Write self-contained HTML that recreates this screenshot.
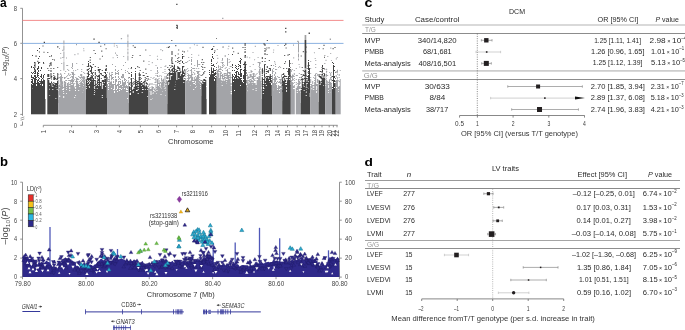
<!DOCTYPE html>
<html><head><meta charset="utf-8"><style>
html,body{margin:0;padding:0;background:#fff;}
body{width:685px;height:330px;overflow:hidden;}
svg{display:block;font-family:"Liberation Sans",sans-serif;will-change:transform;}
</style></head><body>
<svg width="685" height="330" viewBox="0 0 685 330">
<text x="0.0" y="6.7" font-size="12" fill="#000" font-weight="bold">a</text>
<text x="-0.1" y="165.9" font-size="12" fill="#000" font-weight="bold" textLength="8.0" lengthAdjust="spacingAndGlyphs">b</text>
<text x="364.6" y="6.8" font-size="12.6" fill="#000" font-weight="bold" textLength="8.0" lengthAdjust="spacingAndGlyphs">c</text>
<text x="364.5" y="166.0" font-size="11.4" fill="#000" font-weight="bold" textLength="8.4" lengthAdjust="spacingAndGlyphs">d</text>
<line x1="22.50" y1="8.30" x2="22.50" y2="115.80" stroke="#777" stroke-width="0.8"/>
<line x1="20.30" y1="8.30" x2="22.50" y2="8.30" stroke="#777" stroke-width="0.8"/>
<text x="13.7" y="10.6" font-size="6.5" fill="#444" textLength="3.3" lengthAdjust="spacingAndGlyphs">8</text>
<line x1="20.30" y1="43.30" x2="22.50" y2="43.30" stroke="#777" stroke-width="0.8"/>
<text x="13.7" y="45.6" font-size="6.5" fill="#444" textLength="3.3" lengthAdjust="spacingAndGlyphs">6</text>
<line x1="20.30" y1="78.60" x2="22.50" y2="78.60" stroke="#777" stroke-width="0.8"/>
<text x="13.7" y="80.9" font-size="6.5" fill="#444" textLength="3.3" lengthAdjust="spacingAndGlyphs">4</text>
<line x1="20.30" y1="114.40" x2="22.50" y2="114.40" stroke="#777" stroke-width="0.8"/>
<text x="13.7" y="116.7" font-size="6.5" fill="#444" textLength="3.3" lengthAdjust="spacingAndGlyphs">2</text>
<line x1="22.50" y1="121.50" x2="22.50" y2="125.30" stroke="#777" stroke-width="0.8"/>
<line x1="20.30" y1="125.30" x2="22.50" y2="125.30" stroke="#777" stroke-width="0.8"/>
<text x="13.7" y="127.6" font-size="6.5" fill="#444" textLength="3.3" lengthAdjust="spacingAndGlyphs">0</text>
<path d="M20.6 118.2 L24.3 116.9 M20.6 120.2 L24.3 118.9" stroke="#777" stroke-width="0.7" fill="none"/>
<text transform="translate(7.0 75.5) rotate(-90)" font-size="7.6" fill="#3a3a3a" textLength="29" lengthAdjust="spacingAndGlyphs">–log<tspan font-size="5.6" dy="1.8">10</tspan><tspan dy="-1.8">(</tspan><tspan font-style="italic">P</tspan>)</text>
<line x1="22.50" y1="20.40" x2="343.50" y2="20.40" stroke="#f08080" stroke-width="0.9"/>
<line x1="22.50" y1="43.40" x2="343.50" y2="43.40" stroke="#7fa8dc" stroke-width="0.9"/>
<line x1="43.30" y1="125.30" x2="337.70" y2="125.30" stroke="#777" stroke-width="0.8"/>
<line x1="43.30" y1="125.30" x2="43.30" y2="127.30" stroke="#777" stroke-width="0.8"/>
<text transform="translate(45.7 133.3) rotate(-90)" font-size="6.6" fill="#444" textLength="3.3" lengthAdjust="spacingAndGlyphs">1</text>
<line x1="71.60" y1="125.30" x2="71.60" y2="127.30" stroke="#777" stroke-width="0.8"/>
<text transform="translate(74.0 133.3) rotate(-90)" font-size="6.6" fill="#444" textLength="3.3" lengthAdjust="spacingAndGlyphs">2</text>
<line x1="96.40" y1="125.30" x2="96.40" y2="127.30" stroke="#777" stroke-width="0.8"/>
<text transform="translate(98.8 133.3) rotate(-90)" font-size="6.6" fill="#444" textLength="3.3" lengthAdjust="spacingAndGlyphs">3</text>
<line x1="119.40" y1="125.30" x2="119.40" y2="127.30" stroke="#777" stroke-width="0.8"/>
<text transform="translate(121.8 133.3) rotate(-90)" font-size="6.6" fill="#444" textLength="3.3" lengthAdjust="spacingAndGlyphs">4</text>
<line x1="140.40" y1="125.30" x2="140.40" y2="127.30" stroke="#777" stroke-width="0.8"/>
<text transform="translate(142.8 133.3) rotate(-90)" font-size="6.6" fill="#444" textLength="3.3" lengthAdjust="spacingAndGlyphs">5</text>
<line x1="158.50" y1="125.30" x2="158.50" y2="127.30" stroke="#777" stroke-width="0.8"/>
<text transform="translate(160.9 133.3) rotate(-90)" font-size="6.6" fill="#444" textLength="3.3" lengthAdjust="spacingAndGlyphs">6</text>
<line x1="176.60" y1="125.30" x2="176.60" y2="127.30" stroke="#777" stroke-width="0.8"/>
<text transform="translate(179.0 133.3) rotate(-90)" font-size="6.6" fill="#444" textLength="3.3" lengthAdjust="spacingAndGlyphs">7</text>
<line x1="192.40" y1="125.30" x2="192.40" y2="127.30" stroke="#777" stroke-width="0.8"/>
<text transform="translate(194.8 133.3) rotate(-90)" font-size="6.6" fill="#444" textLength="3.3" lengthAdjust="spacingAndGlyphs">8</text>
<line x1="211.60" y1="125.30" x2="211.60" y2="127.30" stroke="#777" stroke-width="0.8"/>
<text transform="translate(214.0 133.3) rotate(-90)" font-size="6.6" fill="#444" textLength="3.3" lengthAdjust="spacingAndGlyphs">9</text>
<line x1="225.50" y1="125.30" x2="225.50" y2="127.30" stroke="#777" stroke-width="0.8"/>
<text transform="translate(227.9 136.5) rotate(-90)" font-size="6.6" fill="#444" textLength="6.5" lengthAdjust="spacingAndGlyphs">10</text>
<line x1="238.50" y1="125.30" x2="238.50" y2="127.30" stroke="#777" stroke-width="0.8"/>
<text transform="translate(240.9 136.5) rotate(-90)" font-size="6.6" fill="#444" textLength="6.5" lengthAdjust="spacingAndGlyphs">11</text>
<line x1="254.50" y1="125.30" x2="254.50" y2="127.30" stroke="#777" stroke-width="0.8"/>
<text transform="translate(256.9 136.5) rotate(-90)" font-size="6.6" fill="#444" textLength="6.5" lengthAdjust="spacingAndGlyphs">12</text>
<line x1="267.60" y1="125.30" x2="267.60" y2="127.30" stroke="#777" stroke-width="0.8"/>
<text transform="translate(270.0 136.5) rotate(-90)" font-size="6.6" fill="#444" textLength="6.5" lengthAdjust="spacingAndGlyphs">13</text>
<line x1="277.60" y1="125.30" x2="277.60" y2="127.30" stroke="#777" stroke-width="0.8"/>
<text transform="translate(280.0 136.5) rotate(-90)" font-size="6.6" fill="#444" textLength="6.5" lengthAdjust="spacingAndGlyphs">14</text>
<line x1="287.50" y1="125.30" x2="287.50" y2="127.30" stroke="#777" stroke-width="0.8"/>
<text transform="translate(289.9 136.5) rotate(-90)" font-size="6.6" fill="#444" textLength="6.5" lengthAdjust="spacingAndGlyphs">15</text>
<line x1="297.20" y1="125.30" x2="297.20" y2="127.30" stroke="#777" stroke-width="0.8"/>
<text transform="translate(299.6 136.5) rotate(-90)" font-size="6.6" fill="#444" textLength="6.5" lengthAdjust="spacingAndGlyphs">16</text>
<line x1="305.60" y1="125.30" x2="305.60" y2="127.30" stroke="#777" stroke-width="0.8"/>
<text transform="translate(308.0 136.5) rotate(-90)" font-size="6.6" fill="#444" textLength="6.5" lengthAdjust="spacingAndGlyphs">17</text>
<line x1="314.30" y1="125.30" x2="314.30" y2="127.30" stroke="#777" stroke-width="0.8"/>
<text transform="translate(316.7 136.5) rotate(-90)" font-size="6.6" fill="#444" textLength="6.5" lengthAdjust="spacingAndGlyphs">18</text>
<line x1="322.00" y1="125.30" x2="322.00" y2="127.30" stroke="#777" stroke-width="0.8"/>
<text transform="translate(324.4 136.5) rotate(-90)" font-size="6.6" fill="#444" textLength="6.5" lengthAdjust="spacingAndGlyphs">19</text>
<line x1="329.20" y1="125.30" x2="329.20" y2="127.30" stroke="#777" stroke-width="0.8"/>
<text transform="translate(331.6 136.5) rotate(-90)" font-size="6.6" fill="#444" textLength="6.5" lengthAdjust="spacingAndGlyphs">20</text>
<line x1="333.40" y1="125.30" x2="333.40" y2="127.30" stroke="#777" stroke-width="0.8"/>
<text transform="translate(335.8 136.5) rotate(-90)" font-size="6.6" fill="#444" textLength="6.5" lengthAdjust="spacingAndGlyphs">21</text>
<line x1="337.00" y1="125.30" x2="337.00" y2="127.30" stroke="#777" stroke-width="0.8"/>
<text transform="translate(339.4 136.5) rotate(-90)" font-size="6.6" fill="#444" textLength="6.5" lengthAdjust="spacingAndGlyphs">22</text>
<text x="167.9" y="144.4" font-size="8.0" fill="#333" textLength="45.6" lengthAdjust="spacingAndGlyphs">Chromosome</text>
<rect x="31.00" y="99.00" width="14.50" height="15.30" fill="#434343"/>
<rect x="47.30" y="103.00" width="10.90" height="11.30" fill="#434343"/>
<rect x="58.20" y="100.00" width="27.60" height="14.30" fill="#a3a4a8"/>
<rect x="85.80" y="98.00" width="21.20" height="16.30" fill="#434343"/>
<rect x="107.00" y="103.00" width="21.70" height="11.30" fill="#a3a4a8"/>
<rect x="128.70" y="104.00" width="19.80" height="10.30" fill="#434343"/>
<rect x="148.50" y="104.00" width="18.80" height="10.30" fill="#a3a4a8"/>
<rect x="167.30" y="91.00" width="17.90" height="23.30" fill="#434343"/>
<rect x="185.20" y="96.00" width="16.10" height="18.30" fill="#a3a4a8"/>
<rect x="201.30" y="99.00" width="5.30" height="15.30" fill="#434343"/>
<rect x="209.00" y="93.00" width="7.70" height="21.30" fill="#434343"/>
<rect x="216.70" y="95.00" width="15.30" height="19.30" fill="#a3a4a8"/>
<rect x="232.00" y="93.00" width="14.60" height="21.30" fill="#434343"/>
<rect x="246.60" y="99.00" width="15.20" height="15.30" fill="#a3a4a8"/>
<rect x="261.80" y="96.00" width="10.30" height="18.30" fill="#434343"/>
<rect x="272.10" y="101.00" width="10.10" height="13.30" fill="#a3a4a8"/>
<rect x="282.20" y="97.00" width="8.60" height="17.30" fill="#434343"/>
<rect x="290.80" y="103.00" width="4.00" height="11.30" fill="#a3a4a8"/>
<rect x="295.80" y="103.00" width="4.90" height="11.30" fill="#a3a4a8"/>
<rect x="300.70" y="97.00" width="9.50" height="17.30" fill="#434343"/>
<rect x="310.20" y="102.00" width="8.40" height="12.30" fill="#a3a4a8"/>
<rect x="318.60" y="95.00" width="6.60" height="19.30" fill="#434343"/>
<rect x="325.20" y="102.00" width="6.80" height="12.30" fill="#a3a4a8"/>
<rect x="332.00" y="98.00" width="3.70" height="16.30" fill="#434343"/>
<rect x="335.70" y="102.00" width="5.00" height="12.30" fill="#a3a4a8"/>
<path fill="#434343" d="M31.0 98.0h1.0v1.0h-1.0zM31.0 97.0h1.0v1.0h-1.0zM31.0 96.0h1.0v1.0h-1.0zM31.0 95.0h1.0v1.0h-1.0zM31.0 94.0h1.0v1.0h-1.0zM31.0 93.0h1.0v1.0h-1.0zM31.0 92.0h1.0v1.0h-1.0zM31.0 91.0h1.0v1.0h-1.0zM31.0 90.0h1.0v1.0h-1.0zM31.0 89.0h1.0v1.0h-1.0zM31.0 88.0h1.0v1.0h-1.0zM31.0 87.0h1.0v1.0h-1.0zM31.0 86.0h1.0v1.0h-1.0zM31.0 85.0h1.0v1.0h-1.0zM31.0 84.0h1.0v1.0h-1.0zM31.0 82.0h1.0v1.0h-1.0zM31.0 81.0h1.0v1.0h-1.0zM31.0 79.0h1.0v1.0h-1.0zM31.0 77.0h1.0v1.0h-1.0zM31.0 76.0h1.0v1.0h-1.0zM31.0 75.0h1.0v1.0h-1.0zM31.0 72.0h1.0v1.0h-1.0zM31.0 67.0h1.0v1.0h-1.0zM31.0 66.0h1.0v1.0h-1.0zM32.0 98.0h1.0v1.0h-1.0zM32.0 97.0h1.0v1.0h-1.0zM32.0 96.0h1.0v1.0h-1.0zM32.0 95.0h1.0v1.0h-1.0zM32.0 94.0h1.0v1.0h-1.0zM32.0 93.0h1.0v1.0h-1.0zM32.0 92.0h1.0v1.0h-1.0zM32.0 91.0h1.0v1.0h-1.0zM32.0 90.0h1.0v1.0h-1.0zM32.0 89.0h1.0v1.0h-1.0zM32.0 86.0h1.0v1.0h-1.0zM32.0 85.0h1.0v1.0h-1.0zM32.0 83.0h1.0v1.0h-1.0zM32.0 82.0h1.0v1.0h-1.0zM32.0 81.0h1.0v1.0h-1.0zM32.0 80.0h1.0v1.0h-1.0zM32.0 79.0h1.0v1.0h-1.0zM32.0 77.0h1.0v1.0h-1.0zM32.0 73.0h1.0v1.0h-1.0zM32.0 55.0h1.0v1.0h-1.0zM33.0 98.0h1.0v1.0h-1.0zM33.0 97.0h1.0v1.0h-1.0zM33.0 96.0h1.0v1.0h-1.0zM33.0 95.0h1.0v1.0h-1.0zM33.0 94.0h1.0v1.0h-1.0zM33.0 93.0h1.0v1.0h-1.0zM33.0 92.0h1.0v1.0h-1.0zM33.0 91.0h1.0v1.0h-1.0zM33.0 90.0h1.0v1.0h-1.0zM33.0 89.0h1.0v1.0h-1.0zM33.0 88.0h1.0v1.0h-1.0zM33.0 87.0h1.0v1.0h-1.0zM33.0 86.0h1.0v1.0h-1.0zM33.0 85.0h1.0v1.0h-1.0zM33.0 84.0h1.0v1.0h-1.0zM33.0 83.0h1.0v1.0h-1.0zM33.0 78.0h1.0v1.0h-1.0zM33.0 77.0h1.0v1.0h-1.0zM33.0 72.0h1.0v1.0h-1.0zM33.0 67.0h1.0v1.0h-1.0zM34.0 98.0h1.0v1.0h-1.0zM34.0 97.0h1.0v1.0h-1.0zM34.0 96.0h1.0v1.0h-1.0zM34.0 95.0h1.0v1.0h-1.0zM34.0 94.0h1.0v1.0h-1.0zM34.0 93.0h1.0v1.0h-1.0zM34.0 92.0h1.0v1.0h-1.0zM34.0 91.0h1.0v1.0h-1.0zM34.0 90.0h1.0v1.0h-1.0zM34.0 89.0h1.0v1.0h-1.0zM34.0 88.0h1.0v1.0h-1.0zM34.0 87.0h1.0v1.0h-1.0zM34.0 86.0h1.0v1.0h-1.0zM34.0 85.0h1.0v1.0h-1.0zM34.0 84.0h1.0v1.0h-1.0zM34.0 80.0h1.0v1.0h-1.0zM34.0 79.0h1.0v1.0h-1.0zM35.0 98.0h1.0v1.0h-1.0zM35.0 97.0h1.0v1.0h-1.0zM35.0 96.0h1.0v1.0h-1.0zM35.0 95.0h1.0v1.0h-1.0zM35.0 94.0h1.0v1.0h-1.0zM35.0 93.0h1.0v1.0h-1.0zM35.0 92.0h1.0v1.0h-1.0zM35.0 91.0h1.0v1.0h-1.0zM35.0 90.0h1.0v1.0h-1.0zM35.0 89.0h1.0v1.0h-1.0zM35.0 88.0h1.0v1.0h-1.0zM35.0 87.0h1.0v1.0h-1.0zM35.0 86.0h1.0v1.0h-1.0zM35.0 85.0h1.0v1.0h-1.0zM35.0 84.0h1.0v1.0h-1.0zM35.0 83.0h1.0v1.0h-1.0zM35.0 82.0h1.0v1.0h-1.0zM35.0 81.0h1.0v1.0h-1.0zM35.0 80.0h1.0v1.0h-1.0zM35.0 79.0h1.0v1.0h-1.0zM35.0 78.0h1.0v1.0h-1.0zM35.0 77.0h1.0v1.0h-1.0zM35.0 76.0h1.0v1.0h-1.0zM35.0 75.0h1.0v1.0h-1.0zM35.0 73.0h1.0v1.0h-1.0zM35.0 72.0h1.0v1.0h-1.0zM35.0 71.0h1.0v1.0h-1.0zM35.0 70.0h1.0v1.0h-1.0zM36.0 98.0h1.0v1.0h-1.0zM36.0 97.0h1.0v1.0h-1.0zM36.0 96.0h1.0v1.0h-1.0zM36.0 95.0h1.0v1.0h-1.0zM36.0 94.0h1.0v1.0h-1.0zM36.0 93.0h1.0v1.0h-1.0zM36.0 92.0h1.0v1.0h-1.0zM36.0 91.0h1.0v1.0h-1.0zM36.0 90.0h1.0v1.0h-1.0zM36.0 89.0h1.0v1.0h-1.0zM36.0 88.0h1.0v1.0h-1.0zM36.0 87.0h1.0v1.0h-1.0zM36.0 86.0h1.0v1.0h-1.0zM36.0 83.0h1.0v1.0h-1.0zM36.0 79.0h1.0v1.0h-1.0zM36.0 77.0h1.0v1.0h-1.0zM37.0 98.0h1.0v1.0h-1.0zM37.0 97.0h1.0v1.0h-1.0zM37.0 96.0h1.0v1.0h-1.0zM37.0 95.0h1.0v1.0h-1.0zM37.0 94.0h1.0v1.0h-1.0zM37.0 93.0h1.0v1.0h-1.0zM37.0 92.0h1.0v1.0h-1.0zM37.0 91.0h1.0v1.0h-1.0zM37.0 90.0h1.0v1.0h-1.0zM37.0 89.0h1.0v1.0h-1.0zM37.0 88.0h1.0v1.0h-1.0zM37.0 87.0h1.0v1.0h-1.0zM37.0 86.0h1.0v1.0h-1.0zM37.0 85.0h1.0v1.0h-1.0zM37.0 84.0h1.0v1.0h-1.0zM37.0 83.0h1.0v1.0h-1.0zM37.0 82.0h1.0v1.0h-1.0zM37.0 80.0h1.0v1.0h-1.0zM37.0 76.0h1.0v1.0h-1.0zM37.0 75.0h1.0v1.0h-1.0zM37.0 74.0h1.0v1.0h-1.0zM37.0 73.0h1.0v1.0h-1.0zM37.0 72.0h1.0v1.0h-1.0zM37.0 69.0h1.0v1.0h-1.0zM37.0 68.0h1.0v1.0h-1.0zM37.0 50.0h1.0v1.0h-1.0zM38.0 98.0h1.0v1.0h-1.0zM38.0 97.0h1.0v1.0h-1.0zM38.0 96.0h1.0v1.0h-1.0zM38.0 95.0h1.0v1.0h-1.0zM38.0 94.0h1.0v1.0h-1.0zM38.0 93.0h1.0v1.0h-1.0zM38.0 92.0h1.0v1.0h-1.0zM38.0 91.0h1.0v1.0h-1.0zM38.0 90.0h1.0v1.0h-1.0zM38.0 88.0h1.0v1.0h-1.0zM38.0 87.0h1.0v1.0h-1.0zM38.0 86.0h1.0v1.0h-1.0zM38.0 85.0h1.0v1.0h-1.0zM38.0 82.0h1.0v1.0h-1.0zM38.0 79.0h1.0v1.0h-1.0zM38.0 68.0h1.0v1.0h-1.0zM38.0 58.0h1.0v1.0h-1.0zM39.0 98.0h1.0v1.0h-1.0zM39.0 97.0h1.0v1.0h-1.0zM39.0 96.0h1.0v1.0h-1.0zM39.0 95.0h1.0v1.0h-1.0zM39.0 94.0h1.0v1.0h-1.0zM39.0 93.0h1.0v1.0h-1.0zM39.0 92.0h1.0v1.0h-1.0zM39.0 91.0h1.0v1.0h-1.0zM39.0 90.0h1.0v1.0h-1.0zM39.0 89.0h1.0v1.0h-1.0zM39.0 88.0h1.0v1.0h-1.0zM39.0 87.0h1.0v1.0h-1.0zM39.0 86.0h1.0v1.0h-1.0zM39.0 85.0h1.0v1.0h-1.0zM39.0 84.0h1.0v1.0h-1.0zM39.0 83.0h1.0v1.0h-1.0zM39.0 81.0h1.0v1.0h-1.0zM39.0 78.0h1.0v1.0h-1.0zM39.0 56.0h1.0v1.0h-1.0zM39.0 48.0h1.0v1.0h-1.0zM40.0 98.0h1.0v1.0h-1.0zM40.0 97.0h1.0v1.0h-1.0zM40.0 96.0h1.0v1.0h-1.0zM40.0 95.0h1.0v1.0h-1.0zM40.0 94.0h1.0v1.0h-1.0zM40.0 93.0h1.0v1.0h-1.0zM40.0 92.0h1.0v1.0h-1.0zM40.0 91.0h1.0v1.0h-1.0zM40.0 90.0h1.0v1.0h-1.0zM40.0 89.0h1.0v1.0h-1.0zM40.0 88.0h1.0v1.0h-1.0zM40.0 87.0h1.0v1.0h-1.0zM40.0 86.0h1.0v1.0h-1.0zM40.0 85.0h1.0v1.0h-1.0zM40.0 81.0h1.0v1.0h-1.0zM40.0 76.0h1.0v1.0h-1.0zM40.0 70.0h1.0v1.0h-1.0zM41.0 98.0h1.0v1.0h-1.0zM41.0 97.0h1.0v1.0h-1.0zM41.0 96.0h1.0v1.0h-1.0zM41.0 95.0h1.0v1.0h-1.0zM41.0 94.0h1.0v1.0h-1.0zM41.0 93.0h1.0v1.0h-1.0zM41.0 92.0h1.0v1.0h-1.0zM41.0 91.0h1.0v1.0h-1.0zM41.0 90.0h1.0v1.0h-1.0zM41.0 89.0h1.0v1.0h-1.0zM41.0 88.0h1.0v1.0h-1.0zM41.0 87.0h1.0v1.0h-1.0zM41.0 86.0h1.0v1.0h-1.0zM41.0 85.0h1.0v1.0h-1.0zM41.0 84.0h1.0v1.0h-1.0zM41.0 83.0h1.0v1.0h-1.0zM41.0 82.0h1.0v1.0h-1.0zM41.0 81.0h1.0v1.0h-1.0zM41.0 80.0h1.0v1.0h-1.0zM41.0 79.0h1.0v1.0h-1.0zM41.0 77.0h1.0v1.0h-1.0zM41.0 76.0h1.0v1.0h-1.0zM41.0 75.0h1.0v1.0h-1.0zM41.0 74.0h1.0v1.0h-1.0zM41.0 68.0h1.0v1.0h-1.0zM41.0 67.0h1.0v1.0h-1.0zM42.0 98.0h1.0v1.0h-1.0zM42.0 97.0h1.0v1.0h-1.0zM42.0 96.0h1.0v1.0h-1.0zM42.0 95.0h1.0v1.0h-1.0zM42.0 94.0h1.0v1.0h-1.0zM42.0 93.0h1.0v1.0h-1.0zM42.0 92.0h1.0v1.0h-1.0zM42.0 91.0h1.0v1.0h-1.0zM42.0 90.0h1.0v1.0h-1.0zM42.0 89.0h1.0v1.0h-1.0zM42.0 88.0h1.0v1.0h-1.0zM42.0 87.0h1.0v1.0h-1.0zM42.0 86.0h1.0v1.0h-1.0zM42.0 83.0h1.0v1.0h-1.0zM42.0 82.0h1.0v1.0h-1.0zM42.0 81.0h1.0v1.0h-1.0zM42.0 78.0h1.0v1.0h-1.0zM43.0 98.0h1.0v1.0h-1.0zM43.0 97.0h1.0v1.0h-1.0zM43.0 96.0h1.0v1.0h-1.0zM43.0 95.0h1.0v1.0h-1.0zM43.0 94.0h1.0v1.0h-1.0zM43.0 93.0h1.0v1.0h-1.0zM43.0 92.0h1.0v1.0h-1.0zM43.0 91.0h1.0v1.0h-1.0zM43.0 90.0h1.0v1.0h-1.0zM43.0 89.0h1.0v1.0h-1.0zM43.0 88.0h1.0v1.0h-1.0zM43.0 87.0h1.0v1.0h-1.0zM43.0 86.0h1.0v1.0h-1.0zM43.0 84.0h1.0v1.0h-1.0zM43.0 83.0h1.0v1.0h-1.0zM43.0 81.0h1.0v1.0h-1.0zM43.0 80.0h1.0v1.0h-1.0zM43.0 77.0h1.0v1.0h-1.0zM43.0 76.0h1.0v1.0h-1.0zM43.0 75.0h1.0v1.0h-1.0zM43.0 62.0h1.0v1.0h-1.0zM44.0 98.0h1.0v1.0h-1.0zM44.0 97.0h1.0v1.0h-1.0zM44.0 96.0h1.0v1.0h-1.0zM44.0 95.0h1.0v1.0h-1.0zM44.0 94.0h1.0v1.0h-1.0zM44.0 93.0h1.0v1.0h-1.0zM44.0 92.0h1.0v1.0h-1.0zM44.0 91.0h1.0v1.0h-1.0zM44.0 90.0h1.0v1.0h-1.0zM44.0 89.0h1.0v1.0h-1.0zM44.0 87.0h1.0v1.0h-1.0zM44.0 86.0h1.0v1.0h-1.0zM44.0 85.0h1.0v1.0h-1.0zM44.0 84.0h1.0v1.0h-1.0zM44.0 82.0h1.0v1.0h-1.0zM44.0 81.0h1.0v1.0h-1.0zM44.0 80.0h1.0v1.0h-1.0zM44.0 74.0h1.0v1.0h-1.0zM44.0 83.0h1.0v1.0h-1.0zM44.0 84.0h1.0v1.0h-1.0zM44.0 85.0h1.0v1.0h-1.0zM44.0 86.0h1.0v1.0h-1.0zM44.0 87.0h1.0v1.0h-1.0zM44.0 88.0h1.0v1.0h-1.0zM44.0 89.0h1.0v1.0h-1.0zM44.0 90.0h1.0v1.0h-1.0zM44.0 92.0h1.0v1.0h-1.0zM44.0 93.0h1.0v1.0h-1.0zM44.0 94.0h1.0v1.0h-1.0zM40.0 82.2h1.0v1.0h-1.0zM40.0 83.2h1.0v1.0h-1.0zM40.0 85.2h1.0v1.0h-1.0zM40.0 86.2h1.0v1.0h-1.0zM40.0 87.2h1.0v1.0h-1.0zM40.0 88.2h1.0v1.0h-1.0zM40.0 89.2h1.0v1.0h-1.0zM40.0 90.2h1.0v1.0h-1.0zM40.0 91.2h1.0v1.0h-1.0zM40.0 92.2h1.0v1.0h-1.0zM37.0 81.0h1.0v1.0h-1.0zM37.0 83.0h1.0v1.0h-1.0zM37.0 84.0h1.0v1.0h-1.0zM37.0 85.0h1.0v1.0h-1.0zM37.0 86.0h1.0v1.0h-1.0zM37.0 89.0h1.0v1.0h-1.0zM37.0 90.0h1.0v1.0h-1.0zM37.0 92.0h1.0v1.0h-1.0zM37.0 93.0h1.0v1.0h-1.0zM43.0 80.0h1.0v1.0h-1.0zM43.0 82.0h1.0v1.0h-1.0zM43.0 83.0h1.0v1.0h-1.0zM43.0 84.0h1.0v1.0h-1.0zM43.0 85.0h1.0v1.0h-1.0zM43.0 86.0h1.0v1.0h-1.0zM43.0 88.0h1.0v1.0h-1.0zM43.0 89.0h1.0v1.0h-1.0zM43.0 90.0h1.0v1.0h-1.0zM43.0 91.0h1.0v1.0h-1.0zM43.0 92.0h1.0v1.0h-1.0zM43.0 93.0h1.0v1.0h-1.0zM38.0 62.0h1.0v1.0h-1.0zM38.0 63.0h1.0v1.0h-1.0zM38.0 66.0h1.0v1.0h-1.0zM38.0 67.0h1.0v1.0h-1.0zM38.0 70.0h1.0v1.0h-1.0zM38.0 71.0h1.0v1.0h-1.0zM38.0 73.0h1.0v1.0h-1.0zM38.0 75.0h1.0v1.0h-1.0zM38.0 77.0h1.0v1.0h-1.0zM38.0 79.0h1.0v1.0h-1.0zM38.0 80.0h1.0v1.0h-1.0zM38.0 83.0h1.0v1.0h-1.0zM38.0 84.0h1.0v1.0h-1.0zM38.0 85.0h1.0v1.0h-1.0zM38.0 86.0h1.0v1.0h-1.0zM38.0 87.0h1.0v1.0h-1.0zM38.0 88.0h1.0v1.0h-1.0zM38.0 89.0h1.0v1.0h-1.0zM38.0 92.0h1.0v1.0h-1.0zM38.0 93.0h1.0v1.0h-1.0zM41.0 84.7h1.0v1.0h-1.0zM41.0 85.7h1.0v1.0h-1.0zM41.0 86.7h1.0v1.0h-1.0zM41.0 87.7h1.0v1.0h-1.0zM41.0 88.7h1.0v1.0h-1.0zM41.0 89.7h1.0v1.0h-1.0zM41.0 90.7h1.0v1.0h-1.0zM41.0 91.7h1.0v1.0h-1.0zM41.0 93.7h1.0v1.0h-1.0zM37.0 83.8h1.0v1.0h-1.0zM37.0 84.8h1.0v1.0h-1.0zM37.0 85.8h1.0v1.0h-1.0zM37.0 88.8h1.0v1.0h-1.0zM37.0 89.8h1.0v1.0h-1.0zM37.0 90.8h1.0v1.0h-1.0zM37.0 91.8h1.0v1.0h-1.0zM37.0 92.8h1.0v1.0h-1.0zM37.0 93.8h1.0v1.0h-1.0zM32.0 78.7h1.0v1.0h-1.0zM32.0 79.7h1.0v1.0h-1.0zM32.0 80.7h1.0v1.0h-1.0zM32.0 81.7h1.0v1.0h-1.0zM32.0 84.7h1.0v1.0h-1.0zM32.0 85.7h1.0v1.0h-1.0zM32.0 86.7h1.0v1.0h-1.0zM32.0 87.7h1.0v1.0h-1.0zM32.0 89.7h1.0v1.0h-1.0zM34.0 62.0h1.0v1.0h-1.0zM34.0 65.0h1.0v1.0h-1.0zM34.0 68.0h1.0v1.0h-1.0zM34.0 69.0h1.0v1.0h-1.0zM34.0 71.0h1.0v1.0h-1.0zM34.0 73.0h1.0v1.0h-1.0zM34.0 75.0h1.0v1.0h-1.0zM34.0 76.0h1.0v1.0h-1.0zM34.0 78.0h1.0v1.0h-1.0zM34.0 79.0h1.0v1.0h-1.0zM34.0 80.0h1.0v1.0h-1.0zM34.0 81.0h1.0v1.0h-1.0zM34.0 82.0h1.0v1.0h-1.0zM34.0 83.0h1.0v1.0h-1.0zM34.0 84.0h1.0v1.0h-1.0zM34.0 88.0h1.0v1.0h-1.0zM34.0 90.0h1.0v1.0h-1.0zM34.0 91.0h1.0v1.0h-1.0zM34.0 92.0h1.0v1.0h-1.0zM34.0 93.0h1.0v1.0h-1.0zM43.0 76.7h1.0v1.0h-1.0zM43.0 78.7h1.0v1.0h-1.0zM43.0 80.7h1.0v1.0h-1.0zM43.0 81.7h1.0v1.0h-1.0zM43.0 83.7h1.0v1.0h-1.0zM43.0 85.7h1.0v1.0h-1.0zM43.0 86.7h1.0v1.0h-1.0zM43.0 88.7h1.0v1.0h-1.0zM43.0 89.7h1.0v1.0h-1.0zM43.0 91.7h1.0v1.0h-1.0zM43.0 93.7h1.0v1.0h-1.0zM47.3 102.0h1.0v1.0h-1.0zM47.3 101.0h1.0v1.0h-1.0zM47.3 100.0h1.0v1.0h-1.0zM47.3 99.0h1.0v1.0h-1.0zM47.3 98.0h1.0v1.0h-1.0zM47.3 97.0h1.0v1.0h-1.0zM47.3 96.0h1.0v1.0h-1.0zM47.3 95.0h1.0v1.0h-1.0zM47.3 94.0h1.0v1.0h-1.0zM47.3 93.0h1.0v1.0h-1.0zM47.3 92.0h1.0v1.0h-1.0zM47.3 91.0h1.0v1.0h-1.0zM47.3 90.0h1.0v1.0h-1.0zM47.3 89.0h1.0v1.0h-1.0zM47.3 88.0h1.0v1.0h-1.0zM47.3 87.0h1.0v1.0h-1.0zM47.3 86.0h1.0v1.0h-1.0zM47.3 85.0h1.0v1.0h-1.0zM47.3 84.0h1.0v1.0h-1.0zM47.3 83.0h1.0v1.0h-1.0zM47.3 82.0h1.0v1.0h-1.0zM47.3 81.0h1.0v1.0h-1.0zM47.3 80.0h1.0v1.0h-1.0zM47.3 79.0h1.0v1.0h-1.0zM47.3 78.0h1.0v1.0h-1.0zM47.3 76.0h1.0v1.0h-1.0zM47.3 75.0h1.0v1.0h-1.0zM47.3 74.0h1.0v1.0h-1.0zM47.3 68.0h1.0v1.0h-1.0zM47.3 52.0h1.0v1.0h-1.0zM48.3 102.0h1.0v1.0h-1.0zM48.3 101.0h1.0v1.0h-1.0zM48.3 100.0h1.0v1.0h-1.0zM48.3 99.0h1.0v1.0h-1.0zM48.3 98.0h1.0v1.0h-1.0zM48.3 97.0h1.0v1.0h-1.0zM48.3 96.0h1.0v1.0h-1.0zM48.3 95.0h1.0v1.0h-1.0zM48.3 94.0h1.0v1.0h-1.0zM48.3 93.0h1.0v1.0h-1.0zM48.3 92.0h1.0v1.0h-1.0zM48.3 91.0h1.0v1.0h-1.0zM48.3 90.0h1.0v1.0h-1.0zM48.3 89.0h1.0v1.0h-1.0zM48.3 88.0h1.0v1.0h-1.0zM48.3 87.0h1.0v1.0h-1.0zM48.3 86.0h1.0v1.0h-1.0zM48.3 85.0h1.0v1.0h-1.0zM48.3 84.0h1.0v1.0h-1.0zM48.3 83.0h1.0v1.0h-1.0zM48.3 82.0h1.0v1.0h-1.0zM48.3 81.0h1.0v1.0h-1.0zM48.3 80.0h1.0v1.0h-1.0zM48.3 78.0h1.0v1.0h-1.0zM48.3 76.0h1.0v1.0h-1.0zM48.3 75.0h1.0v1.0h-1.0zM48.3 74.0h1.0v1.0h-1.0zM48.3 70.0h1.0v1.0h-1.0zM49.3 102.0h1.0v1.0h-1.0zM49.3 101.0h1.0v1.0h-1.0zM49.3 100.0h1.0v1.0h-1.0zM49.3 99.0h1.0v1.0h-1.0zM49.3 98.0h1.0v1.0h-1.0zM49.3 97.0h1.0v1.0h-1.0zM49.3 94.0h1.0v1.0h-1.0zM49.3 93.0h1.0v1.0h-1.0zM49.3 92.0h1.0v1.0h-1.0zM49.3 91.0h1.0v1.0h-1.0zM49.3 84.0h1.0v1.0h-1.0zM49.3 83.0h1.0v1.0h-1.0zM49.3 78.0h1.0v1.0h-1.0zM49.3 56.0h1.0v1.0h-1.0zM50.3 102.0h1.0v1.0h-1.0zM50.3 101.0h1.0v1.0h-1.0zM50.3 100.0h1.0v1.0h-1.0zM50.3 99.0h1.0v1.0h-1.0zM50.3 98.0h1.0v1.0h-1.0zM50.3 97.0h1.0v1.0h-1.0zM50.3 96.0h1.0v1.0h-1.0zM50.3 95.0h1.0v1.0h-1.0zM50.3 94.0h1.0v1.0h-1.0zM50.3 93.0h1.0v1.0h-1.0zM50.3 92.0h1.0v1.0h-1.0zM50.3 90.0h1.0v1.0h-1.0zM50.3 89.0h1.0v1.0h-1.0zM50.3 88.0h1.0v1.0h-1.0zM50.3 85.0h1.0v1.0h-1.0zM50.3 83.0h1.0v1.0h-1.0zM51.3 102.0h1.0v1.0h-1.0zM51.3 101.0h1.0v1.0h-1.0zM51.3 100.0h1.0v1.0h-1.0zM51.3 99.0h1.0v1.0h-1.0zM51.3 98.0h1.0v1.0h-1.0zM51.3 97.0h1.0v1.0h-1.0zM51.3 96.0h1.0v1.0h-1.0zM51.3 95.0h1.0v1.0h-1.0zM51.3 94.0h1.0v1.0h-1.0zM51.3 93.0h1.0v1.0h-1.0zM51.3 92.0h1.0v1.0h-1.0zM51.3 91.0h1.0v1.0h-1.0zM51.3 90.0h1.0v1.0h-1.0zM51.3 89.0h1.0v1.0h-1.0zM51.3 88.0h1.0v1.0h-1.0zM51.3 87.0h1.0v1.0h-1.0zM51.3 86.0h1.0v1.0h-1.0zM51.3 76.0h1.0v1.0h-1.0zM52.3 102.0h1.0v1.0h-1.0zM52.3 101.0h1.0v1.0h-1.0zM52.3 100.0h1.0v1.0h-1.0zM52.3 99.0h1.0v1.0h-1.0zM52.3 98.0h1.0v1.0h-1.0zM52.3 97.0h1.0v1.0h-1.0zM52.3 96.0h1.0v1.0h-1.0zM52.3 95.0h1.0v1.0h-1.0zM52.3 94.0h1.0v1.0h-1.0zM52.3 93.0h1.0v1.0h-1.0zM52.3 92.0h1.0v1.0h-1.0zM52.3 91.0h1.0v1.0h-1.0zM52.3 90.0h1.0v1.0h-1.0zM52.3 88.0h1.0v1.0h-1.0zM52.3 87.0h1.0v1.0h-1.0zM52.3 85.0h1.0v1.0h-1.0zM52.3 84.0h1.0v1.0h-1.0zM52.3 83.0h1.0v1.0h-1.0zM52.3 59.0h1.0v1.0h-1.0zM53.3 102.0h1.0v1.0h-1.0zM53.3 101.0h1.0v1.0h-1.0zM53.3 100.0h1.0v1.0h-1.0zM53.3 99.0h1.0v1.0h-1.0zM53.3 98.0h1.0v1.0h-1.0zM53.3 97.0h1.0v1.0h-1.0zM53.3 96.0h1.0v1.0h-1.0zM53.3 95.0h1.0v1.0h-1.0zM53.3 94.0h1.0v1.0h-1.0zM53.3 93.0h1.0v1.0h-1.0zM53.3 92.0h1.0v1.0h-1.0zM53.3 91.0h1.0v1.0h-1.0zM53.3 90.0h1.0v1.0h-1.0zM53.3 89.0h1.0v1.0h-1.0zM53.3 88.0h1.0v1.0h-1.0zM53.3 87.0h1.0v1.0h-1.0zM53.3 86.0h1.0v1.0h-1.0zM53.3 85.0h1.0v1.0h-1.0zM53.3 84.0h1.0v1.0h-1.0zM53.3 82.0h1.0v1.0h-1.0zM53.3 79.0h1.0v1.0h-1.0zM53.3 78.0h1.0v1.0h-1.0zM53.3 77.0h1.0v1.0h-1.0zM53.3 75.0h1.0v1.0h-1.0zM53.3 73.0h1.0v1.0h-1.0zM53.3 68.0h1.0v1.0h-1.0zM54.3 102.0h1.0v1.0h-1.0zM54.3 101.0h1.0v1.0h-1.0zM54.3 100.0h1.0v1.0h-1.0zM54.3 99.0h1.0v1.0h-1.0zM54.3 98.0h1.0v1.0h-1.0zM54.3 97.0h1.0v1.0h-1.0zM54.3 96.0h1.0v1.0h-1.0zM54.3 95.0h1.0v1.0h-1.0zM54.3 94.0h1.0v1.0h-1.0zM54.3 93.0h1.0v1.0h-1.0zM54.3 92.0h1.0v1.0h-1.0zM54.3 91.0h1.0v1.0h-1.0zM54.3 90.0h1.0v1.0h-1.0zM54.3 89.0h1.0v1.0h-1.0zM54.3 88.0h1.0v1.0h-1.0zM54.3 87.0h1.0v1.0h-1.0zM54.3 86.0h1.0v1.0h-1.0zM54.3 85.0h1.0v1.0h-1.0zM54.3 83.0h1.0v1.0h-1.0zM54.3 79.0h1.0v1.0h-1.0zM54.3 78.0h1.0v1.0h-1.0zM54.3 77.0h1.0v1.0h-1.0zM54.3 76.0h1.0v1.0h-1.0zM55.3 102.0h1.0v1.0h-1.0zM55.3 101.0h1.0v1.0h-1.0zM55.3 100.0h1.0v1.0h-1.0zM55.3 99.0h1.0v1.0h-1.0zM55.3 97.0h1.0v1.0h-1.0zM55.3 96.0h1.0v1.0h-1.0zM55.3 95.0h1.0v1.0h-1.0zM55.3 94.0h1.0v1.0h-1.0zM55.3 93.0h1.0v1.0h-1.0zM55.3 92.0h1.0v1.0h-1.0zM55.3 91.0h1.0v1.0h-1.0zM55.3 90.0h1.0v1.0h-1.0zM55.3 88.0h1.0v1.0h-1.0zM55.3 86.0h1.0v1.0h-1.0zM55.3 84.0h1.0v1.0h-1.0zM55.3 83.0h1.0v1.0h-1.0zM55.3 78.0h1.0v1.0h-1.0zM56.3 102.0h1.0v1.0h-1.0zM56.3 101.0h1.0v1.0h-1.0zM56.3 100.0h1.0v1.0h-1.0zM56.3 99.0h1.0v1.0h-1.0zM56.3 98.0h1.0v1.0h-1.0zM56.3 97.0h1.0v1.0h-1.0zM56.3 96.0h1.0v1.0h-1.0zM56.3 95.0h1.0v1.0h-1.0zM56.3 94.0h1.0v1.0h-1.0zM56.3 93.0h1.0v1.0h-1.0zM56.3 92.0h1.0v1.0h-1.0zM56.3 91.0h1.0v1.0h-1.0zM56.3 90.0h1.0v1.0h-1.0zM56.3 89.0h1.0v1.0h-1.0zM56.3 88.0h1.0v1.0h-1.0zM56.3 87.0h1.0v1.0h-1.0zM56.3 86.0h1.0v1.0h-1.0zM56.3 85.0h1.0v1.0h-1.0zM56.3 84.0h1.0v1.0h-1.0zM56.3 83.0h1.0v1.0h-1.0zM56.3 79.0h1.0v1.0h-1.0zM57.3 102.0h0.9v1.0h-0.9zM57.3 101.0h0.9v1.0h-0.9zM57.3 100.0h0.9v1.0h-0.9zM57.3 99.0h0.9v1.0h-0.9zM57.3 98.0h0.9v1.0h-0.9zM57.3 97.0h0.9v1.0h-0.9zM57.3 96.0h0.9v1.0h-0.9zM57.3 95.0h0.9v1.0h-0.9zM57.3 94.0h0.9v1.0h-0.9zM57.3 93.0h0.9v1.0h-0.9zM57.3 92.0h0.9v1.0h-0.9zM57.3 91.0h0.9v1.0h-0.9zM57.3 90.0h0.9v1.0h-0.9zM57.3 88.0h0.9v1.0h-0.9zM57.3 87.0h0.9v1.0h-0.9zM57.3 86.0h0.9v1.0h-0.9zM57.3 85.0h0.9v1.0h-0.9zM57.3 84.0h0.9v1.0h-0.9zM57.3 83.0h0.9v1.0h-0.9zM57.3 78.0h0.9v1.0h-0.9zM57.3 77.0h0.9v1.0h-0.9zM57.3 76.0h0.9v1.0h-0.9zM57.3 75.0h0.9v1.0h-0.9zM57.3 74.0h0.9v1.0h-0.9zM57.3 73.0h0.9v1.0h-0.9zM57.3 67.0h0.9v1.0h-0.9zM57.0 77.8h1.0v1.0h-1.0zM57.0 78.8h1.0v1.0h-1.0zM57.0 80.8h1.0v1.0h-1.0zM57.0 81.8h1.0v1.0h-1.0zM57.0 82.8h1.0v1.0h-1.0zM57.0 83.8h1.0v1.0h-1.0zM57.0 84.8h1.0v1.0h-1.0zM57.0 85.8h1.0v1.0h-1.0zM57.0 86.8h1.0v1.0h-1.0zM57.0 87.8h1.0v1.0h-1.0zM57.0 89.8h1.0v1.0h-1.0zM57.0 91.8h1.0v1.0h-1.0zM57.0 92.8h1.0v1.0h-1.0zM57.0 94.8h1.0v1.0h-1.0zM49.0 82.7h1.0v1.0h-1.0zM49.0 85.7h1.0v1.0h-1.0zM49.0 86.7h1.0v1.0h-1.0zM49.0 87.7h1.0v1.0h-1.0zM49.0 89.7h1.0v1.0h-1.0zM49.0 90.7h1.0v1.0h-1.0zM49.0 91.7h1.0v1.0h-1.0zM49.0 92.7h1.0v1.0h-1.0zM49.0 93.7h1.0v1.0h-1.0zM49.0 95.7h1.0v1.0h-1.0zM49.0 96.7h1.0v1.0h-1.0zM50.0 83.2h1.0v1.0h-1.0zM50.0 84.2h1.0v1.0h-1.0zM50.0 86.2h1.0v1.0h-1.0zM50.0 87.2h1.0v1.0h-1.0zM50.0 88.2h1.0v1.0h-1.0zM50.0 89.2h1.0v1.0h-1.0zM50.0 91.2h1.0v1.0h-1.0zM50.0 93.2h1.0v1.0h-1.0zM50.0 96.2h1.0v1.0h-1.0zM50.0 97.2h1.0v1.0h-1.0zM50.0 85.3h1.0v1.0h-1.0zM50.0 86.3h1.0v1.0h-1.0zM50.0 90.3h1.0v1.0h-1.0zM50.0 91.3h1.0v1.0h-1.0zM50.0 93.3h1.0v1.0h-1.0zM50.0 95.3h1.0v1.0h-1.0zM50.0 97.3h1.0v1.0h-1.0zM55.0 84.2h1.0v1.0h-1.0zM55.0 85.2h1.0v1.0h-1.0zM55.0 87.2h1.0v1.0h-1.0zM55.0 88.2h1.0v1.0h-1.0zM55.0 89.2h1.0v1.0h-1.0zM55.0 91.2h1.0v1.0h-1.0zM55.0 92.2h1.0v1.0h-1.0zM55.0 93.2h1.0v1.0h-1.0zM55.0 94.2h1.0v1.0h-1.0zM55.0 97.2h1.0v1.0h-1.0zM48.0 87.2h1.0v1.0h-1.0zM48.0 88.2h1.0v1.0h-1.0zM48.0 89.2h1.0v1.0h-1.0zM48.0 90.2h1.0v1.0h-1.0zM48.0 91.2h1.0v1.0h-1.0zM48.0 94.2h1.0v1.0h-1.0zM48.0 95.2h1.0v1.0h-1.0zM48.0 96.2h1.0v1.0h-1.0zM51.0 76.5h1.0v1.0h-1.0zM51.0 78.5h1.0v1.0h-1.0zM51.0 81.5h1.0v1.0h-1.0zM51.0 82.5h1.0v1.0h-1.0zM51.0 84.5h1.0v1.0h-1.0zM51.0 86.5h1.0v1.0h-1.0zM51.0 87.5h1.0v1.0h-1.0zM51.0 89.5h1.0v1.0h-1.0zM51.0 90.5h1.0v1.0h-1.0zM51.0 91.5h1.0v1.0h-1.0zM51.0 92.5h1.0v1.0h-1.0zM51.0 93.5h1.0v1.0h-1.0zM51.0 94.5h1.0v1.0h-1.0zM51.0 95.5h1.0v1.0h-1.0zM51.0 96.5h1.0v1.0h-1.0zM51.0 97.5h1.0v1.0h-1.0zM85.8 97.0h1.0v1.0h-1.0zM85.8 96.0h1.0v1.0h-1.0zM85.8 95.0h1.0v1.0h-1.0zM85.8 94.0h1.0v1.0h-1.0zM85.8 93.0h1.0v1.0h-1.0zM85.8 92.0h1.0v1.0h-1.0zM85.8 91.0h1.0v1.0h-1.0zM85.8 90.0h1.0v1.0h-1.0zM85.8 89.0h1.0v1.0h-1.0zM85.8 87.0h1.0v1.0h-1.0zM85.8 84.0h1.0v1.0h-1.0zM85.8 83.0h1.0v1.0h-1.0zM85.8 82.0h1.0v1.0h-1.0zM85.8 80.0h1.0v1.0h-1.0zM86.8 97.0h1.0v1.0h-1.0zM86.8 96.0h1.0v1.0h-1.0zM86.8 95.0h1.0v1.0h-1.0zM86.8 94.0h1.0v1.0h-1.0zM86.8 93.0h1.0v1.0h-1.0zM86.8 92.0h1.0v1.0h-1.0zM86.8 91.0h1.0v1.0h-1.0zM86.8 90.0h1.0v1.0h-1.0zM86.8 89.0h1.0v1.0h-1.0zM86.8 88.0h1.0v1.0h-1.0zM86.8 87.0h1.0v1.0h-1.0zM86.8 86.0h1.0v1.0h-1.0zM86.8 85.0h1.0v1.0h-1.0zM86.8 84.0h1.0v1.0h-1.0zM86.8 83.0h1.0v1.0h-1.0zM86.8 81.0h1.0v1.0h-1.0zM86.8 79.0h1.0v1.0h-1.0zM86.8 78.0h1.0v1.0h-1.0zM86.8 77.0h1.0v1.0h-1.0zM86.8 76.0h1.0v1.0h-1.0zM86.8 73.0h1.0v1.0h-1.0zM86.8 70.0h1.0v1.0h-1.0zM86.8 69.0h1.0v1.0h-1.0zM86.8 66.0h1.0v1.0h-1.0zM87.8 97.0h1.0v1.0h-1.0zM87.8 96.0h1.0v1.0h-1.0zM87.8 95.0h1.0v1.0h-1.0zM87.8 94.0h1.0v1.0h-1.0zM87.8 93.0h1.0v1.0h-1.0zM87.8 92.0h1.0v1.0h-1.0zM87.8 91.0h1.0v1.0h-1.0zM87.8 90.0h1.0v1.0h-1.0zM87.8 89.0h1.0v1.0h-1.0zM87.8 88.0h1.0v1.0h-1.0zM87.8 87.0h1.0v1.0h-1.0zM87.8 86.0h1.0v1.0h-1.0zM87.8 85.0h1.0v1.0h-1.0zM87.8 83.0h1.0v1.0h-1.0zM87.8 82.0h1.0v1.0h-1.0zM87.8 80.0h1.0v1.0h-1.0zM87.8 79.0h1.0v1.0h-1.0zM87.8 78.0h1.0v1.0h-1.0zM87.8 76.0h1.0v1.0h-1.0zM87.8 74.0h1.0v1.0h-1.0zM87.8 72.0h1.0v1.0h-1.0zM88.8 97.0h1.0v1.0h-1.0zM88.8 96.0h1.0v1.0h-1.0zM88.8 95.0h1.0v1.0h-1.0zM88.8 94.0h1.0v1.0h-1.0zM88.8 93.0h1.0v1.0h-1.0zM88.8 92.0h1.0v1.0h-1.0zM88.8 91.0h1.0v1.0h-1.0zM88.8 90.0h1.0v1.0h-1.0zM88.8 89.0h1.0v1.0h-1.0zM88.8 88.0h1.0v1.0h-1.0zM88.8 85.0h1.0v1.0h-1.0zM88.8 84.0h1.0v1.0h-1.0zM88.8 81.0h1.0v1.0h-1.0zM88.8 79.0h1.0v1.0h-1.0zM88.8 78.0h1.0v1.0h-1.0zM88.8 74.0h1.0v1.0h-1.0zM88.8 68.0h1.0v1.0h-1.0zM89.8 97.0h1.0v1.0h-1.0zM89.8 96.0h1.0v1.0h-1.0zM89.8 95.0h1.0v1.0h-1.0zM89.8 94.0h1.0v1.0h-1.0zM89.8 93.0h1.0v1.0h-1.0zM89.8 92.0h1.0v1.0h-1.0zM89.8 91.0h1.0v1.0h-1.0zM89.8 90.0h1.0v1.0h-1.0zM89.8 89.0h1.0v1.0h-1.0zM89.8 88.0h1.0v1.0h-1.0zM89.8 87.0h1.0v1.0h-1.0zM89.8 86.0h1.0v1.0h-1.0zM89.8 85.0h1.0v1.0h-1.0zM89.8 84.0h1.0v1.0h-1.0zM89.8 83.0h1.0v1.0h-1.0zM89.8 82.0h1.0v1.0h-1.0zM89.8 80.0h1.0v1.0h-1.0zM89.8 79.0h1.0v1.0h-1.0zM89.8 78.0h1.0v1.0h-1.0zM89.8 77.0h1.0v1.0h-1.0zM89.8 71.0h1.0v1.0h-1.0zM89.8 70.0h1.0v1.0h-1.0zM89.8 66.0h1.0v1.0h-1.0zM89.8 65.0h1.0v1.0h-1.0zM89.8 62.0h1.0v1.0h-1.0zM89.8 57.0h1.0v1.0h-1.0zM90.8 97.0h1.0v1.0h-1.0zM90.8 96.0h1.0v1.0h-1.0zM90.8 95.0h1.0v1.0h-1.0zM90.8 94.0h1.0v1.0h-1.0zM90.8 93.0h1.0v1.0h-1.0zM90.8 92.0h1.0v1.0h-1.0zM90.8 91.0h1.0v1.0h-1.0zM90.8 90.0h1.0v1.0h-1.0zM90.8 89.0h1.0v1.0h-1.0zM90.8 88.0h1.0v1.0h-1.0zM90.8 87.0h1.0v1.0h-1.0zM90.8 86.0h1.0v1.0h-1.0zM90.8 85.0h1.0v1.0h-1.0zM90.8 84.0h1.0v1.0h-1.0zM90.8 83.0h1.0v1.0h-1.0zM90.8 82.0h1.0v1.0h-1.0zM90.8 81.0h1.0v1.0h-1.0zM90.8 80.0h1.0v1.0h-1.0zM90.8 79.0h1.0v1.0h-1.0zM90.8 78.0h1.0v1.0h-1.0zM90.8 77.0h1.0v1.0h-1.0zM90.8 76.0h1.0v1.0h-1.0zM90.8 75.0h1.0v1.0h-1.0zM90.8 73.0h1.0v1.0h-1.0zM90.8 71.0h1.0v1.0h-1.0zM90.8 66.0h1.0v1.0h-1.0zM91.8 97.0h1.0v1.0h-1.0zM91.8 96.0h1.0v1.0h-1.0zM91.8 95.0h1.0v1.0h-1.0zM91.8 94.0h1.0v1.0h-1.0zM91.8 93.0h1.0v1.0h-1.0zM91.8 92.0h1.0v1.0h-1.0zM91.8 91.0h1.0v1.0h-1.0zM91.8 90.0h1.0v1.0h-1.0zM91.8 89.0h1.0v1.0h-1.0zM91.8 88.0h1.0v1.0h-1.0zM91.8 87.0h1.0v1.0h-1.0zM91.8 86.0h1.0v1.0h-1.0zM91.8 85.0h1.0v1.0h-1.0zM91.8 84.0h1.0v1.0h-1.0zM91.8 83.0h1.0v1.0h-1.0zM91.8 81.0h1.0v1.0h-1.0zM91.8 80.0h1.0v1.0h-1.0zM91.8 67.0h1.0v1.0h-1.0zM92.8 97.0h1.0v1.0h-1.0zM92.8 96.0h1.0v1.0h-1.0zM92.8 95.0h1.0v1.0h-1.0zM92.8 94.0h1.0v1.0h-1.0zM92.8 93.0h1.0v1.0h-1.0zM92.8 92.0h1.0v1.0h-1.0zM92.8 91.0h1.0v1.0h-1.0zM92.8 90.0h1.0v1.0h-1.0zM92.8 89.0h1.0v1.0h-1.0zM92.8 88.0h1.0v1.0h-1.0zM92.8 87.0h1.0v1.0h-1.0zM92.8 86.0h1.0v1.0h-1.0zM92.8 85.0h1.0v1.0h-1.0zM92.8 84.0h1.0v1.0h-1.0zM92.8 82.0h1.0v1.0h-1.0zM92.8 80.0h1.0v1.0h-1.0zM92.8 79.0h1.0v1.0h-1.0zM92.8 78.0h1.0v1.0h-1.0zM92.8 75.0h1.0v1.0h-1.0zM92.8 72.0h1.0v1.0h-1.0zM92.8 64.0h1.0v1.0h-1.0zM93.8 97.0h1.0v1.0h-1.0zM93.8 96.0h1.0v1.0h-1.0zM93.8 95.0h1.0v1.0h-1.0zM93.8 93.0h1.0v1.0h-1.0zM93.8 91.0h1.0v1.0h-1.0zM93.8 89.0h1.0v1.0h-1.0zM93.8 85.0h1.0v1.0h-1.0zM93.8 80.0h1.0v1.0h-1.0zM94.8 97.0h1.0v1.0h-1.0zM94.8 96.0h1.0v1.0h-1.0zM94.8 95.0h1.0v1.0h-1.0zM94.8 94.0h1.0v1.0h-1.0zM94.8 93.0h1.0v1.0h-1.0zM94.8 92.0h1.0v1.0h-1.0zM94.8 91.0h1.0v1.0h-1.0zM94.8 90.0h1.0v1.0h-1.0zM94.8 89.0h1.0v1.0h-1.0zM94.8 88.0h1.0v1.0h-1.0zM94.8 87.0h1.0v1.0h-1.0zM94.8 86.0h1.0v1.0h-1.0zM94.8 85.0h1.0v1.0h-1.0zM94.8 84.0h1.0v1.0h-1.0zM94.8 83.0h1.0v1.0h-1.0zM94.8 82.0h1.0v1.0h-1.0zM94.8 81.0h1.0v1.0h-1.0zM94.8 80.0h1.0v1.0h-1.0zM94.8 78.0h1.0v1.0h-1.0zM94.8 77.0h1.0v1.0h-1.0zM94.8 76.0h1.0v1.0h-1.0zM94.8 74.0h1.0v1.0h-1.0zM94.8 73.0h1.0v1.0h-1.0zM94.8 72.0h1.0v1.0h-1.0zM94.8 70.0h1.0v1.0h-1.0zM94.8 66.0h1.0v1.0h-1.0zM94.8 53.0h1.0v1.0h-1.0zM95.8 97.0h1.0v1.0h-1.0zM95.8 96.0h1.0v1.0h-1.0zM95.8 95.0h1.0v1.0h-1.0zM95.8 94.0h1.0v1.0h-1.0zM95.8 93.0h1.0v1.0h-1.0zM95.8 92.0h1.0v1.0h-1.0zM95.8 90.0h1.0v1.0h-1.0zM95.8 89.0h1.0v1.0h-1.0zM95.8 87.0h1.0v1.0h-1.0zM95.8 84.0h1.0v1.0h-1.0zM95.8 75.0h1.0v1.0h-1.0zM96.8 97.0h1.0v1.0h-1.0zM96.8 96.0h1.0v1.0h-1.0zM96.8 95.0h1.0v1.0h-1.0zM96.8 94.0h1.0v1.0h-1.0zM96.8 93.0h1.0v1.0h-1.0zM96.8 92.0h1.0v1.0h-1.0zM96.8 91.0h1.0v1.0h-1.0zM96.8 90.0h1.0v1.0h-1.0zM96.8 89.0h1.0v1.0h-1.0zM96.8 87.0h1.0v1.0h-1.0zM96.8 86.0h1.0v1.0h-1.0zM96.8 83.0h1.0v1.0h-1.0zM96.8 81.0h1.0v1.0h-1.0zM96.8 76.0h1.0v1.0h-1.0zM97.8 97.0h1.0v1.0h-1.0zM97.8 96.0h1.0v1.0h-1.0zM97.8 95.0h1.0v1.0h-1.0zM97.8 94.0h1.0v1.0h-1.0zM97.8 93.0h1.0v1.0h-1.0zM97.8 92.0h1.0v1.0h-1.0zM97.8 91.0h1.0v1.0h-1.0zM97.8 90.0h1.0v1.0h-1.0zM97.8 89.0h1.0v1.0h-1.0zM97.8 88.0h1.0v1.0h-1.0zM97.8 87.0h1.0v1.0h-1.0zM97.8 86.0h1.0v1.0h-1.0zM97.8 84.0h1.0v1.0h-1.0zM97.8 82.0h1.0v1.0h-1.0zM97.8 80.0h1.0v1.0h-1.0zM97.8 79.0h1.0v1.0h-1.0zM97.8 76.0h1.0v1.0h-1.0zM97.8 75.0h1.0v1.0h-1.0zM97.8 70.0h1.0v1.0h-1.0zM97.8 69.0h1.0v1.0h-1.0zM97.8 67.0h1.0v1.0h-1.0zM98.8 97.0h1.0v1.0h-1.0zM98.8 96.0h1.0v1.0h-1.0zM98.8 95.0h1.0v1.0h-1.0zM98.8 94.0h1.0v1.0h-1.0zM98.8 93.0h1.0v1.0h-1.0zM98.8 92.0h1.0v1.0h-1.0zM98.8 91.0h1.0v1.0h-1.0zM98.8 90.0h1.0v1.0h-1.0zM98.8 89.0h1.0v1.0h-1.0zM98.8 88.0h1.0v1.0h-1.0zM98.8 87.0h1.0v1.0h-1.0zM98.8 86.0h1.0v1.0h-1.0zM98.8 85.0h1.0v1.0h-1.0zM98.8 84.0h1.0v1.0h-1.0zM98.8 83.0h1.0v1.0h-1.0zM98.8 82.0h1.0v1.0h-1.0zM98.8 81.0h1.0v1.0h-1.0zM98.8 80.0h1.0v1.0h-1.0zM98.8 79.0h1.0v1.0h-1.0zM98.8 78.0h1.0v1.0h-1.0zM98.8 77.0h1.0v1.0h-1.0zM98.8 76.0h1.0v1.0h-1.0zM98.8 72.0h1.0v1.0h-1.0zM98.8 71.0h1.0v1.0h-1.0zM98.8 70.0h1.0v1.0h-1.0zM98.8 69.0h1.0v1.0h-1.0zM99.8 97.0h1.0v1.0h-1.0zM99.8 96.0h1.0v1.0h-1.0zM99.8 95.0h1.0v1.0h-1.0zM99.8 94.0h1.0v1.0h-1.0zM99.8 93.0h1.0v1.0h-1.0zM99.8 92.0h1.0v1.0h-1.0zM99.8 91.0h1.0v1.0h-1.0zM99.8 90.0h1.0v1.0h-1.0zM99.8 89.0h1.0v1.0h-1.0zM99.8 88.0h1.0v1.0h-1.0zM99.8 87.0h1.0v1.0h-1.0zM99.8 86.0h1.0v1.0h-1.0zM99.8 82.0h1.0v1.0h-1.0zM99.8 73.0h1.0v1.0h-1.0zM99.8 69.0h1.0v1.0h-1.0zM100.8 97.0h1.0v1.0h-1.0zM100.8 96.0h1.0v1.0h-1.0zM100.8 95.0h1.0v1.0h-1.0zM100.8 94.0h1.0v1.0h-1.0zM100.8 93.0h1.0v1.0h-1.0zM100.8 92.0h1.0v1.0h-1.0zM100.8 91.0h1.0v1.0h-1.0zM100.8 90.0h1.0v1.0h-1.0zM100.8 89.0h1.0v1.0h-1.0zM100.8 88.0h1.0v1.0h-1.0zM100.8 87.0h1.0v1.0h-1.0zM100.8 86.0h1.0v1.0h-1.0zM100.8 85.0h1.0v1.0h-1.0zM100.8 84.0h1.0v1.0h-1.0zM100.8 83.0h1.0v1.0h-1.0zM100.8 82.0h1.0v1.0h-1.0zM100.8 78.0h1.0v1.0h-1.0zM100.8 74.0h1.0v1.0h-1.0zM100.8 73.0h1.0v1.0h-1.0zM101.8 96.0h1.0v1.0h-1.0zM101.8 94.0h1.0v1.0h-1.0zM101.8 93.0h1.0v1.0h-1.0zM101.8 92.0h1.0v1.0h-1.0zM101.8 91.0h1.0v1.0h-1.0zM101.8 90.0h1.0v1.0h-1.0zM101.8 89.0h1.0v1.0h-1.0zM101.8 81.0h1.0v1.0h-1.0zM101.8 80.0h1.0v1.0h-1.0zM101.8 75.0h1.0v1.0h-1.0zM101.8 70.0h1.0v1.0h-1.0zM102.8 97.0h1.0v1.0h-1.0zM102.8 96.0h1.0v1.0h-1.0zM102.8 95.0h1.0v1.0h-1.0zM102.8 94.0h1.0v1.0h-1.0zM102.8 93.0h1.0v1.0h-1.0zM102.8 92.0h1.0v1.0h-1.0zM102.8 91.0h1.0v1.0h-1.0zM102.8 90.0h1.0v1.0h-1.0zM102.8 89.0h1.0v1.0h-1.0zM102.8 88.0h1.0v1.0h-1.0zM102.8 87.0h1.0v1.0h-1.0zM102.8 86.0h1.0v1.0h-1.0zM102.8 85.0h1.0v1.0h-1.0zM102.8 83.0h1.0v1.0h-1.0zM102.8 81.0h1.0v1.0h-1.0zM102.8 80.0h1.0v1.0h-1.0zM102.8 75.0h1.0v1.0h-1.0zM103.8 97.0h1.0v1.0h-1.0zM103.8 96.0h1.0v1.0h-1.0zM103.8 95.0h1.0v1.0h-1.0zM103.8 94.0h1.0v1.0h-1.0zM103.8 93.0h1.0v1.0h-1.0zM103.8 92.0h1.0v1.0h-1.0zM103.8 91.0h1.0v1.0h-1.0zM103.8 90.0h1.0v1.0h-1.0zM103.8 89.0h1.0v1.0h-1.0zM103.8 88.0h1.0v1.0h-1.0zM103.8 87.0h1.0v1.0h-1.0zM103.8 86.0h1.0v1.0h-1.0zM103.8 84.0h1.0v1.0h-1.0zM103.8 83.0h1.0v1.0h-1.0zM103.8 81.0h1.0v1.0h-1.0zM103.8 80.0h1.0v1.0h-1.0zM103.8 77.0h1.0v1.0h-1.0zM103.8 76.0h1.0v1.0h-1.0zM103.8 72.0h1.0v1.0h-1.0zM104.8 97.0h1.0v1.0h-1.0zM104.8 96.0h1.0v1.0h-1.0zM104.8 95.0h1.0v1.0h-1.0zM104.8 94.0h1.0v1.0h-1.0zM104.8 93.0h1.0v1.0h-1.0zM104.8 92.0h1.0v1.0h-1.0zM104.8 91.0h1.0v1.0h-1.0zM104.8 90.0h1.0v1.0h-1.0zM104.8 89.0h1.0v1.0h-1.0zM104.8 88.0h1.0v1.0h-1.0zM104.8 87.0h1.0v1.0h-1.0zM104.8 85.0h1.0v1.0h-1.0zM104.8 84.0h1.0v1.0h-1.0zM104.8 83.0h1.0v1.0h-1.0zM104.8 81.0h1.0v1.0h-1.0zM104.8 76.0h1.0v1.0h-1.0zM105.8 97.0h1.0v1.0h-1.0zM105.8 96.0h1.0v1.0h-1.0zM105.8 95.0h1.0v1.0h-1.0zM105.8 94.0h1.0v1.0h-1.0zM105.8 93.0h1.0v1.0h-1.0zM105.8 92.0h1.0v1.0h-1.0zM105.8 91.0h1.0v1.0h-1.0zM105.8 90.0h1.0v1.0h-1.0zM105.8 89.0h1.0v1.0h-1.0zM105.8 88.0h1.0v1.0h-1.0zM105.8 87.0h1.0v1.0h-1.0zM105.8 86.0h1.0v1.0h-1.0zM105.8 85.0h1.0v1.0h-1.0zM105.8 84.0h1.0v1.0h-1.0zM105.8 83.0h1.0v1.0h-1.0zM105.8 82.0h1.0v1.0h-1.0zM105.8 81.0h1.0v1.0h-1.0zM105.8 80.0h1.0v1.0h-1.0zM105.8 79.0h1.0v1.0h-1.0zM105.8 78.0h1.0v1.0h-1.0zM105.8 77.0h1.0v1.0h-1.0zM105.8 76.0h1.0v1.0h-1.0zM105.8 75.0h1.0v1.0h-1.0zM105.8 74.0h1.0v1.0h-1.0zM105.8 70.0h1.0v1.0h-1.0zM105.8 69.0h1.0v1.0h-1.0zM105.8 68.0h1.0v1.0h-1.0zM105.8 66.0h1.0v1.0h-1.0zM105.8 65.0h1.0v1.0h-1.0zM99.0 74.5h1.0v1.0h-1.0zM99.0 75.5h1.0v1.0h-1.0zM99.0 78.5h1.0v1.0h-1.0zM99.0 79.5h1.0v1.0h-1.0zM99.0 80.5h1.0v1.0h-1.0zM99.0 81.5h1.0v1.0h-1.0zM99.0 82.5h1.0v1.0h-1.0zM99.0 83.5h1.0v1.0h-1.0zM99.0 84.5h1.0v1.0h-1.0zM99.0 85.5h1.0v1.0h-1.0zM99.0 86.5h1.0v1.0h-1.0zM99.0 87.5h1.0v1.0h-1.0zM99.0 88.5h1.0v1.0h-1.0zM99.0 89.5h1.0v1.0h-1.0zM99.0 90.5h1.0v1.0h-1.0zM99.0 91.5h1.0v1.0h-1.0zM88.0 61.0h1.0v1.0h-1.0zM88.0 63.0h1.0v1.0h-1.0zM88.0 64.0h1.0v1.0h-1.0zM88.0 65.0h1.0v1.0h-1.0zM88.0 66.0h1.0v1.0h-1.0zM88.0 69.0h1.0v1.0h-1.0zM88.0 71.0h1.0v1.0h-1.0zM88.0 73.0h1.0v1.0h-1.0zM88.0 74.0h1.0v1.0h-1.0zM88.0 75.0h1.0v1.0h-1.0zM88.0 76.0h1.0v1.0h-1.0zM88.0 79.0h1.0v1.0h-1.0zM88.0 80.0h1.0v1.0h-1.0zM88.0 82.0h1.0v1.0h-1.0zM88.0 83.0h1.0v1.0h-1.0zM88.0 85.0h1.0v1.0h-1.0zM88.0 87.0h1.0v1.0h-1.0zM88.0 88.0h1.0v1.0h-1.0zM88.0 89.0h1.0v1.0h-1.0zM88.0 90.0h1.0v1.0h-1.0zM88.0 91.0h1.0v1.0h-1.0zM88.0 92.0h1.0v1.0h-1.0zM93.0 77.9h1.0v1.0h-1.0zM93.0 78.9h1.0v1.0h-1.0zM93.0 80.9h1.0v1.0h-1.0zM93.0 82.9h1.0v1.0h-1.0zM93.0 83.9h1.0v1.0h-1.0zM93.0 84.9h1.0v1.0h-1.0zM93.0 85.9h1.0v1.0h-1.0zM93.0 87.9h1.0v1.0h-1.0zM93.0 89.9h1.0v1.0h-1.0zM93.0 90.9h1.0v1.0h-1.0zM93.0 91.9h1.0v1.0h-1.0zM93.0 92.9h1.0v1.0h-1.0zM92.0 83.2h1.0v1.0h-1.0zM92.0 84.2h1.0v1.0h-1.0zM92.0 86.2h1.0v1.0h-1.0zM92.0 87.2h1.0v1.0h-1.0zM92.0 88.2h1.0v1.0h-1.0zM92.0 90.2h1.0v1.0h-1.0zM92.0 91.2h1.0v1.0h-1.0zM93.0 78.4h1.0v1.0h-1.0zM93.0 81.4h1.0v1.0h-1.0zM93.0 82.4h1.0v1.0h-1.0zM93.0 83.4h1.0v1.0h-1.0zM93.0 85.4h1.0v1.0h-1.0zM93.0 87.4h1.0v1.0h-1.0zM93.0 89.4h1.0v1.0h-1.0zM93.0 90.4h1.0v1.0h-1.0zM99.0 76.8h1.0v1.0h-1.0zM99.0 77.8h1.0v1.0h-1.0zM99.0 78.8h1.0v1.0h-1.0zM99.0 79.8h1.0v1.0h-1.0zM99.0 81.8h1.0v1.0h-1.0zM99.0 82.8h1.0v1.0h-1.0zM99.0 83.8h1.0v1.0h-1.0zM99.0 84.8h1.0v1.0h-1.0zM99.0 85.8h1.0v1.0h-1.0zM99.0 86.8h1.0v1.0h-1.0zM99.0 87.8h1.0v1.0h-1.0zM99.0 88.8h1.0v1.0h-1.0zM99.0 89.8h1.0v1.0h-1.0zM99.0 90.8h1.0v1.0h-1.0zM99.0 91.8h1.0v1.0h-1.0zM99.0 92.8h1.0v1.0h-1.0zM92.0 72.8h1.0v1.0h-1.0zM92.0 73.8h1.0v1.0h-1.0zM92.0 75.8h1.0v1.0h-1.0zM92.0 76.8h1.0v1.0h-1.0zM92.0 77.8h1.0v1.0h-1.0zM92.0 79.8h1.0v1.0h-1.0zM92.0 81.8h1.0v1.0h-1.0zM92.0 82.8h1.0v1.0h-1.0zM92.0 86.8h1.0v1.0h-1.0zM92.0 87.8h1.0v1.0h-1.0zM92.0 88.8h1.0v1.0h-1.0zM92.0 92.8h1.0v1.0h-1.0zM103.0 82.2h1.0v1.0h-1.0zM103.0 83.2h1.0v1.0h-1.0zM103.0 85.2h1.0v1.0h-1.0zM103.0 88.2h1.0v1.0h-1.0zM103.0 90.2h1.0v1.0h-1.0zM103.0 92.2h1.0v1.0h-1.0zM86.0 79.3h1.0v1.0h-1.0zM86.0 80.3h1.0v1.0h-1.0zM86.0 81.3h1.0v1.0h-1.0zM86.0 82.3h1.0v1.0h-1.0zM86.0 83.3h1.0v1.0h-1.0zM86.0 84.3h1.0v1.0h-1.0zM86.0 85.3h1.0v1.0h-1.0zM86.0 90.3h1.0v1.0h-1.0zM86.0 92.3h1.0v1.0h-1.0zM105.0 69.0h1.0v1.0h-1.0zM105.0 70.0h1.0v1.0h-1.0zM105.0 72.0h1.0v1.0h-1.0zM105.0 73.0h1.0v1.0h-1.0zM105.0 75.0h1.0v1.0h-1.0zM105.0 77.0h1.0v1.0h-1.0zM105.0 79.0h1.0v1.0h-1.0zM105.0 80.0h1.0v1.0h-1.0zM105.0 82.0h1.0v1.0h-1.0zM105.0 85.0h1.0v1.0h-1.0zM105.0 87.0h1.0v1.0h-1.0zM105.0 88.0h1.0v1.0h-1.0zM105.0 89.0h1.0v1.0h-1.0zM105.0 91.0h1.0v1.0h-1.0zM105.0 92.0h1.0v1.0h-1.0zM96.0 85.8h1.0v1.0h-1.0zM96.0 86.8h1.0v1.0h-1.0zM96.0 87.8h1.0v1.0h-1.0zM96.0 90.8h1.0v1.0h-1.0zM96.0 91.8h1.0v1.0h-1.0zM96.0 92.8h1.0v1.0h-1.0zM104.0 77.3h1.0v1.0h-1.0zM104.0 79.3h1.0v1.0h-1.0zM104.0 81.3h1.0v1.0h-1.0zM104.0 83.3h1.0v1.0h-1.0zM104.0 84.3h1.0v1.0h-1.0zM104.0 85.3h1.0v1.0h-1.0zM104.0 86.3h1.0v1.0h-1.0zM104.0 87.3h1.0v1.0h-1.0zM104.0 88.3h1.0v1.0h-1.0zM104.0 89.3h1.0v1.0h-1.0zM104.0 90.3h1.0v1.0h-1.0zM104.0 91.3h1.0v1.0h-1.0zM91.0 67.0h1.0v1.0h-1.0zM91.0 68.0h1.0v1.0h-1.0zM91.0 69.0h1.0v1.0h-1.0zM91.0 70.0h1.0v1.0h-1.0zM91.0 72.0h1.0v1.0h-1.0zM91.0 77.0h1.0v1.0h-1.0zM91.0 80.0h1.0v1.0h-1.0zM91.0 81.0h1.0v1.0h-1.0zM91.0 82.0h1.0v1.0h-1.0zM91.0 83.0h1.0v1.0h-1.0zM91.0 84.0h1.0v1.0h-1.0zM91.0 85.0h1.0v1.0h-1.0zM91.0 87.0h1.0v1.0h-1.0zM91.0 88.0h1.0v1.0h-1.0zM91.0 89.0h1.0v1.0h-1.0zM91.0 90.0h1.0v1.0h-1.0zM91.0 91.0h1.0v1.0h-1.0zM91.0 92.0h1.0v1.0h-1.0zM97.0 77.8h1.0v1.0h-1.0zM97.0 79.8h1.0v1.0h-1.0zM97.0 81.8h1.0v1.0h-1.0zM97.0 82.8h1.0v1.0h-1.0zM97.0 84.8h1.0v1.0h-1.0zM97.0 85.8h1.0v1.0h-1.0zM97.0 86.8h1.0v1.0h-1.0zM97.0 88.8h1.0v1.0h-1.0zM97.0 90.8h1.0v1.0h-1.0zM97.0 91.8h1.0v1.0h-1.0zM97.0 92.8h1.0v1.0h-1.0zM128.7 103.0h1.0v1.0h-1.0zM128.7 102.0h1.0v1.0h-1.0zM128.7 101.0h1.0v1.0h-1.0zM128.7 100.0h1.0v1.0h-1.0zM128.7 99.0h1.0v1.0h-1.0zM128.7 98.0h1.0v1.0h-1.0zM128.7 97.0h1.0v1.0h-1.0zM128.7 96.0h1.0v1.0h-1.0zM128.7 95.0h1.0v1.0h-1.0zM128.7 94.0h1.0v1.0h-1.0zM128.7 93.0h1.0v1.0h-1.0zM128.7 92.0h1.0v1.0h-1.0zM128.7 91.0h1.0v1.0h-1.0zM128.7 90.0h1.0v1.0h-1.0zM128.7 89.0h1.0v1.0h-1.0zM128.7 88.0h1.0v1.0h-1.0zM128.7 87.0h1.0v1.0h-1.0zM128.7 86.0h1.0v1.0h-1.0zM128.7 84.0h1.0v1.0h-1.0zM128.7 83.0h1.0v1.0h-1.0zM128.7 77.0h1.0v1.0h-1.0zM128.7 73.0h1.0v1.0h-1.0zM129.7 103.0h1.0v1.0h-1.0zM129.7 102.0h1.0v1.0h-1.0zM129.7 101.0h1.0v1.0h-1.0zM129.7 100.0h1.0v1.0h-1.0zM129.7 99.0h1.0v1.0h-1.0zM129.7 98.0h1.0v1.0h-1.0zM129.7 97.0h1.0v1.0h-1.0zM129.7 96.0h1.0v1.0h-1.0zM129.7 95.0h1.0v1.0h-1.0zM129.7 92.0h1.0v1.0h-1.0zM129.7 91.0h1.0v1.0h-1.0zM129.7 89.0h1.0v1.0h-1.0zM129.7 88.0h1.0v1.0h-1.0zM129.7 87.0h1.0v1.0h-1.0zM129.7 82.0h1.0v1.0h-1.0zM130.7 103.0h1.0v1.0h-1.0zM130.7 102.0h1.0v1.0h-1.0zM130.7 101.0h1.0v1.0h-1.0zM130.7 100.0h1.0v1.0h-1.0zM130.7 99.0h1.0v1.0h-1.0zM130.7 98.0h1.0v1.0h-1.0zM130.7 97.0h1.0v1.0h-1.0zM130.7 96.0h1.0v1.0h-1.0zM130.7 95.0h1.0v1.0h-1.0zM130.7 91.0h1.0v1.0h-1.0zM130.7 85.0h1.0v1.0h-1.0zM130.7 84.0h1.0v1.0h-1.0zM130.7 83.0h1.0v1.0h-1.0zM130.7 79.0h1.0v1.0h-1.0zM130.7 78.0h1.0v1.0h-1.0zM130.7 68.0h1.0v1.0h-1.0zM131.7 103.0h1.0v1.0h-1.0zM131.7 102.0h1.0v1.0h-1.0zM131.7 101.0h1.0v1.0h-1.0zM131.7 100.0h1.0v1.0h-1.0zM131.7 99.0h1.0v1.0h-1.0zM131.7 98.0h1.0v1.0h-1.0zM131.7 97.0h1.0v1.0h-1.0zM131.7 96.0h1.0v1.0h-1.0zM131.7 95.0h1.0v1.0h-1.0zM131.7 94.0h1.0v1.0h-1.0zM131.7 93.0h1.0v1.0h-1.0zM131.7 92.0h1.0v1.0h-1.0zM131.7 91.0h1.0v1.0h-1.0zM131.7 90.0h1.0v1.0h-1.0zM131.7 86.0h1.0v1.0h-1.0zM131.7 85.0h1.0v1.0h-1.0zM131.7 83.0h1.0v1.0h-1.0zM131.7 57.0h1.0v1.0h-1.0zM132.7 103.0h1.0v1.0h-1.0zM132.7 102.0h1.0v1.0h-1.0zM132.7 101.0h1.0v1.0h-1.0zM132.7 100.0h1.0v1.0h-1.0zM132.7 99.0h1.0v1.0h-1.0zM132.7 98.0h1.0v1.0h-1.0zM132.7 97.0h1.0v1.0h-1.0zM132.7 96.0h1.0v1.0h-1.0zM132.7 95.0h1.0v1.0h-1.0zM132.7 94.0h1.0v1.0h-1.0zM132.7 93.0h1.0v1.0h-1.0zM132.7 90.0h1.0v1.0h-1.0zM132.7 89.0h1.0v1.0h-1.0zM132.7 84.0h1.0v1.0h-1.0zM132.7 82.0h1.0v1.0h-1.0zM132.7 78.0h1.0v1.0h-1.0zM133.7 103.0h1.0v1.0h-1.0zM133.7 102.0h1.0v1.0h-1.0zM133.7 101.0h1.0v1.0h-1.0zM133.7 100.0h1.0v1.0h-1.0zM133.7 99.0h1.0v1.0h-1.0zM133.7 98.0h1.0v1.0h-1.0zM133.7 97.0h1.0v1.0h-1.0zM133.7 96.0h1.0v1.0h-1.0zM133.7 95.0h1.0v1.0h-1.0zM133.7 94.0h1.0v1.0h-1.0zM133.7 93.0h1.0v1.0h-1.0zM133.7 92.0h1.0v1.0h-1.0zM133.7 91.0h1.0v1.0h-1.0zM133.7 90.0h1.0v1.0h-1.0zM133.7 89.0h1.0v1.0h-1.0zM133.7 88.0h1.0v1.0h-1.0zM133.7 87.0h1.0v1.0h-1.0zM133.7 83.0h1.0v1.0h-1.0zM133.7 81.0h1.0v1.0h-1.0zM134.7 103.0h1.0v1.0h-1.0zM134.7 102.0h1.0v1.0h-1.0zM134.7 101.0h1.0v1.0h-1.0zM134.7 100.0h1.0v1.0h-1.0zM134.7 99.0h1.0v1.0h-1.0zM134.7 98.0h1.0v1.0h-1.0zM134.7 97.0h1.0v1.0h-1.0zM134.7 96.0h1.0v1.0h-1.0zM134.7 95.0h1.0v1.0h-1.0zM134.7 94.0h1.0v1.0h-1.0zM134.7 93.0h1.0v1.0h-1.0zM134.7 92.0h1.0v1.0h-1.0zM134.7 91.0h1.0v1.0h-1.0zM134.7 90.0h1.0v1.0h-1.0zM134.7 89.0h1.0v1.0h-1.0zM134.7 87.0h1.0v1.0h-1.0zM134.7 86.0h1.0v1.0h-1.0zM134.7 84.0h1.0v1.0h-1.0zM134.7 82.0h1.0v1.0h-1.0zM134.7 79.0h1.0v1.0h-1.0zM135.7 103.0h1.0v1.0h-1.0zM135.7 102.0h1.0v1.0h-1.0zM135.7 101.0h1.0v1.0h-1.0zM135.7 100.0h1.0v1.0h-1.0zM135.7 99.0h1.0v1.0h-1.0zM135.7 98.0h1.0v1.0h-1.0zM135.7 97.0h1.0v1.0h-1.0zM135.7 96.0h1.0v1.0h-1.0zM135.7 95.0h1.0v1.0h-1.0zM135.7 94.0h1.0v1.0h-1.0zM135.7 93.0h1.0v1.0h-1.0zM135.7 92.0h1.0v1.0h-1.0zM135.7 91.0h1.0v1.0h-1.0zM135.7 89.0h1.0v1.0h-1.0zM135.7 88.0h1.0v1.0h-1.0zM135.7 87.0h1.0v1.0h-1.0zM135.7 86.0h1.0v1.0h-1.0zM135.7 84.0h1.0v1.0h-1.0zM135.7 82.0h1.0v1.0h-1.0zM135.7 80.0h1.0v1.0h-1.0zM136.7 103.0h1.0v1.0h-1.0zM136.7 102.0h1.0v1.0h-1.0zM136.7 101.0h1.0v1.0h-1.0zM136.7 100.0h1.0v1.0h-1.0zM136.7 99.0h1.0v1.0h-1.0zM136.7 98.0h1.0v1.0h-1.0zM136.7 97.0h1.0v1.0h-1.0zM136.7 96.0h1.0v1.0h-1.0zM136.7 95.0h1.0v1.0h-1.0zM136.7 94.0h1.0v1.0h-1.0zM136.7 93.0h1.0v1.0h-1.0zM136.7 92.0h1.0v1.0h-1.0zM136.7 91.0h1.0v1.0h-1.0zM136.7 89.0h1.0v1.0h-1.0zM136.7 88.0h1.0v1.0h-1.0zM136.7 87.0h1.0v1.0h-1.0zM136.7 86.0h1.0v1.0h-1.0zM136.7 85.0h1.0v1.0h-1.0zM136.7 84.0h1.0v1.0h-1.0zM136.7 83.0h1.0v1.0h-1.0zM136.7 82.0h1.0v1.0h-1.0zM136.7 81.0h1.0v1.0h-1.0zM137.7 103.0h1.0v1.0h-1.0zM137.7 102.0h1.0v1.0h-1.0zM137.7 101.0h1.0v1.0h-1.0zM137.7 100.0h1.0v1.0h-1.0zM137.7 99.0h1.0v1.0h-1.0zM137.7 98.0h1.0v1.0h-1.0zM137.7 97.0h1.0v1.0h-1.0zM137.7 96.0h1.0v1.0h-1.0zM137.7 95.0h1.0v1.0h-1.0zM137.7 94.0h1.0v1.0h-1.0zM137.7 92.0h1.0v1.0h-1.0zM137.7 91.0h1.0v1.0h-1.0zM137.7 90.0h1.0v1.0h-1.0zM137.7 88.0h1.0v1.0h-1.0zM137.7 86.0h1.0v1.0h-1.0zM137.7 83.0h1.0v1.0h-1.0zM137.7 81.0h1.0v1.0h-1.0zM138.7 103.0h1.0v1.0h-1.0zM138.7 102.0h1.0v1.0h-1.0zM138.7 101.0h1.0v1.0h-1.0zM138.7 100.0h1.0v1.0h-1.0zM138.7 99.0h1.0v1.0h-1.0zM138.7 98.0h1.0v1.0h-1.0zM138.7 97.0h1.0v1.0h-1.0zM138.7 96.0h1.0v1.0h-1.0zM138.7 95.0h1.0v1.0h-1.0zM138.7 94.0h1.0v1.0h-1.0zM138.7 93.0h1.0v1.0h-1.0zM138.7 92.0h1.0v1.0h-1.0zM138.7 91.0h1.0v1.0h-1.0zM138.7 90.0h1.0v1.0h-1.0zM138.7 89.0h1.0v1.0h-1.0zM138.7 88.0h1.0v1.0h-1.0zM138.7 87.0h1.0v1.0h-1.0zM138.7 86.0h1.0v1.0h-1.0zM138.7 85.0h1.0v1.0h-1.0zM138.7 84.0h1.0v1.0h-1.0zM138.7 83.0h1.0v1.0h-1.0zM138.7 82.0h1.0v1.0h-1.0zM138.7 81.0h1.0v1.0h-1.0zM138.7 80.0h1.0v1.0h-1.0zM138.7 79.0h1.0v1.0h-1.0zM138.7 78.0h1.0v1.0h-1.0zM138.7 77.0h1.0v1.0h-1.0zM138.7 75.0h1.0v1.0h-1.0zM138.7 74.0h1.0v1.0h-1.0zM138.7 73.0h1.0v1.0h-1.0zM138.7 67.0h1.0v1.0h-1.0zM139.7 103.0h1.0v1.0h-1.0zM139.7 102.0h1.0v1.0h-1.0zM139.7 101.0h1.0v1.0h-1.0zM139.7 100.0h1.0v1.0h-1.0zM139.7 99.0h1.0v1.0h-1.0zM139.7 98.0h1.0v1.0h-1.0zM139.7 97.0h1.0v1.0h-1.0zM139.7 96.0h1.0v1.0h-1.0zM139.7 95.0h1.0v1.0h-1.0zM139.7 94.0h1.0v1.0h-1.0zM139.7 93.0h1.0v1.0h-1.0zM139.7 92.0h1.0v1.0h-1.0zM139.7 91.0h1.0v1.0h-1.0zM139.7 90.0h1.0v1.0h-1.0zM139.7 89.0h1.0v1.0h-1.0zM139.7 88.0h1.0v1.0h-1.0zM139.7 87.0h1.0v1.0h-1.0zM139.7 86.0h1.0v1.0h-1.0zM139.7 85.0h1.0v1.0h-1.0zM139.7 83.0h1.0v1.0h-1.0zM139.7 82.0h1.0v1.0h-1.0zM139.7 79.0h1.0v1.0h-1.0zM139.7 77.0h1.0v1.0h-1.0zM139.7 75.0h1.0v1.0h-1.0zM139.7 74.0h1.0v1.0h-1.0zM139.7 70.0h1.0v1.0h-1.0zM140.7 103.0h1.0v1.0h-1.0zM140.7 102.0h1.0v1.0h-1.0zM140.7 101.0h1.0v1.0h-1.0zM140.7 100.0h1.0v1.0h-1.0zM140.7 99.0h1.0v1.0h-1.0zM140.7 98.0h1.0v1.0h-1.0zM140.7 97.0h1.0v1.0h-1.0zM140.7 96.0h1.0v1.0h-1.0zM140.7 95.0h1.0v1.0h-1.0zM140.7 94.0h1.0v1.0h-1.0zM140.7 93.0h1.0v1.0h-1.0zM140.7 92.0h1.0v1.0h-1.0zM140.7 91.0h1.0v1.0h-1.0zM140.7 90.0h1.0v1.0h-1.0zM140.7 89.0h1.0v1.0h-1.0zM140.7 88.0h1.0v1.0h-1.0zM140.7 86.0h1.0v1.0h-1.0zM140.7 83.0h1.0v1.0h-1.0zM140.7 81.0h1.0v1.0h-1.0zM140.7 78.0h1.0v1.0h-1.0zM141.7 103.0h1.0v1.0h-1.0zM141.7 102.0h1.0v1.0h-1.0zM141.7 101.0h1.0v1.0h-1.0zM141.7 100.0h1.0v1.0h-1.0zM141.7 99.0h1.0v1.0h-1.0zM141.7 98.0h1.0v1.0h-1.0zM141.7 97.0h1.0v1.0h-1.0zM141.7 96.0h1.0v1.0h-1.0zM141.7 95.0h1.0v1.0h-1.0zM141.7 94.0h1.0v1.0h-1.0zM141.7 93.0h1.0v1.0h-1.0zM141.7 91.0h1.0v1.0h-1.0zM141.7 90.0h1.0v1.0h-1.0zM141.7 88.0h1.0v1.0h-1.0zM141.7 86.0h1.0v1.0h-1.0zM141.7 85.0h1.0v1.0h-1.0zM141.7 84.0h1.0v1.0h-1.0zM141.7 83.0h1.0v1.0h-1.0zM142.7 103.0h1.0v1.0h-1.0zM142.7 102.0h1.0v1.0h-1.0zM142.7 101.0h1.0v1.0h-1.0zM142.7 100.0h1.0v1.0h-1.0zM142.7 99.0h1.0v1.0h-1.0zM142.7 98.0h1.0v1.0h-1.0zM142.7 97.0h1.0v1.0h-1.0zM142.7 96.0h1.0v1.0h-1.0zM142.7 95.0h1.0v1.0h-1.0zM142.7 94.0h1.0v1.0h-1.0zM142.7 93.0h1.0v1.0h-1.0zM142.7 92.0h1.0v1.0h-1.0zM142.7 91.0h1.0v1.0h-1.0zM142.7 90.0h1.0v1.0h-1.0zM142.7 88.0h1.0v1.0h-1.0zM142.7 87.0h1.0v1.0h-1.0zM142.7 86.0h1.0v1.0h-1.0zM142.7 85.0h1.0v1.0h-1.0zM142.7 82.0h1.0v1.0h-1.0zM142.7 75.0h1.0v1.0h-1.0zM142.7 72.0h1.0v1.0h-1.0zM143.7 103.0h1.0v1.0h-1.0zM143.7 102.0h1.0v1.0h-1.0zM143.7 101.0h1.0v1.0h-1.0zM143.7 100.0h1.0v1.0h-1.0zM143.7 99.0h1.0v1.0h-1.0zM143.7 98.0h1.0v1.0h-1.0zM143.7 97.0h1.0v1.0h-1.0zM143.7 96.0h1.0v1.0h-1.0zM143.7 95.0h1.0v1.0h-1.0zM143.7 94.0h1.0v1.0h-1.0zM143.7 93.0h1.0v1.0h-1.0zM143.7 92.0h1.0v1.0h-1.0zM143.7 91.0h1.0v1.0h-1.0zM143.7 90.0h1.0v1.0h-1.0zM143.7 89.0h1.0v1.0h-1.0zM143.7 88.0h1.0v1.0h-1.0zM143.7 87.0h1.0v1.0h-1.0zM143.7 86.0h1.0v1.0h-1.0zM143.7 85.0h1.0v1.0h-1.0zM143.7 84.0h1.0v1.0h-1.0zM143.7 83.0h1.0v1.0h-1.0zM143.7 82.0h1.0v1.0h-1.0zM143.7 81.0h1.0v1.0h-1.0zM143.7 75.0h1.0v1.0h-1.0zM144.7 103.0h1.0v1.0h-1.0zM144.7 102.0h1.0v1.0h-1.0zM144.7 101.0h1.0v1.0h-1.0zM144.7 100.0h1.0v1.0h-1.0zM144.7 99.0h1.0v1.0h-1.0zM144.7 98.0h1.0v1.0h-1.0zM144.7 97.0h1.0v1.0h-1.0zM144.7 96.0h1.0v1.0h-1.0zM144.7 95.0h1.0v1.0h-1.0zM144.7 94.0h1.0v1.0h-1.0zM144.7 93.0h1.0v1.0h-1.0zM144.7 92.0h1.0v1.0h-1.0zM144.7 91.0h1.0v1.0h-1.0zM144.7 90.0h1.0v1.0h-1.0zM144.7 88.0h1.0v1.0h-1.0zM144.7 87.0h1.0v1.0h-1.0zM144.7 86.0h1.0v1.0h-1.0zM144.7 81.0h1.0v1.0h-1.0zM144.7 80.0h1.0v1.0h-1.0zM144.7 79.0h1.0v1.0h-1.0zM144.7 77.0h1.0v1.0h-1.0zM145.7 103.0h1.0v1.0h-1.0zM145.7 102.0h1.0v1.0h-1.0zM145.7 101.0h1.0v1.0h-1.0zM145.7 100.0h1.0v1.0h-1.0zM145.7 99.0h1.0v1.0h-1.0zM145.7 98.0h1.0v1.0h-1.0zM145.7 97.0h1.0v1.0h-1.0zM145.7 96.0h1.0v1.0h-1.0zM145.7 95.0h1.0v1.0h-1.0zM145.7 94.0h1.0v1.0h-1.0zM145.7 93.0h1.0v1.0h-1.0zM145.7 92.0h1.0v1.0h-1.0zM145.7 91.0h1.0v1.0h-1.0zM145.7 90.0h1.0v1.0h-1.0zM145.7 89.0h1.0v1.0h-1.0zM145.7 88.0h1.0v1.0h-1.0zM145.7 87.0h1.0v1.0h-1.0zM145.7 85.0h1.0v1.0h-1.0zM145.7 83.0h1.0v1.0h-1.0zM145.7 82.0h1.0v1.0h-1.0zM145.7 78.0h1.0v1.0h-1.0zM145.7 73.0h1.0v1.0h-1.0zM146.7 103.0h1.0v1.0h-1.0zM146.7 102.0h1.0v1.0h-1.0zM146.7 101.0h1.0v1.0h-1.0zM146.7 100.0h1.0v1.0h-1.0zM146.7 99.0h1.0v1.0h-1.0zM146.7 98.0h1.0v1.0h-1.0zM146.7 97.0h1.0v1.0h-1.0zM146.7 95.0h1.0v1.0h-1.0zM146.7 94.0h1.0v1.0h-1.0zM146.7 93.0h1.0v1.0h-1.0zM146.7 92.0h1.0v1.0h-1.0zM146.7 91.0h1.0v1.0h-1.0zM146.7 90.0h1.0v1.0h-1.0zM146.7 88.0h1.0v1.0h-1.0zM146.7 87.0h1.0v1.0h-1.0zM146.7 84.0h1.0v1.0h-1.0zM146.7 83.0h1.0v1.0h-1.0zM146.7 80.0h1.0v1.0h-1.0zM146.7 76.0h1.0v1.0h-1.0zM147.7 103.0h0.8v1.0h-0.8zM147.7 102.0h0.8v1.0h-0.8zM147.7 101.0h0.8v1.0h-0.8zM147.7 100.0h0.8v1.0h-0.8zM147.7 99.0h0.8v1.0h-0.8zM147.7 98.0h0.8v1.0h-0.8zM147.7 97.0h0.8v1.0h-0.8zM147.7 96.0h0.8v1.0h-0.8zM147.7 95.0h0.8v1.0h-0.8zM147.7 94.0h0.8v1.0h-0.8zM147.7 93.0h0.8v1.0h-0.8zM147.7 92.0h0.8v1.0h-0.8zM147.7 91.0h0.8v1.0h-0.8zM147.7 90.0h0.8v1.0h-0.8zM147.7 89.0h0.8v1.0h-0.8zM147.7 88.0h0.8v1.0h-0.8zM147.7 86.0h0.8v1.0h-0.8zM147.7 79.0h0.8v1.0h-0.8zM147.7 78.0h0.8v1.0h-0.8zM147.7 76.0h0.8v1.0h-0.8zM131.0 83.9h1.0v1.0h-1.0zM131.0 84.9h1.0v1.0h-1.0zM131.0 85.9h1.0v1.0h-1.0zM131.0 86.9h1.0v1.0h-1.0zM131.0 87.9h1.0v1.0h-1.0zM131.0 89.9h1.0v1.0h-1.0zM131.0 91.9h1.0v1.0h-1.0zM131.0 92.9h1.0v1.0h-1.0zM131.0 93.9h1.0v1.0h-1.0zM131.0 94.9h1.0v1.0h-1.0zM131.0 95.9h1.0v1.0h-1.0zM131.0 96.9h1.0v1.0h-1.0zM131.0 97.9h1.0v1.0h-1.0zM135.0 74.2h1.0v1.0h-1.0zM135.0 75.2h1.0v1.0h-1.0zM135.0 77.2h1.0v1.0h-1.0zM135.0 78.2h1.0v1.0h-1.0zM135.0 79.2h1.0v1.0h-1.0zM135.0 80.2h1.0v1.0h-1.0zM135.0 81.2h1.0v1.0h-1.0zM135.0 84.2h1.0v1.0h-1.0zM135.0 85.2h1.0v1.0h-1.0zM135.0 86.2h1.0v1.0h-1.0zM135.0 88.2h1.0v1.0h-1.0zM135.0 89.2h1.0v1.0h-1.0zM135.0 91.2h1.0v1.0h-1.0zM135.0 92.2h1.0v1.0h-1.0zM135.0 93.2h1.0v1.0h-1.0zM135.0 95.2h1.0v1.0h-1.0zM135.0 96.2h1.0v1.0h-1.0zM135.0 98.2h1.0v1.0h-1.0zM146.0 88.8h1.0v1.0h-1.0zM146.0 89.8h1.0v1.0h-1.0zM146.0 91.8h1.0v1.0h-1.0zM146.0 96.8h1.0v1.0h-1.0zM146.0 97.8h1.0v1.0h-1.0zM146.0 98.8h1.0v1.0h-1.0zM131.0 87.5h1.0v1.0h-1.0zM131.0 88.5h1.0v1.0h-1.0zM131.0 89.5h1.0v1.0h-1.0zM131.0 90.5h1.0v1.0h-1.0zM131.0 93.5h1.0v1.0h-1.0zM131.0 96.5h1.0v1.0h-1.0zM131.0 97.5h1.0v1.0h-1.0zM131.0 98.5h1.0v1.0h-1.0zM141.0 80.9h1.0v1.0h-1.0zM141.0 82.9h1.0v1.0h-1.0zM141.0 83.9h1.0v1.0h-1.0zM141.0 86.9h1.0v1.0h-1.0zM141.0 87.9h1.0v1.0h-1.0zM141.0 88.9h1.0v1.0h-1.0zM141.0 90.9h1.0v1.0h-1.0zM141.0 94.9h1.0v1.0h-1.0zM141.0 95.9h1.0v1.0h-1.0zM141.0 98.9h1.0v1.0h-1.0zM131.0 67.0h1.0v1.0h-1.0zM131.0 72.0h1.0v1.0h-1.0zM131.0 74.0h1.0v1.0h-1.0zM131.0 75.0h1.0v1.0h-1.0zM131.0 76.0h1.0v1.0h-1.0zM131.0 78.0h1.0v1.0h-1.0zM131.0 79.0h1.0v1.0h-1.0zM131.0 80.0h1.0v1.0h-1.0zM131.0 81.0h1.0v1.0h-1.0zM131.0 82.0h1.0v1.0h-1.0zM131.0 84.0h1.0v1.0h-1.0zM131.0 87.0h1.0v1.0h-1.0zM131.0 88.0h1.0v1.0h-1.0zM131.0 89.0h1.0v1.0h-1.0zM131.0 90.0h1.0v1.0h-1.0zM131.0 93.0h1.0v1.0h-1.0zM131.0 95.0h1.0v1.0h-1.0zM131.0 96.0h1.0v1.0h-1.0zM135.0 68.0h1.0v1.0h-1.0zM135.0 71.0h1.0v1.0h-1.0zM135.0 73.0h1.0v1.0h-1.0zM135.0 74.0h1.0v1.0h-1.0zM135.0 75.0h1.0v1.0h-1.0zM135.0 76.0h1.0v1.0h-1.0zM135.0 77.0h1.0v1.0h-1.0zM135.0 78.0h1.0v1.0h-1.0zM135.0 79.0h1.0v1.0h-1.0zM135.0 80.0h1.0v1.0h-1.0zM135.0 83.0h1.0v1.0h-1.0zM135.0 85.0h1.0v1.0h-1.0zM135.0 86.0h1.0v1.0h-1.0zM135.0 87.0h1.0v1.0h-1.0zM135.0 88.0h1.0v1.0h-1.0zM135.0 89.0h1.0v1.0h-1.0zM135.0 90.0h1.0v1.0h-1.0zM135.0 91.0h1.0v1.0h-1.0zM135.0 92.0h1.0v1.0h-1.0zM135.0 93.0h1.0v1.0h-1.0zM135.0 96.0h1.0v1.0h-1.0zM135.0 98.0h1.0v1.0h-1.0zM139.0 72.5h1.0v1.0h-1.0zM139.0 76.5h1.0v1.0h-1.0zM139.0 78.5h1.0v1.0h-1.0zM139.0 83.5h1.0v1.0h-1.0zM139.0 84.5h1.0v1.0h-1.0zM139.0 86.5h1.0v1.0h-1.0zM139.0 87.5h1.0v1.0h-1.0zM139.0 88.5h1.0v1.0h-1.0zM139.0 90.5h1.0v1.0h-1.0zM139.0 91.5h1.0v1.0h-1.0zM139.0 93.5h1.0v1.0h-1.0zM139.0 96.5h1.0v1.0h-1.0zM139.0 97.5h1.0v1.0h-1.0zM139.0 98.5h1.0v1.0h-1.0zM144.0 86.2h1.0v1.0h-1.0zM144.0 87.2h1.0v1.0h-1.0zM144.0 89.2h1.0v1.0h-1.0zM144.0 91.2h1.0v1.0h-1.0zM144.0 93.2h1.0v1.0h-1.0zM144.0 94.2h1.0v1.0h-1.0zM144.0 95.2h1.0v1.0h-1.0zM144.0 96.2h1.0v1.0h-1.0zM144.0 97.2h1.0v1.0h-1.0zM140.0 83.5h1.0v1.0h-1.0zM140.0 84.5h1.0v1.0h-1.0zM140.0 85.5h1.0v1.0h-1.0zM140.0 86.5h1.0v1.0h-1.0zM140.0 87.5h1.0v1.0h-1.0zM140.0 88.5h1.0v1.0h-1.0zM140.0 89.5h1.0v1.0h-1.0zM140.0 90.5h1.0v1.0h-1.0zM140.0 92.5h1.0v1.0h-1.0zM140.0 94.5h1.0v1.0h-1.0zM140.0 95.5h1.0v1.0h-1.0zM140.0 97.5h1.0v1.0h-1.0zM146.0 86.1h1.0v1.0h-1.0zM146.0 88.1h1.0v1.0h-1.0zM146.0 90.1h1.0v1.0h-1.0zM146.0 91.1h1.0v1.0h-1.0zM146.0 92.1h1.0v1.0h-1.0zM146.0 93.1h1.0v1.0h-1.0zM146.0 94.1h1.0v1.0h-1.0zM146.0 96.1h1.0v1.0h-1.0zM146.0 97.1h1.0v1.0h-1.0zM146.0 98.1h1.0v1.0h-1.0zM146.0 86.0h1.0v1.0h-1.0zM146.0 87.0h1.0v1.0h-1.0zM146.0 88.0h1.0v1.0h-1.0zM146.0 91.0h1.0v1.0h-1.0zM146.0 92.0h1.0v1.0h-1.0zM146.0 93.0h1.0v1.0h-1.0zM146.0 94.0h1.0v1.0h-1.0zM146.0 95.0h1.0v1.0h-1.0zM146.0 98.0h1.0v1.0h-1.0zM129.0 87.9h1.0v1.0h-1.0zM129.0 88.9h1.0v1.0h-1.0zM129.0 89.9h1.0v1.0h-1.0zM129.0 90.9h1.0v1.0h-1.0zM129.0 94.9h1.0v1.0h-1.0zM129.0 95.9h1.0v1.0h-1.0zM129.0 96.9h1.0v1.0h-1.0zM129.0 97.9h1.0v1.0h-1.0zM167.3 90.0h1.0v1.0h-1.0zM167.3 89.0h1.0v1.0h-1.0zM167.3 88.0h1.0v1.0h-1.0zM167.3 87.0h1.0v1.0h-1.0zM167.3 86.0h1.0v1.0h-1.0zM167.3 85.0h1.0v1.0h-1.0zM167.3 84.0h1.0v1.0h-1.0zM167.3 83.0h1.0v1.0h-1.0zM167.3 82.0h1.0v1.0h-1.0zM167.3 81.0h1.0v1.0h-1.0zM167.3 78.0h1.0v1.0h-1.0zM167.3 77.0h1.0v1.0h-1.0zM167.3 75.0h1.0v1.0h-1.0zM167.3 74.0h1.0v1.0h-1.0zM167.3 67.0h1.0v1.0h-1.0zM168.3 90.0h1.0v1.0h-1.0zM168.3 89.0h1.0v1.0h-1.0zM168.3 88.0h1.0v1.0h-1.0zM168.3 87.0h1.0v1.0h-1.0zM168.3 86.0h1.0v1.0h-1.0zM168.3 85.0h1.0v1.0h-1.0zM168.3 81.0h1.0v1.0h-1.0zM168.3 80.0h1.0v1.0h-1.0zM168.3 73.0h1.0v1.0h-1.0zM168.3 69.0h1.0v1.0h-1.0zM169.3 90.0h1.0v1.0h-1.0zM169.3 89.0h1.0v1.0h-1.0zM169.3 88.0h1.0v1.0h-1.0zM169.3 87.0h1.0v1.0h-1.0zM169.3 86.0h1.0v1.0h-1.0zM169.3 85.0h1.0v1.0h-1.0zM169.3 84.0h1.0v1.0h-1.0zM169.3 83.0h1.0v1.0h-1.0zM169.3 82.0h1.0v1.0h-1.0zM169.3 81.0h1.0v1.0h-1.0zM169.3 80.0h1.0v1.0h-1.0zM169.3 79.0h1.0v1.0h-1.0zM169.3 78.0h1.0v1.0h-1.0zM169.3 77.0h1.0v1.0h-1.0zM169.3 76.0h1.0v1.0h-1.0zM169.3 75.0h1.0v1.0h-1.0zM169.3 74.0h1.0v1.0h-1.0zM169.3 73.0h1.0v1.0h-1.0zM169.3 72.0h1.0v1.0h-1.0zM169.3 70.0h1.0v1.0h-1.0zM169.3 65.0h1.0v1.0h-1.0zM170.3 90.0h1.0v1.0h-1.0zM170.3 89.0h1.0v1.0h-1.0zM170.3 88.0h1.0v1.0h-1.0zM170.3 87.0h1.0v1.0h-1.0zM170.3 86.0h1.0v1.0h-1.0zM170.3 85.0h1.0v1.0h-1.0zM170.3 84.0h1.0v1.0h-1.0zM170.3 83.0h1.0v1.0h-1.0zM170.3 82.0h1.0v1.0h-1.0zM170.3 81.0h1.0v1.0h-1.0zM170.3 80.0h1.0v1.0h-1.0zM170.3 74.0h1.0v1.0h-1.0zM170.3 73.0h1.0v1.0h-1.0zM170.3 71.0h1.0v1.0h-1.0zM170.3 67.0h1.0v1.0h-1.0zM171.3 90.0h1.0v1.0h-1.0zM171.3 89.0h1.0v1.0h-1.0zM171.3 88.0h1.0v1.0h-1.0zM171.3 87.0h1.0v1.0h-1.0zM171.3 86.0h1.0v1.0h-1.0zM171.3 85.0h1.0v1.0h-1.0zM171.3 84.0h1.0v1.0h-1.0zM171.3 83.0h1.0v1.0h-1.0zM171.3 82.0h1.0v1.0h-1.0zM171.3 81.0h1.0v1.0h-1.0zM171.3 80.0h1.0v1.0h-1.0zM171.3 79.0h1.0v1.0h-1.0zM171.3 78.0h1.0v1.0h-1.0zM171.3 77.0h1.0v1.0h-1.0zM171.3 76.0h1.0v1.0h-1.0zM171.3 74.0h1.0v1.0h-1.0zM171.3 73.0h1.0v1.0h-1.0zM171.3 70.0h1.0v1.0h-1.0zM171.3 69.0h1.0v1.0h-1.0zM171.3 60.0h1.0v1.0h-1.0zM171.3 59.0h1.0v1.0h-1.0zM171.3 40.0h1.0v1.0h-1.0zM172.3 90.0h1.0v1.0h-1.0zM172.3 89.0h1.0v1.0h-1.0zM172.3 88.0h1.0v1.0h-1.0zM172.3 87.0h1.0v1.0h-1.0zM172.3 86.0h1.0v1.0h-1.0zM172.3 85.0h1.0v1.0h-1.0zM172.3 84.0h1.0v1.0h-1.0zM172.3 83.0h1.0v1.0h-1.0zM172.3 82.0h1.0v1.0h-1.0zM172.3 81.0h1.0v1.0h-1.0zM172.3 80.0h1.0v1.0h-1.0zM172.3 79.0h1.0v1.0h-1.0zM172.3 78.0h1.0v1.0h-1.0zM172.3 77.0h1.0v1.0h-1.0zM172.3 76.0h1.0v1.0h-1.0zM172.3 75.0h1.0v1.0h-1.0zM172.3 74.0h1.0v1.0h-1.0zM172.3 73.0h1.0v1.0h-1.0zM172.3 72.0h1.0v1.0h-1.0zM172.3 71.0h1.0v1.0h-1.0zM172.3 70.0h1.0v1.0h-1.0zM172.3 69.0h1.0v1.0h-1.0zM172.3 68.0h1.0v1.0h-1.0zM172.3 66.0h1.0v1.0h-1.0zM172.3 63.0h1.0v1.0h-1.0zM173.3 90.0h1.0v1.0h-1.0zM173.3 89.0h1.0v1.0h-1.0zM173.3 88.0h1.0v1.0h-1.0zM173.3 87.0h1.0v1.0h-1.0zM173.3 86.0h1.0v1.0h-1.0zM173.3 85.0h1.0v1.0h-1.0zM173.3 84.0h1.0v1.0h-1.0zM173.3 83.0h1.0v1.0h-1.0zM173.3 82.0h1.0v1.0h-1.0zM173.3 81.0h1.0v1.0h-1.0zM173.3 80.0h1.0v1.0h-1.0zM173.3 79.0h1.0v1.0h-1.0zM173.3 78.0h1.0v1.0h-1.0zM173.3 77.0h1.0v1.0h-1.0zM173.3 76.0h1.0v1.0h-1.0zM173.3 75.0h1.0v1.0h-1.0zM173.3 74.0h1.0v1.0h-1.0zM173.3 73.0h1.0v1.0h-1.0zM173.3 71.0h1.0v1.0h-1.0zM173.3 68.0h1.0v1.0h-1.0zM173.3 67.0h1.0v1.0h-1.0zM174.3 90.0h1.0v1.0h-1.0zM174.3 88.0h1.0v1.0h-1.0zM174.3 87.0h1.0v1.0h-1.0zM174.3 85.0h1.0v1.0h-1.0zM174.3 83.0h1.0v1.0h-1.0zM174.3 79.0h1.0v1.0h-1.0zM175.3 90.0h1.0v1.0h-1.0zM175.3 89.0h1.0v1.0h-1.0zM175.3 88.0h1.0v1.0h-1.0zM175.3 87.0h1.0v1.0h-1.0zM175.3 86.0h1.0v1.0h-1.0zM175.3 85.0h1.0v1.0h-1.0zM175.3 84.0h1.0v1.0h-1.0zM175.3 83.0h1.0v1.0h-1.0zM175.3 82.0h1.0v1.0h-1.0zM175.3 81.0h1.0v1.0h-1.0zM175.3 80.0h1.0v1.0h-1.0zM175.3 79.0h1.0v1.0h-1.0zM175.3 78.0h1.0v1.0h-1.0zM175.3 77.0h1.0v1.0h-1.0zM175.3 76.0h1.0v1.0h-1.0zM175.3 75.0h1.0v1.0h-1.0zM175.3 74.0h1.0v1.0h-1.0zM175.3 73.0h1.0v1.0h-1.0zM175.3 72.0h1.0v1.0h-1.0zM175.3 71.0h1.0v1.0h-1.0zM175.3 69.0h1.0v1.0h-1.0zM175.3 61.0h1.0v1.0h-1.0zM176.3 90.0h1.0v1.0h-1.0zM176.3 89.0h1.0v1.0h-1.0zM176.3 88.0h1.0v1.0h-1.0zM176.3 87.0h1.0v1.0h-1.0zM176.3 86.0h1.0v1.0h-1.0zM176.3 85.0h1.0v1.0h-1.0zM176.3 84.0h1.0v1.0h-1.0zM176.3 83.0h1.0v1.0h-1.0zM176.3 82.0h1.0v1.0h-1.0zM176.3 81.0h1.0v1.0h-1.0zM176.3 80.0h1.0v1.0h-1.0zM176.3 71.0h1.0v1.0h-1.0zM176.3 70.0h1.0v1.0h-1.0zM177.3 90.0h1.0v1.0h-1.0zM177.3 89.0h1.0v1.0h-1.0zM177.3 88.0h1.0v1.0h-1.0zM177.3 87.0h1.0v1.0h-1.0zM177.3 86.0h1.0v1.0h-1.0zM177.3 85.0h1.0v1.0h-1.0zM177.3 84.0h1.0v1.0h-1.0zM177.3 83.0h1.0v1.0h-1.0zM177.3 82.0h1.0v1.0h-1.0zM177.3 81.0h1.0v1.0h-1.0zM177.3 80.0h1.0v1.0h-1.0zM177.3 79.0h1.0v1.0h-1.0zM177.3 78.0h1.0v1.0h-1.0zM177.3 77.0h1.0v1.0h-1.0zM177.3 76.0h1.0v1.0h-1.0zM177.3 75.0h1.0v1.0h-1.0zM177.3 74.0h1.0v1.0h-1.0zM177.3 73.0h1.0v1.0h-1.0zM177.3 72.0h1.0v1.0h-1.0zM177.3 70.0h1.0v1.0h-1.0zM177.3 68.0h1.0v1.0h-1.0zM177.3 67.0h1.0v1.0h-1.0zM177.3 66.0h1.0v1.0h-1.0zM177.3 62.0h1.0v1.0h-1.0zM177.3 60.0h1.0v1.0h-1.0zM177.3 58.0h1.0v1.0h-1.0zM178.3 90.0h1.0v1.0h-1.0zM178.3 89.0h1.0v1.0h-1.0zM178.3 88.0h1.0v1.0h-1.0zM178.3 87.0h1.0v1.0h-1.0zM178.3 86.0h1.0v1.0h-1.0zM178.3 85.0h1.0v1.0h-1.0zM178.3 84.0h1.0v1.0h-1.0zM178.3 83.0h1.0v1.0h-1.0zM178.3 82.0h1.0v1.0h-1.0zM178.3 81.0h1.0v1.0h-1.0zM178.3 80.0h1.0v1.0h-1.0zM178.3 79.0h1.0v1.0h-1.0zM178.3 77.0h1.0v1.0h-1.0zM178.3 76.0h1.0v1.0h-1.0zM178.3 75.0h1.0v1.0h-1.0zM178.3 74.0h1.0v1.0h-1.0zM178.3 73.0h1.0v1.0h-1.0zM178.3 72.0h1.0v1.0h-1.0zM178.3 68.0h1.0v1.0h-1.0zM178.3 67.0h1.0v1.0h-1.0zM178.3 61.0h1.0v1.0h-1.0zM178.3 57.0h1.0v1.0h-1.0zM179.3 90.0h1.0v1.0h-1.0zM179.3 89.0h1.0v1.0h-1.0zM179.3 88.0h1.0v1.0h-1.0zM179.3 87.0h1.0v1.0h-1.0zM179.3 86.0h1.0v1.0h-1.0zM179.3 85.0h1.0v1.0h-1.0zM179.3 84.0h1.0v1.0h-1.0zM179.3 83.0h1.0v1.0h-1.0zM179.3 82.0h1.0v1.0h-1.0zM179.3 81.0h1.0v1.0h-1.0zM179.3 80.0h1.0v1.0h-1.0zM179.3 79.0h1.0v1.0h-1.0zM179.3 78.0h1.0v1.0h-1.0zM179.3 77.0h1.0v1.0h-1.0zM179.3 76.0h1.0v1.0h-1.0zM179.3 75.0h1.0v1.0h-1.0zM179.3 74.0h1.0v1.0h-1.0zM179.3 73.0h1.0v1.0h-1.0zM179.3 72.0h1.0v1.0h-1.0zM179.3 70.0h1.0v1.0h-1.0zM179.3 69.0h1.0v1.0h-1.0zM179.3 68.0h1.0v1.0h-1.0zM179.3 63.0h1.0v1.0h-1.0zM179.3 61.0h1.0v1.0h-1.0zM180.3 90.0h1.0v1.0h-1.0zM180.3 89.0h1.0v1.0h-1.0zM180.3 88.0h1.0v1.0h-1.0zM180.3 87.0h1.0v1.0h-1.0zM180.3 86.0h1.0v1.0h-1.0zM180.3 85.0h1.0v1.0h-1.0zM180.3 84.0h1.0v1.0h-1.0zM180.3 83.0h1.0v1.0h-1.0zM180.3 82.0h1.0v1.0h-1.0zM180.3 81.0h1.0v1.0h-1.0zM180.3 80.0h1.0v1.0h-1.0zM180.3 79.0h1.0v1.0h-1.0zM180.3 78.0h1.0v1.0h-1.0zM180.3 77.0h1.0v1.0h-1.0zM180.3 76.0h1.0v1.0h-1.0zM180.3 72.0h1.0v1.0h-1.0zM180.3 71.0h1.0v1.0h-1.0zM180.3 60.0h1.0v1.0h-1.0zM181.3 90.0h1.0v1.0h-1.0zM181.3 89.0h1.0v1.0h-1.0zM181.3 88.0h1.0v1.0h-1.0zM181.3 87.0h1.0v1.0h-1.0zM181.3 86.0h1.0v1.0h-1.0zM181.3 85.0h1.0v1.0h-1.0zM181.3 84.0h1.0v1.0h-1.0zM181.3 83.0h1.0v1.0h-1.0zM181.3 81.0h1.0v1.0h-1.0zM181.3 80.0h1.0v1.0h-1.0zM181.3 79.0h1.0v1.0h-1.0zM181.3 78.0h1.0v1.0h-1.0zM181.3 77.0h1.0v1.0h-1.0zM181.3 75.0h1.0v1.0h-1.0zM181.3 74.0h1.0v1.0h-1.0zM182.3 90.0h1.0v1.0h-1.0zM182.3 89.0h1.0v1.0h-1.0zM182.3 88.0h1.0v1.0h-1.0zM182.3 87.0h1.0v1.0h-1.0zM182.3 86.0h1.0v1.0h-1.0zM182.3 85.0h1.0v1.0h-1.0zM182.3 84.0h1.0v1.0h-1.0zM182.3 83.0h1.0v1.0h-1.0zM182.3 82.0h1.0v1.0h-1.0zM182.3 81.0h1.0v1.0h-1.0zM182.3 80.0h1.0v1.0h-1.0zM182.3 79.0h1.0v1.0h-1.0zM182.3 78.0h1.0v1.0h-1.0zM182.3 77.0h1.0v1.0h-1.0zM182.3 76.0h1.0v1.0h-1.0zM182.3 75.0h1.0v1.0h-1.0zM182.3 73.0h1.0v1.0h-1.0zM182.3 72.0h1.0v1.0h-1.0zM182.3 70.0h1.0v1.0h-1.0zM182.3 67.0h1.0v1.0h-1.0zM182.3 66.0h1.0v1.0h-1.0zM183.3 90.0h1.0v1.0h-1.0zM183.3 89.0h1.0v1.0h-1.0zM183.3 88.0h1.0v1.0h-1.0zM183.3 87.0h1.0v1.0h-1.0zM183.3 86.0h1.0v1.0h-1.0zM183.3 85.0h1.0v1.0h-1.0zM183.3 84.0h1.0v1.0h-1.0zM183.3 83.0h1.0v1.0h-1.0zM183.3 81.0h1.0v1.0h-1.0zM183.3 80.0h1.0v1.0h-1.0zM183.3 76.0h1.0v1.0h-1.0zM183.3 75.0h1.0v1.0h-1.0zM183.3 73.0h1.0v1.0h-1.0zM183.3 72.0h1.0v1.0h-1.0zM183.3 71.0h1.0v1.0h-1.0zM183.3 66.0h1.0v1.0h-1.0zM183.3 63.0h1.0v1.0h-1.0zM183.3 56.0h1.0v1.0h-1.0zM184.3 90.0h0.9v1.0h-0.9zM184.3 89.0h0.9v1.0h-0.9zM184.3 88.0h0.9v1.0h-0.9zM184.3 87.0h0.9v1.0h-0.9zM184.3 86.0h0.9v1.0h-0.9zM184.3 85.0h0.9v1.0h-0.9zM184.3 84.0h0.9v1.0h-0.9zM184.3 83.0h0.9v1.0h-0.9zM184.3 82.0h0.9v1.0h-0.9zM184.3 81.0h0.9v1.0h-0.9zM184.3 80.0h0.9v1.0h-0.9zM184.3 78.0h0.9v1.0h-0.9zM184.3 75.0h0.9v1.0h-0.9zM184.3 74.0h0.9v1.0h-0.9zM184.3 73.0h0.9v1.0h-0.9zM184.3 70.0h0.9v1.0h-0.9zM184.3 69.0h0.9v1.0h-0.9zM175.0 72.5h1.0v1.0h-1.0zM175.0 73.5h1.0v1.0h-1.0zM175.0 74.5h1.0v1.0h-1.0zM175.0 75.5h1.0v1.0h-1.0zM175.0 76.5h1.0v1.0h-1.0zM175.0 77.5h1.0v1.0h-1.0zM175.0 78.5h1.0v1.0h-1.0zM175.0 79.5h1.0v1.0h-1.0zM175.0 80.5h1.0v1.0h-1.0zM175.0 82.5h1.0v1.0h-1.0zM175.0 85.5h1.0v1.0h-1.0zM171.0 76.6h1.0v1.0h-1.0zM171.0 77.6h1.0v1.0h-1.0zM171.0 78.6h1.0v1.0h-1.0zM171.0 79.6h1.0v1.0h-1.0zM171.0 81.6h1.0v1.0h-1.0zM171.0 84.6h1.0v1.0h-1.0zM171.0 85.6h1.0v1.0h-1.0zM182.0 73.6h1.0v1.0h-1.0zM182.0 75.6h1.0v1.0h-1.0zM182.0 76.6h1.0v1.0h-1.0zM182.0 81.6h1.0v1.0h-1.0zM182.0 82.6h1.0v1.0h-1.0zM182.0 83.6h1.0v1.0h-1.0zM182.0 85.6h1.0v1.0h-1.0zM182.0 54.0h1.0v1.0h-1.0zM182.0 56.0h1.0v1.0h-1.0zM182.0 57.0h1.0v1.0h-1.0zM182.0 58.0h1.0v1.0h-1.0zM182.0 61.0h1.0v1.0h-1.0zM182.0 62.0h1.0v1.0h-1.0zM182.0 66.0h1.0v1.0h-1.0zM182.0 67.0h1.0v1.0h-1.0zM182.0 68.0h1.0v1.0h-1.0zM182.0 70.0h1.0v1.0h-1.0zM182.0 72.0h1.0v1.0h-1.0zM182.0 73.0h1.0v1.0h-1.0zM182.0 75.0h1.0v1.0h-1.0zM182.0 78.0h1.0v1.0h-1.0zM182.0 81.0h1.0v1.0h-1.0zM182.0 82.0h1.0v1.0h-1.0zM174.0 65.9h1.0v1.0h-1.0zM174.0 67.9h1.0v1.0h-1.0zM174.0 68.9h1.0v1.0h-1.0zM174.0 69.9h1.0v1.0h-1.0zM174.0 72.9h1.0v1.0h-1.0zM174.0 73.9h1.0v1.0h-1.0zM174.0 74.9h1.0v1.0h-1.0zM174.0 75.9h1.0v1.0h-1.0zM174.0 77.9h1.0v1.0h-1.0zM174.0 78.9h1.0v1.0h-1.0zM174.0 79.9h1.0v1.0h-1.0zM174.0 80.9h1.0v1.0h-1.0zM174.0 81.9h1.0v1.0h-1.0zM174.0 82.9h1.0v1.0h-1.0zM174.0 83.9h1.0v1.0h-1.0zM174.0 84.9h1.0v1.0h-1.0zM174.0 64.8h1.0v1.0h-1.0zM174.0 65.8h1.0v1.0h-1.0zM174.0 66.8h1.0v1.0h-1.0zM174.0 70.8h1.0v1.0h-1.0zM174.0 71.8h1.0v1.0h-1.0zM174.0 72.8h1.0v1.0h-1.0zM174.0 73.8h1.0v1.0h-1.0zM174.0 74.8h1.0v1.0h-1.0zM174.0 77.8h1.0v1.0h-1.0zM174.0 78.8h1.0v1.0h-1.0zM174.0 79.8h1.0v1.0h-1.0zM174.0 80.8h1.0v1.0h-1.0zM174.0 81.8h1.0v1.0h-1.0zM174.0 82.8h1.0v1.0h-1.0zM174.0 83.8h1.0v1.0h-1.0zM174.0 84.8h1.0v1.0h-1.0zM174.0 85.8h1.0v1.0h-1.0zM182.0 67.0h1.0v1.0h-1.0zM182.0 68.0h1.0v1.0h-1.0zM182.0 69.0h1.0v1.0h-1.0zM182.0 71.0h1.0v1.0h-1.0zM182.0 74.0h1.0v1.0h-1.0zM182.0 75.0h1.0v1.0h-1.0zM182.0 76.0h1.0v1.0h-1.0zM182.0 78.0h1.0v1.0h-1.0zM182.0 79.0h1.0v1.0h-1.0zM182.0 82.0h1.0v1.0h-1.0zM182.0 85.0h1.0v1.0h-1.0zM174.0 70.6h1.0v1.0h-1.0zM174.0 72.6h1.0v1.0h-1.0zM174.0 73.6h1.0v1.0h-1.0zM174.0 74.6h1.0v1.0h-1.0zM174.0 76.6h1.0v1.0h-1.0zM174.0 77.6h1.0v1.0h-1.0zM174.0 81.6h1.0v1.0h-1.0zM174.0 83.6h1.0v1.0h-1.0zM174.0 84.6h1.0v1.0h-1.0zM174.0 85.6h1.0v1.0h-1.0zM173.0 74.5h1.0v1.0h-1.0zM173.0 76.5h1.0v1.0h-1.0zM173.0 77.5h1.0v1.0h-1.0zM173.0 78.5h1.0v1.0h-1.0zM173.0 79.5h1.0v1.0h-1.0zM173.0 80.5h1.0v1.0h-1.0zM173.0 84.5h1.0v1.0h-1.0zM173.0 85.5h1.0v1.0h-1.0zM181.0 74.5h1.0v1.0h-1.0zM181.0 75.5h1.0v1.0h-1.0zM181.0 76.5h1.0v1.0h-1.0zM181.0 80.5h1.0v1.0h-1.0zM181.0 83.5h1.0v1.0h-1.0zM181.0 84.5h1.0v1.0h-1.0zM181.0 75.4h1.0v1.0h-1.0zM181.0 77.4h1.0v1.0h-1.0zM181.0 78.4h1.0v1.0h-1.0zM181.0 79.4h1.0v1.0h-1.0zM181.0 80.4h1.0v1.0h-1.0zM181.0 81.4h1.0v1.0h-1.0zM181.0 82.4h1.0v1.0h-1.0zM181.0 84.4h1.0v1.0h-1.0zM181.0 85.4h1.0v1.0h-1.0zM169.0 68.8h1.0v1.0h-1.0zM169.0 69.8h1.0v1.0h-1.0zM169.0 71.8h1.0v1.0h-1.0zM169.0 73.8h1.0v1.0h-1.0zM169.0 74.8h1.0v1.0h-1.0zM169.0 77.8h1.0v1.0h-1.0zM169.0 79.8h1.0v1.0h-1.0zM169.0 80.8h1.0v1.0h-1.0zM169.0 83.8h1.0v1.0h-1.0zM169.0 84.8h1.0v1.0h-1.0zM169.0 85.8h1.0v1.0h-1.0zM201.3 98.0h1.0v1.0h-1.0zM201.3 97.0h1.0v1.0h-1.0zM201.3 96.0h1.0v1.0h-1.0zM201.3 95.0h1.0v1.0h-1.0zM201.3 94.0h1.0v1.0h-1.0zM201.3 93.0h1.0v1.0h-1.0zM201.3 92.0h1.0v1.0h-1.0zM201.3 91.0h1.0v1.0h-1.0zM201.3 90.0h1.0v1.0h-1.0zM201.3 89.0h1.0v1.0h-1.0zM201.3 88.0h1.0v1.0h-1.0zM201.3 87.0h1.0v1.0h-1.0zM201.3 86.0h1.0v1.0h-1.0zM201.3 85.0h1.0v1.0h-1.0zM201.3 84.0h1.0v1.0h-1.0zM201.3 83.0h1.0v1.0h-1.0zM201.3 80.0h1.0v1.0h-1.0zM201.3 75.0h1.0v1.0h-1.0zM201.3 66.0h1.0v1.0h-1.0zM201.3 62.0h1.0v1.0h-1.0zM202.3 98.0h1.0v1.0h-1.0zM202.3 97.0h1.0v1.0h-1.0zM202.3 96.0h1.0v1.0h-1.0zM202.3 95.0h1.0v1.0h-1.0zM202.3 94.0h1.0v1.0h-1.0zM202.3 93.0h1.0v1.0h-1.0zM202.3 92.0h1.0v1.0h-1.0zM202.3 91.0h1.0v1.0h-1.0zM202.3 90.0h1.0v1.0h-1.0zM202.3 89.0h1.0v1.0h-1.0zM202.3 88.0h1.0v1.0h-1.0zM202.3 87.0h1.0v1.0h-1.0zM202.3 86.0h1.0v1.0h-1.0zM202.3 85.0h1.0v1.0h-1.0zM202.3 84.0h1.0v1.0h-1.0zM202.3 82.0h1.0v1.0h-1.0zM202.3 81.0h1.0v1.0h-1.0zM202.3 74.0h1.0v1.0h-1.0zM202.3 69.0h1.0v1.0h-1.0zM202.3 67.0h1.0v1.0h-1.0zM202.3 64.0h1.0v1.0h-1.0zM203.3 98.0h1.0v1.0h-1.0zM203.3 97.0h1.0v1.0h-1.0zM203.3 96.0h1.0v1.0h-1.0zM203.3 95.0h1.0v1.0h-1.0zM203.3 94.0h1.0v1.0h-1.0zM203.3 93.0h1.0v1.0h-1.0zM203.3 92.0h1.0v1.0h-1.0zM203.3 91.0h1.0v1.0h-1.0zM203.3 90.0h1.0v1.0h-1.0zM203.3 89.0h1.0v1.0h-1.0zM203.3 88.0h1.0v1.0h-1.0zM203.3 87.0h1.0v1.0h-1.0zM203.3 86.0h1.0v1.0h-1.0zM203.3 85.0h1.0v1.0h-1.0zM203.3 84.0h1.0v1.0h-1.0zM203.3 83.0h1.0v1.0h-1.0zM203.3 82.0h1.0v1.0h-1.0zM203.3 80.0h1.0v1.0h-1.0zM203.3 79.0h1.0v1.0h-1.0zM203.3 73.0h1.0v1.0h-1.0zM203.3 72.0h1.0v1.0h-1.0zM203.3 62.0h1.0v1.0h-1.0zM204.3 98.0h1.0v1.0h-1.0zM204.3 97.0h1.0v1.0h-1.0zM204.3 96.0h1.0v1.0h-1.0zM204.3 95.0h1.0v1.0h-1.0zM204.3 94.0h1.0v1.0h-1.0zM204.3 93.0h1.0v1.0h-1.0zM204.3 92.0h1.0v1.0h-1.0zM204.3 91.0h1.0v1.0h-1.0zM204.3 90.0h1.0v1.0h-1.0zM204.3 89.0h1.0v1.0h-1.0zM204.3 88.0h1.0v1.0h-1.0zM204.3 87.0h1.0v1.0h-1.0zM204.3 86.0h1.0v1.0h-1.0zM204.3 85.0h1.0v1.0h-1.0zM204.3 84.0h1.0v1.0h-1.0zM204.3 83.0h1.0v1.0h-1.0zM204.3 82.0h1.0v1.0h-1.0zM204.3 80.0h1.0v1.0h-1.0zM204.3 79.0h1.0v1.0h-1.0zM204.3 71.0h1.0v1.0h-1.0zM204.3 67.0h1.0v1.0h-1.0zM205.3 98.0h1.0v1.0h-1.0zM205.3 97.0h1.0v1.0h-1.0zM205.3 96.0h1.0v1.0h-1.0zM205.3 95.0h1.0v1.0h-1.0zM205.3 94.0h1.0v1.0h-1.0zM205.3 93.0h1.0v1.0h-1.0zM205.3 92.0h1.0v1.0h-1.0zM205.3 91.0h1.0v1.0h-1.0zM205.3 90.0h1.0v1.0h-1.0zM205.3 89.0h1.0v1.0h-1.0zM205.3 88.0h1.0v1.0h-1.0zM205.3 87.0h1.0v1.0h-1.0zM205.3 85.0h1.0v1.0h-1.0zM205.3 84.0h1.0v1.0h-1.0zM205.3 83.0h1.0v1.0h-1.0zM205.3 82.0h1.0v1.0h-1.0zM205.3 81.0h1.0v1.0h-1.0zM205.3 80.0h1.0v1.0h-1.0zM205.3 77.0h1.0v1.0h-1.0zM203.0 84.7h1.0v1.0h-1.0zM203.0 88.7h1.0v1.0h-1.0zM203.0 89.7h1.0v1.0h-1.0zM203.0 90.7h1.0v1.0h-1.0zM203.0 91.7h1.0v1.0h-1.0zM203.0 92.7h1.0v1.0h-1.0zM203.0 93.7h1.0v1.0h-1.0zM205.0 82.6h1.0v1.0h-1.0zM205.0 83.6h1.0v1.0h-1.0zM205.0 84.6h1.0v1.0h-1.0zM205.0 85.6h1.0v1.0h-1.0zM205.0 86.6h1.0v1.0h-1.0zM205.0 87.6h1.0v1.0h-1.0zM205.0 88.6h1.0v1.0h-1.0zM205.0 89.6h1.0v1.0h-1.0zM205.0 92.6h1.0v1.0h-1.0zM205.0 93.6h1.0v1.0h-1.0zM203.0 83.7h1.0v1.0h-1.0zM203.0 85.7h1.0v1.0h-1.0zM203.0 87.7h1.0v1.0h-1.0zM203.0 88.7h1.0v1.0h-1.0zM203.0 90.7h1.0v1.0h-1.0zM203.0 91.7h1.0v1.0h-1.0zM203.0 92.7h1.0v1.0h-1.0zM203.0 93.7h1.0v1.0h-1.0zM209.0 92.0h1.0v1.0h-1.0zM209.0 91.0h1.0v1.0h-1.0zM209.0 90.0h1.0v1.0h-1.0zM209.0 89.0h1.0v1.0h-1.0zM209.0 88.0h1.0v1.0h-1.0zM209.0 87.0h1.0v1.0h-1.0zM209.0 86.0h1.0v1.0h-1.0zM209.0 85.0h1.0v1.0h-1.0zM209.0 84.0h1.0v1.0h-1.0zM209.0 83.0h1.0v1.0h-1.0zM209.0 82.0h1.0v1.0h-1.0zM209.0 81.0h1.0v1.0h-1.0zM209.0 80.0h1.0v1.0h-1.0zM209.0 79.0h1.0v1.0h-1.0zM209.0 78.0h1.0v1.0h-1.0zM209.0 77.0h1.0v1.0h-1.0zM209.0 74.0h1.0v1.0h-1.0zM209.0 72.0h1.0v1.0h-1.0zM209.0 70.0h1.0v1.0h-1.0zM210.0 92.0h1.0v1.0h-1.0zM210.0 91.0h1.0v1.0h-1.0zM210.0 90.0h1.0v1.0h-1.0zM210.0 89.0h1.0v1.0h-1.0zM210.0 88.0h1.0v1.0h-1.0zM210.0 87.0h1.0v1.0h-1.0zM210.0 86.0h1.0v1.0h-1.0zM210.0 85.0h1.0v1.0h-1.0zM210.0 83.0h1.0v1.0h-1.0zM210.0 82.0h1.0v1.0h-1.0zM210.0 80.0h1.0v1.0h-1.0zM210.0 77.0h1.0v1.0h-1.0zM210.0 75.0h1.0v1.0h-1.0zM211.0 92.0h1.0v1.0h-1.0zM211.0 91.0h1.0v1.0h-1.0zM211.0 90.0h1.0v1.0h-1.0zM211.0 89.0h1.0v1.0h-1.0zM211.0 88.0h1.0v1.0h-1.0zM211.0 87.0h1.0v1.0h-1.0zM211.0 86.0h1.0v1.0h-1.0zM211.0 85.0h1.0v1.0h-1.0zM211.0 84.0h1.0v1.0h-1.0zM211.0 83.0h1.0v1.0h-1.0zM211.0 82.0h1.0v1.0h-1.0zM211.0 81.0h1.0v1.0h-1.0zM211.0 80.0h1.0v1.0h-1.0zM211.0 79.0h1.0v1.0h-1.0zM211.0 78.0h1.0v1.0h-1.0zM211.0 77.0h1.0v1.0h-1.0zM211.0 76.0h1.0v1.0h-1.0zM211.0 75.0h1.0v1.0h-1.0zM211.0 74.0h1.0v1.0h-1.0zM211.0 73.0h1.0v1.0h-1.0zM211.0 72.0h1.0v1.0h-1.0zM211.0 71.0h1.0v1.0h-1.0zM211.0 69.0h1.0v1.0h-1.0zM211.0 68.0h1.0v1.0h-1.0zM211.0 65.0h1.0v1.0h-1.0zM211.0 63.0h1.0v1.0h-1.0zM211.0 61.0h1.0v1.0h-1.0zM211.0 60.0h1.0v1.0h-1.0zM211.0 59.0h1.0v1.0h-1.0zM211.0 49.0h1.0v1.0h-1.0zM212.0 92.0h1.0v1.0h-1.0zM212.0 91.0h1.0v1.0h-1.0zM212.0 90.0h1.0v1.0h-1.0zM212.0 89.0h1.0v1.0h-1.0zM212.0 88.0h1.0v1.0h-1.0zM212.0 87.0h1.0v1.0h-1.0zM212.0 86.0h1.0v1.0h-1.0zM212.0 85.0h1.0v1.0h-1.0zM212.0 84.0h1.0v1.0h-1.0zM212.0 83.0h1.0v1.0h-1.0zM212.0 82.0h1.0v1.0h-1.0zM212.0 81.0h1.0v1.0h-1.0zM212.0 80.0h1.0v1.0h-1.0zM212.0 79.0h1.0v1.0h-1.0zM212.0 78.0h1.0v1.0h-1.0zM212.0 77.0h1.0v1.0h-1.0zM212.0 76.0h1.0v1.0h-1.0zM212.0 75.0h1.0v1.0h-1.0zM212.0 74.0h1.0v1.0h-1.0zM212.0 72.0h1.0v1.0h-1.0zM212.0 71.0h1.0v1.0h-1.0zM212.0 65.0h1.0v1.0h-1.0zM212.0 57.0h1.0v1.0h-1.0zM212.0 56.0h1.0v1.0h-1.0zM212.0 54.0h1.0v1.0h-1.0zM212.0 49.0h1.0v1.0h-1.0zM213.0 92.0h1.0v1.0h-1.0zM213.0 91.0h1.0v1.0h-1.0zM213.0 90.0h1.0v1.0h-1.0zM213.0 89.0h1.0v1.0h-1.0zM213.0 88.0h1.0v1.0h-1.0zM213.0 87.0h1.0v1.0h-1.0zM213.0 86.0h1.0v1.0h-1.0zM213.0 85.0h1.0v1.0h-1.0zM213.0 84.0h1.0v1.0h-1.0zM213.0 83.0h1.0v1.0h-1.0zM213.0 82.0h1.0v1.0h-1.0zM213.0 81.0h1.0v1.0h-1.0zM213.0 80.0h1.0v1.0h-1.0zM213.0 79.0h1.0v1.0h-1.0zM213.0 78.0h1.0v1.0h-1.0zM213.0 77.0h1.0v1.0h-1.0zM213.0 76.0h1.0v1.0h-1.0zM213.0 75.0h1.0v1.0h-1.0zM213.0 74.0h1.0v1.0h-1.0zM213.0 72.0h1.0v1.0h-1.0zM213.0 71.0h1.0v1.0h-1.0zM213.0 70.0h1.0v1.0h-1.0zM213.0 69.0h1.0v1.0h-1.0zM213.0 68.0h1.0v1.0h-1.0zM213.0 65.0h1.0v1.0h-1.0zM213.0 64.0h1.0v1.0h-1.0zM213.0 58.0h1.0v1.0h-1.0zM214.0 92.0h1.0v1.0h-1.0zM214.0 91.0h1.0v1.0h-1.0zM214.0 90.0h1.0v1.0h-1.0zM214.0 89.0h1.0v1.0h-1.0zM214.0 88.0h1.0v1.0h-1.0zM214.0 87.0h1.0v1.0h-1.0zM214.0 86.0h1.0v1.0h-1.0zM214.0 85.0h1.0v1.0h-1.0zM214.0 84.0h1.0v1.0h-1.0zM214.0 83.0h1.0v1.0h-1.0zM214.0 82.0h1.0v1.0h-1.0zM214.0 81.0h1.0v1.0h-1.0zM214.0 78.0h1.0v1.0h-1.0zM214.0 77.0h1.0v1.0h-1.0zM214.0 75.0h1.0v1.0h-1.0zM214.0 74.0h1.0v1.0h-1.0zM214.0 73.0h1.0v1.0h-1.0zM214.0 70.0h1.0v1.0h-1.0zM214.0 66.0h1.0v1.0h-1.0zM214.0 52.0h1.0v1.0h-1.0zM215.0 92.0h1.0v1.0h-1.0zM215.0 91.0h1.0v1.0h-1.0zM215.0 90.0h1.0v1.0h-1.0zM215.0 89.0h1.0v1.0h-1.0zM215.0 88.0h1.0v1.0h-1.0zM215.0 87.0h1.0v1.0h-1.0zM215.0 86.0h1.0v1.0h-1.0zM215.0 85.0h1.0v1.0h-1.0zM215.0 84.0h1.0v1.0h-1.0zM215.0 83.0h1.0v1.0h-1.0zM215.0 82.0h1.0v1.0h-1.0zM215.0 81.0h1.0v1.0h-1.0zM215.0 80.0h1.0v1.0h-1.0zM215.0 79.0h1.0v1.0h-1.0zM215.0 78.0h1.0v1.0h-1.0zM215.0 76.0h1.0v1.0h-1.0zM215.0 74.0h1.0v1.0h-1.0zM215.0 73.0h1.0v1.0h-1.0zM215.0 72.0h1.0v1.0h-1.0zM215.0 70.0h1.0v1.0h-1.0zM216.0 92.0h0.7v1.0h-0.7zM216.0 91.0h0.7v1.0h-0.7zM216.0 90.0h0.7v1.0h-0.7zM216.0 89.0h0.7v1.0h-0.7zM216.0 88.0h0.7v1.0h-0.7zM216.0 87.0h0.7v1.0h-0.7zM216.0 86.0h0.7v1.0h-0.7zM216.0 85.0h0.7v1.0h-0.7zM216.0 84.0h0.7v1.0h-0.7zM216.0 83.0h0.7v1.0h-0.7zM216.0 82.0h0.7v1.0h-0.7zM216.0 81.0h0.7v1.0h-0.7zM216.0 80.0h0.7v1.0h-0.7zM216.0 79.0h0.7v1.0h-0.7zM216.0 78.0h0.7v1.0h-0.7zM216.0 77.0h0.7v1.0h-0.7zM216.0 76.0h0.7v1.0h-0.7zM216.0 73.0h0.7v1.0h-0.7zM216.0 69.0h0.7v1.0h-0.7zM216.0 67.0h0.7v1.0h-0.7zM216.0 63.0h0.7v1.0h-0.7zM216.0 38.0h0.7v1.0h-0.7zM211.0 67.2h1.0v1.0h-1.0zM211.0 69.2h1.0v1.0h-1.0zM211.0 70.2h1.0v1.0h-1.0zM211.0 73.2h1.0v1.0h-1.0zM211.0 74.2h1.0v1.0h-1.0zM211.0 75.2h1.0v1.0h-1.0zM211.0 77.2h1.0v1.0h-1.0zM211.0 78.2h1.0v1.0h-1.0zM211.0 81.2h1.0v1.0h-1.0zM211.0 83.2h1.0v1.0h-1.0zM211.0 84.2h1.0v1.0h-1.0zM211.0 85.2h1.0v1.0h-1.0zM211.0 86.2h1.0v1.0h-1.0zM211.0 87.2h1.0v1.0h-1.0zM210.0 74.6h1.0v1.0h-1.0zM210.0 75.6h1.0v1.0h-1.0zM210.0 76.6h1.0v1.0h-1.0zM210.0 79.6h1.0v1.0h-1.0zM210.0 80.6h1.0v1.0h-1.0zM210.0 81.6h1.0v1.0h-1.0zM210.0 86.6h1.0v1.0h-1.0zM210.0 87.6h1.0v1.0h-1.0zM210.0 74.4h1.0v1.0h-1.0zM210.0 75.4h1.0v1.0h-1.0zM210.0 76.4h1.0v1.0h-1.0zM210.0 77.4h1.0v1.0h-1.0zM210.0 78.4h1.0v1.0h-1.0zM210.0 81.4h1.0v1.0h-1.0zM210.0 82.4h1.0v1.0h-1.0zM210.0 83.4h1.0v1.0h-1.0zM210.0 84.4h1.0v1.0h-1.0zM210.0 85.4h1.0v1.0h-1.0zM210.0 86.4h1.0v1.0h-1.0zM210.0 87.4h1.0v1.0h-1.0zM213.0 73.5h1.0v1.0h-1.0zM213.0 74.5h1.0v1.0h-1.0zM213.0 75.5h1.0v1.0h-1.0zM213.0 79.5h1.0v1.0h-1.0zM213.0 80.5h1.0v1.0h-1.0zM213.0 81.5h1.0v1.0h-1.0zM213.0 82.5h1.0v1.0h-1.0zM213.0 83.5h1.0v1.0h-1.0zM213.0 84.5h1.0v1.0h-1.0zM213.0 85.5h1.0v1.0h-1.0zM232.0 92.0h1.0v1.0h-1.0zM232.0 91.0h1.0v1.0h-1.0zM232.0 90.0h1.0v1.0h-1.0zM232.0 89.0h1.0v1.0h-1.0zM232.0 88.0h1.0v1.0h-1.0zM232.0 87.0h1.0v1.0h-1.0zM232.0 86.0h1.0v1.0h-1.0zM232.0 85.0h1.0v1.0h-1.0zM232.0 84.0h1.0v1.0h-1.0zM232.0 83.0h1.0v1.0h-1.0zM232.0 82.0h1.0v1.0h-1.0zM232.0 81.0h1.0v1.0h-1.0zM232.0 80.0h1.0v1.0h-1.0zM232.0 79.0h1.0v1.0h-1.0zM232.0 78.0h1.0v1.0h-1.0zM232.0 77.0h1.0v1.0h-1.0zM232.0 74.0h1.0v1.0h-1.0zM232.0 70.0h1.0v1.0h-1.0zM232.0 67.0h1.0v1.0h-1.0zM232.0 65.0h1.0v1.0h-1.0zM232.0 64.0h1.0v1.0h-1.0zM232.0 54.0h1.0v1.0h-1.0zM233.0 92.0h1.0v1.0h-1.0zM233.0 91.0h1.0v1.0h-1.0zM233.0 90.0h1.0v1.0h-1.0zM233.0 89.0h1.0v1.0h-1.0zM233.0 88.0h1.0v1.0h-1.0zM233.0 87.0h1.0v1.0h-1.0zM233.0 86.0h1.0v1.0h-1.0zM233.0 85.0h1.0v1.0h-1.0zM233.0 84.0h1.0v1.0h-1.0zM233.0 83.0h1.0v1.0h-1.0zM233.0 82.0h1.0v1.0h-1.0zM233.0 80.0h1.0v1.0h-1.0zM233.0 79.0h1.0v1.0h-1.0zM233.0 76.0h1.0v1.0h-1.0zM234.0 92.0h1.0v1.0h-1.0zM234.0 91.0h1.0v1.0h-1.0zM234.0 89.0h1.0v1.0h-1.0zM234.0 88.0h1.0v1.0h-1.0zM234.0 87.0h1.0v1.0h-1.0zM234.0 86.0h1.0v1.0h-1.0zM234.0 85.0h1.0v1.0h-1.0zM234.0 81.0h1.0v1.0h-1.0zM234.0 78.0h1.0v1.0h-1.0zM234.0 74.0h1.0v1.0h-1.0zM234.0 70.0h1.0v1.0h-1.0zM235.0 92.0h1.0v1.0h-1.0zM235.0 91.0h1.0v1.0h-1.0zM235.0 90.0h1.0v1.0h-1.0zM235.0 89.0h1.0v1.0h-1.0zM235.0 88.0h1.0v1.0h-1.0zM235.0 87.0h1.0v1.0h-1.0zM235.0 86.0h1.0v1.0h-1.0zM235.0 85.0h1.0v1.0h-1.0zM235.0 84.0h1.0v1.0h-1.0zM235.0 83.0h1.0v1.0h-1.0zM235.0 82.0h1.0v1.0h-1.0zM235.0 81.0h1.0v1.0h-1.0zM235.0 80.0h1.0v1.0h-1.0zM235.0 79.0h1.0v1.0h-1.0zM235.0 77.0h1.0v1.0h-1.0zM235.0 76.0h1.0v1.0h-1.0zM235.0 75.0h1.0v1.0h-1.0zM235.0 72.0h1.0v1.0h-1.0zM235.0 67.0h1.0v1.0h-1.0zM235.0 65.0h1.0v1.0h-1.0zM236.0 92.0h1.0v1.0h-1.0zM236.0 91.0h1.0v1.0h-1.0zM236.0 90.0h1.0v1.0h-1.0zM236.0 89.0h1.0v1.0h-1.0zM236.0 88.0h1.0v1.0h-1.0zM236.0 87.0h1.0v1.0h-1.0zM236.0 86.0h1.0v1.0h-1.0zM236.0 85.0h1.0v1.0h-1.0zM236.0 84.0h1.0v1.0h-1.0zM236.0 83.0h1.0v1.0h-1.0zM236.0 82.0h1.0v1.0h-1.0zM236.0 81.0h1.0v1.0h-1.0zM236.0 80.0h1.0v1.0h-1.0zM236.0 79.0h1.0v1.0h-1.0zM236.0 78.0h1.0v1.0h-1.0zM236.0 77.0h1.0v1.0h-1.0zM236.0 76.0h1.0v1.0h-1.0zM236.0 75.0h1.0v1.0h-1.0zM236.0 74.0h1.0v1.0h-1.0zM236.0 73.0h1.0v1.0h-1.0zM236.0 71.0h1.0v1.0h-1.0zM236.0 68.0h1.0v1.0h-1.0zM236.0 66.0h1.0v1.0h-1.0zM237.0 92.0h1.0v1.0h-1.0zM237.0 91.0h1.0v1.0h-1.0zM237.0 90.0h1.0v1.0h-1.0zM237.0 89.0h1.0v1.0h-1.0zM237.0 88.0h1.0v1.0h-1.0zM237.0 87.0h1.0v1.0h-1.0zM237.0 86.0h1.0v1.0h-1.0zM237.0 85.0h1.0v1.0h-1.0zM237.0 84.0h1.0v1.0h-1.0zM237.0 83.0h1.0v1.0h-1.0zM237.0 82.0h1.0v1.0h-1.0zM237.0 81.0h1.0v1.0h-1.0zM237.0 80.0h1.0v1.0h-1.0zM237.0 76.0h1.0v1.0h-1.0zM237.0 71.0h1.0v1.0h-1.0zM237.0 69.0h1.0v1.0h-1.0zM238.0 92.0h1.0v1.0h-1.0zM238.0 91.0h1.0v1.0h-1.0zM238.0 90.0h1.0v1.0h-1.0zM238.0 89.0h1.0v1.0h-1.0zM238.0 88.0h1.0v1.0h-1.0zM238.0 87.0h1.0v1.0h-1.0zM238.0 86.0h1.0v1.0h-1.0zM238.0 85.0h1.0v1.0h-1.0zM238.0 84.0h1.0v1.0h-1.0zM238.0 83.0h1.0v1.0h-1.0zM238.0 82.0h1.0v1.0h-1.0zM238.0 81.0h1.0v1.0h-1.0zM238.0 80.0h1.0v1.0h-1.0zM238.0 79.0h1.0v1.0h-1.0zM238.0 77.0h1.0v1.0h-1.0zM238.0 73.0h1.0v1.0h-1.0zM238.0 72.0h1.0v1.0h-1.0zM238.0 68.0h1.0v1.0h-1.0zM238.0 66.0h1.0v1.0h-1.0zM238.0 64.0h1.0v1.0h-1.0zM239.0 92.0h1.0v1.0h-1.0zM239.0 91.0h1.0v1.0h-1.0zM239.0 90.0h1.0v1.0h-1.0zM239.0 89.0h1.0v1.0h-1.0zM239.0 88.0h1.0v1.0h-1.0zM239.0 87.0h1.0v1.0h-1.0zM239.0 86.0h1.0v1.0h-1.0zM239.0 85.0h1.0v1.0h-1.0zM239.0 84.0h1.0v1.0h-1.0zM239.0 83.0h1.0v1.0h-1.0zM239.0 82.0h1.0v1.0h-1.0zM239.0 81.0h1.0v1.0h-1.0zM239.0 80.0h1.0v1.0h-1.0zM239.0 79.0h1.0v1.0h-1.0zM239.0 77.0h1.0v1.0h-1.0zM239.0 74.0h1.0v1.0h-1.0zM239.0 65.0h1.0v1.0h-1.0zM239.0 61.0h1.0v1.0h-1.0zM240.0 92.0h1.0v1.0h-1.0zM240.0 91.0h1.0v1.0h-1.0zM240.0 90.0h1.0v1.0h-1.0zM240.0 89.0h1.0v1.0h-1.0zM240.0 88.0h1.0v1.0h-1.0zM240.0 87.0h1.0v1.0h-1.0zM240.0 86.0h1.0v1.0h-1.0zM240.0 84.0h1.0v1.0h-1.0zM240.0 83.0h1.0v1.0h-1.0zM240.0 82.0h1.0v1.0h-1.0zM240.0 81.0h1.0v1.0h-1.0zM240.0 80.0h1.0v1.0h-1.0zM240.0 79.0h1.0v1.0h-1.0zM240.0 75.0h1.0v1.0h-1.0zM240.0 74.0h1.0v1.0h-1.0zM240.0 72.0h1.0v1.0h-1.0zM241.0 92.0h1.0v1.0h-1.0zM241.0 91.0h1.0v1.0h-1.0zM241.0 90.0h1.0v1.0h-1.0zM241.0 89.0h1.0v1.0h-1.0zM241.0 88.0h1.0v1.0h-1.0zM241.0 87.0h1.0v1.0h-1.0zM241.0 86.0h1.0v1.0h-1.0zM241.0 85.0h1.0v1.0h-1.0zM241.0 84.0h1.0v1.0h-1.0zM241.0 83.0h1.0v1.0h-1.0zM241.0 82.0h1.0v1.0h-1.0zM241.0 81.0h1.0v1.0h-1.0zM241.0 80.0h1.0v1.0h-1.0zM241.0 78.0h1.0v1.0h-1.0zM241.0 76.0h1.0v1.0h-1.0zM241.0 75.0h1.0v1.0h-1.0zM241.0 74.0h1.0v1.0h-1.0zM241.0 73.0h1.0v1.0h-1.0zM241.0 69.0h1.0v1.0h-1.0zM241.0 59.0h1.0v1.0h-1.0zM242.0 92.0h1.0v1.0h-1.0zM242.0 91.0h1.0v1.0h-1.0zM242.0 90.0h1.0v1.0h-1.0zM242.0 89.0h1.0v1.0h-1.0zM242.0 88.0h1.0v1.0h-1.0zM242.0 87.0h1.0v1.0h-1.0zM242.0 86.0h1.0v1.0h-1.0zM242.0 85.0h1.0v1.0h-1.0zM242.0 84.0h1.0v1.0h-1.0zM242.0 83.0h1.0v1.0h-1.0zM242.0 82.0h1.0v1.0h-1.0zM243.0 92.0h1.0v1.0h-1.0zM243.0 91.0h1.0v1.0h-1.0zM243.0 90.0h1.0v1.0h-1.0zM243.0 89.0h1.0v1.0h-1.0zM243.0 88.0h1.0v1.0h-1.0zM243.0 87.0h1.0v1.0h-1.0zM243.0 86.0h1.0v1.0h-1.0zM243.0 85.0h1.0v1.0h-1.0zM243.0 84.0h1.0v1.0h-1.0zM243.0 83.0h1.0v1.0h-1.0zM243.0 81.0h1.0v1.0h-1.0zM243.0 80.0h1.0v1.0h-1.0zM243.0 78.0h1.0v1.0h-1.0zM243.0 77.0h1.0v1.0h-1.0zM243.0 76.0h1.0v1.0h-1.0zM243.0 75.0h1.0v1.0h-1.0zM243.0 70.0h1.0v1.0h-1.0zM243.0 64.0h1.0v1.0h-1.0zM244.0 92.0h1.0v1.0h-1.0zM244.0 91.0h1.0v1.0h-1.0zM244.0 90.0h1.0v1.0h-1.0zM244.0 89.0h1.0v1.0h-1.0zM244.0 88.0h1.0v1.0h-1.0zM244.0 87.0h1.0v1.0h-1.0zM244.0 86.0h1.0v1.0h-1.0zM244.0 85.0h1.0v1.0h-1.0zM244.0 84.0h1.0v1.0h-1.0zM244.0 83.0h1.0v1.0h-1.0zM244.0 82.0h1.0v1.0h-1.0zM244.0 81.0h1.0v1.0h-1.0zM244.0 80.0h1.0v1.0h-1.0zM244.0 79.0h1.0v1.0h-1.0zM244.0 78.0h1.0v1.0h-1.0zM244.0 77.0h1.0v1.0h-1.0zM244.0 76.0h1.0v1.0h-1.0zM244.0 75.0h1.0v1.0h-1.0zM244.0 73.0h1.0v1.0h-1.0zM244.0 72.0h1.0v1.0h-1.0zM244.0 71.0h1.0v1.0h-1.0zM244.0 69.0h1.0v1.0h-1.0zM244.0 64.0h1.0v1.0h-1.0zM245.0 92.0h1.0v1.0h-1.0zM245.0 91.0h1.0v1.0h-1.0zM245.0 90.0h1.0v1.0h-1.0zM245.0 89.0h1.0v1.0h-1.0zM245.0 88.0h1.0v1.0h-1.0zM245.0 87.0h1.0v1.0h-1.0zM245.0 86.0h1.0v1.0h-1.0zM245.0 85.0h1.0v1.0h-1.0zM245.0 84.0h1.0v1.0h-1.0zM245.0 83.0h1.0v1.0h-1.0zM245.0 82.0h1.0v1.0h-1.0zM245.0 81.0h1.0v1.0h-1.0zM245.0 80.0h1.0v1.0h-1.0zM245.0 79.0h1.0v1.0h-1.0zM245.0 78.0h1.0v1.0h-1.0zM245.0 77.0h1.0v1.0h-1.0zM245.0 76.0h1.0v1.0h-1.0zM245.0 75.0h1.0v1.0h-1.0zM245.0 74.0h1.0v1.0h-1.0zM245.0 73.0h1.0v1.0h-1.0zM245.0 72.0h1.0v1.0h-1.0zM245.0 71.0h1.0v1.0h-1.0zM245.0 70.0h1.0v1.0h-1.0zM245.0 69.0h1.0v1.0h-1.0zM245.0 68.0h1.0v1.0h-1.0zM245.0 67.0h1.0v1.0h-1.0zM245.0 66.0h1.0v1.0h-1.0zM245.0 65.0h1.0v1.0h-1.0zM245.0 64.0h1.0v1.0h-1.0zM245.0 62.0h1.0v1.0h-1.0zM245.0 55.0h1.0v1.0h-1.0zM246.0 92.0h0.6v1.0h-0.6zM246.0 91.0h0.6v1.0h-0.6zM246.0 90.0h0.6v1.0h-0.6zM246.0 89.0h0.6v1.0h-0.6zM246.0 88.0h0.6v1.0h-0.6zM246.0 87.0h0.6v1.0h-0.6zM246.0 86.0h0.6v1.0h-0.6zM246.0 85.0h0.6v1.0h-0.6zM246.0 82.0h0.6v1.0h-0.6zM246.0 81.0h0.6v1.0h-0.6zM246.0 80.0h0.6v1.0h-0.6zM246.0 75.0h0.6v1.0h-0.6zM246.0 73.0h0.6v1.0h-0.6zM246.0 72.0h0.6v1.0h-0.6zM246.0 70.0h0.6v1.0h-0.6zM246.0 64.0h0.6v1.0h-0.6zM234.0 76.9h1.0v1.0h-1.0zM234.0 77.9h1.0v1.0h-1.0zM234.0 78.9h1.0v1.0h-1.0zM234.0 79.9h1.0v1.0h-1.0zM234.0 80.9h1.0v1.0h-1.0zM234.0 81.9h1.0v1.0h-1.0zM234.0 82.9h1.0v1.0h-1.0zM234.0 83.9h1.0v1.0h-1.0zM234.0 84.9h1.0v1.0h-1.0zM234.0 85.9h1.0v1.0h-1.0zM234.0 86.9h1.0v1.0h-1.0zM234.0 87.9h1.0v1.0h-1.0zM240.0 58.0h1.0v1.0h-1.0zM240.0 60.0h1.0v1.0h-1.0zM240.0 61.0h1.0v1.0h-1.0zM240.0 62.0h1.0v1.0h-1.0zM240.0 63.0h1.0v1.0h-1.0zM240.0 65.0h1.0v1.0h-1.0zM240.0 66.0h1.0v1.0h-1.0zM240.0 67.0h1.0v1.0h-1.0zM240.0 69.0h1.0v1.0h-1.0zM240.0 70.0h1.0v1.0h-1.0zM240.0 71.0h1.0v1.0h-1.0zM240.0 72.0h1.0v1.0h-1.0zM240.0 73.0h1.0v1.0h-1.0zM240.0 75.0h1.0v1.0h-1.0zM240.0 76.0h1.0v1.0h-1.0zM240.0 78.0h1.0v1.0h-1.0zM240.0 81.0h1.0v1.0h-1.0zM240.0 83.0h1.0v1.0h-1.0zM240.0 84.0h1.0v1.0h-1.0zM240.0 87.0h1.0v1.0h-1.0zM236.0 78.3h1.0v1.0h-1.0zM236.0 79.3h1.0v1.0h-1.0zM236.0 80.3h1.0v1.0h-1.0zM236.0 81.3h1.0v1.0h-1.0zM236.0 82.3h1.0v1.0h-1.0zM236.0 83.3h1.0v1.0h-1.0zM236.0 84.3h1.0v1.0h-1.0zM236.0 87.3h1.0v1.0h-1.0zM238.0 71.9h1.0v1.0h-1.0zM238.0 73.9h1.0v1.0h-1.0zM238.0 75.9h1.0v1.0h-1.0zM238.0 76.9h1.0v1.0h-1.0zM238.0 78.9h1.0v1.0h-1.0zM238.0 79.9h1.0v1.0h-1.0zM238.0 80.9h1.0v1.0h-1.0zM238.0 81.9h1.0v1.0h-1.0zM238.0 83.9h1.0v1.0h-1.0zM238.0 84.9h1.0v1.0h-1.0zM238.0 85.9h1.0v1.0h-1.0zM236.0 72.0h1.0v1.0h-1.0zM236.0 73.0h1.0v1.0h-1.0zM236.0 74.0h1.0v1.0h-1.0zM236.0 75.0h1.0v1.0h-1.0zM236.0 77.0h1.0v1.0h-1.0zM236.0 79.0h1.0v1.0h-1.0zM236.0 80.0h1.0v1.0h-1.0zM236.0 81.0h1.0v1.0h-1.0zM236.0 83.0h1.0v1.0h-1.0zM236.0 85.0h1.0v1.0h-1.0zM236.0 86.0h1.0v1.0h-1.0zM236.0 87.0h1.0v1.0h-1.0zM239.0 78.0h1.0v1.0h-1.0zM239.0 80.0h1.0v1.0h-1.0zM239.0 81.0h1.0v1.0h-1.0zM239.0 82.0h1.0v1.0h-1.0zM239.0 83.0h1.0v1.0h-1.0zM239.0 85.0h1.0v1.0h-1.0zM239.0 86.0h1.0v1.0h-1.0zM239.0 87.0h1.0v1.0h-1.0zM232.0 74.7h1.0v1.0h-1.0zM232.0 75.7h1.0v1.0h-1.0zM232.0 77.7h1.0v1.0h-1.0zM232.0 78.7h1.0v1.0h-1.0zM232.0 79.7h1.0v1.0h-1.0zM232.0 80.7h1.0v1.0h-1.0zM232.0 82.7h1.0v1.0h-1.0zM232.0 83.7h1.0v1.0h-1.0zM232.0 85.7h1.0v1.0h-1.0zM232.0 87.7h1.0v1.0h-1.0zM237.0 78.2h1.0v1.0h-1.0zM237.0 79.2h1.0v1.0h-1.0zM237.0 80.2h1.0v1.0h-1.0zM237.0 81.2h1.0v1.0h-1.0zM237.0 82.2h1.0v1.0h-1.0zM237.0 83.2h1.0v1.0h-1.0zM237.0 84.2h1.0v1.0h-1.0zM237.0 85.2h1.0v1.0h-1.0zM237.0 86.2h1.0v1.0h-1.0zM244.0 62.5h1.0v1.0h-1.0zM244.0 63.5h1.0v1.0h-1.0zM244.0 64.5h1.0v1.0h-1.0zM244.0 66.5h1.0v1.0h-1.0zM244.0 67.5h1.0v1.0h-1.0zM244.0 69.5h1.0v1.0h-1.0zM244.0 70.5h1.0v1.0h-1.0zM244.0 72.5h1.0v1.0h-1.0zM244.0 73.5h1.0v1.0h-1.0zM244.0 74.5h1.0v1.0h-1.0zM244.0 77.5h1.0v1.0h-1.0zM244.0 78.5h1.0v1.0h-1.0zM244.0 79.5h1.0v1.0h-1.0zM244.0 80.5h1.0v1.0h-1.0zM244.0 81.5h1.0v1.0h-1.0zM244.0 82.5h1.0v1.0h-1.0zM244.0 83.5h1.0v1.0h-1.0zM244.0 85.5h1.0v1.0h-1.0zM244.0 87.5h1.0v1.0h-1.0zM238.0 76.5h1.0v1.0h-1.0zM238.0 77.5h1.0v1.0h-1.0zM238.0 79.5h1.0v1.0h-1.0zM238.0 80.5h1.0v1.0h-1.0zM238.0 85.5h1.0v1.0h-1.0zM261.8 95.0h1.0v1.0h-1.0zM261.8 94.0h1.0v1.0h-1.0zM261.8 93.0h1.0v1.0h-1.0zM261.8 92.0h1.0v1.0h-1.0zM261.8 91.0h1.0v1.0h-1.0zM261.8 90.0h1.0v1.0h-1.0zM261.8 89.0h1.0v1.0h-1.0zM261.8 88.0h1.0v1.0h-1.0zM261.8 87.0h1.0v1.0h-1.0zM261.8 86.0h1.0v1.0h-1.0zM261.8 85.0h1.0v1.0h-1.0zM261.8 84.0h1.0v1.0h-1.0zM261.8 83.0h1.0v1.0h-1.0zM261.8 82.0h1.0v1.0h-1.0zM261.8 81.0h1.0v1.0h-1.0zM261.8 80.0h1.0v1.0h-1.0zM261.8 79.0h1.0v1.0h-1.0zM261.8 78.0h1.0v1.0h-1.0zM261.8 77.0h1.0v1.0h-1.0zM261.8 75.0h1.0v1.0h-1.0zM261.8 73.0h1.0v1.0h-1.0zM261.8 72.0h1.0v1.0h-1.0zM261.8 71.0h1.0v1.0h-1.0zM261.8 70.0h1.0v1.0h-1.0zM261.8 69.0h1.0v1.0h-1.0zM261.8 61.0h1.0v1.0h-1.0zM261.8 58.0h1.0v1.0h-1.0zM261.8 57.0h1.0v1.0h-1.0zM262.8 95.0h1.0v1.0h-1.0zM262.8 94.0h1.0v1.0h-1.0zM262.8 92.0h1.0v1.0h-1.0zM262.8 91.0h1.0v1.0h-1.0zM262.8 89.0h1.0v1.0h-1.0zM262.8 86.0h1.0v1.0h-1.0zM262.8 84.0h1.0v1.0h-1.0zM262.8 79.0h1.0v1.0h-1.0zM263.8 95.0h1.0v1.0h-1.0zM263.8 94.0h1.0v1.0h-1.0zM263.8 93.0h1.0v1.0h-1.0zM263.8 92.0h1.0v1.0h-1.0zM263.8 91.0h1.0v1.0h-1.0zM263.8 90.0h1.0v1.0h-1.0zM263.8 89.0h1.0v1.0h-1.0zM263.8 85.0h1.0v1.0h-1.0zM263.8 84.0h1.0v1.0h-1.0zM263.8 82.0h1.0v1.0h-1.0zM263.8 81.0h1.0v1.0h-1.0zM263.8 79.0h1.0v1.0h-1.0zM263.8 72.0h1.0v1.0h-1.0zM263.8 71.0h1.0v1.0h-1.0zM263.8 70.0h1.0v1.0h-1.0zM264.8 95.0h1.0v1.0h-1.0zM264.8 94.0h1.0v1.0h-1.0zM264.8 93.0h1.0v1.0h-1.0zM264.8 92.0h1.0v1.0h-1.0zM264.8 91.0h1.0v1.0h-1.0zM264.8 90.0h1.0v1.0h-1.0zM264.8 89.0h1.0v1.0h-1.0zM264.8 88.0h1.0v1.0h-1.0zM264.8 87.0h1.0v1.0h-1.0zM264.8 86.0h1.0v1.0h-1.0zM264.8 85.0h1.0v1.0h-1.0zM264.8 84.0h1.0v1.0h-1.0zM264.8 82.0h1.0v1.0h-1.0zM264.8 81.0h1.0v1.0h-1.0zM264.8 77.0h1.0v1.0h-1.0zM264.8 64.0h1.0v1.0h-1.0zM264.8 58.0h1.0v1.0h-1.0zM265.8 95.0h1.0v1.0h-1.0zM265.8 94.0h1.0v1.0h-1.0zM265.8 93.0h1.0v1.0h-1.0zM265.8 92.0h1.0v1.0h-1.0zM265.8 91.0h1.0v1.0h-1.0zM265.8 90.0h1.0v1.0h-1.0zM265.8 89.0h1.0v1.0h-1.0zM265.8 88.0h1.0v1.0h-1.0zM265.8 87.0h1.0v1.0h-1.0zM265.8 86.0h1.0v1.0h-1.0zM265.8 84.0h1.0v1.0h-1.0zM265.8 83.0h1.0v1.0h-1.0zM265.8 82.0h1.0v1.0h-1.0zM265.8 81.0h1.0v1.0h-1.0zM265.8 80.0h1.0v1.0h-1.0zM265.8 79.0h1.0v1.0h-1.0zM265.8 78.0h1.0v1.0h-1.0zM265.8 76.0h1.0v1.0h-1.0zM265.8 73.0h1.0v1.0h-1.0zM265.8 71.0h1.0v1.0h-1.0zM265.8 69.0h1.0v1.0h-1.0zM266.8 95.0h1.0v1.0h-1.0zM266.8 94.0h1.0v1.0h-1.0zM266.8 93.0h1.0v1.0h-1.0zM266.8 92.0h1.0v1.0h-1.0zM266.8 91.0h1.0v1.0h-1.0zM266.8 90.0h1.0v1.0h-1.0zM266.8 89.0h1.0v1.0h-1.0zM266.8 88.0h1.0v1.0h-1.0zM266.8 87.0h1.0v1.0h-1.0zM266.8 86.0h1.0v1.0h-1.0zM266.8 85.0h1.0v1.0h-1.0zM266.8 84.0h1.0v1.0h-1.0zM266.8 83.0h1.0v1.0h-1.0zM266.8 82.0h1.0v1.0h-1.0zM266.8 81.0h1.0v1.0h-1.0zM266.8 80.0h1.0v1.0h-1.0zM266.8 79.0h1.0v1.0h-1.0zM266.8 78.0h1.0v1.0h-1.0zM266.8 77.0h1.0v1.0h-1.0zM266.8 76.0h1.0v1.0h-1.0zM266.8 71.0h1.0v1.0h-1.0zM266.8 67.0h1.0v1.0h-1.0zM266.8 66.0h1.0v1.0h-1.0zM266.8 40.0h1.0v1.0h-1.0zM267.8 95.0h1.0v1.0h-1.0zM267.8 94.0h1.0v1.0h-1.0zM267.8 93.0h1.0v1.0h-1.0zM267.8 92.0h1.0v1.0h-1.0zM267.8 91.0h1.0v1.0h-1.0zM267.8 90.0h1.0v1.0h-1.0zM267.8 89.0h1.0v1.0h-1.0zM267.8 88.0h1.0v1.0h-1.0zM267.8 87.0h1.0v1.0h-1.0zM267.8 86.0h1.0v1.0h-1.0zM267.8 85.0h1.0v1.0h-1.0zM267.8 84.0h1.0v1.0h-1.0zM267.8 83.0h1.0v1.0h-1.0zM267.8 82.0h1.0v1.0h-1.0zM267.8 81.0h1.0v1.0h-1.0zM267.8 80.0h1.0v1.0h-1.0zM267.8 76.0h1.0v1.0h-1.0zM267.8 72.0h1.0v1.0h-1.0zM267.8 71.0h1.0v1.0h-1.0zM267.8 70.0h1.0v1.0h-1.0zM268.8 95.0h1.0v1.0h-1.0zM268.8 94.0h1.0v1.0h-1.0zM268.8 93.0h1.0v1.0h-1.0zM268.8 92.0h1.0v1.0h-1.0zM268.8 91.0h1.0v1.0h-1.0zM268.8 90.0h1.0v1.0h-1.0zM268.8 89.0h1.0v1.0h-1.0zM268.8 88.0h1.0v1.0h-1.0zM268.8 87.0h1.0v1.0h-1.0zM268.8 86.0h1.0v1.0h-1.0zM268.8 85.0h1.0v1.0h-1.0zM268.8 84.0h1.0v1.0h-1.0zM268.8 83.0h1.0v1.0h-1.0zM268.8 82.0h1.0v1.0h-1.0zM268.8 81.0h1.0v1.0h-1.0zM268.8 79.0h1.0v1.0h-1.0zM268.8 78.0h1.0v1.0h-1.0zM268.8 77.0h1.0v1.0h-1.0zM268.8 76.0h1.0v1.0h-1.0zM268.8 68.0h1.0v1.0h-1.0zM268.8 60.0h1.0v1.0h-1.0zM269.8 95.0h1.0v1.0h-1.0zM269.8 94.0h1.0v1.0h-1.0zM269.8 93.0h1.0v1.0h-1.0zM269.8 92.0h1.0v1.0h-1.0zM269.8 91.0h1.0v1.0h-1.0zM269.8 90.0h1.0v1.0h-1.0zM269.8 89.0h1.0v1.0h-1.0zM269.8 88.0h1.0v1.0h-1.0zM269.8 87.0h1.0v1.0h-1.0zM269.8 86.0h1.0v1.0h-1.0zM269.8 85.0h1.0v1.0h-1.0zM269.8 84.0h1.0v1.0h-1.0zM269.8 83.0h1.0v1.0h-1.0zM269.8 81.0h1.0v1.0h-1.0zM269.8 79.0h1.0v1.0h-1.0zM269.8 77.0h1.0v1.0h-1.0zM269.8 75.0h1.0v1.0h-1.0zM269.8 74.0h1.0v1.0h-1.0zM269.8 70.0h1.0v1.0h-1.0zM269.8 69.0h1.0v1.0h-1.0zM269.8 68.0h1.0v1.0h-1.0zM270.8 95.0h1.0v1.0h-1.0zM270.8 94.0h1.0v1.0h-1.0zM270.8 93.0h1.0v1.0h-1.0zM270.8 92.0h1.0v1.0h-1.0zM270.8 91.0h1.0v1.0h-1.0zM270.8 90.0h1.0v1.0h-1.0zM270.8 89.0h1.0v1.0h-1.0zM270.8 88.0h1.0v1.0h-1.0zM270.8 87.0h1.0v1.0h-1.0zM270.8 86.0h1.0v1.0h-1.0zM270.8 85.0h1.0v1.0h-1.0zM270.8 82.0h1.0v1.0h-1.0zM270.8 81.0h1.0v1.0h-1.0zM270.8 80.0h1.0v1.0h-1.0zM270.8 78.0h1.0v1.0h-1.0zM270.8 76.0h1.0v1.0h-1.0zM270.8 65.0h1.0v1.0h-1.0zM270.0 76.1h1.0v1.0h-1.0zM270.0 77.1h1.0v1.0h-1.0zM270.0 78.1h1.0v1.0h-1.0zM270.0 79.1h1.0v1.0h-1.0zM270.0 80.1h1.0v1.0h-1.0zM270.0 81.1h1.0v1.0h-1.0zM270.0 83.1h1.0v1.0h-1.0zM270.0 84.1h1.0v1.0h-1.0zM270.0 85.1h1.0v1.0h-1.0zM270.0 86.1h1.0v1.0h-1.0zM270.0 87.1h1.0v1.0h-1.0zM270.0 88.1h1.0v1.0h-1.0zM270.0 90.1h1.0v1.0h-1.0zM267.0 78.1h1.0v1.0h-1.0zM267.0 79.1h1.0v1.0h-1.0zM267.0 80.1h1.0v1.0h-1.0zM267.0 81.1h1.0v1.0h-1.0zM267.0 82.1h1.0v1.0h-1.0zM267.0 84.1h1.0v1.0h-1.0zM267.0 87.1h1.0v1.0h-1.0zM267.0 88.1h1.0v1.0h-1.0zM267.0 90.1h1.0v1.0h-1.0zM268.0 78.7h1.0v1.0h-1.0zM268.0 79.7h1.0v1.0h-1.0zM268.0 80.7h1.0v1.0h-1.0zM268.0 81.7h1.0v1.0h-1.0zM268.0 84.7h1.0v1.0h-1.0zM268.0 86.7h1.0v1.0h-1.0zM268.0 87.7h1.0v1.0h-1.0zM268.0 88.7h1.0v1.0h-1.0zM268.0 89.7h1.0v1.0h-1.0zM268.0 90.7h1.0v1.0h-1.0zM262.0 68.2h1.0v1.0h-1.0zM262.0 69.2h1.0v1.0h-1.0zM262.0 70.2h1.0v1.0h-1.0zM262.0 71.2h1.0v1.0h-1.0zM262.0 73.2h1.0v1.0h-1.0zM262.0 78.2h1.0v1.0h-1.0zM262.0 79.2h1.0v1.0h-1.0zM262.0 80.2h1.0v1.0h-1.0zM262.0 81.2h1.0v1.0h-1.0zM262.0 82.2h1.0v1.0h-1.0zM262.0 83.2h1.0v1.0h-1.0zM262.0 84.2h1.0v1.0h-1.0zM262.0 86.2h1.0v1.0h-1.0zM262.0 88.2h1.0v1.0h-1.0zM262.0 89.2h1.0v1.0h-1.0zM264.0 74.4h1.0v1.0h-1.0zM264.0 75.4h1.0v1.0h-1.0zM264.0 76.4h1.0v1.0h-1.0zM264.0 78.4h1.0v1.0h-1.0zM264.0 80.4h1.0v1.0h-1.0zM264.0 83.4h1.0v1.0h-1.0zM264.0 85.4h1.0v1.0h-1.0zM264.0 86.4h1.0v1.0h-1.0zM264.0 87.4h1.0v1.0h-1.0zM264.0 89.4h1.0v1.0h-1.0zM264.0 90.4h1.0v1.0h-1.0zM270.0 76.3h1.0v1.0h-1.0zM270.0 77.3h1.0v1.0h-1.0zM270.0 79.3h1.0v1.0h-1.0zM270.0 81.3h1.0v1.0h-1.0zM270.0 83.3h1.0v1.0h-1.0zM270.0 85.3h1.0v1.0h-1.0zM270.0 87.3h1.0v1.0h-1.0zM270.0 88.3h1.0v1.0h-1.0zM270.0 90.3h1.0v1.0h-1.0zM264.0 64.2h1.0v1.0h-1.0zM264.0 65.2h1.0v1.0h-1.0zM264.0 66.2h1.0v1.0h-1.0zM264.0 67.2h1.0v1.0h-1.0zM264.0 68.2h1.0v1.0h-1.0zM264.0 69.2h1.0v1.0h-1.0zM264.0 70.2h1.0v1.0h-1.0zM264.0 71.2h1.0v1.0h-1.0zM264.0 73.2h1.0v1.0h-1.0zM264.0 74.2h1.0v1.0h-1.0zM264.0 75.2h1.0v1.0h-1.0zM264.0 76.2h1.0v1.0h-1.0zM264.0 78.2h1.0v1.0h-1.0zM264.0 79.2h1.0v1.0h-1.0zM264.0 80.2h1.0v1.0h-1.0zM264.0 81.2h1.0v1.0h-1.0zM264.0 82.2h1.0v1.0h-1.0zM264.0 85.2h1.0v1.0h-1.0zM264.0 90.2h1.0v1.0h-1.0zM282.2 96.0h1.0v1.0h-1.0zM282.2 95.0h1.0v1.0h-1.0zM282.2 94.0h1.0v1.0h-1.0zM282.2 93.0h1.0v1.0h-1.0zM282.2 92.0h1.0v1.0h-1.0zM282.2 91.0h1.0v1.0h-1.0zM282.2 90.0h1.0v1.0h-1.0zM282.2 89.0h1.0v1.0h-1.0zM282.2 88.0h1.0v1.0h-1.0zM282.2 87.0h1.0v1.0h-1.0zM282.2 86.0h1.0v1.0h-1.0zM282.2 85.0h1.0v1.0h-1.0zM282.2 84.0h1.0v1.0h-1.0zM282.2 83.0h1.0v1.0h-1.0zM282.2 82.0h1.0v1.0h-1.0zM282.2 81.0h1.0v1.0h-1.0zM282.2 80.0h1.0v1.0h-1.0zM282.2 79.0h1.0v1.0h-1.0zM282.2 78.0h1.0v1.0h-1.0zM282.2 77.0h1.0v1.0h-1.0zM282.2 74.0h1.0v1.0h-1.0zM283.2 96.0h1.0v1.0h-1.0zM283.2 95.0h1.0v1.0h-1.0zM283.2 94.0h1.0v1.0h-1.0zM283.2 93.0h1.0v1.0h-1.0zM283.2 92.0h1.0v1.0h-1.0zM283.2 91.0h1.0v1.0h-1.0zM283.2 90.0h1.0v1.0h-1.0zM283.2 89.0h1.0v1.0h-1.0zM283.2 88.0h1.0v1.0h-1.0zM283.2 87.0h1.0v1.0h-1.0zM283.2 86.0h1.0v1.0h-1.0zM283.2 85.0h1.0v1.0h-1.0zM283.2 84.0h1.0v1.0h-1.0zM283.2 83.0h1.0v1.0h-1.0zM283.2 82.0h1.0v1.0h-1.0zM283.2 81.0h1.0v1.0h-1.0zM283.2 77.0h1.0v1.0h-1.0zM283.2 76.0h1.0v1.0h-1.0zM283.2 74.0h1.0v1.0h-1.0zM283.2 73.0h1.0v1.0h-1.0zM283.2 68.0h1.0v1.0h-1.0zM284.2 96.0h1.0v1.0h-1.0zM284.2 95.0h1.0v1.0h-1.0zM284.2 94.0h1.0v1.0h-1.0zM284.2 93.0h1.0v1.0h-1.0zM284.2 92.0h1.0v1.0h-1.0zM284.2 91.0h1.0v1.0h-1.0zM284.2 90.0h1.0v1.0h-1.0zM284.2 89.0h1.0v1.0h-1.0zM284.2 88.0h1.0v1.0h-1.0zM284.2 87.0h1.0v1.0h-1.0zM284.2 86.0h1.0v1.0h-1.0zM284.2 85.0h1.0v1.0h-1.0zM284.2 84.0h1.0v1.0h-1.0zM284.2 83.0h1.0v1.0h-1.0zM284.2 82.0h1.0v1.0h-1.0zM284.2 81.0h1.0v1.0h-1.0zM284.2 80.0h1.0v1.0h-1.0zM284.2 79.0h1.0v1.0h-1.0zM284.2 78.0h1.0v1.0h-1.0zM284.2 76.0h1.0v1.0h-1.0zM284.2 75.0h1.0v1.0h-1.0zM284.2 63.0h1.0v1.0h-1.0zM284.2 55.0h1.0v1.0h-1.0zM284.2 45.0h1.0v1.0h-1.0zM285.2 96.0h1.0v1.0h-1.0zM285.2 95.0h1.0v1.0h-1.0zM285.2 94.0h1.0v1.0h-1.0zM285.2 93.0h1.0v1.0h-1.0zM285.2 92.0h1.0v1.0h-1.0zM285.2 91.0h1.0v1.0h-1.0zM285.2 90.0h1.0v1.0h-1.0zM285.2 89.0h1.0v1.0h-1.0zM285.2 88.0h1.0v1.0h-1.0zM285.2 87.0h1.0v1.0h-1.0zM285.2 86.0h1.0v1.0h-1.0zM285.2 85.0h1.0v1.0h-1.0zM285.2 83.0h1.0v1.0h-1.0zM285.2 81.0h1.0v1.0h-1.0zM285.2 80.0h1.0v1.0h-1.0zM285.2 76.0h1.0v1.0h-1.0zM286.2 96.0h1.0v1.0h-1.0zM286.2 95.0h1.0v1.0h-1.0zM286.2 94.0h1.0v1.0h-1.0zM286.2 93.0h1.0v1.0h-1.0zM286.2 92.0h1.0v1.0h-1.0zM286.2 89.0h1.0v1.0h-1.0zM286.2 86.0h1.0v1.0h-1.0zM286.2 85.0h1.0v1.0h-1.0zM286.2 83.0h1.0v1.0h-1.0zM286.2 78.0h1.0v1.0h-1.0zM286.2 76.0h1.0v1.0h-1.0zM286.2 68.0h1.0v1.0h-1.0zM287.2 96.0h1.0v1.0h-1.0zM287.2 95.0h1.0v1.0h-1.0zM287.2 94.0h1.0v1.0h-1.0zM287.2 93.0h1.0v1.0h-1.0zM287.2 92.0h1.0v1.0h-1.0zM287.2 91.0h1.0v1.0h-1.0zM287.2 90.0h1.0v1.0h-1.0zM287.2 89.0h1.0v1.0h-1.0zM287.2 88.0h1.0v1.0h-1.0zM287.2 87.0h1.0v1.0h-1.0zM287.2 86.0h1.0v1.0h-1.0zM287.2 85.0h1.0v1.0h-1.0zM287.2 83.0h1.0v1.0h-1.0zM287.2 82.0h1.0v1.0h-1.0zM287.2 81.0h1.0v1.0h-1.0zM287.2 80.0h1.0v1.0h-1.0zM287.2 71.0h1.0v1.0h-1.0zM288.2 96.0h1.0v1.0h-1.0zM288.2 95.0h1.0v1.0h-1.0zM288.2 94.0h1.0v1.0h-1.0zM288.2 93.0h1.0v1.0h-1.0zM288.2 92.0h1.0v1.0h-1.0zM288.2 91.0h1.0v1.0h-1.0zM288.2 90.0h1.0v1.0h-1.0zM288.2 89.0h1.0v1.0h-1.0zM288.2 88.0h1.0v1.0h-1.0zM288.2 87.0h1.0v1.0h-1.0zM288.2 86.0h1.0v1.0h-1.0zM288.2 85.0h1.0v1.0h-1.0zM288.2 84.0h1.0v1.0h-1.0zM288.2 83.0h1.0v1.0h-1.0zM288.2 82.0h1.0v1.0h-1.0zM288.2 81.0h1.0v1.0h-1.0zM288.2 80.0h1.0v1.0h-1.0zM288.2 79.0h1.0v1.0h-1.0zM288.2 78.0h1.0v1.0h-1.0zM288.2 77.0h1.0v1.0h-1.0zM288.2 76.0h1.0v1.0h-1.0zM288.2 70.0h1.0v1.0h-1.0zM289.2 96.0h1.0v1.0h-1.0zM289.2 95.0h1.0v1.0h-1.0zM289.2 94.0h1.0v1.0h-1.0zM289.2 93.0h1.0v1.0h-1.0zM289.2 92.0h1.0v1.0h-1.0zM289.2 91.0h1.0v1.0h-1.0zM289.2 90.0h1.0v1.0h-1.0zM289.2 89.0h1.0v1.0h-1.0zM289.2 88.0h1.0v1.0h-1.0zM289.2 87.0h1.0v1.0h-1.0zM289.2 86.0h1.0v1.0h-1.0zM289.2 85.0h1.0v1.0h-1.0zM289.2 81.0h1.0v1.0h-1.0zM289.2 76.0h1.0v1.0h-1.0zM289.2 75.0h1.0v1.0h-1.0zM289.2 69.0h1.0v1.0h-1.0zM290.2 96.0h0.6v1.0h-0.6zM290.2 95.0h0.6v1.0h-0.6zM290.2 94.0h0.6v1.0h-0.6zM290.2 93.0h0.6v1.0h-0.6zM290.2 92.0h0.6v1.0h-0.6zM290.2 91.0h0.6v1.0h-0.6zM290.2 90.0h0.6v1.0h-0.6zM290.2 89.0h0.6v1.0h-0.6zM290.2 88.0h0.6v1.0h-0.6zM290.2 87.0h0.6v1.0h-0.6zM290.2 86.0h0.6v1.0h-0.6zM290.2 85.0h0.6v1.0h-0.6zM290.2 84.0h0.6v1.0h-0.6zM290.2 83.0h0.6v1.0h-0.6zM290.2 82.0h0.6v1.0h-0.6zM290.2 81.0h0.6v1.0h-0.6zM290.2 80.0h0.6v1.0h-0.6zM290.2 79.0h0.6v1.0h-0.6zM290.2 78.0h0.6v1.0h-0.6zM290.2 77.0h0.6v1.0h-0.6zM290.2 76.0h0.6v1.0h-0.6zM290.2 75.0h0.6v1.0h-0.6zM290.2 74.0h0.6v1.0h-0.6zM290.2 73.0h0.6v1.0h-0.6zM290.2 72.0h0.6v1.0h-0.6zM290.2 71.0h0.6v1.0h-0.6zM290.2 70.0h0.6v1.0h-0.6zM290.2 69.0h0.6v1.0h-0.6zM290.2 67.0h0.6v1.0h-0.6zM290.2 63.0h0.6v1.0h-0.6zM282.0 80.1h1.0v1.0h-1.0zM282.0 81.1h1.0v1.0h-1.0zM282.0 82.1h1.0v1.0h-1.0zM282.0 84.1h1.0v1.0h-1.0zM282.0 85.1h1.0v1.0h-1.0zM282.0 90.1h1.0v1.0h-1.0zM282.0 91.1h1.0v1.0h-1.0zM289.0 60.0h1.0v1.0h-1.0zM289.0 61.0h1.0v1.0h-1.0zM289.0 62.0h1.0v1.0h-1.0zM289.0 63.0h1.0v1.0h-1.0zM289.0 64.0h1.0v1.0h-1.0zM289.0 65.0h1.0v1.0h-1.0zM289.0 66.0h1.0v1.0h-1.0zM289.0 68.0h1.0v1.0h-1.0zM289.0 69.0h1.0v1.0h-1.0zM289.0 70.0h1.0v1.0h-1.0zM289.0 71.0h1.0v1.0h-1.0zM289.0 72.0h1.0v1.0h-1.0zM289.0 73.0h1.0v1.0h-1.0zM289.0 74.0h1.0v1.0h-1.0zM289.0 75.0h1.0v1.0h-1.0zM289.0 78.0h1.0v1.0h-1.0zM289.0 80.0h1.0v1.0h-1.0zM289.0 82.0h1.0v1.0h-1.0zM289.0 83.0h1.0v1.0h-1.0zM289.0 84.0h1.0v1.0h-1.0zM289.0 89.0h1.0v1.0h-1.0zM289.0 90.0h1.0v1.0h-1.0zM287.0 78.3h1.0v1.0h-1.0zM287.0 81.3h1.0v1.0h-1.0zM287.0 82.3h1.0v1.0h-1.0zM287.0 83.3h1.0v1.0h-1.0zM287.0 84.3h1.0v1.0h-1.0zM287.0 86.3h1.0v1.0h-1.0zM287.0 87.3h1.0v1.0h-1.0zM287.0 89.3h1.0v1.0h-1.0zM287.0 90.3h1.0v1.0h-1.0zM288.0 68.3h1.0v1.0h-1.0zM288.0 69.3h1.0v1.0h-1.0zM288.0 70.3h1.0v1.0h-1.0zM288.0 71.3h1.0v1.0h-1.0zM288.0 72.3h1.0v1.0h-1.0zM288.0 73.3h1.0v1.0h-1.0zM288.0 74.3h1.0v1.0h-1.0zM288.0 76.3h1.0v1.0h-1.0zM288.0 77.3h1.0v1.0h-1.0zM288.0 78.3h1.0v1.0h-1.0zM288.0 79.3h1.0v1.0h-1.0zM288.0 82.3h1.0v1.0h-1.0zM288.0 83.3h1.0v1.0h-1.0zM288.0 84.3h1.0v1.0h-1.0zM288.0 85.3h1.0v1.0h-1.0zM288.0 88.3h1.0v1.0h-1.0zM288.0 89.3h1.0v1.0h-1.0zM288.0 91.3h1.0v1.0h-1.0zM287.0 82.0h1.0v1.0h-1.0zM287.0 83.0h1.0v1.0h-1.0zM287.0 84.0h1.0v1.0h-1.0zM287.0 85.0h1.0v1.0h-1.0zM287.0 87.0h1.0v1.0h-1.0zM287.0 88.0h1.0v1.0h-1.0zM287.0 89.0h1.0v1.0h-1.0zM287.0 90.0h1.0v1.0h-1.0zM287.0 91.0h1.0v1.0h-1.0zM287.0 92.0h1.0v1.0h-1.0zM300.7 96.0h1.0v1.0h-1.0zM300.7 95.0h1.0v1.0h-1.0zM300.7 94.0h1.0v1.0h-1.0zM300.7 93.0h1.0v1.0h-1.0zM300.7 92.0h1.0v1.0h-1.0zM300.7 91.0h1.0v1.0h-1.0zM300.7 90.0h1.0v1.0h-1.0zM300.7 88.0h1.0v1.0h-1.0zM300.7 79.0h1.0v1.0h-1.0zM300.7 77.0h1.0v1.0h-1.0zM300.7 74.0h1.0v1.0h-1.0zM301.7 96.0h1.0v1.0h-1.0zM301.7 95.0h1.0v1.0h-1.0zM301.7 94.0h1.0v1.0h-1.0zM301.7 93.0h1.0v1.0h-1.0zM301.7 92.0h1.0v1.0h-1.0zM301.7 91.0h1.0v1.0h-1.0zM301.7 90.0h1.0v1.0h-1.0zM301.7 89.0h1.0v1.0h-1.0zM301.7 88.0h1.0v1.0h-1.0zM301.7 87.0h1.0v1.0h-1.0zM301.7 86.0h1.0v1.0h-1.0zM301.7 85.0h1.0v1.0h-1.0zM301.7 84.0h1.0v1.0h-1.0zM301.7 83.0h1.0v1.0h-1.0zM301.7 82.0h1.0v1.0h-1.0zM301.7 81.0h1.0v1.0h-1.0zM301.7 80.0h1.0v1.0h-1.0zM301.7 79.0h1.0v1.0h-1.0zM301.7 78.0h1.0v1.0h-1.0zM301.7 76.0h1.0v1.0h-1.0zM301.7 67.0h1.0v1.0h-1.0zM302.7 96.0h1.0v1.0h-1.0zM302.7 95.0h1.0v1.0h-1.0zM302.7 94.0h1.0v1.0h-1.0zM302.7 93.0h1.0v1.0h-1.0zM302.7 92.0h1.0v1.0h-1.0zM302.7 91.0h1.0v1.0h-1.0zM302.7 90.0h1.0v1.0h-1.0zM302.7 89.0h1.0v1.0h-1.0zM302.7 88.0h1.0v1.0h-1.0zM302.7 87.0h1.0v1.0h-1.0zM302.7 86.0h1.0v1.0h-1.0zM302.7 85.0h1.0v1.0h-1.0zM302.7 84.0h1.0v1.0h-1.0zM302.7 82.0h1.0v1.0h-1.0zM302.7 79.0h1.0v1.0h-1.0zM302.7 75.0h1.0v1.0h-1.0zM302.7 74.0h1.0v1.0h-1.0zM302.7 70.0h1.0v1.0h-1.0zM303.7 96.0h1.0v1.0h-1.0zM303.7 95.0h1.0v1.0h-1.0zM303.7 94.0h1.0v1.0h-1.0zM303.7 93.0h1.0v1.0h-1.0zM303.7 92.0h1.0v1.0h-1.0zM303.7 91.0h1.0v1.0h-1.0zM303.7 89.0h1.0v1.0h-1.0zM303.7 88.0h1.0v1.0h-1.0zM303.7 87.0h1.0v1.0h-1.0zM303.7 78.0h1.0v1.0h-1.0zM303.7 75.0h1.0v1.0h-1.0zM303.7 71.0h1.0v1.0h-1.0zM304.7 96.0h1.0v1.0h-1.0zM304.7 95.0h1.0v1.0h-1.0zM304.7 94.0h1.0v1.0h-1.0zM304.7 93.0h1.0v1.0h-1.0zM304.7 92.0h1.0v1.0h-1.0zM304.7 91.0h1.0v1.0h-1.0zM304.7 90.0h1.0v1.0h-1.0zM304.7 89.0h1.0v1.0h-1.0zM304.7 88.0h1.0v1.0h-1.0zM304.7 87.0h1.0v1.0h-1.0zM304.7 86.0h1.0v1.0h-1.0zM304.7 85.0h1.0v1.0h-1.0zM304.7 84.0h1.0v1.0h-1.0zM304.7 83.0h1.0v1.0h-1.0zM304.7 82.0h1.0v1.0h-1.0zM304.7 81.0h1.0v1.0h-1.0zM304.7 79.0h1.0v1.0h-1.0zM304.7 78.0h1.0v1.0h-1.0zM304.7 77.0h1.0v1.0h-1.0zM304.7 76.0h1.0v1.0h-1.0zM304.7 75.0h1.0v1.0h-1.0zM304.7 74.0h1.0v1.0h-1.0zM304.7 72.0h1.0v1.0h-1.0zM304.7 70.0h1.0v1.0h-1.0zM304.7 66.0h1.0v1.0h-1.0zM305.7 96.0h1.0v1.0h-1.0zM305.7 94.0h1.0v1.0h-1.0zM305.7 93.0h1.0v1.0h-1.0zM305.7 90.0h1.0v1.0h-1.0zM305.7 88.0h1.0v1.0h-1.0zM305.7 82.0h1.0v1.0h-1.0zM305.7 78.0h1.0v1.0h-1.0zM305.7 75.0h1.0v1.0h-1.0zM306.7 96.0h1.0v1.0h-1.0zM306.7 95.0h1.0v1.0h-1.0zM306.7 94.0h1.0v1.0h-1.0zM306.7 93.0h1.0v1.0h-1.0zM306.7 92.0h1.0v1.0h-1.0zM306.7 91.0h1.0v1.0h-1.0zM306.7 90.0h1.0v1.0h-1.0zM306.7 89.0h1.0v1.0h-1.0zM306.7 88.0h1.0v1.0h-1.0zM306.7 87.0h1.0v1.0h-1.0zM306.7 86.0h1.0v1.0h-1.0zM306.7 85.0h1.0v1.0h-1.0zM306.7 84.0h1.0v1.0h-1.0zM306.7 82.0h1.0v1.0h-1.0zM306.7 81.0h1.0v1.0h-1.0zM306.7 80.0h1.0v1.0h-1.0zM306.7 78.0h1.0v1.0h-1.0zM306.7 76.0h1.0v1.0h-1.0zM306.7 68.0h1.0v1.0h-1.0zM307.7 96.0h1.0v1.0h-1.0zM307.7 95.0h1.0v1.0h-1.0zM307.7 94.0h1.0v1.0h-1.0zM307.7 93.0h1.0v1.0h-1.0zM307.7 92.0h1.0v1.0h-1.0zM307.7 91.0h1.0v1.0h-1.0zM307.7 90.0h1.0v1.0h-1.0zM307.7 89.0h1.0v1.0h-1.0zM307.7 88.0h1.0v1.0h-1.0zM307.7 86.0h1.0v1.0h-1.0zM307.7 85.0h1.0v1.0h-1.0zM307.7 84.0h1.0v1.0h-1.0zM307.7 83.0h1.0v1.0h-1.0zM307.7 82.0h1.0v1.0h-1.0zM307.7 79.0h1.0v1.0h-1.0zM307.7 76.0h1.0v1.0h-1.0zM307.7 72.0h1.0v1.0h-1.0zM307.7 66.0h1.0v1.0h-1.0zM307.7 65.0h1.0v1.0h-1.0zM308.7 96.0h1.0v1.0h-1.0zM308.7 95.0h1.0v1.0h-1.0zM308.7 94.0h1.0v1.0h-1.0zM308.7 93.0h1.0v1.0h-1.0zM308.7 92.0h1.0v1.0h-1.0zM308.7 91.0h1.0v1.0h-1.0zM308.7 90.0h1.0v1.0h-1.0zM308.7 89.0h1.0v1.0h-1.0zM308.7 87.0h1.0v1.0h-1.0zM308.7 86.0h1.0v1.0h-1.0zM308.7 85.0h1.0v1.0h-1.0zM308.7 81.0h1.0v1.0h-1.0zM308.7 80.0h1.0v1.0h-1.0zM308.7 65.0h1.0v1.0h-1.0zM302.0 85.8h1.0v1.0h-1.0zM302.0 86.8h1.0v1.0h-1.0zM302.0 87.8h1.0v1.0h-1.0zM302.0 89.8h1.0v1.0h-1.0zM302.0 90.8h1.0v1.0h-1.0zM302.0 91.8h1.0v1.0h-1.0zM309.0 68.9h1.0v1.0h-1.0zM309.0 69.9h1.0v1.0h-1.0zM309.0 70.9h1.0v1.0h-1.0zM309.0 71.9h1.0v1.0h-1.0zM309.0 72.9h1.0v1.0h-1.0zM309.0 73.9h1.0v1.0h-1.0zM309.0 74.9h1.0v1.0h-1.0zM309.0 75.9h1.0v1.0h-1.0zM309.0 78.9h1.0v1.0h-1.0zM309.0 79.9h1.0v1.0h-1.0zM309.0 80.9h1.0v1.0h-1.0zM309.0 84.9h1.0v1.0h-1.0zM309.0 87.9h1.0v1.0h-1.0zM309.0 88.9h1.0v1.0h-1.0zM309.0 89.9h1.0v1.0h-1.0zM309.0 90.9h1.0v1.0h-1.0zM309.0 91.9h1.0v1.0h-1.0zM304.0 82.0h1.0v1.0h-1.0zM304.0 83.0h1.0v1.0h-1.0zM304.0 84.0h1.0v1.0h-1.0zM304.0 85.0h1.0v1.0h-1.0zM304.0 87.0h1.0v1.0h-1.0zM304.0 88.0h1.0v1.0h-1.0zM304.0 91.0h1.0v1.0h-1.0zM308.0 60.0h1.0v1.0h-1.0zM308.0 62.0h1.0v1.0h-1.0zM308.0 63.0h1.0v1.0h-1.0zM308.0 64.0h1.0v1.0h-1.0zM308.0 66.0h1.0v1.0h-1.0zM308.0 67.0h1.0v1.0h-1.0zM308.0 68.0h1.0v1.0h-1.0zM308.0 69.0h1.0v1.0h-1.0zM308.0 71.0h1.0v1.0h-1.0zM308.0 73.0h1.0v1.0h-1.0zM308.0 75.0h1.0v1.0h-1.0zM308.0 76.0h1.0v1.0h-1.0zM308.0 77.0h1.0v1.0h-1.0zM308.0 78.0h1.0v1.0h-1.0zM308.0 79.0h1.0v1.0h-1.0zM308.0 80.0h1.0v1.0h-1.0zM308.0 82.0h1.0v1.0h-1.0zM308.0 83.0h1.0v1.0h-1.0zM308.0 84.0h1.0v1.0h-1.0zM308.0 85.0h1.0v1.0h-1.0zM308.0 87.0h1.0v1.0h-1.0zM308.0 89.0h1.0v1.0h-1.0zM308.0 90.0h1.0v1.0h-1.0zM308.0 91.0h1.0v1.0h-1.0zM309.0 73.9h1.0v1.0h-1.0zM309.0 74.9h1.0v1.0h-1.0zM309.0 75.9h1.0v1.0h-1.0zM309.0 76.9h1.0v1.0h-1.0zM309.0 78.9h1.0v1.0h-1.0zM309.0 79.9h1.0v1.0h-1.0zM309.0 80.9h1.0v1.0h-1.0zM309.0 81.9h1.0v1.0h-1.0zM309.0 83.9h1.0v1.0h-1.0zM309.0 85.9h1.0v1.0h-1.0zM309.0 86.9h1.0v1.0h-1.0zM309.0 87.9h1.0v1.0h-1.0zM309.0 91.9h1.0v1.0h-1.0zM309.0 68.1h1.0v1.0h-1.0zM309.0 69.1h1.0v1.0h-1.0zM309.0 70.1h1.0v1.0h-1.0zM309.0 71.1h1.0v1.0h-1.0zM309.0 72.1h1.0v1.0h-1.0zM309.0 73.1h1.0v1.0h-1.0zM309.0 74.1h1.0v1.0h-1.0zM309.0 76.1h1.0v1.0h-1.0zM309.0 78.1h1.0v1.0h-1.0zM309.0 79.1h1.0v1.0h-1.0zM309.0 80.1h1.0v1.0h-1.0zM309.0 81.1h1.0v1.0h-1.0zM309.0 82.1h1.0v1.0h-1.0zM309.0 83.1h1.0v1.0h-1.0zM309.0 84.1h1.0v1.0h-1.0zM309.0 85.1h1.0v1.0h-1.0zM309.0 86.1h1.0v1.0h-1.0zM309.0 88.1h1.0v1.0h-1.0zM309.0 90.1h1.0v1.0h-1.0zM309.0 91.1h1.0v1.0h-1.0zM318.6 94.0h1.0v1.0h-1.0zM318.6 93.0h1.0v1.0h-1.0zM318.6 92.0h1.0v1.0h-1.0zM318.6 91.0h1.0v1.0h-1.0zM318.6 90.0h1.0v1.0h-1.0zM318.6 89.0h1.0v1.0h-1.0zM318.6 88.0h1.0v1.0h-1.0zM318.6 87.0h1.0v1.0h-1.0zM318.6 86.0h1.0v1.0h-1.0zM318.6 85.0h1.0v1.0h-1.0zM318.6 84.0h1.0v1.0h-1.0zM318.6 83.0h1.0v1.0h-1.0zM318.6 82.0h1.0v1.0h-1.0zM318.6 81.0h1.0v1.0h-1.0zM318.6 80.0h1.0v1.0h-1.0zM318.6 76.0h1.0v1.0h-1.0zM318.6 75.0h1.0v1.0h-1.0zM318.6 74.0h1.0v1.0h-1.0zM318.6 48.0h1.0v1.0h-1.0zM319.6 94.0h1.0v1.0h-1.0zM319.6 93.0h1.0v1.0h-1.0zM319.6 92.0h1.0v1.0h-1.0zM319.6 91.0h1.0v1.0h-1.0zM319.6 90.0h1.0v1.0h-1.0zM319.6 89.0h1.0v1.0h-1.0zM319.6 88.0h1.0v1.0h-1.0zM319.6 87.0h1.0v1.0h-1.0zM319.6 86.0h1.0v1.0h-1.0zM319.6 85.0h1.0v1.0h-1.0zM319.6 83.0h1.0v1.0h-1.0zM319.6 82.0h1.0v1.0h-1.0zM319.6 81.0h1.0v1.0h-1.0zM319.6 77.0h1.0v1.0h-1.0zM319.6 76.0h1.0v1.0h-1.0zM319.6 71.0h1.0v1.0h-1.0zM320.6 94.0h1.0v1.0h-1.0zM320.6 93.0h1.0v1.0h-1.0zM320.6 92.0h1.0v1.0h-1.0zM320.6 91.0h1.0v1.0h-1.0zM320.6 90.0h1.0v1.0h-1.0zM320.6 89.0h1.0v1.0h-1.0zM320.6 88.0h1.0v1.0h-1.0zM320.6 87.0h1.0v1.0h-1.0zM320.6 86.0h1.0v1.0h-1.0zM320.6 85.0h1.0v1.0h-1.0zM320.6 84.0h1.0v1.0h-1.0zM320.6 78.0h1.0v1.0h-1.0zM320.6 77.0h1.0v1.0h-1.0zM320.6 76.0h1.0v1.0h-1.0zM320.6 74.0h1.0v1.0h-1.0zM320.6 71.0h1.0v1.0h-1.0zM321.6 94.0h1.0v1.0h-1.0zM321.6 93.0h1.0v1.0h-1.0zM321.6 92.0h1.0v1.0h-1.0zM321.6 91.0h1.0v1.0h-1.0zM321.6 90.0h1.0v1.0h-1.0zM321.6 89.0h1.0v1.0h-1.0zM321.6 88.0h1.0v1.0h-1.0zM321.6 87.0h1.0v1.0h-1.0zM321.6 86.0h1.0v1.0h-1.0zM321.6 85.0h1.0v1.0h-1.0zM321.6 84.0h1.0v1.0h-1.0zM321.6 83.0h1.0v1.0h-1.0zM321.6 82.0h1.0v1.0h-1.0zM321.6 81.0h1.0v1.0h-1.0zM321.6 80.0h1.0v1.0h-1.0zM321.6 79.0h1.0v1.0h-1.0zM321.6 78.0h1.0v1.0h-1.0zM321.6 75.0h1.0v1.0h-1.0zM321.6 72.0h1.0v1.0h-1.0zM321.6 69.0h1.0v1.0h-1.0zM321.6 67.0h1.0v1.0h-1.0zM322.6 94.0h1.0v1.0h-1.0zM322.6 93.0h1.0v1.0h-1.0zM322.6 92.0h1.0v1.0h-1.0zM322.6 91.0h1.0v1.0h-1.0zM322.6 90.0h1.0v1.0h-1.0zM322.6 89.0h1.0v1.0h-1.0zM322.6 88.0h1.0v1.0h-1.0zM322.6 87.0h1.0v1.0h-1.0zM322.6 86.0h1.0v1.0h-1.0zM322.6 84.0h1.0v1.0h-1.0zM322.6 83.0h1.0v1.0h-1.0zM322.6 82.0h1.0v1.0h-1.0zM322.6 81.0h1.0v1.0h-1.0zM322.6 80.0h1.0v1.0h-1.0zM322.6 79.0h1.0v1.0h-1.0zM322.6 78.0h1.0v1.0h-1.0zM322.6 77.0h1.0v1.0h-1.0zM322.6 76.0h1.0v1.0h-1.0zM322.6 73.0h1.0v1.0h-1.0zM322.6 68.0h1.0v1.0h-1.0zM323.6 94.0h1.0v1.0h-1.0zM323.6 93.0h1.0v1.0h-1.0zM323.6 92.0h1.0v1.0h-1.0zM323.6 91.0h1.0v1.0h-1.0zM323.6 90.0h1.0v1.0h-1.0zM323.6 89.0h1.0v1.0h-1.0zM323.6 88.0h1.0v1.0h-1.0zM323.6 87.0h1.0v1.0h-1.0zM323.6 86.0h1.0v1.0h-1.0zM323.6 85.0h1.0v1.0h-1.0zM323.6 84.0h1.0v1.0h-1.0zM323.6 83.0h1.0v1.0h-1.0zM323.6 82.0h1.0v1.0h-1.0zM323.6 81.0h1.0v1.0h-1.0zM323.6 80.0h1.0v1.0h-1.0zM323.6 79.0h1.0v1.0h-1.0zM323.6 78.0h1.0v1.0h-1.0zM323.6 75.0h1.0v1.0h-1.0zM323.6 68.0h1.0v1.0h-1.0zM324.6 94.0h0.6v1.0h-0.6zM324.6 93.0h0.6v1.0h-0.6zM324.6 92.0h0.6v1.0h-0.6zM324.6 91.0h0.6v1.0h-0.6zM324.6 90.0h0.6v1.0h-0.6zM324.6 89.0h0.6v1.0h-0.6zM324.6 88.0h0.6v1.0h-0.6zM324.6 87.0h0.6v1.0h-0.6zM324.6 86.0h0.6v1.0h-0.6zM324.6 85.0h0.6v1.0h-0.6zM324.6 84.0h0.6v1.0h-0.6zM324.6 83.0h0.6v1.0h-0.6zM324.6 82.0h0.6v1.0h-0.6zM324.6 81.0h0.6v1.0h-0.6zM324.6 80.0h0.6v1.0h-0.6zM324.6 79.0h0.6v1.0h-0.6zM324.6 78.0h0.6v1.0h-0.6zM324.6 77.0h0.6v1.0h-0.6zM324.6 76.0h0.6v1.0h-0.6zM324.6 75.0h0.6v1.0h-0.6zM324.6 74.0h0.6v1.0h-0.6zM324.6 69.0h0.6v1.0h-0.6zM324.6 63.0h0.6v1.0h-0.6zM324.6 55.0h0.6v1.0h-0.6zM322.0 65.1h1.0v1.0h-1.0zM322.0 66.1h1.0v1.0h-1.0zM322.0 68.1h1.0v1.0h-1.0zM322.0 70.1h1.0v1.0h-1.0zM322.0 71.1h1.0v1.0h-1.0zM322.0 74.1h1.0v1.0h-1.0zM322.0 78.1h1.0v1.0h-1.0zM322.0 79.1h1.0v1.0h-1.0zM322.0 80.1h1.0v1.0h-1.0zM322.0 83.1h1.0v1.0h-1.0zM322.0 85.1h1.0v1.0h-1.0zM322.0 86.1h1.0v1.0h-1.0zM322.0 89.1h1.0v1.0h-1.0zM324.0 73.2h1.0v1.0h-1.0zM324.0 74.2h1.0v1.0h-1.0zM324.0 75.2h1.0v1.0h-1.0zM324.0 79.2h1.0v1.0h-1.0zM324.0 80.2h1.0v1.0h-1.0zM324.0 81.2h1.0v1.0h-1.0zM324.0 83.2h1.0v1.0h-1.0zM324.0 84.2h1.0v1.0h-1.0zM324.0 85.2h1.0v1.0h-1.0zM324.0 86.2h1.0v1.0h-1.0zM324.0 87.2h1.0v1.0h-1.0zM322.0 77.9h1.0v1.0h-1.0zM322.0 78.9h1.0v1.0h-1.0zM322.0 80.9h1.0v1.0h-1.0zM322.0 81.9h1.0v1.0h-1.0zM322.0 82.9h1.0v1.0h-1.0zM322.0 83.9h1.0v1.0h-1.0zM322.0 84.9h1.0v1.0h-1.0zM322.0 85.9h1.0v1.0h-1.0zM322.0 86.9h1.0v1.0h-1.0zM322.0 88.9h1.0v1.0h-1.0zM322.0 89.9h1.0v1.0h-1.0zM321.0 77.1h1.0v1.0h-1.0zM321.0 78.1h1.0v1.0h-1.0zM321.0 81.1h1.0v1.0h-1.0zM321.0 83.1h1.0v1.0h-1.0zM321.0 88.1h1.0v1.0h-1.0zM332.0 97.0h1.0v1.0h-1.0zM332.0 96.0h1.0v1.0h-1.0zM332.0 95.0h1.0v1.0h-1.0zM332.0 94.0h1.0v1.0h-1.0zM332.0 93.0h1.0v1.0h-1.0zM332.0 92.0h1.0v1.0h-1.0zM332.0 91.0h1.0v1.0h-1.0zM332.0 90.0h1.0v1.0h-1.0zM332.0 89.0h1.0v1.0h-1.0zM332.0 87.0h1.0v1.0h-1.0zM332.0 80.0h1.0v1.0h-1.0zM332.0 76.0h1.0v1.0h-1.0zM332.0 62.0h1.0v1.0h-1.0zM333.0 97.0h1.0v1.0h-1.0zM333.0 96.0h1.0v1.0h-1.0zM333.0 95.0h1.0v1.0h-1.0zM333.0 94.0h1.0v1.0h-1.0zM333.0 93.0h1.0v1.0h-1.0zM333.0 92.0h1.0v1.0h-1.0zM333.0 91.0h1.0v1.0h-1.0zM333.0 90.0h1.0v1.0h-1.0zM333.0 89.0h1.0v1.0h-1.0zM333.0 88.0h1.0v1.0h-1.0zM333.0 87.0h1.0v1.0h-1.0zM333.0 86.0h1.0v1.0h-1.0zM333.0 85.0h1.0v1.0h-1.0zM333.0 84.0h1.0v1.0h-1.0zM333.0 83.0h1.0v1.0h-1.0zM333.0 82.0h1.0v1.0h-1.0zM333.0 81.0h1.0v1.0h-1.0zM333.0 80.0h1.0v1.0h-1.0zM333.0 79.0h1.0v1.0h-1.0zM333.0 78.0h1.0v1.0h-1.0zM333.0 77.0h1.0v1.0h-1.0zM333.0 76.0h1.0v1.0h-1.0zM333.0 74.0h1.0v1.0h-1.0zM333.0 73.0h1.0v1.0h-1.0zM333.0 72.0h1.0v1.0h-1.0zM333.0 71.0h1.0v1.0h-1.0zM333.0 66.0h1.0v1.0h-1.0zM333.0 63.0h1.0v1.0h-1.0zM334.0 97.0h1.0v1.0h-1.0zM334.0 96.0h1.0v1.0h-1.0zM334.0 95.0h1.0v1.0h-1.0zM334.0 94.0h1.0v1.0h-1.0zM334.0 93.0h1.0v1.0h-1.0zM334.0 92.0h1.0v1.0h-1.0zM334.0 91.0h1.0v1.0h-1.0zM334.0 90.0h1.0v1.0h-1.0zM334.0 89.0h1.0v1.0h-1.0zM334.0 88.0h1.0v1.0h-1.0zM334.0 86.0h1.0v1.0h-1.0zM334.0 85.0h1.0v1.0h-1.0zM334.0 84.0h1.0v1.0h-1.0zM334.0 83.0h1.0v1.0h-1.0zM334.0 81.0h1.0v1.0h-1.0zM334.0 80.0h1.0v1.0h-1.0zM334.0 77.0h1.0v1.0h-1.0zM334.0 76.0h1.0v1.0h-1.0zM334.0 70.0h1.0v1.0h-1.0zM334.0 66.0h1.0v1.0h-1.0zM335.0 97.0h0.7v1.0h-0.7zM335.0 96.0h0.7v1.0h-0.7zM335.0 95.0h0.7v1.0h-0.7zM335.0 94.0h0.7v1.0h-0.7zM335.0 93.0h0.7v1.0h-0.7zM335.0 92.0h0.7v1.0h-0.7zM335.0 91.0h0.7v1.0h-0.7zM335.0 90.0h0.7v1.0h-0.7zM335.0 89.0h0.7v1.0h-0.7zM335.0 88.0h0.7v1.0h-0.7zM335.0 87.0h0.7v1.0h-0.7zM335.0 86.0h0.7v1.0h-0.7zM335.0 85.0h0.7v1.0h-0.7zM335.0 84.0h0.7v1.0h-0.7zM335.0 83.0h0.7v1.0h-0.7zM335.0 81.0h0.7v1.0h-0.7zM335.0 78.0h0.7v1.0h-0.7zM335.0 72.0h0.7v1.0h-0.7zM333.0 72.3h1.0v1.0h-1.0zM333.0 73.3h1.0v1.0h-1.0zM333.0 75.3h1.0v1.0h-1.0zM333.0 77.3h1.0v1.0h-1.0zM333.0 79.3h1.0v1.0h-1.0zM333.0 80.3h1.0v1.0h-1.0zM333.0 81.3h1.0v1.0h-1.0zM333.0 82.3h1.0v1.0h-1.0zM333.0 83.3h1.0v1.0h-1.0zM333.0 84.3h1.0v1.0h-1.0zM333.0 86.3h1.0v1.0h-1.0zM333.0 87.3h1.0v1.0h-1.0zM333.0 89.3h1.0v1.0h-1.0zM333.0 92.3h1.0v1.0h-1.0zM333.0 65.1h1.0v1.0h-1.0zM333.0 67.1h1.0v1.0h-1.0zM333.0 68.1h1.0v1.0h-1.0zM333.0 69.1h1.0v1.0h-1.0zM333.0 70.1h1.0v1.0h-1.0zM333.0 71.1h1.0v1.0h-1.0zM333.0 73.1h1.0v1.0h-1.0zM333.0 74.1h1.0v1.0h-1.0zM333.0 76.1h1.0v1.0h-1.0zM333.0 78.1h1.0v1.0h-1.0zM333.0 79.1h1.0v1.0h-1.0zM333.0 80.1h1.0v1.0h-1.0zM333.0 81.1h1.0v1.0h-1.0zM333.0 82.1h1.0v1.0h-1.0zM333.0 83.1h1.0v1.0h-1.0zM333.0 85.1h1.0v1.0h-1.0zM333.0 88.1h1.0v1.0h-1.0zM333.0 90.1h1.0v1.0h-1.0zM333.0 92.1h1.0v1.0h-1.0zM304.6 35.6h1.7v1.0h-1.7zM304.6 37.6h1.7v1.0h-1.7zM304.6 39.6h1.7v1.0h-1.7zM304.6 40.6h1.7v1.0h-1.7zM304.6 41.6h1.7v1.0h-1.7zM304.6 42.6h1.7v1.0h-1.7zM304.6 43.6h1.7v1.0h-1.7zM304.6 44.6h1.7v1.0h-1.7zM304.6 45.6h1.7v1.0h-1.7zM304.6 46.6h1.7v1.0h-1.7zM304.6 47.6h1.7v1.0h-1.7zM304.6 48.6h1.7v1.0h-1.7zM304.6 49.6h1.7v1.0h-1.7zM304.6 50.6h1.7v1.0h-1.7zM304.6 51.6h1.7v1.0h-1.7zM304.6 52.6h1.7v1.0h-1.7zM304.6 53.6h1.7v1.0h-1.7zM304.6 54.6h1.7v1.0h-1.7zM304.6 55.6h1.7v1.0h-1.7zM304.6 56.6h1.7v1.0h-1.7zM304.6 57.6h1.7v1.0h-1.7zM304.6 58.6h1.7v1.0h-1.7zM304.6 59.6h1.7v1.0h-1.7zM304.6 60.6h1.7v1.0h-1.7zM304.6 61.6h1.7v1.0h-1.7zM304.6 62.6h1.7v1.0h-1.7zM304.6 63.6h1.7v1.0h-1.7zM304.6 64.6h1.7v1.0h-1.7zM304.6 65.6h1.7v1.0h-1.7zM304.6 66.6h1.7v1.0h-1.7zM304.6 67.6h1.7v1.0h-1.7zM304.6 69.6h1.7v1.0h-1.7zM304.6 70.6h1.7v1.0h-1.7zM304.6 71.6h1.7v1.0h-1.7zM304.6 72.6h1.7v1.0h-1.7zM304.6 73.6h1.7v1.0h-1.7zM304.6 74.6h1.7v1.0h-1.7zM304.6 75.6h1.7v1.0h-1.7zM304.6 77.6h1.7v1.0h-1.7zM304.6 78.6h1.7v1.0h-1.7zM304.6 79.6h1.7v1.0h-1.7zM304.6 80.6h1.7v1.0h-1.7zM304.6 81.6h1.7v1.0h-1.7zM304.6 82.6h1.7v1.0h-1.7zM304.6 83.6h1.7v1.0h-1.7zM304.6 84.6h1.7v1.0h-1.7zM304.6 85.6h1.7v1.0h-1.7zM304.6 86.6h1.7v1.0h-1.7zM304.6 88.6h1.7v1.0h-1.7zM304.6 89.6h1.7v1.0h-1.7zM304.6 90.6h1.7v1.0h-1.7zM304.6 91.6h1.7v1.0h-1.7zM176.8 25.0h1.0v1.1h-1.0zM176.8 26.0h1.0v1.1h-1.0zM176.8 27.0h1.0v1.1h-1.0zM176.8 28.0h1.0v1.1h-1.0zM244.6 43.0h1.0v1.1h-1.0zM244.6 44.0h1.0v1.1h-1.0zM244.6 45.0h1.0v1.1h-1.0zM244.6 47.0h1.0v1.1h-1.0zM244.6 49.0h1.0v1.1h-1.0zM244.6 51.0h1.0v1.1h-1.0zM244.6 52.0h1.0v1.1h-1.0zM244.6 55.0h1.0v1.1h-1.0zM244.6 56.0h1.0v1.1h-1.0zM244.6 57.0h1.0v1.1h-1.0zM244.6 61.0h1.0v1.1h-1.0zM244.6 62.0h1.0v1.1h-1.0zM244.6 63.0h1.0v1.1h-1.0zM244.6 64.0h1.0v1.1h-1.0zM171.5 51.0h1.0v1.1h-1.0zM171.5 52.0h1.0v1.1h-1.0zM171.5 53.0h1.0v1.1h-1.0zM171.5 54.0h1.0v1.1h-1.0zM171.5 57.0h1.0v1.1h-1.0zM171.5 58.0h1.0v1.1h-1.0zM171.5 61.0h1.0v1.1h-1.0zM171.5 62.0h1.0v1.1h-1.0zM171.5 63.0h1.0v1.1h-1.0zM171.5 65.0h1.0v1.1h-1.0zM171.5 66.0h1.0v1.1h-1.0zM34.5 62.0h1.0v1.1h-1.0zM34.5 63.0h1.0v1.1h-1.0zM34.5 64.0h1.0v1.1h-1.0zM34.5 65.0h1.0v1.1h-1.0zM34.5 66.0h1.0v1.1h-1.0zM34.5 67.0h1.0v1.1h-1.0zM34.5 69.0h1.0v1.1h-1.0zM34.5 70.0h1.0v1.1h-1.0zM34.5 73.0h1.0v1.1h-1.0zM50.5 62.0h1.0v1.1h-1.0zM50.5 63.0h1.0v1.1h-1.0zM50.5 64.0h1.0v1.1h-1.0zM50.5 65.0h1.0v1.1h-1.0zM50.5 68.0h1.0v1.1h-1.0zM50.5 70.0h1.0v1.1h-1.0zM50.5 71.0h1.0v1.1h-1.0zM50.5 73.0h1.0v1.1h-1.0zM50.5 74.0h1.0v1.1h-1.0zM50.5 75.0h1.0v1.1h-1.0zM50.5 76.0h1.0v1.1h-1.0zM50.5 77.0h1.0v1.1h-1.0zM264.5 44.0h1.0v1.1h-1.0zM264.5 45.0h1.0v1.1h-1.0zM264.5 48.0h1.0v1.1h-1.0zM264.5 50.0h1.0v1.1h-1.0zM264.5 51.0h1.0v1.1h-1.0zM264.5 53.0h1.0v1.1h-1.0zM264.5 54.0h1.0v1.1h-1.0zM264.5 61.0h1.0v1.1h-1.0zM43.5 51.7h1.0v1.1h-1.0zM38.9 51.4h1.0v1.1h-1.0zM37.3 60.8h1.0v1.1h-1.0zM39.1 61.9h1.0v1.1h-1.0zM42.5 45.5h1.0v1.1h-1.0zM43.2 62.9h1.0v1.1h-1.0zM49.5 63.2h1.0v1.1h-1.0zM54.0 59.4h1.0v1.1h-1.0zM49.0 65.3h1.0v1.1h-1.0zM51.0 55.3h1.0v1.1h-1.0zM105.6 48.2h1.0v1.1h-1.0zM104.2 44.2h1.0v1.1h-1.0zM99.5 58.4h1.0v1.1h-1.0zM101.9 55.7h1.0v1.1h-1.0zM89.7 59.6h1.0v1.1h-1.0zM101.3 50.6h1.0v1.1h-1.0zM93.5 50.0h1.0v1.1h-1.0zM100.3 45.7h1.0v1.1h-1.0zM137.2 66.1h1.0v1.1h-1.0zM132.7 45.2h1.0v1.1h-1.0zM132.3 54.9h1.0v1.1h-1.0zM139.6 55.0h1.0v1.1h-1.0zM143.3 60.6h1.0v1.1h-1.0zM145.3 68.6h1.0v1.1h-1.0zM145.3 49.4h1.0v1.1h-1.0zM169.0 46.2h1.0v1.1h-1.0zM178.2 49.5h1.0v1.1h-1.0zM174.9 55.2h1.0v1.1h-1.0zM182.2 50.7h1.0v1.1h-1.0zM177.7 53.5h1.0v1.1h-1.0zM183.8 51.3h1.0v1.1h-1.0zM175.3 45.1h1.0v1.1h-1.0zM202.5 46.8h1.0v1.1h-1.0zM201.8 59.1h1.0v1.1h-1.0zM212.1 48.0h1.0v1.1h-1.0zM214.4 50.3h1.0v1.1h-1.0zM213.3 46.0h1.0v1.1h-1.0zM242.5 46.9h1.0v1.1h-1.0zM244.8 55.2h1.0v1.1h-1.0zM232.2 47.6h1.0v1.1h-1.0zM244.5 52.0h1.0v1.1h-1.0zM237.7 52.8h1.0v1.1h-1.0zM233.2 51.2h1.0v1.1h-1.0zM266.6 54.0h1.0v1.1h-1.0zM266.4 47.5h1.0v1.1h-1.0zM265.6 49.2h1.0v1.1h-1.0zM268.5 47.3h1.0v1.1h-1.0zM287.5 54.6h1.0v1.1h-1.0zM285.6 47.5h1.0v1.1h-1.0zM285.0 61.2h1.0v1.1h-1.0zM288.8 54.0h1.0v1.1h-1.0zM305.7 46.6h1.0v1.1h-1.0zM302.8 51.1h1.0v1.1h-1.0zM305.7 51.4h1.0v1.1h-1.0zM300.7 55.4h1.0v1.1h-1.0zM324.0 56.7h1.0v1.1h-1.0zM323.5 44.8h1.0v1.1h-1.0zM322.7 48.2h1.0v1.1h-1.0zM334.5 46.9h1.0v1.1h-1.0zM332.6 48.1h1.0v1.1h-1.0zM176.2 3.8h1.3v1.3h-1.3zM176.2 24.8h1.3v1.3h-1.3zM176.2 27.0h1.3v1.3h-1.3zM285.1 27.8h1.3v1.3h-1.3zM285.1 31.3h1.3v1.3h-1.3zM285.1 43.4h1.3v1.3h-1.3zM308.6 32.6h1.3v1.3h-1.3zM263.4 43.2h1.3v1.3h-1.3zM43.7 41.7h1.3v1.3h-1.3zM93.4 38.4h1.3v1.3h-1.3zM98.4 41.7h1.3v1.3h-1.3zM57.1 46.2h1.3v1.3h-1.3zM35.4 55.4h1.3v1.3h-1.3zM134.4 46.7h1.3v1.3h-1.3zM167.8 46.7h1.3v1.3h-1.3z"/>
<path fill="#a3a4a8" d="M58.2 99.0h1.0v1.0h-1.0zM58.2 98.0h1.0v1.0h-1.0zM58.2 97.0h1.0v1.0h-1.0zM58.2 96.0h1.0v1.0h-1.0zM58.2 95.0h1.0v1.0h-1.0zM58.2 94.0h1.0v1.0h-1.0zM58.2 93.0h1.0v1.0h-1.0zM58.2 92.0h1.0v1.0h-1.0zM58.2 91.0h1.0v1.0h-1.0zM58.2 89.0h1.0v1.0h-1.0zM58.2 88.0h1.0v1.0h-1.0zM58.2 87.0h1.0v1.0h-1.0zM58.2 86.0h1.0v1.0h-1.0zM58.2 85.0h1.0v1.0h-1.0zM58.2 83.0h1.0v1.0h-1.0zM58.2 82.0h1.0v1.0h-1.0zM58.2 81.0h1.0v1.0h-1.0zM58.2 80.0h1.0v1.0h-1.0zM58.2 78.0h1.0v1.0h-1.0zM58.2 77.0h1.0v1.0h-1.0zM58.2 74.0h1.0v1.0h-1.0zM59.2 99.0h1.0v1.0h-1.0zM59.2 98.0h1.0v1.0h-1.0zM59.2 97.0h1.0v1.0h-1.0zM59.2 94.0h1.0v1.0h-1.0zM59.2 93.0h1.0v1.0h-1.0zM59.2 92.0h1.0v1.0h-1.0zM59.2 91.0h1.0v1.0h-1.0zM59.2 90.0h1.0v1.0h-1.0zM59.2 89.0h1.0v1.0h-1.0zM59.2 88.0h1.0v1.0h-1.0zM59.2 86.0h1.0v1.0h-1.0zM59.2 85.0h1.0v1.0h-1.0zM59.2 77.0h1.0v1.0h-1.0zM60.2 99.0h1.0v1.0h-1.0zM60.2 98.0h1.0v1.0h-1.0zM60.2 97.0h1.0v1.0h-1.0zM60.2 96.0h1.0v1.0h-1.0zM60.2 95.0h1.0v1.0h-1.0zM60.2 94.0h1.0v1.0h-1.0zM60.2 93.0h1.0v1.0h-1.0zM60.2 92.0h1.0v1.0h-1.0zM60.2 91.0h1.0v1.0h-1.0zM60.2 90.0h1.0v1.0h-1.0zM60.2 89.0h1.0v1.0h-1.0zM60.2 88.0h1.0v1.0h-1.0zM60.2 87.0h1.0v1.0h-1.0zM60.2 86.0h1.0v1.0h-1.0zM60.2 84.0h1.0v1.0h-1.0zM60.2 83.0h1.0v1.0h-1.0zM60.2 82.0h1.0v1.0h-1.0zM60.2 81.0h1.0v1.0h-1.0zM60.2 79.0h1.0v1.0h-1.0zM60.2 78.0h1.0v1.0h-1.0zM60.2 77.0h1.0v1.0h-1.0zM60.2 76.0h1.0v1.0h-1.0zM60.2 74.0h1.0v1.0h-1.0zM60.2 73.0h1.0v1.0h-1.0zM60.2 70.0h1.0v1.0h-1.0zM60.2 53.0h1.0v1.0h-1.0zM61.2 99.0h1.0v1.0h-1.0zM61.2 98.0h1.0v1.0h-1.0zM61.2 97.0h1.0v1.0h-1.0zM61.2 96.0h1.0v1.0h-1.0zM61.2 95.0h1.0v1.0h-1.0zM61.2 94.0h1.0v1.0h-1.0zM61.2 93.0h1.0v1.0h-1.0zM61.2 92.0h1.0v1.0h-1.0zM61.2 91.0h1.0v1.0h-1.0zM61.2 90.0h1.0v1.0h-1.0zM61.2 89.0h1.0v1.0h-1.0zM61.2 88.0h1.0v1.0h-1.0zM61.2 87.0h1.0v1.0h-1.0zM61.2 86.0h1.0v1.0h-1.0zM61.2 85.0h1.0v1.0h-1.0zM61.2 83.0h1.0v1.0h-1.0zM61.2 82.0h1.0v1.0h-1.0zM61.2 80.0h1.0v1.0h-1.0zM61.2 79.0h1.0v1.0h-1.0zM61.2 78.0h1.0v1.0h-1.0zM61.2 77.0h1.0v1.0h-1.0zM62.2 99.0h1.0v1.0h-1.0zM62.2 98.0h1.0v1.0h-1.0zM62.2 97.0h1.0v1.0h-1.0zM62.2 96.0h1.0v1.0h-1.0zM62.2 95.0h1.0v1.0h-1.0zM62.2 94.0h1.0v1.0h-1.0zM62.2 93.0h1.0v1.0h-1.0zM62.2 92.0h1.0v1.0h-1.0zM62.2 91.0h1.0v1.0h-1.0zM62.2 90.0h1.0v1.0h-1.0zM62.2 88.0h1.0v1.0h-1.0zM62.2 87.0h1.0v1.0h-1.0zM62.2 86.0h1.0v1.0h-1.0zM62.2 85.0h1.0v1.0h-1.0zM62.2 84.0h1.0v1.0h-1.0zM62.2 83.0h1.0v1.0h-1.0zM62.2 82.0h1.0v1.0h-1.0zM62.2 81.0h1.0v1.0h-1.0zM62.2 77.0h1.0v1.0h-1.0zM62.2 57.0h1.0v1.0h-1.0zM63.2 99.0h1.0v1.0h-1.0zM63.2 98.0h1.0v1.0h-1.0zM63.2 95.0h1.0v1.0h-1.0zM63.2 94.0h1.0v1.0h-1.0zM63.2 92.0h1.0v1.0h-1.0zM63.2 90.0h1.0v1.0h-1.0zM63.2 87.0h1.0v1.0h-1.0zM64.2 99.0h1.0v1.0h-1.0zM64.2 98.0h1.0v1.0h-1.0zM64.2 97.0h1.0v1.0h-1.0zM64.2 96.0h1.0v1.0h-1.0zM64.2 95.0h1.0v1.0h-1.0zM64.2 94.0h1.0v1.0h-1.0zM64.2 93.0h1.0v1.0h-1.0zM64.2 92.0h1.0v1.0h-1.0zM64.2 91.0h1.0v1.0h-1.0zM64.2 90.0h1.0v1.0h-1.0zM64.2 89.0h1.0v1.0h-1.0zM64.2 88.0h1.0v1.0h-1.0zM64.2 87.0h1.0v1.0h-1.0zM64.2 86.0h1.0v1.0h-1.0zM64.2 85.0h1.0v1.0h-1.0zM64.2 84.0h1.0v1.0h-1.0zM64.2 83.0h1.0v1.0h-1.0zM64.2 82.0h1.0v1.0h-1.0zM64.2 78.0h1.0v1.0h-1.0zM64.2 73.0h1.0v1.0h-1.0zM65.2 99.0h1.0v1.0h-1.0zM65.2 98.0h1.0v1.0h-1.0zM65.2 97.0h1.0v1.0h-1.0zM65.2 96.0h1.0v1.0h-1.0zM65.2 95.0h1.0v1.0h-1.0zM65.2 94.0h1.0v1.0h-1.0zM65.2 93.0h1.0v1.0h-1.0zM65.2 92.0h1.0v1.0h-1.0zM65.2 91.0h1.0v1.0h-1.0zM65.2 90.0h1.0v1.0h-1.0zM65.2 89.0h1.0v1.0h-1.0zM65.2 88.0h1.0v1.0h-1.0zM65.2 87.0h1.0v1.0h-1.0zM65.2 86.0h1.0v1.0h-1.0zM65.2 85.0h1.0v1.0h-1.0zM65.2 84.0h1.0v1.0h-1.0zM65.2 83.0h1.0v1.0h-1.0zM65.2 82.0h1.0v1.0h-1.0zM65.2 80.0h1.0v1.0h-1.0zM65.2 77.0h1.0v1.0h-1.0zM65.2 71.0h1.0v1.0h-1.0zM66.2 99.0h1.0v1.0h-1.0zM66.2 98.0h1.0v1.0h-1.0zM66.2 97.0h1.0v1.0h-1.0zM66.2 96.0h1.0v1.0h-1.0zM66.2 95.0h1.0v1.0h-1.0zM66.2 94.0h1.0v1.0h-1.0zM66.2 92.0h1.0v1.0h-1.0zM66.2 91.0h1.0v1.0h-1.0zM66.2 90.0h1.0v1.0h-1.0zM66.2 88.0h1.0v1.0h-1.0zM66.2 86.0h1.0v1.0h-1.0zM66.2 80.0h1.0v1.0h-1.0zM66.2 76.0h1.0v1.0h-1.0zM66.2 65.0h1.0v1.0h-1.0zM67.2 99.0h1.0v1.0h-1.0zM67.2 98.0h1.0v1.0h-1.0zM67.2 97.0h1.0v1.0h-1.0zM67.2 96.0h1.0v1.0h-1.0zM67.2 95.0h1.0v1.0h-1.0zM67.2 94.0h1.0v1.0h-1.0zM67.2 93.0h1.0v1.0h-1.0zM67.2 92.0h1.0v1.0h-1.0zM67.2 91.0h1.0v1.0h-1.0zM67.2 90.0h1.0v1.0h-1.0zM67.2 89.0h1.0v1.0h-1.0zM67.2 88.0h1.0v1.0h-1.0zM67.2 87.0h1.0v1.0h-1.0zM67.2 86.0h1.0v1.0h-1.0zM67.2 78.0h1.0v1.0h-1.0zM67.2 75.0h1.0v1.0h-1.0zM67.2 69.0h1.0v1.0h-1.0zM67.2 65.0h1.0v1.0h-1.0zM68.2 99.0h1.0v1.0h-1.0zM68.2 98.0h1.0v1.0h-1.0zM68.2 97.0h1.0v1.0h-1.0zM68.2 96.0h1.0v1.0h-1.0zM68.2 95.0h1.0v1.0h-1.0zM68.2 94.0h1.0v1.0h-1.0zM68.2 93.0h1.0v1.0h-1.0zM68.2 92.0h1.0v1.0h-1.0zM68.2 91.0h1.0v1.0h-1.0zM68.2 90.0h1.0v1.0h-1.0zM68.2 89.0h1.0v1.0h-1.0zM68.2 88.0h1.0v1.0h-1.0zM68.2 87.0h1.0v1.0h-1.0zM68.2 86.0h1.0v1.0h-1.0zM68.2 85.0h1.0v1.0h-1.0zM68.2 84.0h1.0v1.0h-1.0zM68.2 83.0h1.0v1.0h-1.0zM68.2 82.0h1.0v1.0h-1.0zM68.2 80.0h1.0v1.0h-1.0zM68.2 78.0h1.0v1.0h-1.0zM68.2 74.0h1.0v1.0h-1.0zM68.2 73.0h1.0v1.0h-1.0zM68.2 70.0h1.0v1.0h-1.0zM69.2 99.0h1.0v1.0h-1.0zM69.2 98.0h1.0v1.0h-1.0zM69.2 97.0h1.0v1.0h-1.0zM69.2 96.0h1.0v1.0h-1.0zM69.2 95.0h1.0v1.0h-1.0zM69.2 94.0h1.0v1.0h-1.0zM69.2 93.0h1.0v1.0h-1.0zM69.2 92.0h1.0v1.0h-1.0zM69.2 91.0h1.0v1.0h-1.0zM69.2 89.0h1.0v1.0h-1.0zM69.2 86.0h1.0v1.0h-1.0zM69.2 84.0h1.0v1.0h-1.0zM69.2 80.0h1.0v1.0h-1.0zM69.2 75.0h1.0v1.0h-1.0zM70.2 99.0h1.0v1.0h-1.0zM70.2 98.0h1.0v1.0h-1.0zM70.2 97.0h1.0v1.0h-1.0zM70.2 96.0h1.0v1.0h-1.0zM70.2 95.0h1.0v1.0h-1.0zM70.2 94.0h1.0v1.0h-1.0zM70.2 93.0h1.0v1.0h-1.0zM70.2 92.0h1.0v1.0h-1.0zM70.2 91.0h1.0v1.0h-1.0zM70.2 90.0h1.0v1.0h-1.0zM70.2 89.0h1.0v1.0h-1.0zM70.2 88.0h1.0v1.0h-1.0zM70.2 87.0h1.0v1.0h-1.0zM70.2 86.0h1.0v1.0h-1.0zM70.2 85.0h1.0v1.0h-1.0zM70.2 84.0h1.0v1.0h-1.0zM70.2 83.0h1.0v1.0h-1.0zM70.2 82.0h1.0v1.0h-1.0zM70.2 81.0h1.0v1.0h-1.0zM70.2 80.0h1.0v1.0h-1.0zM70.2 77.0h1.0v1.0h-1.0zM70.2 74.0h1.0v1.0h-1.0zM71.2 99.0h1.0v1.0h-1.0zM71.2 98.0h1.0v1.0h-1.0zM71.2 97.0h1.0v1.0h-1.0zM71.2 96.0h1.0v1.0h-1.0zM71.2 95.0h1.0v1.0h-1.0zM71.2 94.0h1.0v1.0h-1.0zM71.2 93.0h1.0v1.0h-1.0zM71.2 92.0h1.0v1.0h-1.0zM71.2 91.0h1.0v1.0h-1.0zM71.2 90.0h1.0v1.0h-1.0zM71.2 89.0h1.0v1.0h-1.0zM71.2 88.0h1.0v1.0h-1.0zM71.2 87.0h1.0v1.0h-1.0zM71.2 86.0h1.0v1.0h-1.0zM71.2 85.0h1.0v1.0h-1.0zM71.2 83.0h1.0v1.0h-1.0zM71.2 81.0h1.0v1.0h-1.0zM71.2 80.0h1.0v1.0h-1.0zM71.2 79.0h1.0v1.0h-1.0zM71.2 76.0h1.0v1.0h-1.0zM71.2 72.0h1.0v1.0h-1.0zM71.2 67.0h1.0v1.0h-1.0zM72.2 99.0h1.0v1.0h-1.0zM72.2 98.0h1.0v1.0h-1.0zM72.2 97.0h1.0v1.0h-1.0zM72.2 96.0h1.0v1.0h-1.0zM72.2 95.0h1.0v1.0h-1.0zM72.2 94.0h1.0v1.0h-1.0zM72.2 93.0h1.0v1.0h-1.0zM72.2 92.0h1.0v1.0h-1.0zM72.2 91.0h1.0v1.0h-1.0zM72.2 90.0h1.0v1.0h-1.0zM72.2 89.0h1.0v1.0h-1.0zM72.2 87.0h1.0v1.0h-1.0zM72.2 85.0h1.0v1.0h-1.0zM72.2 82.0h1.0v1.0h-1.0zM72.2 81.0h1.0v1.0h-1.0zM72.2 80.0h1.0v1.0h-1.0zM72.2 79.0h1.0v1.0h-1.0zM72.2 77.0h1.0v1.0h-1.0zM73.2 99.0h1.0v1.0h-1.0zM73.2 98.0h1.0v1.0h-1.0zM73.2 97.0h1.0v1.0h-1.0zM73.2 96.0h1.0v1.0h-1.0zM73.2 95.0h1.0v1.0h-1.0zM73.2 94.0h1.0v1.0h-1.0zM73.2 93.0h1.0v1.0h-1.0zM73.2 92.0h1.0v1.0h-1.0zM73.2 91.0h1.0v1.0h-1.0zM73.2 90.0h1.0v1.0h-1.0zM73.2 89.0h1.0v1.0h-1.0zM73.2 88.0h1.0v1.0h-1.0zM73.2 86.0h1.0v1.0h-1.0zM73.2 84.0h1.0v1.0h-1.0zM73.2 80.0h1.0v1.0h-1.0zM74.2 99.0h1.0v1.0h-1.0zM74.2 98.0h1.0v1.0h-1.0zM74.2 96.0h1.0v1.0h-1.0zM74.2 95.0h1.0v1.0h-1.0zM74.2 94.0h1.0v1.0h-1.0zM74.2 93.0h1.0v1.0h-1.0zM74.2 92.0h1.0v1.0h-1.0zM74.2 91.0h1.0v1.0h-1.0zM74.2 89.0h1.0v1.0h-1.0zM74.2 88.0h1.0v1.0h-1.0zM74.2 83.0h1.0v1.0h-1.0zM74.2 79.0h1.0v1.0h-1.0zM74.2 74.0h1.0v1.0h-1.0zM75.2 99.0h1.0v1.0h-1.0zM75.2 98.0h1.0v1.0h-1.0zM75.2 97.0h1.0v1.0h-1.0zM75.2 96.0h1.0v1.0h-1.0zM75.2 94.0h1.0v1.0h-1.0zM75.2 93.0h1.0v1.0h-1.0zM75.2 92.0h1.0v1.0h-1.0zM75.2 91.0h1.0v1.0h-1.0zM75.2 89.0h1.0v1.0h-1.0zM75.2 86.0h1.0v1.0h-1.0zM75.2 81.0h1.0v1.0h-1.0zM75.2 77.0h1.0v1.0h-1.0zM75.2 70.0h1.0v1.0h-1.0zM76.2 99.0h1.0v1.0h-1.0zM76.2 98.0h1.0v1.0h-1.0zM76.2 97.0h1.0v1.0h-1.0zM76.2 96.0h1.0v1.0h-1.0zM76.2 95.0h1.0v1.0h-1.0zM76.2 94.0h1.0v1.0h-1.0zM76.2 93.0h1.0v1.0h-1.0zM76.2 92.0h1.0v1.0h-1.0zM76.2 91.0h1.0v1.0h-1.0zM76.2 90.0h1.0v1.0h-1.0zM76.2 89.0h1.0v1.0h-1.0zM76.2 88.0h1.0v1.0h-1.0zM76.2 87.0h1.0v1.0h-1.0zM76.2 86.0h1.0v1.0h-1.0zM76.2 85.0h1.0v1.0h-1.0zM76.2 84.0h1.0v1.0h-1.0zM76.2 83.0h1.0v1.0h-1.0zM76.2 81.0h1.0v1.0h-1.0zM76.2 80.0h1.0v1.0h-1.0zM76.2 79.0h1.0v1.0h-1.0zM76.2 78.0h1.0v1.0h-1.0zM76.2 63.0h1.0v1.0h-1.0zM77.2 99.0h1.0v1.0h-1.0zM77.2 98.0h1.0v1.0h-1.0zM77.2 97.0h1.0v1.0h-1.0zM77.2 96.0h1.0v1.0h-1.0zM77.2 95.0h1.0v1.0h-1.0zM77.2 94.0h1.0v1.0h-1.0zM77.2 93.0h1.0v1.0h-1.0zM77.2 92.0h1.0v1.0h-1.0zM77.2 91.0h1.0v1.0h-1.0zM77.2 90.0h1.0v1.0h-1.0zM77.2 89.0h1.0v1.0h-1.0zM77.2 88.0h1.0v1.0h-1.0zM77.2 87.0h1.0v1.0h-1.0zM77.2 86.0h1.0v1.0h-1.0zM77.2 85.0h1.0v1.0h-1.0zM77.2 84.0h1.0v1.0h-1.0zM77.2 83.0h1.0v1.0h-1.0zM77.2 82.0h1.0v1.0h-1.0zM77.2 81.0h1.0v1.0h-1.0zM77.2 79.0h1.0v1.0h-1.0zM77.2 78.0h1.0v1.0h-1.0zM77.2 69.0h1.0v1.0h-1.0zM78.2 99.0h1.0v1.0h-1.0zM78.2 98.0h1.0v1.0h-1.0zM78.2 97.0h1.0v1.0h-1.0zM78.2 96.0h1.0v1.0h-1.0zM78.2 95.0h1.0v1.0h-1.0zM78.2 94.0h1.0v1.0h-1.0zM78.2 93.0h1.0v1.0h-1.0zM78.2 92.0h1.0v1.0h-1.0zM78.2 91.0h1.0v1.0h-1.0zM78.2 89.0h1.0v1.0h-1.0zM78.2 88.0h1.0v1.0h-1.0zM78.2 87.0h1.0v1.0h-1.0zM78.2 86.0h1.0v1.0h-1.0zM78.2 85.0h1.0v1.0h-1.0zM78.2 84.0h1.0v1.0h-1.0zM78.2 79.0h1.0v1.0h-1.0zM78.2 76.0h1.0v1.0h-1.0zM79.2 99.0h1.0v1.0h-1.0zM79.2 98.0h1.0v1.0h-1.0zM79.2 97.0h1.0v1.0h-1.0zM79.2 96.0h1.0v1.0h-1.0zM79.2 95.0h1.0v1.0h-1.0zM79.2 94.0h1.0v1.0h-1.0zM79.2 93.0h1.0v1.0h-1.0zM79.2 92.0h1.0v1.0h-1.0zM79.2 91.0h1.0v1.0h-1.0zM79.2 90.0h1.0v1.0h-1.0zM79.2 89.0h1.0v1.0h-1.0zM79.2 88.0h1.0v1.0h-1.0zM79.2 87.0h1.0v1.0h-1.0zM79.2 85.0h1.0v1.0h-1.0zM79.2 83.0h1.0v1.0h-1.0zM79.2 81.0h1.0v1.0h-1.0zM79.2 77.0h1.0v1.0h-1.0zM80.2 99.0h1.0v1.0h-1.0zM80.2 98.0h1.0v1.0h-1.0zM80.2 97.0h1.0v1.0h-1.0zM80.2 96.0h1.0v1.0h-1.0zM80.2 95.0h1.0v1.0h-1.0zM80.2 94.0h1.0v1.0h-1.0zM80.2 93.0h1.0v1.0h-1.0zM80.2 92.0h1.0v1.0h-1.0zM80.2 91.0h1.0v1.0h-1.0zM80.2 90.0h1.0v1.0h-1.0zM80.2 89.0h1.0v1.0h-1.0zM80.2 88.0h1.0v1.0h-1.0zM80.2 87.0h1.0v1.0h-1.0zM80.2 86.0h1.0v1.0h-1.0zM80.2 85.0h1.0v1.0h-1.0zM80.2 84.0h1.0v1.0h-1.0zM80.2 83.0h1.0v1.0h-1.0zM80.2 82.0h1.0v1.0h-1.0zM80.2 80.0h1.0v1.0h-1.0zM80.2 78.0h1.0v1.0h-1.0zM80.2 77.0h1.0v1.0h-1.0zM80.2 75.0h1.0v1.0h-1.0zM80.2 74.0h1.0v1.0h-1.0zM81.2 99.0h1.0v1.0h-1.0zM81.2 98.0h1.0v1.0h-1.0zM81.2 97.0h1.0v1.0h-1.0zM81.2 96.0h1.0v1.0h-1.0zM81.2 95.0h1.0v1.0h-1.0zM81.2 94.0h1.0v1.0h-1.0zM81.2 93.0h1.0v1.0h-1.0zM81.2 92.0h1.0v1.0h-1.0zM81.2 91.0h1.0v1.0h-1.0zM81.2 90.0h1.0v1.0h-1.0zM81.2 89.0h1.0v1.0h-1.0zM81.2 88.0h1.0v1.0h-1.0zM81.2 87.0h1.0v1.0h-1.0zM81.2 86.0h1.0v1.0h-1.0zM81.2 85.0h1.0v1.0h-1.0zM81.2 84.0h1.0v1.0h-1.0zM81.2 83.0h1.0v1.0h-1.0zM81.2 82.0h1.0v1.0h-1.0zM81.2 81.0h1.0v1.0h-1.0zM81.2 79.0h1.0v1.0h-1.0zM81.2 77.0h1.0v1.0h-1.0zM81.2 76.0h1.0v1.0h-1.0zM81.2 75.0h1.0v1.0h-1.0zM81.2 74.0h1.0v1.0h-1.0zM81.2 71.0h1.0v1.0h-1.0zM81.2 69.0h1.0v1.0h-1.0zM82.2 99.0h1.0v1.0h-1.0zM82.2 98.0h1.0v1.0h-1.0zM82.2 97.0h1.0v1.0h-1.0zM82.2 96.0h1.0v1.0h-1.0zM82.2 95.0h1.0v1.0h-1.0zM82.2 94.0h1.0v1.0h-1.0zM82.2 93.0h1.0v1.0h-1.0zM82.2 91.0h1.0v1.0h-1.0zM82.2 89.0h1.0v1.0h-1.0zM82.2 88.0h1.0v1.0h-1.0zM82.2 86.0h1.0v1.0h-1.0zM82.2 85.0h1.0v1.0h-1.0zM82.2 84.0h1.0v1.0h-1.0zM82.2 83.0h1.0v1.0h-1.0zM82.2 64.0h1.0v1.0h-1.0zM83.2 99.0h1.0v1.0h-1.0zM83.2 98.0h1.0v1.0h-1.0zM83.2 97.0h1.0v1.0h-1.0zM83.2 96.0h1.0v1.0h-1.0zM83.2 95.0h1.0v1.0h-1.0zM83.2 94.0h1.0v1.0h-1.0zM83.2 93.0h1.0v1.0h-1.0zM83.2 92.0h1.0v1.0h-1.0zM83.2 91.0h1.0v1.0h-1.0zM83.2 90.0h1.0v1.0h-1.0zM83.2 89.0h1.0v1.0h-1.0zM83.2 88.0h1.0v1.0h-1.0zM83.2 87.0h1.0v1.0h-1.0zM83.2 86.0h1.0v1.0h-1.0zM83.2 84.0h1.0v1.0h-1.0zM83.2 82.0h1.0v1.0h-1.0zM83.2 81.0h1.0v1.0h-1.0zM83.2 80.0h1.0v1.0h-1.0zM83.2 79.0h1.0v1.0h-1.0zM83.2 76.0h1.0v1.0h-1.0zM83.2 72.0h1.0v1.0h-1.0zM84.2 99.0h1.0v1.0h-1.0zM84.2 98.0h1.0v1.0h-1.0zM84.2 97.0h1.0v1.0h-1.0zM84.2 96.0h1.0v1.0h-1.0zM84.2 95.0h1.0v1.0h-1.0zM84.2 94.0h1.0v1.0h-1.0zM84.2 93.0h1.0v1.0h-1.0zM84.2 92.0h1.0v1.0h-1.0zM84.2 91.0h1.0v1.0h-1.0zM84.2 90.0h1.0v1.0h-1.0zM84.2 88.0h1.0v1.0h-1.0zM84.2 87.0h1.0v1.0h-1.0zM84.2 86.0h1.0v1.0h-1.0zM84.2 85.0h1.0v1.0h-1.0zM84.2 81.0h1.0v1.0h-1.0zM84.2 80.0h1.0v1.0h-1.0zM84.2 77.0h1.0v1.0h-1.0zM84.2 73.0h1.0v1.0h-1.0zM85.2 99.0h0.6v1.0h-0.6zM85.2 98.0h0.6v1.0h-0.6zM85.2 97.0h0.6v1.0h-0.6zM85.2 96.0h0.6v1.0h-0.6zM85.2 95.0h0.6v1.0h-0.6zM85.2 94.0h0.6v1.0h-0.6zM85.2 93.0h0.6v1.0h-0.6zM85.2 92.0h0.6v1.0h-0.6zM85.2 91.0h0.6v1.0h-0.6zM85.2 90.0h0.6v1.0h-0.6zM85.2 89.0h0.6v1.0h-0.6zM85.2 88.0h0.6v1.0h-0.6zM85.2 87.0h0.6v1.0h-0.6zM85.2 86.0h0.6v1.0h-0.6zM85.2 85.0h0.6v1.0h-0.6zM85.2 84.0h0.6v1.0h-0.6zM85.2 79.0h0.6v1.0h-0.6zM60.0 77.7h1.0v1.0h-1.0zM60.0 78.7h1.0v1.0h-1.0zM60.0 79.7h1.0v1.0h-1.0zM60.0 80.7h1.0v1.0h-1.0zM60.0 84.7h1.0v1.0h-1.0zM60.0 86.7h1.0v1.0h-1.0zM60.0 88.7h1.0v1.0h-1.0zM60.0 89.7h1.0v1.0h-1.0zM60.0 90.7h1.0v1.0h-1.0zM60.0 91.7h1.0v1.0h-1.0zM60.0 92.7h1.0v1.0h-1.0zM60.0 93.7h1.0v1.0h-1.0zM60.0 94.7h1.0v1.0h-1.0zM73.0 70.2h1.0v1.0h-1.0zM73.0 72.2h1.0v1.0h-1.0zM73.0 73.2h1.0v1.0h-1.0zM73.0 74.2h1.0v1.0h-1.0zM73.0 75.2h1.0v1.0h-1.0zM73.0 76.2h1.0v1.0h-1.0zM73.0 77.2h1.0v1.0h-1.0zM73.0 78.2h1.0v1.0h-1.0zM73.0 80.2h1.0v1.0h-1.0zM73.0 83.2h1.0v1.0h-1.0zM73.0 84.2h1.0v1.0h-1.0zM73.0 86.2h1.0v1.0h-1.0zM73.0 87.2h1.0v1.0h-1.0zM73.0 88.2h1.0v1.0h-1.0zM73.0 89.2h1.0v1.0h-1.0zM73.0 90.2h1.0v1.0h-1.0zM73.0 92.2h1.0v1.0h-1.0zM73.0 93.2h1.0v1.0h-1.0zM73.0 94.2h1.0v1.0h-1.0zM74.0 86.7h1.0v1.0h-1.0zM74.0 88.7h1.0v1.0h-1.0zM74.0 89.7h1.0v1.0h-1.0zM74.0 90.7h1.0v1.0h-1.0zM74.0 91.7h1.0v1.0h-1.0zM74.0 94.7h1.0v1.0h-1.0zM67.0 83.1h1.0v1.0h-1.0zM67.0 84.1h1.0v1.0h-1.0zM67.0 85.1h1.0v1.0h-1.0zM67.0 87.1h1.0v1.0h-1.0zM67.0 88.1h1.0v1.0h-1.0zM67.0 89.1h1.0v1.0h-1.0zM67.0 91.1h1.0v1.0h-1.0zM67.0 92.1h1.0v1.0h-1.0zM67.0 93.1h1.0v1.0h-1.0zM84.0 76.6h1.0v1.0h-1.0zM84.0 77.6h1.0v1.0h-1.0zM84.0 78.6h1.0v1.0h-1.0zM84.0 81.6h1.0v1.0h-1.0zM84.0 82.6h1.0v1.0h-1.0zM84.0 83.6h1.0v1.0h-1.0zM84.0 84.6h1.0v1.0h-1.0zM84.0 85.6h1.0v1.0h-1.0zM84.0 87.6h1.0v1.0h-1.0zM84.0 88.6h1.0v1.0h-1.0zM84.0 89.6h1.0v1.0h-1.0zM84.0 90.6h1.0v1.0h-1.0zM84.0 93.6h1.0v1.0h-1.0zM84.0 94.6h1.0v1.0h-1.0zM61.0 84.5h1.0v1.0h-1.0zM61.0 88.5h1.0v1.0h-1.0zM61.0 90.5h1.0v1.0h-1.0zM61.0 91.5h1.0v1.0h-1.0zM61.0 92.5h1.0v1.0h-1.0zM61.0 93.5h1.0v1.0h-1.0zM61.0 94.5h1.0v1.0h-1.0zM65.0 88.8h1.0v1.0h-1.0zM65.0 90.8h1.0v1.0h-1.0zM65.0 93.8h1.0v1.0h-1.0zM65.0 94.8h1.0v1.0h-1.0zM64.0 77.1h1.0v1.0h-1.0zM64.0 78.1h1.0v1.0h-1.0zM64.0 81.1h1.0v1.0h-1.0zM64.0 82.1h1.0v1.0h-1.0zM64.0 84.1h1.0v1.0h-1.0zM64.0 85.1h1.0v1.0h-1.0zM64.0 86.1h1.0v1.0h-1.0zM64.0 87.1h1.0v1.0h-1.0zM64.0 89.1h1.0v1.0h-1.0zM64.0 90.1h1.0v1.0h-1.0zM64.0 91.1h1.0v1.0h-1.0zM64.0 92.1h1.0v1.0h-1.0zM64.0 94.1h1.0v1.0h-1.0zM61.0 76.9h1.0v1.0h-1.0zM61.0 77.9h1.0v1.0h-1.0zM61.0 78.9h1.0v1.0h-1.0zM61.0 79.9h1.0v1.0h-1.0zM61.0 80.9h1.0v1.0h-1.0zM61.0 82.9h1.0v1.0h-1.0zM61.0 83.9h1.0v1.0h-1.0zM61.0 85.9h1.0v1.0h-1.0zM61.0 86.9h1.0v1.0h-1.0zM61.0 87.9h1.0v1.0h-1.0zM61.0 90.9h1.0v1.0h-1.0zM61.0 91.9h1.0v1.0h-1.0zM61.0 93.9h1.0v1.0h-1.0zM61.0 94.9h1.0v1.0h-1.0zM82.0 76.8h1.0v1.0h-1.0zM82.0 77.8h1.0v1.0h-1.0zM82.0 79.8h1.0v1.0h-1.0zM82.0 80.8h1.0v1.0h-1.0zM82.0 83.8h1.0v1.0h-1.0zM82.0 85.8h1.0v1.0h-1.0zM82.0 86.8h1.0v1.0h-1.0zM82.0 89.8h1.0v1.0h-1.0zM82.0 90.8h1.0v1.0h-1.0zM82.0 91.8h1.0v1.0h-1.0zM82.0 93.8h1.0v1.0h-1.0zM83.0 76.8h1.0v1.0h-1.0zM83.0 77.8h1.0v1.0h-1.0zM83.0 78.8h1.0v1.0h-1.0zM83.0 80.8h1.0v1.0h-1.0zM83.0 83.8h1.0v1.0h-1.0zM83.0 85.8h1.0v1.0h-1.0zM83.0 86.8h1.0v1.0h-1.0zM83.0 87.8h1.0v1.0h-1.0zM83.0 91.8h1.0v1.0h-1.0zM83.0 93.8h1.0v1.0h-1.0zM72.0 76.3h1.0v1.0h-1.0zM72.0 78.3h1.0v1.0h-1.0zM72.0 79.3h1.0v1.0h-1.0zM72.0 80.3h1.0v1.0h-1.0zM72.0 81.3h1.0v1.0h-1.0zM72.0 82.3h1.0v1.0h-1.0zM72.0 83.3h1.0v1.0h-1.0zM72.0 85.3h1.0v1.0h-1.0zM72.0 88.3h1.0v1.0h-1.0zM72.0 89.3h1.0v1.0h-1.0zM72.0 91.3h1.0v1.0h-1.0zM72.0 92.3h1.0v1.0h-1.0zM72.0 93.3h1.0v1.0h-1.0zM73.0 81.1h1.0v1.0h-1.0zM73.0 85.1h1.0v1.0h-1.0zM73.0 86.1h1.0v1.0h-1.0zM73.0 87.1h1.0v1.0h-1.0zM73.0 89.1h1.0v1.0h-1.0zM73.0 90.1h1.0v1.0h-1.0zM73.0 93.1h1.0v1.0h-1.0zM73.0 94.1h1.0v1.0h-1.0zM61.0 74.4h1.0v1.0h-1.0zM61.0 75.4h1.0v1.0h-1.0zM61.0 76.4h1.0v1.0h-1.0zM61.0 77.4h1.0v1.0h-1.0zM61.0 78.4h1.0v1.0h-1.0zM61.0 79.4h1.0v1.0h-1.0zM61.0 86.4h1.0v1.0h-1.0zM61.0 89.4h1.0v1.0h-1.0zM61.0 91.4h1.0v1.0h-1.0zM61.0 93.4h1.0v1.0h-1.0zM65.0 81.8h1.0v1.0h-1.0zM65.0 82.8h1.0v1.0h-1.0zM65.0 83.8h1.0v1.0h-1.0zM65.0 84.8h1.0v1.0h-1.0zM65.0 92.8h1.0v1.0h-1.0zM65.0 93.8h1.0v1.0h-1.0zM65.0 94.8h1.0v1.0h-1.0zM59.0 84.6h1.0v1.0h-1.0zM59.0 89.6h1.0v1.0h-1.0zM59.0 90.6h1.0v1.0h-1.0zM59.0 92.6h1.0v1.0h-1.0zM59.0 93.6h1.0v1.0h-1.0zM59.0 94.6h1.0v1.0h-1.0zM72.0 63.0h1.0v1.0h-1.0zM72.0 64.0h1.0v1.0h-1.0zM72.0 65.0h1.0v1.0h-1.0zM72.0 66.0h1.0v1.0h-1.0zM72.0 68.0h1.0v1.0h-1.0zM72.0 72.0h1.0v1.0h-1.0zM72.0 73.0h1.0v1.0h-1.0zM72.0 74.0h1.0v1.0h-1.0zM72.0 76.0h1.0v1.0h-1.0zM72.0 77.0h1.0v1.0h-1.0zM72.0 80.0h1.0v1.0h-1.0zM72.0 81.0h1.0v1.0h-1.0zM72.0 86.0h1.0v1.0h-1.0zM72.0 87.0h1.0v1.0h-1.0zM72.0 88.0h1.0v1.0h-1.0zM72.0 90.0h1.0v1.0h-1.0zM72.0 91.0h1.0v1.0h-1.0zM72.0 93.0h1.0v1.0h-1.0zM72.0 94.0h1.0v1.0h-1.0zM76.0 77.8h1.0v1.0h-1.0zM76.0 78.8h1.0v1.0h-1.0zM76.0 79.8h1.0v1.0h-1.0zM76.0 80.8h1.0v1.0h-1.0zM76.0 81.8h1.0v1.0h-1.0zM76.0 82.8h1.0v1.0h-1.0zM76.0 83.8h1.0v1.0h-1.0zM76.0 84.8h1.0v1.0h-1.0zM76.0 87.8h1.0v1.0h-1.0zM76.0 89.8h1.0v1.0h-1.0zM76.0 90.8h1.0v1.0h-1.0zM76.0 91.8h1.0v1.0h-1.0zM76.0 92.8h1.0v1.0h-1.0zM76.0 94.8h1.0v1.0h-1.0zM78.0 85.1h1.0v1.0h-1.0zM78.0 87.1h1.0v1.0h-1.0zM78.0 89.1h1.0v1.0h-1.0zM78.0 93.1h1.0v1.0h-1.0zM78.0 94.1h1.0v1.0h-1.0zM107.0 102.0h1.0v1.0h-1.0zM107.0 101.0h1.0v1.0h-1.0zM107.0 100.0h1.0v1.0h-1.0zM107.0 99.0h1.0v1.0h-1.0zM107.0 98.0h1.0v1.0h-1.0zM107.0 97.0h1.0v1.0h-1.0zM107.0 96.0h1.0v1.0h-1.0zM107.0 95.0h1.0v1.0h-1.0zM107.0 94.0h1.0v1.0h-1.0zM107.0 93.0h1.0v1.0h-1.0zM107.0 92.0h1.0v1.0h-1.0zM107.0 91.0h1.0v1.0h-1.0zM107.0 90.0h1.0v1.0h-1.0zM107.0 89.0h1.0v1.0h-1.0zM107.0 88.0h1.0v1.0h-1.0zM107.0 87.0h1.0v1.0h-1.0zM107.0 86.0h1.0v1.0h-1.0zM107.0 85.0h1.0v1.0h-1.0zM107.0 84.0h1.0v1.0h-1.0zM107.0 81.0h1.0v1.0h-1.0zM107.0 80.0h1.0v1.0h-1.0zM107.0 79.0h1.0v1.0h-1.0zM107.0 78.0h1.0v1.0h-1.0zM107.0 77.0h1.0v1.0h-1.0zM107.0 72.0h1.0v1.0h-1.0zM108.0 102.0h1.0v1.0h-1.0zM108.0 101.0h1.0v1.0h-1.0zM108.0 100.0h1.0v1.0h-1.0zM108.0 99.0h1.0v1.0h-1.0zM108.0 98.0h1.0v1.0h-1.0zM108.0 97.0h1.0v1.0h-1.0zM108.0 96.0h1.0v1.0h-1.0zM108.0 95.0h1.0v1.0h-1.0zM108.0 94.0h1.0v1.0h-1.0zM108.0 93.0h1.0v1.0h-1.0zM108.0 92.0h1.0v1.0h-1.0zM108.0 91.0h1.0v1.0h-1.0zM108.0 90.0h1.0v1.0h-1.0zM108.0 88.0h1.0v1.0h-1.0zM108.0 86.0h1.0v1.0h-1.0zM108.0 83.0h1.0v1.0h-1.0zM108.0 81.0h1.0v1.0h-1.0zM108.0 79.0h1.0v1.0h-1.0zM109.0 102.0h1.0v1.0h-1.0zM109.0 101.0h1.0v1.0h-1.0zM109.0 100.0h1.0v1.0h-1.0zM109.0 99.0h1.0v1.0h-1.0zM109.0 98.0h1.0v1.0h-1.0zM109.0 97.0h1.0v1.0h-1.0zM109.0 96.0h1.0v1.0h-1.0zM109.0 95.0h1.0v1.0h-1.0zM109.0 94.0h1.0v1.0h-1.0zM109.0 93.0h1.0v1.0h-1.0zM109.0 92.0h1.0v1.0h-1.0zM109.0 91.0h1.0v1.0h-1.0zM109.0 90.0h1.0v1.0h-1.0zM109.0 89.0h1.0v1.0h-1.0zM109.0 88.0h1.0v1.0h-1.0zM109.0 87.0h1.0v1.0h-1.0zM109.0 85.0h1.0v1.0h-1.0zM109.0 84.0h1.0v1.0h-1.0zM109.0 83.0h1.0v1.0h-1.0zM109.0 81.0h1.0v1.0h-1.0zM109.0 79.0h1.0v1.0h-1.0zM109.0 74.0h1.0v1.0h-1.0zM109.0 73.0h1.0v1.0h-1.0zM110.0 102.0h1.0v1.0h-1.0zM110.0 101.0h1.0v1.0h-1.0zM110.0 100.0h1.0v1.0h-1.0zM110.0 99.0h1.0v1.0h-1.0zM110.0 98.0h1.0v1.0h-1.0zM110.0 97.0h1.0v1.0h-1.0zM110.0 96.0h1.0v1.0h-1.0zM110.0 95.0h1.0v1.0h-1.0zM110.0 94.0h1.0v1.0h-1.0zM110.0 93.0h1.0v1.0h-1.0zM110.0 92.0h1.0v1.0h-1.0zM110.0 91.0h1.0v1.0h-1.0zM110.0 90.0h1.0v1.0h-1.0zM110.0 89.0h1.0v1.0h-1.0zM110.0 88.0h1.0v1.0h-1.0zM110.0 87.0h1.0v1.0h-1.0zM110.0 86.0h1.0v1.0h-1.0zM110.0 84.0h1.0v1.0h-1.0zM110.0 83.0h1.0v1.0h-1.0zM110.0 82.0h1.0v1.0h-1.0zM110.0 75.0h1.0v1.0h-1.0zM111.0 102.0h1.0v1.0h-1.0zM111.0 101.0h1.0v1.0h-1.0zM111.0 100.0h1.0v1.0h-1.0zM111.0 99.0h1.0v1.0h-1.0zM111.0 98.0h1.0v1.0h-1.0zM111.0 97.0h1.0v1.0h-1.0zM111.0 96.0h1.0v1.0h-1.0zM111.0 95.0h1.0v1.0h-1.0zM111.0 94.0h1.0v1.0h-1.0zM111.0 93.0h1.0v1.0h-1.0zM111.0 92.0h1.0v1.0h-1.0zM111.0 91.0h1.0v1.0h-1.0zM111.0 90.0h1.0v1.0h-1.0zM111.0 89.0h1.0v1.0h-1.0zM111.0 87.0h1.0v1.0h-1.0zM111.0 84.0h1.0v1.0h-1.0zM111.0 82.0h1.0v1.0h-1.0zM111.0 76.0h1.0v1.0h-1.0zM112.0 102.0h1.0v1.0h-1.0zM112.0 101.0h1.0v1.0h-1.0zM112.0 100.0h1.0v1.0h-1.0zM112.0 99.0h1.0v1.0h-1.0zM112.0 98.0h1.0v1.0h-1.0zM112.0 97.0h1.0v1.0h-1.0zM112.0 96.0h1.0v1.0h-1.0zM112.0 95.0h1.0v1.0h-1.0zM112.0 94.0h1.0v1.0h-1.0zM112.0 93.0h1.0v1.0h-1.0zM112.0 92.0h1.0v1.0h-1.0zM112.0 91.0h1.0v1.0h-1.0zM112.0 89.0h1.0v1.0h-1.0zM112.0 85.0h1.0v1.0h-1.0zM112.0 84.0h1.0v1.0h-1.0zM112.0 74.0h1.0v1.0h-1.0zM112.0 72.0h1.0v1.0h-1.0zM112.0 64.0h1.0v1.0h-1.0zM113.0 102.0h1.0v1.0h-1.0zM113.0 101.0h1.0v1.0h-1.0zM113.0 100.0h1.0v1.0h-1.0zM113.0 99.0h1.0v1.0h-1.0zM113.0 98.0h1.0v1.0h-1.0zM113.0 97.0h1.0v1.0h-1.0zM113.0 96.0h1.0v1.0h-1.0zM113.0 95.0h1.0v1.0h-1.0zM113.0 94.0h1.0v1.0h-1.0zM113.0 93.0h1.0v1.0h-1.0zM113.0 92.0h1.0v1.0h-1.0zM113.0 91.0h1.0v1.0h-1.0zM113.0 90.0h1.0v1.0h-1.0zM113.0 88.0h1.0v1.0h-1.0zM113.0 87.0h1.0v1.0h-1.0zM113.0 86.0h1.0v1.0h-1.0zM113.0 85.0h1.0v1.0h-1.0zM113.0 84.0h1.0v1.0h-1.0zM113.0 82.0h1.0v1.0h-1.0zM113.0 81.0h1.0v1.0h-1.0zM113.0 79.0h1.0v1.0h-1.0zM113.0 77.0h1.0v1.0h-1.0zM114.0 102.0h1.0v1.0h-1.0zM114.0 101.0h1.0v1.0h-1.0zM114.0 100.0h1.0v1.0h-1.0zM114.0 99.0h1.0v1.0h-1.0zM114.0 98.0h1.0v1.0h-1.0zM114.0 97.0h1.0v1.0h-1.0zM114.0 96.0h1.0v1.0h-1.0zM114.0 95.0h1.0v1.0h-1.0zM114.0 94.0h1.0v1.0h-1.0zM114.0 93.0h1.0v1.0h-1.0zM114.0 90.0h1.0v1.0h-1.0zM114.0 84.0h1.0v1.0h-1.0zM115.0 102.0h1.0v1.0h-1.0zM115.0 101.0h1.0v1.0h-1.0zM115.0 100.0h1.0v1.0h-1.0zM115.0 99.0h1.0v1.0h-1.0zM115.0 98.0h1.0v1.0h-1.0zM115.0 97.0h1.0v1.0h-1.0zM115.0 96.0h1.0v1.0h-1.0zM115.0 95.0h1.0v1.0h-1.0zM115.0 94.0h1.0v1.0h-1.0zM115.0 93.0h1.0v1.0h-1.0zM115.0 92.0h1.0v1.0h-1.0zM115.0 91.0h1.0v1.0h-1.0zM115.0 90.0h1.0v1.0h-1.0zM115.0 89.0h1.0v1.0h-1.0zM115.0 88.0h1.0v1.0h-1.0zM115.0 87.0h1.0v1.0h-1.0zM115.0 86.0h1.0v1.0h-1.0zM115.0 85.0h1.0v1.0h-1.0zM115.0 84.0h1.0v1.0h-1.0zM115.0 83.0h1.0v1.0h-1.0zM115.0 82.0h1.0v1.0h-1.0zM115.0 81.0h1.0v1.0h-1.0zM115.0 80.0h1.0v1.0h-1.0zM115.0 79.0h1.0v1.0h-1.0zM115.0 77.0h1.0v1.0h-1.0zM115.0 76.0h1.0v1.0h-1.0zM115.0 72.0h1.0v1.0h-1.0zM116.0 102.0h1.0v1.0h-1.0zM116.0 101.0h1.0v1.0h-1.0zM116.0 100.0h1.0v1.0h-1.0zM116.0 99.0h1.0v1.0h-1.0zM116.0 98.0h1.0v1.0h-1.0zM116.0 97.0h1.0v1.0h-1.0zM116.0 96.0h1.0v1.0h-1.0zM116.0 95.0h1.0v1.0h-1.0zM116.0 94.0h1.0v1.0h-1.0zM116.0 93.0h1.0v1.0h-1.0zM116.0 92.0h1.0v1.0h-1.0zM116.0 91.0h1.0v1.0h-1.0zM116.0 90.0h1.0v1.0h-1.0zM116.0 88.0h1.0v1.0h-1.0zM116.0 87.0h1.0v1.0h-1.0zM116.0 86.0h1.0v1.0h-1.0zM116.0 85.0h1.0v1.0h-1.0zM116.0 81.0h1.0v1.0h-1.0zM116.0 80.0h1.0v1.0h-1.0zM116.0 79.0h1.0v1.0h-1.0zM116.0 73.0h1.0v1.0h-1.0zM117.0 102.0h1.0v1.0h-1.0zM117.0 101.0h1.0v1.0h-1.0zM117.0 100.0h1.0v1.0h-1.0zM117.0 99.0h1.0v1.0h-1.0zM117.0 98.0h1.0v1.0h-1.0zM117.0 97.0h1.0v1.0h-1.0zM117.0 96.0h1.0v1.0h-1.0zM117.0 95.0h1.0v1.0h-1.0zM117.0 94.0h1.0v1.0h-1.0zM117.0 93.0h1.0v1.0h-1.0zM117.0 92.0h1.0v1.0h-1.0zM117.0 90.0h1.0v1.0h-1.0zM117.0 89.0h1.0v1.0h-1.0zM117.0 85.0h1.0v1.0h-1.0zM117.0 84.0h1.0v1.0h-1.0zM117.0 73.0h1.0v1.0h-1.0zM117.0 71.0h1.0v1.0h-1.0zM117.0 57.0h1.0v1.0h-1.0zM118.0 102.0h1.0v1.0h-1.0zM118.0 101.0h1.0v1.0h-1.0zM118.0 100.0h1.0v1.0h-1.0zM118.0 99.0h1.0v1.0h-1.0zM118.0 98.0h1.0v1.0h-1.0zM118.0 97.0h1.0v1.0h-1.0zM118.0 96.0h1.0v1.0h-1.0zM118.0 95.0h1.0v1.0h-1.0zM118.0 94.0h1.0v1.0h-1.0zM118.0 93.0h1.0v1.0h-1.0zM118.0 92.0h1.0v1.0h-1.0zM118.0 91.0h1.0v1.0h-1.0zM118.0 90.0h1.0v1.0h-1.0zM118.0 89.0h1.0v1.0h-1.0zM118.0 88.0h1.0v1.0h-1.0zM118.0 87.0h1.0v1.0h-1.0zM118.0 86.0h1.0v1.0h-1.0zM118.0 85.0h1.0v1.0h-1.0zM118.0 84.0h1.0v1.0h-1.0zM118.0 83.0h1.0v1.0h-1.0zM118.0 82.0h1.0v1.0h-1.0zM118.0 81.0h1.0v1.0h-1.0zM118.0 79.0h1.0v1.0h-1.0zM118.0 77.0h1.0v1.0h-1.0zM118.0 76.0h1.0v1.0h-1.0zM118.0 74.0h1.0v1.0h-1.0zM118.0 73.0h1.0v1.0h-1.0zM118.0 72.0h1.0v1.0h-1.0zM118.0 70.0h1.0v1.0h-1.0zM119.0 102.0h1.0v1.0h-1.0zM119.0 101.0h1.0v1.0h-1.0zM119.0 100.0h1.0v1.0h-1.0zM119.0 99.0h1.0v1.0h-1.0zM119.0 98.0h1.0v1.0h-1.0zM119.0 97.0h1.0v1.0h-1.0zM119.0 96.0h1.0v1.0h-1.0zM119.0 95.0h1.0v1.0h-1.0zM119.0 94.0h1.0v1.0h-1.0zM119.0 93.0h1.0v1.0h-1.0zM119.0 92.0h1.0v1.0h-1.0zM119.0 91.0h1.0v1.0h-1.0zM119.0 89.0h1.0v1.0h-1.0zM119.0 87.0h1.0v1.0h-1.0zM119.0 86.0h1.0v1.0h-1.0zM119.0 84.0h1.0v1.0h-1.0zM119.0 81.0h1.0v1.0h-1.0zM119.0 78.0h1.0v1.0h-1.0zM120.0 102.0h1.0v1.0h-1.0zM120.0 101.0h1.0v1.0h-1.0zM120.0 100.0h1.0v1.0h-1.0zM120.0 99.0h1.0v1.0h-1.0zM120.0 98.0h1.0v1.0h-1.0zM120.0 96.0h1.0v1.0h-1.0zM120.0 95.0h1.0v1.0h-1.0zM120.0 94.0h1.0v1.0h-1.0zM120.0 90.0h1.0v1.0h-1.0zM120.0 87.0h1.0v1.0h-1.0zM120.0 85.0h1.0v1.0h-1.0zM120.0 83.0h1.0v1.0h-1.0zM120.0 79.0h1.0v1.0h-1.0zM121.0 102.0h1.0v1.0h-1.0zM121.0 101.0h1.0v1.0h-1.0zM121.0 100.0h1.0v1.0h-1.0zM121.0 99.0h1.0v1.0h-1.0zM121.0 98.0h1.0v1.0h-1.0zM121.0 97.0h1.0v1.0h-1.0zM121.0 96.0h1.0v1.0h-1.0zM121.0 95.0h1.0v1.0h-1.0zM121.0 94.0h1.0v1.0h-1.0zM121.0 93.0h1.0v1.0h-1.0zM121.0 92.0h1.0v1.0h-1.0zM121.0 91.0h1.0v1.0h-1.0zM121.0 90.0h1.0v1.0h-1.0zM121.0 88.0h1.0v1.0h-1.0zM121.0 87.0h1.0v1.0h-1.0zM121.0 86.0h1.0v1.0h-1.0zM121.0 85.0h1.0v1.0h-1.0zM121.0 77.0h1.0v1.0h-1.0zM121.0 76.0h1.0v1.0h-1.0zM121.0 69.0h1.0v1.0h-1.0zM122.0 102.0h1.0v1.0h-1.0zM122.0 101.0h1.0v1.0h-1.0zM122.0 100.0h1.0v1.0h-1.0zM122.0 99.0h1.0v1.0h-1.0zM122.0 98.0h1.0v1.0h-1.0zM122.0 97.0h1.0v1.0h-1.0zM122.0 96.0h1.0v1.0h-1.0zM122.0 95.0h1.0v1.0h-1.0zM122.0 94.0h1.0v1.0h-1.0zM122.0 93.0h1.0v1.0h-1.0zM122.0 92.0h1.0v1.0h-1.0zM122.0 91.0h1.0v1.0h-1.0zM122.0 90.0h1.0v1.0h-1.0zM122.0 89.0h1.0v1.0h-1.0zM122.0 87.0h1.0v1.0h-1.0zM122.0 85.0h1.0v1.0h-1.0zM122.0 82.0h1.0v1.0h-1.0zM122.0 80.0h1.0v1.0h-1.0zM122.0 75.0h1.0v1.0h-1.0zM122.0 74.0h1.0v1.0h-1.0zM123.0 102.0h1.0v1.0h-1.0zM123.0 101.0h1.0v1.0h-1.0zM123.0 100.0h1.0v1.0h-1.0zM123.0 99.0h1.0v1.0h-1.0zM123.0 98.0h1.0v1.0h-1.0zM123.0 97.0h1.0v1.0h-1.0zM123.0 96.0h1.0v1.0h-1.0zM123.0 95.0h1.0v1.0h-1.0zM123.0 94.0h1.0v1.0h-1.0zM123.0 93.0h1.0v1.0h-1.0zM123.0 92.0h1.0v1.0h-1.0zM123.0 91.0h1.0v1.0h-1.0zM123.0 90.0h1.0v1.0h-1.0zM123.0 89.0h1.0v1.0h-1.0zM123.0 88.0h1.0v1.0h-1.0zM123.0 87.0h1.0v1.0h-1.0zM123.0 86.0h1.0v1.0h-1.0zM123.0 85.0h1.0v1.0h-1.0zM123.0 84.0h1.0v1.0h-1.0zM123.0 83.0h1.0v1.0h-1.0zM123.0 77.0h1.0v1.0h-1.0zM123.0 76.0h1.0v1.0h-1.0zM123.0 75.0h1.0v1.0h-1.0zM123.0 74.0h1.0v1.0h-1.0zM123.0 65.0h1.0v1.0h-1.0zM124.0 102.0h1.0v1.0h-1.0zM124.0 101.0h1.0v1.0h-1.0zM124.0 100.0h1.0v1.0h-1.0zM124.0 99.0h1.0v1.0h-1.0zM124.0 98.0h1.0v1.0h-1.0zM124.0 97.0h1.0v1.0h-1.0zM124.0 96.0h1.0v1.0h-1.0zM124.0 95.0h1.0v1.0h-1.0zM124.0 94.0h1.0v1.0h-1.0zM124.0 93.0h1.0v1.0h-1.0zM124.0 90.0h1.0v1.0h-1.0zM124.0 89.0h1.0v1.0h-1.0zM124.0 87.0h1.0v1.0h-1.0zM124.0 85.0h1.0v1.0h-1.0zM124.0 82.0h1.0v1.0h-1.0zM125.0 102.0h1.0v1.0h-1.0zM125.0 101.0h1.0v1.0h-1.0zM125.0 100.0h1.0v1.0h-1.0zM125.0 99.0h1.0v1.0h-1.0zM125.0 98.0h1.0v1.0h-1.0zM125.0 97.0h1.0v1.0h-1.0zM125.0 96.0h1.0v1.0h-1.0zM125.0 95.0h1.0v1.0h-1.0zM125.0 94.0h1.0v1.0h-1.0zM125.0 93.0h1.0v1.0h-1.0zM125.0 92.0h1.0v1.0h-1.0zM125.0 91.0h1.0v1.0h-1.0zM125.0 90.0h1.0v1.0h-1.0zM125.0 89.0h1.0v1.0h-1.0zM125.0 88.0h1.0v1.0h-1.0zM125.0 87.0h1.0v1.0h-1.0zM125.0 86.0h1.0v1.0h-1.0zM125.0 83.0h1.0v1.0h-1.0zM125.0 82.0h1.0v1.0h-1.0zM125.0 81.0h1.0v1.0h-1.0zM125.0 79.0h1.0v1.0h-1.0zM125.0 72.0h1.0v1.0h-1.0zM125.0 70.0h1.0v1.0h-1.0zM125.0 62.0h1.0v1.0h-1.0zM126.0 102.0h1.0v1.0h-1.0zM126.0 101.0h1.0v1.0h-1.0zM126.0 100.0h1.0v1.0h-1.0zM126.0 99.0h1.0v1.0h-1.0zM126.0 98.0h1.0v1.0h-1.0zM126.0 97.0h1.0v1.0h-1.0zM126.0 96.0h1.0v1.0h-1.0zM126.0 95.0h1.0v1.0h-1.0zM126.0 94.0h1.0v1.0h-1.0zM126.0 93.0h1.0v1.0h-1.0zM126.0 92.0h1.0v1.0h-1.0zM126.0 90.0h1.0v1.0h-1.0zM126.0 87.0h1.0v1.0h-1.0zM126.0 86.0h1.0v1.0h-1.0zM126.0 85.0h1.0v1.0h-1.0zM126.0 80.0h1.0v1.0h-1.0zM127.0 102.0h1.0v1.0h-1.0zM127.0 101.0h1.0v1.0h-1.0zM127.0 100.0h1.0v1.0h-1.0zM127.0 99.0h1.0v1.0h-1.0zM127.0 97.0h1.0v1.0h-1.0zM127.0 96.0h1.0v1.0h-1.0zM127.0 95.0h1.0v1.0h-1.0zM127.0 94.0h1.0v1.0h-1.0zM127.0 93.0h1.0v1.0h-1.0zM127.0 92.0h1.0v1.0h-1.0zM127.0 90.0h1.0v1.0h-1.0zM127.0 88.0h1.0v1.0h-1.0zM127.0 87.0h1.0v1.0h-1.0zM127.0 86.0h1.0v1.0h-1.0zM127.0 82.0h1.0v1.0h-1.0zM127.0 71.0h1.0v1.0h-1.0zM128.0 102.0h0.7v1.0h-0.7zM128.0 101.0h0.7v1.0h-0.7zM128.0 100.0h0.7v1.0h-0.7zM128.0 99.0h0.7v1.0h-0.7zM128.0 98.0h0.7v1.0h-0.7zM128.0 97.0h0.7v1.0h-0.7zM128.0 96.0h0.7v1.0h-0.7zM128.0 95.0h0.7v1.0h-0.7zM128.0 94.0h0.7v1.0h-0.7zM128.0 93.0h0.7v1.0h-0.7zM128.0 92.0h0.7v1.0h-0.7zM128.0 91.0h0.7v1.0h-0.7zM128.0 90.0h0.7v1.0h-0.7zM128.0 89.0h0.7v1.0h-0.7zM128.0 88.0h0.7v1.0h-0.7zM128.0 87.0h0.7v1.0h-0.7zM128.0 86.0h0.7v1.0h-0.7zM128.0 85.0h0.7v1.0h-0.7zM128.0 84.0h0.7v1.0h-0.7zM128.0 83.0h0.7v1.0h-0.7zM128.0 82.0h0.7v1.0h-0.7zM128.0 81.0h0.7v1.0h-0.7zM128.0 80.0h0.7v1.0h-0.7zM128.0 78.0h0.7v1.0h-0.7zM128.0 77.0h0.7v1.0h-0.7zM128.0 73.0h0.7v1.0h-0.7zM128.0 72.0h0.7v1.0h-0.7zM128.0 68.0h0.7v1.0h-0.7zM123.0 82.2h1.0v1.0h-1.0zM123.0 84.2h1.0v1.0h-1.0zM123.0 85.2h1.0v1.0h-1.0zM123.0 86.2h1.0v1.0h-1.0zM123.0 87.2h1.0v1.0h-1.0zM123.0 88.2h1.0v1.0h-1.0zM123.0 91.2h1.0v1.0h-1.0zM123.0 92.2h1.0v1.0h-1.0zM123.0 93.2h1.0v1.0h-1.0zM123.0 94.2h1.0v1.0h-1.0zM123.0 96.2h1.0v1.0h-1.0zM115.0 66.0h1.0v1.0h-1.0zM115.0 69.0h1.0v1.0h-1.0zM115.0 70.0h1.0v1.0h-1.0zM115.0 72.0h1.0v1.0h-1.0zM115.0 73.0h1.0v1.0h-1.0zM115.0 74.0h1.0v1.0h-1.0zM115.0 76.0h1.0v1.0h-1.0zM115.0 79.0h1.0v1.0h-1.0zM115.0 80.0h1.0v1.0h-1.0zM115.0 81.0h1.0v1.0h-1.0zM115.0 82.0h1.0v1.0h-1.0zM115.0 83.0h1.0v1.0h-1.0zM115.0 84.0h1.0v1.0h-1.0zM115.0 85.0h1.0v1.0h-1.0zM115.0 86.0h1.0v1.0h-1.0zM115.0 88.0h1.0v1.0h-1.0zM115.0 90.0h1.0v1.0h-1.0zM115.0 91.0h1.0v1.0h-1.0zM115.0 92.0h1.0v1.0h-1.0zM115.0 93.0h1.0v1.0h-1.0zM115.0 95.0h1.0v1.0h-1.0zM115.0 96.0h1.0v1.0h-1.0zM115.0 97.0h1.0v1.0h-1.0zM125.0 81.8h1.0v1.0h-1.0zM125.0 82.8h1.0v1.0h-1.0zM125.0 83.8h1.0v1.0h-1.0zM125.0 85.8h1.0v1.0h-1.0zM125.0 87.8h1.0v1.0h-1.0zM125.0 88.8h1.0v1.0h-1.0zM125.0 89.8h1.0v1.0h-1.0zM125.0 90.8h1.0v1.0h-1.0zM125.0 96.8h1.0v1.0h-1.0zM125.0 97.8h1.0v1.0h-1.0zM124.0 77.9h1.0v1.0h-1.0zM124.0 78.9h1.0v1.0h-1.0zM124.0 79.9h1.0v1.0h-1.0zM124.0 81.9h1.0v1.0h-1.0zM124.0 82.9h1.0v1.0h-1.0zM124.0 83.9h1.0v1.0h-1.0zM124.0 84.9h1.0v1.0h-1.0zM124.0 85.9h1.0v1.0h-1.0zM124.0 89.9h1.0v1.0h-1.0zM124.0 90.9h1.0v1.0h-1.0zM124.0 91.9h1.0v1.0h-1.0zM124.0 96.9h1.0v1.0h-1.0zM124.0 97.9h1.0v1.0h-1.0zM109.0 72.4h1.0v1.0h-1.0zM109.0 73.4h1.0v1.0h-1.0zM109.0 75.4h1.0v1.0h-1.0zM109.0 76.4h1.0v1.0h-1.0zM109.0 77.4h1.0v1.0h-1.0zM109.0 79.4h1.0v1.0h-1.0zM109.0 82.4h1.0v1.0h-1.0zM109.0 87.4h1.0v1.0h-1.0zM109.0 89.4h1.0v1.0h-1.0zM109.0 90.4h1.0v1.0h-1.0zM109.0 91.4h1.0v1.0h-1.0zM109.0 93.4h1.0v1.0h-1.0zM109.0 94.4h1.0v1.0h-1.0zM109.0 95.4h1.0v1.0h-1.0zM109.0 97.4h1.0v1.0h-1.0zM122.0 82.4h1.0v1.0h-1.0zM122.0 83.4h1.0v1.0h-1.0zM122.0 87.4h1.0v1.0h-1.0zM122.0 90.4h1.0v1.0h-1.0zM122.0 91.4h1.0v1.0h-1.0zM122.0 92.4h1.0v1.0h-1.0zM122.0 93.4h1.0v1.0h-1.0zM122.0 94.4h1.0v1.0h-1.0zM122.0 95.4h1.0v1.0h-1.0zM122.0 96.4h1.0v1.0h-1.0zM122.0 97.4h1.0v1.0h-1.0zM122.0 76.2h1.0v1.0h-1.0zM122.0 77.2h1.0v1.0h-1.0zM122.0 80.2h1.0v1.0h-1.0zM122.0 81.2h1.0v1.0h-1.0zM122.0 82.2h1.0v1.0h-1.0zM122.0 83.2h1.0v1.0h-1.0zM122.0 84.2h1.0v1.0h-1.0zM122.0 85.2h1.0v1.0h-1.0zM122.0 87.2h1.0v1.0h-1.0zM122.0 89.2h1.0v1.0h-1.0zM122.0 90.2h1.0v1.0h-1.0zM122.0 91.2h1.0v1.0h-1.0zM122.0 92.2h1.0v1.0h-1.0zM122.0 93.2h1.0v1.0h-1.0zM122.0 94.2h1.0v1.0h-1.0zM122.0 95.2h1.0v1.0h-1.0zM122.0 97.2h1.0v1.0h-1.0zM120.0 81.1h1.0v1.0h-1.0zM120.0 82.1h1.0v1.0h-1.0zM120.0 85.1h1.0v1.0h-1.0zM120.0 86.1h1.0v1.0h-1.0zM120.0 87.1h1.0v1.0h-1.0zM120.0 89.1h1.0v1.0h-1.0zM120.0 90.1h1.0v1.0h-1.0zM120.0 91.1h1.0v1.0h-1.0zM120.0 92.1h1.0v1.0h-1.0zM120.0 93.1h1.0v1.0h-1.0zM120.0 94.1h1.0v1.0h-1.0zM120.0 95.1h1.0v1.0h-1.0zM120.0 96.1h1.0v1.0h-1.0zM120.0 97.1h1.0v1.0h-1.0zM112.0 84.5h1.0v1.0h-1.0zM112.0 85.5h1.0v1.0h-1.0zM112.0 86.5h1.0v1.0h-1.0zM112.0 87.5h1.0v1.0h-1.0zM112.0 90.5h1.0v1.0h-1.0zM112.0 91.5h1.0v1.0h-1.0zM112.0 92.5h1.0v1.0h-1.0zM112.0 94.5h1.0v1.0h-1.0zM112.0 95.5h1.0v1.0h-1.0zM110.0 81.7h1.0v1.0h-1.0zM110.0 82.7h1.0v1.0h-1.0zM110.0 83.7h1.0v1.0h-1.0zM110.0 84.7h1.0v1.0h-1.0zM110.0 86.7h1.0v1.0h-1.0zM110.0 87.7h1.0v1.0h-1.0zM110.0 88.7h1.0v1.0h-1.0zM110.0 89.7h1.0v1.0h-1.0zM110.0 90.7h1.0v1.0h-1.0zM110.0 94.7h1.0v1.0h-1.0zM110.0 96.7h1.0v1.0h-1.0zM110.0 97.7h1.0v1.0h-1.0zM111.0 72.3h1.0v1.0h-1.0zM111.0 74.3h1.0v1.0h-1.0zM111.0 75.3h1.0v1.0h-1.0zM111.0 77.3h1.0v1.0h-1.0zM111.0 78.3h1.0v1.0h-1.0zM111.0 79.3h1.0v1.0h-1.0zM111.0 81.3h1.0v1.0h-1.0zM111.0 82.3h1.0v1.0h-1.0zM111.0 83.3h1.0v1.0h-1.0zM111.0 84.3h1.0v1.0h-1.0zM111.0 85.3h1.0v1.0h-1.0zM111.0 86.3h1.0v1.0h-1.0zM111.0 89.3h1.0v1.0h-1.0zM111.0 90.3h1.0v1.0h-1.0zM111.0 91.3h1.0v1.0h-1.0zM111.0 92.3h1.0v1.0h-1.0zM111.0 93.3h1.0v1.0h-1.0zM111.0 94.3h1.0v1.0h-1.0zM111.0 95.3h1.0v1.0h-1.0zM109.0 85.8h1.0v1.0h-1.0zM109.0 86.8h1.0v1.0h-1.0zM109.0 87.8h1.0v1.0h-1.0zM109.0 88.8h1.0v1.0h-1.0zM109.0 89.8h1.0v1.0h-1.0zM109.0 90.8h1.0v1.0h-1.0zM109.0 91.8h1.0v1.0h-1.0zM109.0 93.8h1.0v1.0h-1.0zM109.0 94.8h1.0v1.0h-1.0zM109.0 95.8h1.0v1.0h-1.0zM109.0 96.8h1.0v1.0h-1.0zM115.0 83.0h1.0v1.0h-1.0zM115.0 87.0h1.0v1.0h-1.0zM115.0 89.0h1.0v1.0h-1.0zM115.0 93.0h1.0v1.0h-1.0zM115.0 94.0h1.0v1.0h-1.0zM115.0 95.0h1.0v1.0h-1.0zM115.0 96.0h1.0v1.0h-1.0zM112.0 76.9h1.0v1.0h-1.0zM112.0 77.9h1.0v1.0h-1.0zM112.0 83.9h1.0v1.0h-1.0zM112.0 85.9h1.0v1.0h-1.0zM112.0 87.9h1.0v1.0h-1.0zM112.0 88.9h1.0v1.0h-1.0zM112.0 89.9h1.0v1.0h-1.0zM112.0 90.9h1.0v1.0h-1.0zM112.0 91.9h1.0v1.0h-1.0zM112.0 92.9h1.0v1.0h-1.0zM112.0 93.9h1.0v1.0h-1.0zM112.0 94.9h1.0v1.0h-1.0zM112.0 95.9h1.0v1.0h-1.0zM112.0 96.9h1.0v1.0h-1.0zM112.0 97.9h1.0v1.0h-1.0zM148.5 103.0h1.0v1.0h-1.0zM148.5 102.0h1.0v1.0h-1.0zM148.5 101.0h1.0v1.0h-1.0zM148.5 100.0h1.0v1.0h-1.0zM148.5 99.0h1.0v1.0h-1.0zM148.5 98.0h1.0v1.0h-1.0zM148.5 97.0h1.0v1.0h-1.0zM148.5 96.0h1.0v1.0h-1.0zM148.5 95.0h1.0v1.0h-1.0zM148.5 94.0h1.0v1.0h-1.0zM148.5 93.0h1.0v1.0h-1.0zM148.5 92.0h1.0v1.0h-1.0zM148.5 90.0h1.0v1.0h-1.0zM148.5 89.0h1.0v1.0h-1.0zM148.5 88.0h1.0v1.0h-1.0zM148.5 85.0h1.0v1.0h-1.0zM148.5 84.0h1.0v1.0h-1.0zM148.5 64.0h1.0v1.0h-1.0zM148.5 61.0h1.0v1.0h-1.0zM149.5 103.0h1.0v1.0h-1.0zM149.5 102.0h1.0v1.0h-1.0zM149.5 101.0h1.0v1.0h-1.0zM149.5 100.0h1.0v1.0h-1.0zM149.5 99.0h1.0v1.0h-1.0zM149.5 98.0h1.0v1.0h-1.0zM149.5 97.0h1.0v1.0h-1.0zM149.5 96.0h1.0v1.0h-1.0zM149.5 95.0h1.0v1.0h-1.0zM149.5 94.0h1.0v1.0h-1.0zM149.5 93.0h1.0v1.0h-1.0zM149.5 92.0h1.0v1.0h-1.0zM149.5 91.0h1.0v1.0h-1.0zM149.5 90.0h1.0v1.0h-1.0zM149.5 89.0h1.0v1.0h-1.0zM149.5 87.0h1.0v1.0h-1.0zM149.5 84.0h1.0v1.0h-1.0zM149.5 83.0h1.0v1.0h-1.0zM149.5 79.0h1.0v1.0h-1.0zM149.5 55.0h1.0v1.0h-1.0zM150.5 103.0h1.0v1.0h-1.0zM150.5 102.0h1.0v1.0h-1.0zM150.5 101.0h1.0v1.0h-1.0zM150.5 100.0h1.0v1.0h-1.0zM150.5 98.0h1.0v1.0h-1.0zM150.5 97.0h1.0v1.0h-1.0zM150.5 96.0h1.0v1.0h-1.0zM150.5 95.0h1.0v1.0h-1.0zM150.5 90.0h1.0v1.0h-1.0zM150.5 89.0h1.0v1.0h-1.0zM150.5 77.0h1.0v1.0h-1.0zM150.5 70.0h1.0v1.0h-1.0zM151.5 103.0h1.0v1.0h-1.0zM151.5 102.0h1.0v1.0h-1.0zM151.5 101.0h1.0v1.0h-1.0zM151.5 100.0h1.0v1.0h-1.0zM151.5 99.0h1.0v1.0h-1.0zM151.5 98.0h1.0v1.0h-1.0zM151.5 97.0h1.0v1.0h-1.0zM151.5 96.0h1.0v1.0h-1.0zM151.5 95.0h1.0v1.0h-1.0zM151.5 94.0h1.0v1.0h-1.0zM151.5 93.0h1.0v1.0h-1.0zM151.5 92.0h1.0v1.0h-1.0zM151.5 91.0h1.0v1.0h-1.0zM151.5 90.0h1.0v1.0h-1.0zM151.5 89.0h1.0v1.0h-1.0zM151.5 88.0h1.0v1.0h-1.0zM151.5 87.0h1.0v1.0h-1.0zM151.5 86.0h1.0v1.0h-1.0zM151.5 84.0h1.0v1.0h-1.0zM151.5 83.0h1.0v1.0h-1.0zM152.5 103.0h1.0v1.0h-1.0zM152.5 102.0h1.0v1.0h-1.0zM152.5 101.0h1.0v1.0h-1.0zM152.5 100.0h1.0v1.0h-1.0zM152.5 99.0h1.0v1.0h-1.0zM152.5 97.0h1.0v1.0h-1.0zM152.5 96.0h1.0v1.0h-1.0zM152.5 78.0h1.0v1.0h-1.0zM153.5 103.0h1.0v1.0h-1.0zM153.5 102.0h1.0v1.0h-1.0zM153.5 101.0h1.0v1.0h-1.0zM153.5 100.0h1.0v1.0h-1.0zM153.5 99.0h1.0v1.0h-1.0zM153.5 98.0h1.0v1.0h-1.0zM153.5 97.0h1.0v1.0h-1.0zM153.5 96.0h1.0v1.0h-1.0zM153.5 95.0h1.0v1.0h-1.0zM153.5 94.0h1.0v1.0h-1.0zM153.5 93.0h1.0v1.0h-1.0zM153.5 92.0h1.0v1.0h-1.0zM153.5 91.0h1.0v1.0h-1.0zM153.5 89.0h1.0v1.0h-1.0zM153.5 88.0h1.0v1.0h-1.0zM153.5 84.0h1.0v1.0h-1.0zM153.5 77.0h1.0v1.0h-1.0zM154.5 103.0h1.0v1.0h-1.0zM154.5 102.0h1.0v1.0h-1.0zM154.5 101.0h1.0v1.0h-1.0zM154.5 100.0h1.0v1.0h-1.0zM154.5 99.0h1.0v1.0h-1.0zM154.5 98.0h1.0v1.0h-1.0zM154.5 97.0h1.0v1.0h-1.0zM154.5 96.0h1.0v1.0h-1.0zM154.5 95.0h1.0v1.0h-1.0zM154.5 94.0h1.0v1.0h-1.0zM154.5 93.0h1.0v1.0h-1.0zM154.5 92.0h1.0v1.0h-1.0zM154.5 90.0h1.0v1.0h-1.0zM154.5 82.0h1.0v1.0h-1.0zM154.5 79.0h1.0v1.0h-1.0zM155.5 103.0h1.0v1.0h-1.0zM155.5 102.0h1.0v1.0h-1.0zM155.5 101.0h1.0v1.0h-1.0zM155.5 100.0h1.0v1.0h-1.0zM155.5 99.0h1.0v1.0h-1.0zM155.5 98.0h1.0v1.0h-1.0zM155.5 97.0h1.0v1.0h-1.0zM155.5 96.0h1.0v1.0h-1.0zM155.5 95.0h1.0v1.0h-1.0zM155.5 94.0h1.0v1.0h-1.0zM155.5 93.0h1.0v1.0h-1.0zM155.5 92.0h1.0v1.0h-1.0zM155.5 91.0h1.0v1.0h-1.0zM155.5 90.0h1.0v1.0h-1.0zM155.5 89.0h1.0v1.0h-1.0zM155.5 88.0h1.0v1.0h-1.0zM155.5 87.0h1.0v1.0h-1.0zM155.5 86.0h1.0v1.0h-1.0zM155.5 85.0h1.0v1.0h-1.0zM155.5 84.0h1.0v1.0h-1.0zM155.5 82.0h1.0v1.0h-1.0zM155.5 81.0h1.0v1.0h-1.0zM155.5 80.0h1.0v1.0h-1.0zM155.5 79.0h1.0v1.0h-1.0zM155.5 78.0h1.0v1.0h-1.0zM155.5 75.0h1.0v1.0h-1.0zM155.5 73.0h1.0v1.0h-1.0zM155.5 65.0h1.0v1.0h-1.0zM156.5 103.0h1.0v1.0h-1.0zM156.5 102.0h1.0v1.0h-1.0zM156.5 101.0h1.0v1.0h-1.0zM156.5 100.0h1.0v1.0h-1.0zM156.5 99.0h1.0v1.0h-1.0zM156.5 98.0h1.0v1.0h-1.0zM156.5 97.0h1.0v1.0h-1.0zM156.5 96.0h1.0v1.0h-1.0zM156.5 95.0h1.0v1.0h-1.0zM156.5 94.0h1.0v1.0h-1.0zM156.5 92.0h1.0v1.0h-1.0zM156.5 91.0h1.0v1.0h-1.0zM156.5 89.0h1.0v1.0h-1.0zM156.5 87.0h1.0v1.0h-1.0zM157.5 103.0h1.0v1.0h-1.0zM157.5 102.0h1.0v1.0h-1.0zM157.5 101.0h1.0v1.0h-1.0zM157.5 100.0h1.0v1.0h-1.0zM157.5 99.0h1.0v1.0h-1.0zM157.5 98.0h1.0v1.0h-1.0zM157.5 97.0h1.0v1.0h-1.0zM157.5 96.0h1.0v1.0h-1.0zM157.5 95.0h1.0v1.0h-1.0zM157.5 94.0h1.0v1.0h-1.0zM157.5 93.0h1.0v1.0h-1.0zM157.5 92.0h1.0v1.0h-1.0zM157.5 91.0h1.0v1.0h-1.0zM157.5 90.0h1.0v1.0h-1.0zM157.5 89.0h1.0v1.0h-1.0zM157.5 88.0h1.0v1.0h-1.0zM157.5 87.0h1.0v1.0h-1.0zM157.5 86.0h1.0v1.0h-1.0zM157.5 83.0h1.0v1.0h-1.0zM157.5 82.0h1.0v1.0h-1.0zM157.5 79.0h1.0v1.0h-1.0zM157.5 72.0h1.0v1.0h-1.0zM158.5 103.0h1.0v1.0h-1.0zM158.5 102.0h1.0v1.0h-1.0zM158.5 101.0h1.0v1.0h-1.0zM158.5 100.0h1.0v1.0h-1.0zM158.5 99.0h1.0v1.0h-1.0zM158.5 98.0h1.0v1.0h-1.0zM158.5 97.0h1.0v1.0h-1.0zM158.5 96.0h1.0v1.0h-1.0zM158.5 95.0h1.0v1.0h-1.0zM158.5 94.0h1.0v1.0h-1.0zM158.5 93.0h1.0v1.0h-1.0zM158.5 92.0h1.0v1.0h-1.0zM158.5 91.0h1.0v1.0h-1.0zM158.5 90.0h1.0v1.0h-1.0zM158.5 89.0h1.0v1.0h-1.0zM158.5 88.0h1.0v1.0h-1.0zM158.5 87.0h1.0v1.0h-1.0zM158.5 86.0h1.0v1.0h-1.0zM158.5 83.0h1.0v1.0h-1.0zM158.5 81.0h1.0v1.0h-1.0zM158.5 80.0h1.0v1.0h-1.0zM158.5 78.0h1.0v1.0h-1.0zM158.5 76.0h1.0v1.0h-1.0zM159.5 103.0h1.0v1.0h-1.0zM159.5 102.0h1.0v1.0h-1.0zM159.5 101.0h1.0v1.0h-1.0zM159.5 100.0h1.0v1.0h-1.0zM159.5 99.0h1.0v1.0h-1.0zM159.5 98.0h1.0v1.0h-1.0zM159.5 97.0h1.0v1.0h-1.0zM159.5 96.0h1.0v1.0h-1.0zM159.5 95.0h1.0v1.0h-1.0zM159.5 94.0h1.0v1.0h-1.0zM159.5 93.0h1.0v1.0h-1.0zM159.5 92.0h1.0v1.0h-1.0zM159.5 91.0h1.0v1.0h-1.0zM159.5 90.0h1.0v1.0h-1.0zM159.5 89.0h1.0v1.0h-1.0zM159.5 88.0h1.0v1.0h-1.0zM159.5 87.0h1.0v1.0h-1.0zM159.5 85.0h1.0v1.0h-1.0zM159.5 83.0h1.0v1.0h-1.0zM159.5 82.0h1.0v1.0h-1.0zM159.5 75.0h1.0v1.0h-1.0zM160.5 103.0h1.0v1.0h-1.0zM160.5 102.0h1.0v1.0h-1.0zM160.5 101.0h1.0v1.0h-1.0zM160.5 100.0h1.0v1.0h-1.0zM160.5 99.0h1.0v1.0h-1.0zM160.5 98.0h1.0v1.0h-1.0zM160.5 97.0h1.0v1.0h-1.0zM160.5 96.0h1.0v1.0h-1.0zM160.5 95.0h1.0v1.0h-1.0zM160.5 93.0h1.0v1.0h-1.0zM160.5 92.0h1.0v1.0h-1.0zM160.5 91.0h1.0v1.0h-1.0zM160.5 90.0h1.0v1.0h-1.0zM160.5 89.0h1.0v1.0h-1.0zM160.5 88.0h1.0v1.0h-1.0zM160.5 86.0h1.0v1.0h-1.0zM160.5 82.0h1.0v1.0h-1.0zM160.5 67.0h1.0v1.0h-1.0zM161.5 103.0h1.0v1.0h-1.0zM161.5 102.0h1.0v1.0h-1.0zM161.5 101.0h1.0v1.0h-1.0zM161.5 100.0h1.0v1.0h-1.0zM161.5 99.0h1.0v1.0h-1.0zM161.5 98.0h1.0v1.0h-1.0zM161.5 97.0h1.0v1.0h-1.0zM161.5 96.0h1.0v1.0h-1.0zM161.5 95.0h1.0v1.0h-1.0zM161.5 94.0h1.0v1.0h-1.0zM161.5 93.0h1.0v1.0h-1.0zM161.5 92.0h1.0v1.0h-1.0zM161.5 91.0h1.0v1.0h-1.0zM161.5 90.0h1.0v1.0h-1.0zM161.5 89.0h1.0v1.0h-1.0zM161.5 87.0h1.0v1.0h-1.0zM161.5 81.0h1.0v1.0h-1.0zM161.5 80.0h1.0v1.0h-1.0zM162.5 103.0h1.0v1.0h-1.0zM162.5 102.0h1.0v1.0h-1.0zM162.5 101.0h1.0v1.0h-1.0zM162.5 100.0h1.0v1.0h-1.0zM162.5 99.0h1.0v1.0h-1.0zM162.5 98.0h1.0v1.0h-1.0zM162.5 97.0h1.0v1.0h-1.0zM162.5 96.0h1.0v1.0h-1.0zM162.5 95.0h1.0v1.0h-1.0zM162.5 94.0h1.0v1.0h-1.0zM162.5 93.0h1.0v1.0h-1.0zM162.5 92.0h1.0v1.0h-1.0zM162.5 90.0h1.0v1.0h-1.0zM162.5 89.0h1.0v1.0h-1.0zM162.5 87.0h1.0v1.0h-1.0zM162.5 72.0h1.0v1.0h-1.0zM163.5 103.0h1.0v1.0h-1.0zM163.5 102.0h1.0v1.0h-1.0zM163.5 101.0h1.0v1.0h-1.0zM163.5 100.0h1.0v1.0h-1.0zM163.5 99.0h1.0v1.0h-1.0zM163.5 98.0h1.0v1.0h-1.0zM163.5 97.0h1.0v1.0h-1.0zM163.5 96.0h1.0v1.0h-1.0zM163.5 95.0h1.0v1.0h-1.0zM163.5 94.0h1.0v1.0h-1.0zM163.5 93.0h1.0v1.0h-1.0zM163.5 92.0h1.0v1.0h-1.0zM163.5 91.0h1.0v1.0h-1.0zM163.5 90.0h1.0v1.0h-1.0zM163.5 89.0h1.0v1.0h-1.0zM163.5 87.0h1.0v1.0h-1.0zM163.5 82.0h1.0v1.0h-1.0zM164.5 103.0h1.0v1.0h-1.0zM164.5 102.0h1.0v1.0h-1.0zM164.5 101.0h1.0v1.0h-1.0zM164.5 100.0h1.0v1.0h-1.0zM164.5 99.0h1.0v1.0h-1.0zM164.5 98.0h1.0v1.0h-1.0zM164.5 97.0h1.0v1.0h-1.0zM164.5 96.0h1.0v1.0h-1.0zM164.5 95.0h1.0v1.0h-1.0zM164.5 94.0h1.0v1.0h-1.0zM164.5 93.0h1.0v1.0h-1.0zM164.5 92.0h1.0v1.0h-1.0zM164.5 91.0h1.0v1.0h-1.0zM164.5 90.0h1.0v1.0h-1.0zM164.5 89.0h1.0v1.0h-1.0zM164.5 88.0h1.0v1.0h-1.0zM164.5 87.0h1.0v1.0h-1.0zM164.5 86.0h1.0v1.0h-1.0zM164.5 85.0h1.0v1.0h-1.0zM164.5 84.0h1.0v1.0h-1.0zM164.5 83.0h1.0v1.0h-1.0zM164.5 82.0h1.0v1.0h-1.0zM164.5 81.0h1.0v1.0h-1.0zM164.5 80.0h1.0v1.0h-1.0zM164.5 79.0h1.0v1.0h-1.0zM164.5 78.0h1.0v1.0h-1.0zM164.5 77.0h1.0v1.0h-1.0zM164.5 76.0h1.0v1.0h-1.0zM164.5 73.0h1.0v1.0h-1.0zM164.5 71.0h1.0v1.0h-1.0zM164.5 69.0h1.0v1.0h-1.0zM164.5 66.0h1.0v1.0h-1.0zM165.5 103.0h1.0v1.0h-1.0zM165.5 102.0h1.0v1.0h-1.0zM165.5 101.0h1.0v1.0h-1.0zM165.5 100.0h1.0v1.0h-1.0zM165.5 99.0h1.0v1.0h-1.0zM165.5 98.0h1.0v1.0h-1.0zM165.5 97.0h1.0v1.0h-1.0zM165.5 96.0h1.0v1.0h-1.0zM165.5 94.0h1.0v1.0h-1.0zM165.5 93.0h1.0v1.0h-1.0zM165.5 92.0h1.0v1.0h-1.0zM165.5 91.0h1.0v1.0h-1.0zM165.5 89.0h1.0v1.0h-1.0zM165.5 86.0h1.0v1.0h-1.0zM165.5 85.0h1.0v1.0h-1.0zM165.5 83.0h1.0v1.0h-1.0zM166.5 103.0h0.8v1.0h-0.8zM166.5 102.0h0.8v1.0h-0.8zM166.5 101.0h0.8v1.0h-0.8zM166.5 100.0h0.8v1.0h-0.8zM166.5 99.0h0.8v1.0h-0.8zM166.5 98.0h0.8v1.0h-0.8zM166.5 97.0h0.8v1.0h-0.8zM166.5 96.0h0.8v1.0h-0.8zM166.5 95.0h0.8v1.0h-0.8zM166.5 94.0h0.8v1.0h-0.8zM166.5 93.0h0.8v1.0h-0.8zM166.5 92.0h0.8v1.0h-0.8zM166.5 91.0h0.8v1.0h-0.8zM166.5 90.0h0.8v1.0h-0.8zM166.5 89.0h0.8v1.0h-0.8zM166.5 88.0h0.8v1.0h-0.8zM166.5 87.0h0.8v1.0h-0.8zM166.5 86.0h0.8v1.0h-0.8zM166.5 85.0h0.8v1.0h-0.8zM166.5 84.0h0.8v1.0h-0.8zM166.5 81.0h0.8v1.0h-0.8zM166.5 80.0h0.8v1.0h-0.8zM166.5 75.0h0.8v1.0h-0.8zM166.5 73.0h0.8v1.0h-0.8zM166.5 47.0h0.8v1.0h-0.8zM163.0 78.8h1.0v1.0h-1.0zM163.0 79.8h1.0v1.0h-1.0zM163.0 80.8h1.0v1.0h-1.0zM163.0 81.8h1.0v1.0h-1.0zM163.0 82.8h1.0v1.0h-1.0zM163.0 83.8h1.0v1.0h-1.0zM163.0 84.8h1.0v1.0h-1.0zM163.0 85.8h1.0v1.0h-1.0zM163.0 87.8h1.0v1.0h-1.0zM163.0 88.8h1.0v1.0h-1.0zM163.0 89.8h1.0v1.0h-1.0zM163.0 90.8h1.0v1.0h-1.0zM163.0 91.8h1.0v1.0h-1.0zM163.0 92.8h1.0v1.0h-1.0zM163.0 93.8h1.0v1.0h-1.0zM163.0 94.8h1.0v1.0h-1.0zM163.0 95.8h1.0v1.0h-1.0zM163.0 96.8h1.0v1.0h-1.0zM163.0 97.8h1.0v1.0h-1.0zM166.0 75.9h1.0v1.0h-1.0zM166.0 76.9h1.0v1.0h-1.0zM166.0 77.9h1.0v1.0h-1.0zM166.0 79.9h1.0v1.0h-1.0zM166.0 80.9h1.0v1.0h-1.0zM166.0 81.9h1.0v1.0h-1.0zM166.0 82.9h1.0v1.0h-1.0zM166.0 84.9h1.0v1.0h-1.0zM166.0 85.9h1.0v1.0h-1.0zM166.0 86.9h1.0v1.0h-1.0zM166.0 88.9h1.0v1.0h-1.0zM166.0 89.9h1.0v1.0h-1.0zM166.0 90.9h1.0v1.0h-1.0zM166.0 92.9h1.0v1.0h-1.0zM166.0 93.9h1.0v1.0h-1.0zM166.0 96.9h1.0v1.0h-1.0zM166.0 97.9h1.0v1.0h-1.0zM162.0 79.7h1.0v1.0h-1.0zM162.0 81.7h1.0v1.0h-1.0zM162.0 82.7h1.0v1.0h-1.0zM162.0 83.7h1.0v1.0h-1.0zM162.0 84.7h1.0v1.0h-1.0zM162.0 85.7h1.0v1.0h-1.0zM162.0 86.7h1.0v1.0h-1.0zM162.0 87.7h1.0v1.0h-1.0zM162.0 88.7h1.0v1.0h-1.0zM162.0 89.7h1.0v1.0h-1.0zM162.0 91.7h1.0v1.0h-1.0zM162.0 92.7h1.0v1.0h-1.0zM162.0 93.7h1.0v1.0h-1.0zM162.0 94.7h1.0v1.0h-1.0zM162.0 96.7h1.0v1.0h-1.0zM162.0 97.7h1.0v1.0h-1.0zM162.0 98.7h1.0v1.0h-1.0zM152.0 86.8h1.0v1.0h-1.0zM152.0 87.8h1.0v1.0h-1.0zM152.0 88.8h1.0v1.0h-1.0zM152.0 89.8h1.0v1.0h-1.0zM152.0 90.8h1.0v1.0h-1.0zM152.0 91.8h1.0v1.0h-1.0zM152.0 93.8h1.0v1.0h-1.0zM152.0 94.8h1.0v1.0h-1.0zM152.0 95.8h1.0v1.0h-1.0zM152.0 98.8h1.0v1.0h-1.0zM158.0 87.2h1.0v1.0h-1.0zM158.0 88.2h1.0v1.0h-1.0zM158.0 89.2h1.0v1.0h-1.0zM158.0 91.2h1.0v1.0h-1.0zM158.0 92.2h1.0v1.0h-1.0zM158.0 94.2h1.0v1.0h-1.0zM158.0 95.2h1.0v1.0h-1.0zM158.0 96.2h1.0v1.0h-1.0zM166.0 85.5h1.0v1.0h-1.0zM166.0 86.5h1.0v1.0h-1.0zM166.0 87.5h1.0v1.0h-1.0zM166.0 88.5h1.0v1.0h-1.0zM166.0 89.5h1.0v1.0h-1.0zM166.0 91.5h1.0v1.0h-1.0zM166.0 92.5h1.0v1.0h-1.0zM166.0 94.5h1.0v1.0h-1.0zM166.0 95.5h1.0v1.0h-1.0zM166.0 96.5h1.0v1.0h-1.0zM166.0 97.5h1.0v1.0h-1.0zM166.0 98.5h1.0v1.0h-1.0zM159.0 88.5h1.0v1.0h-1.0zM159.0 90.5h1.0v1.0h-1.0zM159.0 91.5h1.0v1.0h-1.0zM159.0 92.5h1.0v1.0h-1.0zM159.0 93.5h1.0v1.0h-1.0zM159.0 96.5h1.0v1.0h-1.0zM159.0 97.5h1.0v1.0h-1.0zM159.0 98.5h1.0v1.0h-1.0zM157.0 67.0h1.0v1.0h-1.0zM157.0 68.0h1.0v1.0h-1.0zM157.0 70.0h1.0v1.0h-1.0zM157.0 71.0h1.0v1.0h-1.0zM157.0 73.0h1.0v1.0h-1.0zM157.0 75.0h1.0v1.0h-1.0zM157.0 76.0h1.0v1.0h-1.0zM157.0 79.0h1.0v1.0h-1.0zM157.0 80.0h1.0v1.0h-1.0zM157.0 81.0h1.0v1.0h-1.0zM157.0 82.0h1.0v1.0h-1.0zM157.0 83.0h1.0v1.0h-1.0zM157.0 84.0h1.0v1.0h-1.0zM157.0 85.0h1.0v1.0h-1.0zM157.0 86.0h1.0v1.0h-1.0zM157.0 87.0h1.0v1.0h-1.0zM157.0 88.0h1.0v1.0h-1.0zM157.0 91.0h1.0v1.0h-1.0zM157.0 92.0h1.0v1.0h-1.0zM157.0 93.0h1.0v1.0h-1.0zM157.0 94.0h1.0v1.0h-1.0zM157.0 96.0h1.0v1.0h-1.0zM157.0 97.0h1.0v1.0h-1.0zM157.0 98.0h1.0v1.0h-1.0zM149.0 88.5h1.0v1.0h-1.0zM149.0 91.5h1.0v1.0h-1.0zM149.0 92.5h1.0v1.0h-1.0zM149.0 93.5h1.0v1.0h-1.0zM149.0 94.5h1.0v1.0h-1.0zM149.0 96.5h1.0v1.0h-1.0zM149.0 97.5h1.0v1.0h-1.0zM149.0 98.5h1.0v1.0h-1.0zM161.0 75.7h1.0v1.0h-1.0zM161.0 77.7h1.0v1.0h-1.0zM161.0 78.7h1.0v1.0h-1.0zM161.0 79.7h1.0v1.0h-1.0zM161.0 82.7h1.0v1.0h-1.0zM161.0 83.7h1.0v1.0h-1.0zM161.0 84.7h1.0v1.0h-1.0zM161.0 85.7h1.0v1.0h-1.0zM161.0 86.7h1.0v1.0h-1.0zM161.0 88.7h1.0v1.0h-1.0zM161.0 89.7h1.0v1.0h-1.0zM161.0 90.7h1.0v1.0h-1.0zM161.0 91.7h1.0v1.0h-1.0zM161.0 97.7h1.0v1.0h-1.0zM161.0 98.7h1.0v1.0h-1.0zM159.0 84.2h1.0v1.0h-1.0zM159.0 85.2h1.0v1.0h-1.0zM159.0 88.2h1.0v1.0h-1.0zM159.0 89.2h1.0v1.0h-1.0zM159.0 91.2h1.0v1.0h-1.0zM159.0 92.2h1.0v1.0h-1.0zM159.0 93.2h1.0v1.0h-1.0zM159.0 97.2h1.0v1.0h-1.0zM159.0 98.2h1.0v1.0h-1.0zM154.0 89.1h1.0v1.0h-1.0zM154.0 92.1h1.0v1.0h-1.0zM154.0 95.1h1.0v1.0h-1.0zM154.0 96.1h1.0v1.0h-1.0zM154.0 98.1h1.0v1.0h-1.0zM153.0 87.1h1.0v1.0h-1.0zM153.0 91.1h1.0v1.0h-1.0zM153.0 94.1h1.0v1.0h-1.0zM153.0 95.1h1.0v1.0h-1.0zM153.0 96.1h1.0v1.0h-1.0zM153.0 97.1h1.0v1.0h-1.0zM153.0 98.1h1.0v1.0h-1.0zM185.2 95.0h1.0v1.0h-1.0zM185.2 94.0h1.0v1.0h-1.0zM185.2 93.0h1.0v1.0h-1.0zM185.2 92.0h1.0v1.0h-1.0zM185.2 91.0h1.0v1.0h-1.0zM185.2 90.0h1.0v1.0h-1.0zM185.2 89.0h1.0v1.0h-1.0zM185.2 88.0h1.0v1.0h-1.0zM185.2 87.0h1.0v1.0h-1.0zM185.2 86.0h1.0v1.0h-1.0zM185.2 85.0h1.0v1.0h-1.0zM185.2 84.0h1.0v1.0h-1.0zM185.2 83.0h1.0v1.0h-1.0zM185.2 82.0h1.0v1.0h-1.0zM185.2 81.0h1.0v1.0h-1.0zM185.2 80.0h1.0v1.0h-1.0zM185.2 79.0h1.0v1.0h-1.0zM185.2 78.0h1.0v1.0h-1.0zM185.2 76.0h1.0v1.0h-1.0zM185.2 74.0h1.0v1.0h-1.0zM185.2 73.0h1.0v1.0h-1.0zM185.2 72.0h1.0v1.0h-1.0zM185.2 71.0h1.0v1.0h-1.0zM185.2 70.0h1.0v1.0h-1.0zM185.2 62.0h1.0v1.0h-1.0zM186.2 95.0h1.0v1.0h-1.0zM186.2 94.0h1.0v1.0h-1.0zM186.2 93.0h1.0v1.0h-1.0zM186.2 92.0h1.0v1.0h-1.0zM186.2 91.0h1.0v1.0h-1.0zM186.2 90.0h1.0v1.0h-1.0zM186.2 89.0h1.0v1.0h-1.0zM186.2 88.0h1.0v1.0h-1.0zM186.2 87.0h1.0v1.0h-1.0zM186.2 86.0h1.0v1.0h-1.0zM186.2 85.0h1.0v1.0h-1.0zM186.2 84.0h1.0v1.0h-1.0zM186.2 83.0h1.0v1.0h-1.0zM186.2 81.0h1.0v1.0h-1.0zM186.2 69.0h1.0v1.0h-1.0zM186.2 62.0h1.0v1.0h-1.0zM187.2 95.0h1.0v1.0h-1.0zM187.2 94.0h1.0v1.0h-1.0zM187.2 93.0h1.0v1.0h-1.0zM187.2 92.0h1.0v1.0h-1.0zM187.2 91.0h1.0v1.0h-1.0zM187.2 90.0h1.0v1.0h-1.0zM187.2 89.0h1.0v1.0h-1.0zM187.2 88.0h1.0v1.0h-1.0zM187.2 87.0h1.0v1.0h-1.0zM187.2 86.0h1.0v1.0h-1.0zM187.2 85.0h1.0v1.0h-1.0zM187.2 84.0h1.0v1.0h-1.0zM187.2 83.0h1.0v1.0h-1.0zM187.2 81.0h1.0v1.0h-1.0zM187.2 80.0h1.0v1.0h-1.0zM187.2 78.0h1.0v1.0h-1.0zM187.2 75.0h1.0v1.0h-1.0zM187.2 73.0h1.0v1.0h-1.0zM187.2 71.0h1.0v1.0h-1.0zM187.2 68.0h1.0v1.0h-1.0zM187.2 61.0h1.0v1.0h-1.0zM188.2 95.0h1.0v1.0h-1.0zM188.2 94.0h1.0v1.0h-1.0zM188.2 93.0h1.0v1.0h-1.0zM188.2 92.0h1.0v1.0h-1.0zM188.2 91.0h1.0v1.0h-1.0zM188.2 90.0h1.0v1.0h-1.0zM188.2 89.0h1.0v1.0h-1.0zM188.2 88.0h1.0v1.0h-1.0zM188.2 87.0h1.0v1.0h-1.0zM188.2 86.0h1.0v1.0h-1.0zM188.2 85.0h1.0v1.0h-1.0zM188.2 84.0h1.0v1.0h-1.0zM188.2 83.0h1.0v1.0h-1.0zM188.2 82.0h1.0v1.0h-1.0zM188.2 81.0h1.0v1.0h-1.0zM188.2 80.0h1.0v1.0h-1.0zM188.2 79.0h1.0v1.0h-1.0zM188.2 78.0h1.0v1.0h-1.0zM188.2 76.0h1.0v1.0h-1.0zM188.2 75.0h1.0v1.0h-1.0zM188.2 74.0h1.0v1.0h-1.0zM188.2 70.0h1.0v1.0h-1.0zM188.2 57.0h1.0v1.0h-1.0zM189.2 95.0h1.0v1.0h-1.0zM189.2 94.0h1.0v1.0h-1.0zM189.2 93.0h1.0v1.0h-1.0zM189.2 92.0h1.0v1.0h-1.0zM189.2 91.0h1.0v1.0h-1.0zM189.2 90.0h1.0v1.0h-1.0zM189.2 89.0h1.0v1.0h-1.0zM189.2 88.0h1.0v1.0h-1.0zM189.2 87.0h1.0v1.0h-1.0zM189.2 86.0h1.0v1.0h-1.0zM189.2 85.0h1.0v1.0h-1.0zM189.2 84.0h1.0v1.0h-1.0zM189.2 83.0h1.0v1.0h-1.0zM189.2 82.0h1.0v1.0h-1.0zM189.2 81.0h1.0v1.0h-1.0zM189.2 78.0h1.0v1.0h-1.0zM189.2 77.0h1.0v1.0h-1.0zM189.2 75.0h1.0v1.0h-1.0zM190.2 95.0h1.0v1.0h-1.0zM190.2 94.0h1.0v1.0h-1.0zM190.2 93.0h1.0v1.0h-1.0zM190.2 92.0h1.0v1.0h-1.0zM190.2 91.0h1.0v1.0h-1.0zM190.2 90.0h1.0v1.0h-1.0zM190.2 89.0h1.0v1.0h-1.0zM190.2 88.0h1.0v1.0h-1.0zM190.2 86.0h1.0v1.0h-1.0zM190.2 84.0h1.0v1.0h-1.0zM190.2 83.0h1.0v1.0h-1.0zM190.2 81.0h1.0v1.0h-1.0zM190.2 77.0h1.0v1.0h-1.0zM190.2 76.0h1.0v1.0h-1.0zM190.2 75.0h1.0v1.0h-1.0zM190.2 70.0h1.0v1.0h-1.0zM191.2 95.0h1.0v1.0h-1.0zM191.2 94.0h1.0v1.0h-1.0zM191.2 93.0h1.0v1.0h-1.0zM191.2 92.0h1.0v1.0h-1.0zM191.2 91.0h1.0v1.0h-1.0zM191.2 90.0h1.0v1.0h-1.0zM191.2 89.0h1.0v1.0h-1.0zM191.2 88.0h1.0v1.0h-1.0zM191.2 87.0h1.0v1.0h-1.0zM191.2 86.0h1.0v1.0h-1.0zM191.2 85.0h1.0v1.0h-1.0zM191.2 84.0h1.0v1.0h-1.0zM191.2 83.0h1.0v1.0h-1.0zM191.2 82.0h1.0v1.0h-1.0zM191.2 81.0h1.0v1.0h-1.0zM191.2 80.0h1.0v1.0h-1.0zM191.2 79.0h1.0v1.0h-1.0zM191.2 78.0h1.0v1.0h-1.0zM191.2 77.0h1.0v1.0h-1.0zM191.2 76.0h1.0v1.0h-1.0zM191.2 75.0h1.0v1.0h-1.0zM191.2 74.0h1.0v1.0h-1.0zM191.2 73.0h1.0v1.0h-1.0zM191.2 72.0h1.0v1.0h-1.0zM191.2 71.0h1.0v1.0h-1.0zM191.2 57.0h1.0v1.0h-1.0zM191.2 54.0h1.0v1.0h-1.0zM192.2 95.0h1.0v1.0h-1.0zM192.2 94.0h1.0v1.0h-1.0zM192.2 93.0h1.0v1.0h-1.0zM192.2 92.0h1.0v1.0h-1.0zM192.2 91.0h1.0v1.0h-1.0zM192.2 90.0h1.0v1.0h-1.0zM192.2 89.0h1.0v1.0h-1.0zM192.2 88.0h1.0v1.0h-1.0zM192.2 87.0h1.0v1.0h-1.0zM192.2 86.0h1.0v1.0h-1.0zM192.2 85.0h1.0v1.0h-1.0zM192.2 84.0h1.0v1.0h-1.0zM192.2 83.0h1.0v1.0h-1.0zM192.2 82.0h1.0v1.0h-1.0zM192.2 80.0h1.0v1.0h-1.0zM192.2 79.0h1.0v1.0h-1.0zM192.2 78.0h1.0v1.0h-1.0zM192.2 77.0h1.0v1.0h-1.0zM192.2 74.0h1.0v1.0h-1.0zM192.2 68.0h1.0v1.0h-1.0zM193.2 95.0h1.0v1.0h-1.0zM193.2 94.0h1.0v1.0h-1.0zM193.2 93.0h1.0v1.0h-1.0zM193.2 92.0h1.0v1.0h-1.0zM193.2 91.0h1.0v1.0h-1.0zM193.2 90.0h1.0v1.0h-1.0zM193.2 88.0h1.0v1.0h-1.0zM193.2 87.0h1.0v1.0h-1.0zM193.2 86.0h1.0v1.0h-1.0zM193.2 85.0h1.0v1.0h-1.0zM193.2 84.0h1.0v1.0h-1.0zM193.2 82.0h1.0v1.0h-1.0zM193.2 80.0h1.0v1.0h-1.0zM193.2 72.0h1.0v1.0h-1.0zM193.2 68.0h1.0v1.0h-1.0zM194.2 95.0h1.0v1.0h-1.0zM194.2 94.0h1.0v1.0h-1.0zM194.2 93.0h1.0v1.0h-1.0zM194.2 92.0h1.0v1.0h-1.0zM194.2 91.0h1.0v1.0h-1.0zM194.2 90.0h1.0v1.0h-1.0zM194.2 89.0h1.0v1.0h-1.0zM194.2 88.0h1.0v1.0h-1.0zM194.2 87.0h1.0v1.0h-1.0zM194.2 86.0h1.0v1.0h-1.0zM194.2 85.0h1.0v1.0h-1.0zM194.2 84.0h1.0v1.0h-1.0zM194.2 82.0h1.0v1.0h-1.0zM194.2 81.0h1.0v1.0h-1.0zM194.2 80.0h1.0v1.0h-1.0zM194.2 79.0h1.0v1.0h-1.0zM194.2 78.0h1.0v1.0h-1.0zM194.2 77.0h1.0v1.0h-1.0zM194.2 74.0h1.0v1.0h-1.0zM194.2 73.0h1.0v1.0h-1.0zM194.2 70.0h1.0v1.0h-1.0zM194.2 68.0h1.0v1.0h-1.0zM194.2 65.0h1.0v1.0h-1.0zM195.2 95.0h1.0v1.0h-1.0zM195.2 94.0h1.0v1.0h-1.0zM195.2 93.0h1.0v1.0h-1.0zM195.2 92.0h1.0v1.0h-1.0zM195.2 91.0h1.0v1.0h-1.0zM195.2 90.0h1.0v1.0h-1.0zM195.2 89.0h1.0v1.0h-1.0zM195.2 88.0h1.0v1.0h-1.0zM195.2 86.0h1.0v1.0h-1.0zM195.2 85.0h1.0v1.0h-1.0zM195.2 83.0h1.0v1.0h-1.0zM195.2 80.0h1.0v1.0h-1.0zM195.2 79.0h1.0v1.0h-1.0zM195.2 76.0h1.0v1.0h-1.0zM196.2 95.0h1.0v1.0h-1.0zM196.2 94.0h1.0v1.0h-1.0zM196.2 93.0h1.0v1.0h-1.0zM196.2 92.0h1.0v1.0h-1.0zM196.2 91.0h1.0v1.0h-1.0zM196.2 90.0h1.0v1.0h-1.0zM196.2 89.0h1.0v1.0h-1.0zM196.2 88.0h1.0v1.0h-1.0zM196.2 87.0h1.0v1.0h-1.0zM196.2 84.0h1.0v1.0h-1.0zM196.2 82.0h1.0v1.0h-1.0zM196.2 81.0h1.0v1.0h-1.0zM196.2 80.0h1.0v1.0h-1.0zM196.2 78.0h1.0v1.0h-1.0zM196.2 71.0h1.0v1.0h-1.0zM196.2 68.0h1.0v1.0h-1.0zM197.2 95.0h1.0v1.0h-1.0zM197.2 94.0h1.0v1.0h-1.0zM197.2 93.0h1.0v1.0h-1.0zM197.2 92.0h1.0v1.0h-1.0zM197.2 91.0h1.0v1.0h-1.0zM197.2 90.0h1.0v1.0h-1.0zM197.2 89.0h1.0v1.0h-1.0zM197.2 88.0h1.0v1.0h-1.0zM197.2 87.0h1.0v1.0h-1.0zM197.2 86.0h1.0v1.0h-1.0zM197.2 85.0h1.0v1.0h-1.0zM197.2 84.0h1.0v1.0h-1.0zM197.2 80.0h1.0v1.0h-1.0zM197.2 78.0h1.0v1.0h-1.0zM197.2 75.0h1.0v1.0h-1.0zM197.2 71.0h1.0v1.0h-1.0zM198.2 95.0h1.0v1.0h-1.0zM198.2 94.0h1.0v1.0h-1.0zM198.2 93.0h1.0v1.0h-1.0zM198.2 92.0h1.0v1.0h-1.0zM198.2 91.0h1.0v1.0h-1.0zM198.2 90.0h1.0v1.0h-1.0zM198.2 89.0h1.0v1.0h-1.0zM198.2 88.0h1.0v1.0h-1.0zM198.2 87.0h1.0v1.0h-1.0zM198.2 86.0h1.0v1.0h-1.0zM198.2 85.0h1.0v1.0h-1.0zM198.2 84.0h1.0v1.0h-1.0zM198.2 82.0h1.0v1.0h-1.0zM198.2 81.0h1.0v1.0h-1.0zM198.2 80.0h1.0v1.0h-1.0zM198.2 79.0h1.0v1.0h-1.0zM198.2 76.0h1.0v1.0h-1.0zM198.2 75.0h1.0v1.0h-1.0zM198.2 73.0h1.0v1.0h-1.0zM198.2 68.0h1.0v1.0h-1.0zM198.2 64.0h1.0v1.0h-1.0zM199.2 95.0h1.0v1.0h-1.0zM199.2 94.0h1.0v1.0h-1.0zM199.2 93.0h1.0v1.0h-1.0zM199.2 92.0h1.0v1.0h-1.0zM199.2 91.0h1.0v1.0h-1.0zM199.2 90.0h1.0v1.0h-1.0zM199.2 89.0h1.0v1.0h-1.0zM199.2 88.0h1.0v1.0h-1.0zM199.2 87.0h1.0v1.0h-1.0zM199.2 86.0h1.0v1.0h-1.0zM199.2 85.0h1.0v1.0h-1.0zM199.2 84.0h1.0v1.0h-1.0zM199.2 83.0h1.0v1.0h-1.0zM199.2 82.0h1.0v1.0h-1.0zM199.2 81.0h1.0v1.0h-1.0zM199.2 79.0h1.0v1.0h-1.0zM199.2 77.0h1.0v1.0h-1.0zM199.2 74.0h1.0v1.0h-1.0zM199.2 71.0h1.0v1.0h-1.0zM199.2 64.0h1.0v1.0h-1.0zM200.2 95.0h1.0v1.0h-1.0zM200.2 94.0h1.0v1.0h-1.0zM200.2 93.0h1.0v1.0h-1.0zM200.2 92.0h1.0v1.0h-1.0zM200.2 91.0h1.0v1.0h-1.0zM200.2 90.0h1.0v1.0h-1.0zM200.2 89.0h1.0v1.0h-1.0zM200.2 87.0h1.0v1.0h-1.0zM200.2 85.0h1.0v1.0h-1.0zM200.2 83.0h1.0v1.0h-1.0zM200.2 82.0h1.0v1.0h-1.0zM200.2 80.0h1.0v1.0h-1.0zM200.2 75.0h1.0v1.0h-1.0zM187.0 80.0h1.0v1.0h-1.0zM187.0 81.0h1.0v1.0h-1.0zM187.0 82.0h1.0v1.0h-1.0zM187.0 83.0h1.0v1.0h-1.0zM187.0 84.0h1.0v1.0h-1.0zM187.0 85.0h1.0v1.0h-1.0zM187.0 86.0h1.0v1.0h-1.0zM187.0 87.0h1.0v1.0h-1.0zM187.0 88.0h1.0v1.0h-1.0zM187.0 89.0h1.0v1.0h-1.0zM187.0 91.0h1.0v1.0h-1.0zM196.0 80.4h1.0v1.0h-1.0zM196.0 81.4h1.0v1.0h-1.0zM196.0 82.4h1.0v1.0h-1.0zM196.0 83.4h1.0v1.0h-1.0zM196.0 84.4h1.0v1.0h-1.0zM196.0 85.4h1.0v1.0h-1.0zM196.0 87.4h1.0v1.0h-1.0zM196.0 88.4h1.0v1.0h-1.0zM196.0 89.4h1.0v1.0h-1.0zM196.0 90.4h1.0v1.0h-1.0zM197.0 74.9h1.0v1.0h-1.0zM197.0 75.9h1.0v1.0h-1.0zM197.0 76.9h1.0v1.0h-1.0zM197.0 78.9h1.0v1.0h-1.0zM197.0 79.9h1.0v1.0h-1.0zM197.0 80.9h1.0v1.0h-1.0zM197.0 82.9h1.0v1.0h-1.0zM197.0 83.9h1.0v1.0h-1.0zM197.0 84.9h1.0v1.0h-1.0zM197.0 86.9h1.0v1.0h-1.0zM197.0 88.9h1.0v1.0h-1.0zM197.0 89.9h1.0v1.0h-1.0zM197.0 90.9h1.0v1.0h-1.0zM191.0 59.0h1.0v1.0h-1.0zM191.0 60.0h1.0v1.0h-1.0zM191.0 61.0h1.0v1.0h-1.0zM191.0 63.0h1.0v1.0h-1.0zM191.0 64.0h1.0v1.0h-1.0zM191.0 67.0h1.0v1.0h-1.0zM191.0 69.0h1.0v1.0h-1.0zM191.0 70.0h1.0v1.0h-1.0zM191.0 72.0h1.0v1.0h-1.0zM191.0 74.0h1.0v1.0h-1.0zM191.0 76.0h1.0v1.0h-1.0zM191.0 77.0h1.0v1.0h-1.0zM191.0 78.0h1.0v1.0h-1.0zM191.0 81.0h1.0v1.0h-1.0zM191.0 82.0h1.0v1.0h-1.0zM191.0 84.0h1.0v1.0h-1.0zM191.0 85.0h1.0v1.0h-1.0zM191.0 86.0h1.0v1.0h-1.0zM191.0 89.0h1.0v1.0h-1.0zM198.0 71.1h1.0v1.0h-1.0zM198.0 72.1h1.0v1.0h-1.0zM198.0 74.1h1.0v1.0h-1.0zM198.0 75.1h1.0v1.0h-1.0zM198.0 76.1h1.0v1.0h-1.0zM198.0 77.1h1.0v1.0h-1.0zM198.0 78.1h1.0v1.0h-1.0zM198.0 81.1h1.0v1.0h-1.0zM198.0 83.1h1.0v1.0h-1.0zM198.0 84.1h1.0v1.0h-1.0zM198.0 85.1h1.0v1.0h-1.0zM198.0 86.1h1.0v1.0h-1.0zM198.0 88.1h1.0v1.0h-1.0zM198.0 89.1h1.0v1.0h-1.0zM198.0 90.1h1.0v1.0h-1.0zM197.0 60.0h1.0v1.0h-1.0zM197.0 61.0h1.0v1.0h-1.0zM197.0 62.0h1.0v1.0h-1.0zM197.0 63.0h1.0v1.0h-1.0zM197.0 64.0h1.0v1.0h-1.0zM197.0 65.0h1.0v1.0h-1.0zM197.0 66.0h1.0v1.0h-1.0zM197.0 72.0h1.0v1.0h-1.0zM197.0 73.0h1.0v1.0h-1.0zM197.0 76.0h1.0v1.0h-1.0zM197.0 77.0h1.0v1.0h-1.0zM197.0 79.0h1.0v1.0h-1.0zM197.0 80.0h1.0v1.0h-1.0zM197.0 82.0h1.0v1.0h-1.0zM197.0 83.0h1.0v1.0h-1.0zM197.0 84.0h1.0v1.0h-1.0zM197.0 86.0h1.0v1.0h-1.0zM197.0 89.0h1.0v1.0h-1.0zM197.0 90.0h1.0v1.0h-1.0zM190.0 80.5h1.0v1.0h-1.0zM190.0 81.5h1.0v1.0h-1.0zM190.0 82.5h1.0v1.0h-1.0zM190.0 85.5h1.0v1.0h-1.0zM190.0 86.5h1.0v1.0h-1.0zM190.0 87.5h1.0v1.0h-1.0zM190.0 88.5h1.0v1.0h-1.0zM190.0 89.5h1.0v1.0h-1.0zM188.0 74.0h1.0v1.0h-1.0zM188.0 75.0h1.0v1.0h-1.0zM188.0 76.0h1.0v1.0h-1.0zM188.0 77.0h1.0v1.0h-1.0zM188.0 79.0h1.0v1.0h-1.0zM188.0 80.0h1.0v1.0h-1.0zM188.0 81.0h1.0v1.0h-1.0zM188.0 84.0h1.0v1.0h-1.0zM188.0 86.0h1.0v1.0h-1.0zM188.0 87.0h1.0v1.0h-1.0zM188.0 89.0h1.0v1.0h-1.0zM188.0 90.0h1.0v1.0h-1.0zM186.0 81.2h1.0v1.0h-1.0zM186.0 82.2h1.0v1.0h-1.0zM186.0 83.2h1.0v1.0h-1.0zM186.0 84.2h1.0v1.0h-1.0zM191.0 69.5h1.0v1.0h-1.0zM191.0 71.5h1.0v1.0h-1.0zM191.0 74.5h1.0v1.0h-1.0zM191.0 76.5h1.0v1.0h-1.0zM191.0 77.5h1.0v1.0h-1.0zM191.0 78.5h1.0v1.0h-1.0zM191.0 79.5h1.0v1.0h-1.0zM191.0 80.5h1.0v1.0h-1.0zM191.0 83.5h1.0v1.0h-1.0zM191.0 85.5h1.0v1.0h-1.0zM191.0 86.5h1.0v1.0h-1.0zM191.0 87.5h1.0v1.0h-1.0zM191.0 88.5h1.0v1.0h-1.0zM191.0 90.5h1.0v1.0h-1.0zM196.0 77.3h1.0v1.0h-1.0zM196.0 78.3h1.0v1.0h-1.0zM196.0 79.3h1.0v1.0h-1.0zM196.0 80.3h1.0v1.0h-1.0zM196.0 81.3h1.0v1.0h-1.0zM196.0 83.3h1.0v1.0h-1.0zM196.0 85.3h1.0v1.0h-1.0zM196.0 87.3h1.0v1.0h-1.0zM196.0 88.3h1.0v1.0h-1.0zM196.0 90.3h1.0v1.0h-1.0zM216.7 94.0h1.0v1.0h-1.0zM216.7 93.0h1.0v1.0h-1.0zM216.7 92.0h1.0v1.0h-1.0zM216.7 91.0h1.0v1.0h-1.0zM216.7 90.0h1.0v1.0h-1.0zM216.7 89.0h1.0v1.0h-1.0zM216.7 88.0h1.0v1.0h-1.0zM216.7 87.0h1.0v1.0h-1.0zM216.7 86.0h1.0v1.0h-1.0zM216.7 85.0h1.0v1.0h-1.0zM216.7 84.0h1.0v1.0h-1.0zM216.7 83.0h1.0v1.0h-1.0zM216.7 82.0h1.0v1.0h-1.0zM216.7 81.0h1.0v1.0h-1.0zM216.7 80.0h1.0v1.0h-1.0zM216.7 79.0h1.0v1.0h-1.0zM216.7 78.0h1.0v1.0h-1.0zM216.7 77.0h1.0v1.0h-1.0zM216.7 76.0h1.0v1.0h-1.0zM216.7 75.0h1.0v1.0h-1.0zM216.7 74.0h1.0v1.0h-1.0zM216.7 73.0h1.0v1.0h-1.0zM216.7 72.0h1.0v1.0h-1.0zM216.7 71.0h1.0v1.0h-1.0zM216.7 70.0h1.0v1.0h-1.0zM216.7 55.0h1.0v1.0h-1.0zM217.7 94.0h1.0v1.0h-1.0zM217.7 93.0h1.0v1.0h-1.0zM217.7 92.0h1.0v1.0h-1.0zM217.7 91.0h1.0v1.0h-1.0zM217.7 90.0h1.0v1.0h-1.0zM217.7 89.0h1.0v1.0h-1.0zM217.7 88.0h1.0v1.0h-1.0zM217.7 87.0h1.0v1.0h-1.0zM217.7 85.0h1.0v1.0h-1.0zM217.7 83.0h1.0v1.0h-1.0zM217.7 82.0h1.0v1.0h-1.0zM217.7 81.0h1.0v1.0h-1.0zM217.7 79.0h1.0v1.0h-1.0zM217.7 78.0h1.0v1.0h-1.0zM217.7 77.0h1.0v1.0h-1.0zM217.7 74.0h1.0v1.0h-1.0zM217.7 73.0h1.0v1.0h-1.0zM217.7 71.0h1.0v1.0h-1.0zM218.7 94.0h1.0v1.0h-1.0zM218.7 93.0h1.0v1.0h-1.0zM218.7 92.0h1.0v1.0h-1.0zM218.7 91.0h1.0v1.0h-1.0zM218.7 90.0h1.0v1.0h-1.0zM218.7 89.0h1.0v1.0h-1.0zM218.7 88.0h1.0v1.0h-1.0zM218.7 87.0h1.0v1.0h-1.0zM218.7 86.0h1.0v1.0h-1.0zM218.7 85.0h1.0v1.0h-1.0zM218.7 84.0h1.0v1.0h-1.0zM218.7 83.0h1.0v1.0h-1.0zM218.7 82.0h1.0v1.0h-1.0zM218.7 81.0h1.0v1.0h-1.0zM218.7 80.0h1.0v1.0h-1.0zM218.7 79.0h1.0v1.0h-1.0zM218.7 78.0h1.0v1.0h-1.0zM218.7 71.0h1.0v1.0h-1.0zM218.7 69.0h1.0v1.0h-1.0zM219.7 94.0h1.0v1.0h-1.0zM219.7 93.0h1.0v1.0h-1.0zM219.7 92.0h1.0v1.0h-1.0zM219.7 91.0h1.0v1.0h-1.0zM219.7 90.0h1.0v1.0h-1.0zM219.7 89.0h1.0v1.0h-1.0zM219.7 88.0h1.0v1.0h-1.0zM219.7 87.0h1.0v1.0h-1.0zM219.7 86.0h1.0v1.0h-1.0zM219.7 85.0h1.0v1.0h-1.0zM219.7 84.0h1.0v1.0h-1.0zM219.7 83.0h1.0v1.0h-1.0zM219.7 82.0h1.0v1.0h-1.0zM219.7 81.0h1.0v1.0h-1.0zM219.7 80.0h1.0v1.0h-1.0zM219.7 79.0h1.0v1.0h-1.0zM219.7 78.0h1.0v1.0h-1.0zM219.7 77.0h1.0v1.0h-1.0zM219.7 76.0h1.0v1.0h-1.0zM219.7 75.0h1.0v1.0h-1.0zM219.7 74.0h1.0v1.0h-1.0zM219.7 73.0h1.0v1.0h-1.0zM219.7 71.0h1.0v1.0h-1.0zM219.7 69.0h1.0v1.0h-1.0zM219.7 68.0h1.0v1.0h-1.0zM219.7 66.0h1.0v1.0h-1.0zM220.7 94.0h1.0v1.0h-1.0zM220.7 93.0h1.0v1.0h-1.0zM220.7 92.0h1.0v1.0h-1.0zM220.7 91.0h1.0v1.0h-1.0zM220.7 90.0h1.0v1.0h-1.0zM220.7 89.0h1.0v1.0h-1.0zM220.7 88.0h1.0v1.0h-1.0zM220.7 87.0h1.0v1.0h-1.0zM220.7 86.0h1.0v1.0h-1.0zM220.7 85.0h1.0v1.0h-1.0zM220.7 84.0h1.0v1.0h-1.0zM220.7 83.0h1.0v1.0h-1.0zM220.7 82.0h1.0v1.0h-1.0zM220.7 81.0h1.0v1.0h-1.0zM220.7 80.0h1.0v1.0h-1.0zM220.7 75.0h1.0v1.0h-1.0zM220.7 73.0h1.0v1.0h-1.0zM220.7 72.0h1.0v1.0h-1.0zM220.7 69.0h1.0v1.0h-1.0zM220.7 67.0h1.0v1.0h-1.0zM220.7 62.0h1.0v1.0h-1.0zM221.7 94.0h1.0v1.0h-1.0zM221.7 93.0h1.0v1.0h-1.0zM221.7 92.0h1.0v1.0h-1.0zM221.7 91.0h1.0v1.0h-1.0zM221.7 90.0h1.0v1.0h-1.0zM221.7 89.0h1.0v1.0h-1.0zM221.7 88.0h1.0v1.0h-1.0zM221.7 87.0h1.0v1.0h-1.0zM221.7 86.0h1.0v1.0h-1.0zM221.7 84.0h1.0v1.0h-1.0zM221.7 83.0h1.0v1.0h-1.0zM221.7 81.0h1.0v1.0h-1.0zM221.7 78.0h1.0v1.0h-1.0zM221.7 76.0h1.0v1.0h-1.0zM221.7 75.0h1.0v1.0h-1.0zM221.7 60.0h1.0v1.0h-1.0zM222.7 94.0h1.0v1.0h-1.0zM222.7 93.0h1.0v1.0h-1.0zM222.7 92.0h1.0v1.0h-1.0zM222.7 91.0h1.0v1.0h-1.0zM222.7 90.0h1.0v1.0h-1.0zM222.7 89.0h1.0v1.0h-1.0zM222.7 88.0h1.0v1.0h-1.0zM222.7 87.0h1.0v1.0h-1.0zM222.7 86.0h1.0v1.0h-1.0zM222.7 85.0h1.0v1.0h-1.0zM222.7 84.0h1.0v1.0h-1.0zM222.7 83.0h1.0v1.0h-1.0zM222.7 82.0h1.0v1.0h-1.0zM222.7 81.0h1.0v1.0h-1.0zM222.7 80.0h1.0v1.0h-1.0zM222.7 79.0h1.0v1.0h-1.0zM222.7 78.0h1.0v1.0h-1.0zM222.7 76.0h1.0v1.0h-1.0zM222.7 66.0h1.0v1.0h-1.0zM222.7 64.0h1.0v1.0h-1.0zM222.7 62.0h1.0v1.0h-1.0zM223.7 94.0h1.0v1.0h-1.0zM223.7 93.0h1.0v1.0h-1.0zM223.7 92.0h1.0v1.0h-1.0zM223.7 91.0h1.0v1.0h-1.0zM223.7 90.0h1.0v1.0h-1.0zM223.7 89.0h1.0v1.0h-1.0zM223.7 88.0h1.0v1.0h-1.0zM223.7 87.0h1.0v1.0h-1.0zM223.7 86.0h1.0v1.0h-1.0zM223.7 85.0h1.0v1.0h-1.0zM223.7 84.0h1.0v1.0h-1.0zM223.7 83.0h1.0v1.0h-1.0zM223.7 82.0h1.0v1.0h-1.0zM223.7 81.0h1.0v1.0h-1.0zM223.7 78.0h1.0v1.0h-1.0zM223.7 76.0h1.0v1.0h-1.0zM223.7 75.0h1.0v1.0h-1.0zM223.7 74.0h1.0v1.0h-1.0zM223.7 73.0h1.0v1.0h-1.0zM223.7 65.0h1.0v1.0h-1.0zM224.7 94.0h1.0v1.0h-1.0zM224.7 93.0h1.0v1.0h-1.0zM224.7 92.0h1.0v1.0h-1.0zM224.7 91.0h1.0v1.0h-1.0zM224.7 90.0h1.0v1.0h-1.0zM224.7 89.0h1.0v1.0h-1.0zM224.7 88.0h1.0v1.0h-1.0zM224.7 87.0h1.0v1.0h-1.0zM224.7 86.0h1.0v1.0h-1.0zM224.7 85.0h1.0v1.0h-1.0zM224.7 83.0h1.0v1.0h-1.0zM224.7 82.0h1.0v1.0h-1.0zM224.7 81.0h1.0v1.0h-1.0zM224.7 80.0h1.0v1.0h-1.0zM224.7 79.0h1.0v1.0h-1.0zM224.7 77.0h1.0v1.0h-1.0zM224.7 75.0h1.0v1.0h-1.0zM224.7 73.0h1.0v1.0h-1.0zM224.7 68.0h1.0v1.0h-1.0zM224.7 56.0h1.0v1.0h-1.0zM224.7 55.0h1.0v1.0h-1.0zM225.7 94.0h1.0v1.0h-1.0zM225.7 93.0h1.0v1.0h-1.0zM225.7 92.0h1.0v1.0h-1.0zM225.7 91.0h1.0v1.0h-1.0zM225.7 90.0h1.0v1.0h-1.0zM225.7 89.0h1.0v1.0h-1.0zM225.7 88.0h1.0v1.0h-1.0zM225.7 87.0h1.0v1.0h-1.0zM225.7 86.0h1.0v1.0h-1.0zM225.7 85.0h1.0v1.0h-1.0zM225.7 84.0h1.0v1.0h-1.0zM225.7 83.0h1.0v1.0h-1.0zM225.7 82.0h1.0v1.0h-1.0zM225.7 80.0h1.0v1.0h-1.0zM225.7 78.0h1.0v1.0h-1.0zM225.7 77.0h1.0v1.0h-1.0zM225.7 75.0h1.0v1.0h-1.0zM225.7 74.0h1.0v1.0h-1.0zM225.7 73.0h1.0v1.0h-1.0zM225.7 70.0h1.0v1.0h-1.0zM225.7 67.0h1.0v1.0h-1.0zM226.7 94.0h1.0v1.0h-1.0zM226.7 93.0h1.0v1.0h-1.0zM226.7 92.0h1.0v1.0h-1.0zM226.7 91.0h1.0v1.0h-1.0zM226.7 90.0h1.0v1.0h-1.0zM226.7 89.0h1.0v1.0h-1.0zM226.7 88.0h1.0v1.0h-1.0zM226.7 87.0h1.0v1.0h-1.0zM226.7 86.0h1.0v1.0h-1.0zM226.7 85.0h1.0v1.0h-1.0zM226.7 84.0h1.0v1.0h-1.0zM226.7 82.0h1.0v1.0h-1.0zM226.7 81.0h1.0v1.0h-1.0zM226.7 80.0h1.0v1.0h-1.0zM226.7 78.0h1.0v1.0h-1.0zM226.7 76.0h1.0v1.0h-1.0zM226.7 75.0h1.0v1.0h-1.0zM227.7 94.0h1.0v1.0h-1.0zM227.7 93.0h1.0v1.0h-1.0zM227.7 92.0h1.0v1.0h-1.0zM227.7 91.0h1.0v1.0h-1.0zM227.7 90.0h1.0v1.0h-1.0zM227.7 89.0h1.0v1.0h-1.0zM227.7 88.0h1.0v1.0h-1.0zM227.7 87.0h1.0v1.0h-1.0zM227.7 86.0h1.0v1.0h-1.0zM227.7 85.0h1.0v1.0h-1.0zM227.7 84.0h1.0v1.0h-1.0zM227.7 83.0h1.0v1.0h-1.0zM227.7 82.0h1.0v1.0h-1.0zM227.7 81.0h1.0v1.0h-1.0zM227.7 80.0h1.0v1.0h-1.0zM227.7 79.0h1.0v1.0h-1.0zM227.7 78.0h1.0v1.0h-1.0zM227.7 77.0h1.0v1.0h-1.0zM227.7 75.0h1.0v1.0h-1.0zM227.7 72.0h1.0v1.0h-1.0zM228.7 94.0h1.0v1.0h-1.0zM228.7 93.0h1.0v1.0h-1.0zM228.7 92.0h1.0v1.0h-1.0zM228.7 91.0h1.0v1.0h-1.0zM228.7 90.0h1.0v1.0h-1.0zM228.7 89.0h1.0v1.0h-1.0zM228.7 88.0h1.0v1.0h-1.0zM228.7 87.0h1.0v1.0h-1.0zM228.7 86.0h1.0v1.0h-1.0zM228.7 85.0h1.0v1.0h-1.0zM228.7 84.0h1.0v1.0h-1.0zM228.7 83.0h1.0v1.0h-1.0zM228.7 82.0h1.0v1.0h-1.0zM228.7 81.0h1.0v1.0h-1.0zM228.7 80.0h1.0v1.0h-1.0zM228.7 79.0h1.0v1.0h-1.0zM228.7 77.0h1.0v1.0h-1.0zM228.7 75.0h1.0v1.0h-1.0zM228.7 73.0h1.0v1.0h-1.0zM228.7 72.0h1.0v1.0h-1.0zM228.7 68.0h1.0v1.0h-1.0zM228.7 62.0h1.0v1.0h-1.0zM228.7 59.0h1.0v1.0h-1.0zM229.7 94.0h1.0v1.0h-1.0zM229.7 93.0h1.0v1.0h-1.0zM229.7 92.0h1.0v1.0h-1.0zM229.7 91.0h1.0v1.0h-1.0zM229.7 90.0h1.0v1.0h-1.0zM229.7 89.0h1.0v1.0h-1.0zM229.7 88.0h1.0v1.0h-1.0zM229.7 87.0h1.0v1.0h-1.0zM229.7 86.0h1.0v1.0h-1.0zM229.7 85.0h1.0v1.0h-1.0zM229.7 84.0h1.0v1.0h-1.0zM229.7 83.0h1.0v1.0h-1.0zM229.7 82.0h1.0v1.0h-1.0zM229.7 81.0h1.0v1.0h-1.0zM229.7 80.0h1.0v1.0h-1.0zM229.7 79.0h1.0v1.0h-1.0zM229.7 78.0h1.0v1.0h-1.0zM229.7 77.0h1.0v1.0h-1.0zM229.7 76.0h1.0v1.0h-1.0zM229.7 75.0h1.0v1.0h-1.0zM229.7 74.0h1.0v1.0h-1.0zM229.7 73.0h1.0v1.0h-1.0zM229.7 72.0h1.0v1.0h-1.0zM229.7 66.0h1.0v1.0h-1.0zM229.7 61.0h1.0v1.0h-1.0zM230.7 94.0h1.0v1.0h-1.0zM230.7 92.0h1.0v1.0h-1.0zM230.7 90.0h1.0v1.0h-1.0zM230.7 89.0h1.0v1.0h-1.0zM230.7 88.0h1.0v1.0h-1.0zM230.7 87.0h1.0v1.0h-1.0zM230.7 86.0h1.0v1.0h-1.0zM230.7 84.0h1.0v1.0h-1.0zM230.7 83.0h1.0v1.0h-1.0zM230.7 77.0h1.0v1.0h-1.0zM230.7 66.0h1.0v1.0h-1.0zM217.0 61.8h1.0v1.0h-1.0zM217.0 71.8h1.0v1.0h-1.0zM217.0 73.8h1.0v1.0h-1.0zM217.0 74.8h1.0v1.0h-1.0zM217.0 76.8h1.0v1.0h-1.0zM217.0 78.8h1.0v1.0h-1.0zM217.0 79.8h1.0v1.0h-1.0zM217.0 80.8h1.0v1.0h-1.0zM217.0 83.8h1.0v1.0h-1.0zM217.0 85.8h1.0v1.0h-1.0zM217.0 87.8h1.0v1.0h-1.0zM217.0 88.8h1.0v1.0h-1.0zM217.0 89.8h1.0v1.0h-1.0zM224.0 75.0h1.0v1.0h-1.0zM224.0 77.0h1.0v1.0h-1.0zM224.0 78.0h1.0v1.0h-1.0zM224.0 83.0h1.0v1.0h-1.0zM224.0 84.0h1.0v1.0h-1.0zM224.0 85.0h1.0v1.0h-1.0zM224.0 87.0h1.0v1.0h-1.0zM224.0 89.0h1.0v1.0h-1.0zM227.0 58.0h1.0v1.0h-1.0zM227.0 59.0h1.0v1.0h-1.0zM227.0 60.0h1.0v1.0h-1.0zM227.0 61.0h1.0v1.0h-1.0zM227.0 62.0h1.0v1.0h-1.0zM227.0 63.0h1.0v1.0h-1.0zM227.0 64.0h1.0v1.0h-1.0zM227.0 65.0h1.0v1.0h-1.0zM227.0 69.0h1.0v1.0h-1.0zM227.0 70.0h1.0v1.0h-1.0zM227.0 71.0h1.0v1.0h-1.0zM227.0 72.0h1.0v1.0h-1.0zM227.0 73.0h1.0v1.0h-1.0zM227.0 74.0h1.0v1.0h-1.0zM227.0 75.0h1.0v1.0h-1.0zM227.0 76.0h1.0v1.0h-1.0zM227.0 77.0h1.0v1.0h-1.0zM227.0 78.0h1.0v1.0h-1.0zM227.0 81.0h1.0v1.0h-1.0zM227.0 83.0h1.0v1.0h-1.0zM227.0 84.0h1.0v1.0h-1.0zM227.0 85.0h1.0v1.0h-1.0zM227.0 86.0h1.0v1.0h-1.0zM227.0 87.0h1.0v1.0h-1.0zM227.0 88.0h1.0v1.0h-1.0zM218.0 65.2h1.0v1.0h-1.0zM218.0 66.2h1.0v1.0h-1.0zM218.0 67.2h1.0v1.0h-1.0zM218.0 69.2h1.0v1.0h-1.0zM218.0 70.2h1.0v1.0h-1.0zM218.0 71.2h1.0v1.0h-1.0zM218.0 73.2h1.0v1.0h-1.0zM218.0 74.2h1.0v1.0h-1.0zM218.0 75.2h1.0v1.0h-1.0zM218.0 76.2h1.0v1.0h-1.0zM218.0 78.2h1.0v1.0h-1.0zM218.0 79.2h1.0v1.0h-1.0zM218.0 80.2h1.0v1.0h-1.0zM218.0 82.2h1.0v1.0h-1.0zM218.0 83.2h1.0v1.0h-1.0zM218.0 84.2h1.0v1.0h-1.0zM218.0 85.2h1.0v1.0h-1.0zM218.0 86.2h1.0v1.0h-1.0zM225.0 80.6h1.0v1.0h-1.0zM225.0 81.6h1.0v1.0h-1.0zM225.0 82.6h1.0v1.0h-1.0zM225.0 83.6h1.0v1.0h-1.0zM225.0 84.6h1.0v1.0h-1.0zM225.0 87.6h1.0v1.0h-1.0zM225.0 88.6h1.0v1.0h-1.0zM225.0 89.6h1.0v1.0h-1.0zM228.0 76.0h1.0v1.0h-1.0zM228.0 78.0h1.0v1.0h-1.0zM228.0 79.0h1.0v1.0h-1.0zM228.0 80.0h1.0v1.0h-1.0zM228.0 81.0h1.0v1.0h-1.0zM228.0 83.0h1.0v1.0h-1.0zM228.0 84.0h1.0v1.0h-1.0zM228.0 85.0h1.0v1.0h-1.0zM228.0 88.0h1.0v1.0h-1.0zM228.0 89.0h1.0v1.0h-1.0zM220.0 67.4h1.0v1.0h-1.0zM220.0 71.4h1.0v1.0h-1.0zM220.0 73.4h1.0v1.0h-1.0zM220.0 75.4h1.0v1.0h-1.0zM220.0 76.4h1.0v1.0h-1.0zM220.0 77.4h1.0v1.0h-1.0zM220.0 80.4h1.0v1.0h-1.0zM220.0 81.4h1.0v1.0h-1.0zM220.0 82.4h1.0v1.0h-1.0zM220.0 83.4h1.0v1.0h-1.0zM220.0 84.4h1.0v1.0h-1.0zM220.0 87.4h1.0v1.0h-1.0zM220.0 88.4h1.0v1.0h-1.0zM220.0 89.4h1.0v1.0h-1.0zM222.0 58.0h1.0v1.0h-1.0zM222.0 59.0h1.0v1.0h-1.0zM222.0 62.0h1.0v1.0h-1.0zM222.0 63.0h1.0v1.0h-1.0zM222.0 65.0h1.0v1.0h-1.0zM222.0 67.0h1.0v1.0h-1.0zM222.0 70.0h1.0v1.0h-1.0zM222.0 74.0h1.0v1.0h-1.0zM222.0 75.0h1.0v1.0h-1.0zM222.0 76.0h1.0v1.0h-1.0zM222.0 77.0h1.0v1.0h-1.0zM222.0 81.0h1.0v1.0h-1.0zM222.0 82.0h1.0v1.0h-1.0zM222.0 86.0h1.0v1.0h-1.0zM222.0 88.0h1.0v1.0h-1.0zM220.0 76.0h1.0v1.0h-1.0zM220.0 78.0h1.0v1.0h-1.0zM220.0 80.0h1.0v1.0h-1.0zM220.0 81.0h1.0v1.0h-1.0zM220.0 82.0h1.0v1.0h-1.0zM220.0 85.0h1.0v1.0h-1.0zM220.0 87.0h1.0v1.0h-1.0zM220.0 89.0h1.0v1.0h-1.0zM220.0 90.0h1.0v1.0h-1.0zM220.0 79.7h1.0v1.0h-1.0zM220.0 80.7h1.0v1.0h-1.0zM220.0 81.7h1.0v1.0h-1.0zM220.0 82.7h1.0v1.0h-1.0zM220.0 83.7h1.0v1.0h-1.0zM220.0 85.7h1.0v1.0h-1.0zM220.0 86.7h1.0v1.0h-1.0zM220.0 87.7h1.0v1.0h-1.0zM220.0 88.7h1.0v1.0h-1.0zM246.6 98.0h1.0v1.0h-1.0zM246.6 97.0h1.0v1.0h-1.0zM246.6 96.0h1.0v1.0h-1.0zM246.6 95.0h1.0v1.0h-1.0zM246.6 94.0h1.0v1.0h-1.0zM246.6 93.0h1.0v1.0h-1.0zM246.6 92.0h1.0v1.0h-1.0zM246.6 89.0h1.0v1.0h-1.0zM246.6 88.0h1.0v1.0h-1.0zM246.6 83.0h1.0v1.0h-1.0zM246.6 81.0h1.0v1.0h-1.0zM247.6 98.0h1.0v1.0h-1.0zM247.6 97.0h1.0v1.0h-1.0zM247.6 96.0h1.0v1.0h-1.0zM247.6 95.0h1.0v1.0h-1.0zM247.6 94.0h1.0v1.0h-1.0zM247.6 93.0h1.0v1.0h-1.0zM247.6 92.0h1.0v1.0h-1.0zM247.6 91.0h1.0v1.0h-1.0zM247.6 90.0h1.0v1.0h-1.0zM247.6 89.0h1.0v1.0h-1.0zM247.6 88.0h1.0v1.0h-1.0zM247.6 87.0h1.0v1.0h-1.0zM247.6 86.0h1.0v1.0h-1.0zM247.6 85.0h1.0v1.0h-1.0zM247.6 84.0h1.0v1.0h-1.0zM247.6 83.0h1.0v1.0h-1.0zM247.6 82.0h1.0v1.0h-1.0zM247.6 80.0h1.0v1.0h-1.0zM247.6 78.0h1.0v1.0h-1.0zM247.6 77.0h1.0v1.0h-1.0zM247.6 76.0h1.0v1.0h-1.0zM248.6 98.0h1.0v1.0h-1.0zM248.6 97.0h1.0v1.0h-1.0zM248.6 96.0h1.0v1.0h-1.0zM248.6 95.0h1.0v1.0h-1.0zM248.6 94.0h1.0v1.0h-1.0zM248.6 93.0h1.0v1.0h-1.0zM248.6 92.0h1.0v1.0h-1.0zM248.6 91.0h1.0v1.0h-1.0zM248.6 90.0h1.0v1.0h-1.0zM248.6 89.0h1.0v1.0h-1.0zM248.6 88.0h1.0v1.0h-1.0zM248.6 87.0h1.0v1.0h-1.0zM248.6 86.0h1.0v1.0h-1.0zM248.6 85.0h1.0v1.0h-1.0zM248.6 84.0h1.0v1.0h-1.0zM248.6 81.0h1.0v1.0h-1.0zM248.6 80.0h1.0v1.0h-1.0zM248.6 77.0h1.0v1.0h-1.0zM248.6 72.0h1.0v1.0h-1.0zM249.6 98.0h1.0v1.0h-1.0zM249.6 97.0h1.0v1.0h-1.0zM249.6 96.0h1.0v1.0h-1.0zM249.6 95.0h1.0v1.0h-1.0zM249.6 94.0h1.0v1.0h-1.0zM249.6 93.0h1.0v1.0h-1.0zM249.6 92.0h1.0v1.0h-1.0zM249.6 91.0h1.0v1.0h-1.0zM249.6 90.0h1.0v1.0h-1.0zM249.6 89.0h1.0v1.0h-1.0zM249.6 88.0h1.0v1.0h-1.0zM249.6 87.0h1.0v1.0h-1.0zM249.6 86.0h1.0v1.0h-1.0zM249.6 85.0h1.0v1.0h-1.0zM249.6 84.0h1.0v1.0h-1.0zM249.6 83.0h1.0v1.0h-1.0zM249.6 82.0h1.0v1.0h-1.0zM249.6 81.0h1.0v1.0h-1.0zM249.6 79.0h1.0v1.0h-1.0zM249.6 77.0h1.0v1.0h-1.0zM249.6 76.0h1.0v1.0h-1.0zM249.6 75.0h1.0v1.0h-1.0zM249.6 74.0h1.0v1.0h-1.0zM249.6 66.0h1.0v1.0h-1.0zM250.6 98.0h1.0v1.0h-1.0zM250.6 97.0h1.0v1.0h-1.0zM250.6 96.0h1.0v1.0h-1.0zM250.6 95.0h1.0v1.0h-1.0zM250.6 94.0h1.0v1.0h-1.0zM250.6 93.0h1.0v1.0h-1.0zM250.6 92.0h1.0v1.0h-1.0zM250.6 91.0h1.0v1.0h-1.0zM250.6 90.0h1.0v1.0h-1.0zM250.6 89.0h1.0v1.0h-1.0zM250.6 88.0h1.0v1.0h-1.0zM250.6 87.0h1.0v1.0h-1.0zM250.6 86.0h1.0v1.0h-1.0zM250.6 85.0h1.0v1.0h-1.0zM250.6 84.0h1.0v1.0h-1.0zM250.6 83.0h1.0v1.0h-1.0zM250.6 82.0h1.0v1.0h-1.0zM250.6 81.0h1.0v1.0h-1.0zM250.6 80.0h1.0v1.0h-1.0zM250.6 79.0h1.0v1.0h-1.0zM250.6 76.0h1.0v1.0h-1.0zM250.6 75.0h1.0v1.0h-1.0zM250.6 74.0h1.0v1.0h-1.0zM250.6 72.0h1.0v1.0h-1.0zM250.6 71.0h1.0v1.0h-1.0zM250.6 70.0h1.0v1.0h-1.0zM251.6 98.0h1.0v1.0h-1.0zM251.6 97.0h1.0v1.0h-1.0zM251.6 96.0h1.0v1.0h-1.0zM251.6 95.0h1.0v1.0h-1.0zM251.6 94.0h1.0v1.0h-1.0zM251.6 93.0h1.0v1.0h-1.0zM251.6 92.0h1.0v1.0h-1.0zM251.6 91.0h1.0v1.0h-1.0zM251.6 90.0h1.0v1.0h-1.0zM251.6 89.0h1.0v1.0h-1.0zM251.6 88.0h1.0v1.0h-1.0zM251.6 87.0h1.0v1.0h-1.0zM251.6 86.0h1.0v1.0h-1.0zM251.6 85.0h1.0v1.0h-1.0zM251.6 84.0h1.0v1.0h-1.0zM251.6 83.0h1.0v1.0h-1.0zM251.6 81.0h1.0v1.0h-1.0zM251.6 80.0h1.0v1.0h-1.0zM251.6 78.0h1.0v1.0h-1.0zM251.6 77.0h1.0v1.0h-1.0zM251.6 76.0h1.0v1.0h-1.0zM251.6 71.0h1.0v1.0h-1.0zM252.6 98.0h1.0v1.0h-1.0zM252.6 97.0h1.0v1.0h-1.0zM252.6 96.0h1.0v1.0h-1.0zM252.6 95.0h1.0v1.0h-1.0zM252.6 94.0h1.0v1.0h-1.0zM252.6 93.0h1.0v1.0h-1.0zM252.6 92.0h1.0v1.0h-1.0zM252.6 91.0h1.0v1.0h-1.0zM252.6 90.0h1.0v1.0h-1.0zM252.6 88.0h1.0v1.0h-1.0zM252.6 87.0h1.0v1.0h-1.0zM252.6 86.0h1.0v1.0h-1.0zM252.6 85.0h1.0v1.0h-1.0zM252.6 83.0h1.0v1.0h-1.0zM252.6 82.0h1.0v1.0h-1.0zM252.6 81.0h1.0v1.0h-1.0zM252.6 78.0h1.0v1.0h-1.0zM252.6 77.0h1.0v1.0h-1.0zM252.6 76.0h1.0v1.0h-1.0zM252.6 74.0h1.0v1.0h-1.0zM252.6 73.0h1.0v1.0h-1.0zM253.6 98.0h1.0v1.0h-1.0zM253.6 97.0h1.0v1.0h-1.0zM253.6 96.0h1.0v1.0h-1.0zM253.6 95.0h1.0v1.0h-1.0zM253.6 94.0h1.0v1.0h-1.0zM253.6 93.0h1.0v1.0h-1.0zM253.6 92.0h1.0v1.0h-1.0zM253.6 91.0h1.0v1.0h-1.0zM253.6 90.0h1.0v1.0h-1.0zM253.6 89.0h1.0v1.0h-1.0zM253.6 88.0h1.0v1.0h-1.0zM253.6 87.0h1.0v1.0h-1.0zM253.6 86.0h1.0v1.0h-1.0zM253.6 85.0h1.0v1.0h-1.0zM253.6 84.0h1.0v1.0h-1.0zM253.6 83.0h1.0v1.0h-1.0zM253.6 80.0h1.0v1.0h-1.0zM253.6 79.0h1.0v1.0h-1.0zM253.6 76.0h1.0v1.0h-1.0zM253.6 74.0h1.0v1.0h-1.0zM253.6 73.0h1.0v1.0h-1.0zM254.6 98.0h1.0v1.0h-1.0zM254.6 97.0h1.0v1.0h-1.0zM254.6 96.0h1.0v1.0h-1.0zM254.6 95.0h1.0v1.0h-1.0zM254.6 94.0h1.0v1.0h-1.0zM254.6 93.0h1.0v1.0h-1.0zM254.6 92.0h1.0v1.0h-1.0zM254.6 91.0h1.0v1.0h-1.0zM254.6 90.0h1.0v1.0h-1.0zM254.6 89.0h1.0v1.0h-1.0zM254.6 88.0h1.0v1.0h-1.0zM254.6 87.0h1.0v1.0h-1.0zM254.6 86.0h1.0v1.0h-1.0zM254.6 85.0h1.0v1.0h-1.0zM254.6 84.0h1.0v1.0h-1.0zM254.6 83.0h1.0v1.0h-1.0zM254.6 80.0h1.0v1.0h-1.0zM254.6 78.0h1.0v1.0h-1.0zM254.6 76.0h1.0v1.0h-1.0zM254.6 75.0h1.0v1.0h-1.0zM254.6 69.0h1.0v1.0h-1.0zM255.6 98.0h1.0v1.0h-1.0zM255.6 97.0h1.0v1.0h-1.0zM255.6 96.0h1.0v1.0h-1.0zM255.6 95.0h1.0v1.0h-1.0zM255.6 94.0h1.0v1.0h-1.0zM255.6 93.0h1.0v1.0h-1.0zM255.6 92.0h1.0v1.0h-1.0zM255.6 91.0h1.0v1.0h-1.0zM255.6 89.0h1.0v1.0h-1.0zM255.6 87.0h1.0v1.0h-1.0zM255.6 86.0h1.0v1.0h-1.0zM255.6 85.0h1.0v1.0h-1.0zM255.6 74.0h1.0v1.0h-1.0zM256.6 98.0h1.0v1.0h-1.0zM256.6 97.0h1.0v1.0h-1.0zM256.6 96.0h1.0v1.0h-1.0zM256.6 95.0h1.0v1.0h-1.0zM256.6 94.0h1.0v1.0h-1.0zM256.6 93.0h1.0v1.0h-1.0zM256.6 92.0h1.0v1.0h-1.0zM256.6 91.0h1.0v1.0h-1.0zM256.6 90.0h1.0v1.0h-1.0zM256.6 89.0h1.0v1.0h-1.0zM256.6 88.0h1.0v1.0h-1.0zM256.6 87.0h1.0v1.0h-1.0zM256.6 86.0h1.0v1.0h-1.0zM256.6 85.0h1.0v1.0h-1.0zM256.6 84.0h1.0v1.0h-1.0zM256.6 83.0h1.0v1.0h-1.0zM256.6 82.0h1.0v1.0h-1.0zM256.6 81.0h1.0v1.0h-1.0zM256.6 80.0h1.0v1.0h-1.0zM256.6 78.0h1.0v1.0h-1.0zM256.6 77.0h1.0v1.0h-1.0zM256.6 73.0h1.0v1.0h-1.0zM257.6 98.0h1.0v1.0h-1.0zM257.6 97.0h1.0v1.0h-1.0zM257.6 96.0h1.0v1.0h-1.0zM257.6 95.0h1.0v1.0h-1.0zM257.6 94.0h1.0v1.0h-1.0zM257.6 93.0h1.0v1.0h-1.0zM257.6 92.0h1.0v1.0h-1.0zM257.6 91.0h1.0v1.0h-1.0zM257.6 90.0h1.0v1.0h-1.0zM257.6 89.0h1.0v1.0h-1.0zM257.6 88.0h1.0v1.0h-1.0zM257.6 87.0h1.0v1.0h-1.0zM257.6 86.0h1.0v1.0h-1.0zM257.6 85.0h1.0v1.0h-1.0zM257.6 84.0h1.0v1.0h-1.0zM257.6 83.0h1.0v1.0h-1.0zM257.6 82.0h1.0v1.0h-1.0zM257.6 81.0h1.0v1.0h-1.0zM257.6 80.0h1.0v1.0h-1.0zM257.6 78.0h1.0v1.0h-1.0zM257.6 77.0h1.0v1.0h-1.0zM257.6 62.0h1.0v1.0h-1.0zM257.6 57.0h1.0v1.0h-1.0zM258.6 98.0h1.0v1.0h-1.0zM258.6 97.0h1.0v1.0h-1.0zM258.6 96.0h1.0v1.0h-1.0zM258.6 95.0h1.0v1.0h-1.0zM258.6 94.0h1.0v1.0h-1.0zM258.6 93.0h1.0v1.0h-1.0zM258.6 92.0h1.0v1.0h-1.0zM258.6 91.0h1.0v1.0h-1.0zM258.6 90.0h1.0v1.0h-1.0zM258.6 89.0h1.0v1.0h-1.0zM258.6 88.0h1.0v1.0h-1.0zM258.6 87.0h1.0v1.0h-1.0zM258.6 86.0h1.0v1.0h-1.0zM258.6 85.0h1.0v1.0h-1.0zM258.6 84.0h1.0v1.0h-1.0zM258.6 83.0h1.0v1.0h-1.0zM258.6 81.0h1.0v1.0h-1.0zM258.6 80.0h1.0v1.0h-1.0zM258.6 78.0h1.0v1.0h-1.0zM258.6 76.0h1.0v1.0h-1.0zM258.6 72.0h1.0v1.0h-1.0zM258.6 71.0h1.0v1.0h-1.0zM258.6 66.0h1.0v1.0h-1.0zM258.6 62.0h1.0v1.0h-1.0zM259.6 98.0h1.0v1.0h-1.0zM259.6 97.0h1.0v1.0h-1.0zM259.6 96.0h1.0v1.0h-1.0zM259.6 95.0h1.0v1.0h-1.0zM259.6 94.0h1.0v1.0h-1.0zM259.6 93.0h1.0v1.0h-1.0zM259.6 92.0h1.0v1.0h-1.0zM259.6 91.0h1.0v1.0h-1.0zM259.6 90.0h1.0v1.0h-1.0zM259.6 89.0h1.0v1.0h-1.0zM259.6 88.0h1.0v1.0h-1.0zM259.6 87.0h1.0v1.0h-1.0zM259.6 86.0h1.0v1.0h-1.0zM259.6 85.0h1.0v1.0h-1.0zM259.6 84.0h1.0v1.0h-1.0zM259.6 83.0h1.0v1.0h-1.0zM259.6 82.0h1.0v1.0h-1.0zM259.6 81.0h1.0v1.0h-1.0zM259.6 80.0h1.0v1.0h-1.0zM259.6 79.0h1.0v1.0h-1.0zM259.6 78.0h1.0v1.0h-1.0zM259.6 77.0h1.0v1.0h-1.0zM259.6 76.0h1.0v1.0h-1.0zM259.6 75.0h1.0v1.0h-1.0zM259.6 74.0h1.0v1.0h-1.0zM259.6 73.0h1.0v1.0h-1.0zM259.6 72.0h1.0v1.0h-1.0zM259.6 71.0h1.0v1.0h-1.0zM259.6 69.0h1.0v1.0h-1.0zM259.6 68.0h1.0v1.0h-1.0zM259.6 67.0h1.0v1.0h-1.0zM259.6 63.0h1.0v1.0h-1.0zM259.6 62.0h1.0v1.0h-1.0zM260.6 98.0h1.0v1.0h-1.0zM260.6 97.0h1.0v1.0h-1.0zM260.6 96.0h1.0v1.0h-1.0zM260.6 95.0h1.0v1.0h-1.0zM260.6 94.0h1.0v1.0h-1.0zM260.6 93.0h1.0v1.0h-1.0zM260.6 92.0h1.0v1.0h-1.0zM260.6 91.0h1.0v1.0h-1.0zM260.6 90.0h1.0v1.0h-1.0zM260.6 89.0h1.0v1.0h-1.0zM260.6 86.0h1.0v1.0h-1.0zM260.6 85.0h1.0v1.0h-1.0zM260.6 84.0h1.0v1.0h-1.0zM260.6 83.0h1.0v1.0h-1.0zM260.6 81.0h1.0v1.0h-1.0zM247.0 74.2h1.0v1.0h-1.0zM247.0 75.2h1.0v1.0h-1.0zM247.0 77.2h1.0v1.0h-1.0zM247.0 78.2h1.0v1.0h-1.0zM247.0 80.2h1.0v1.0h-1.0zM247.0 82.2h1.0v1.0h-1.0zM247.0 84.2h1.0v1.0h-1.0zM247.0 85.2h1.0v1.0h-1.0zM247.0 87.2h1.0v1.0h-1.0zM247.0 89.2h1.0v1.0h-1.0zM247.0 91.2h1.0v1.0h-1.0zM247.0 92.2h1.0v1.0h-1.0zM247.0 93.2h1.0v1.0h-1.0zM259.0 62.0h1.0v1.0h-1.0zM259.0 63.0h1.0v1.0h-1.0zM259.0 64.0h1.0v1.0h-1.0zM259.0 65.0h1.0v1.0h-1.0zM259.0 67.0h1.0v1.0h-1.0zM259.0 69.0h1.0v1.0h-1.0zM259.0 70.0h1.0v1.0h-1.0zM259.0 71.0h1.0v1.0h-1.0zM259.0 72.0h1.0v1.0h-1.0zM259.0 73.0h1.0v1.0h-1.0zM259.0 74.0h1.0v1.0h-1.0zM259.0 76.0h1.0v1.0h-1.0zM259.0 77.0h1.0v1.0h-1.0zM259.0 79.0h1.0v1.0h-1.0zM259.0 80.0h1.0v1.0h-1.0zM259.0 82.0h1.0v1.0h-1.0zM259.0 83.0h1.0v1.0h-1.0zM259.0 84.0h1.0v1.0h-1.0zM259.0 85.0h1.0v1.0h-1.0zM259.0 86.0h1.0v1.0h-1.0zM259.0 88.0h1.0v1.0h-1.0zM259.0 91.0h1.0v1.0h-1.0zM259.0 93.0h1.0v1.0h-1.0zM249.0 79.8h1.0v1.0h-1.0zM249.0 83.8h1.0v1.0h-1.0zM249.0 84.8h1.0v1.0h-1.0zM249.0 86.8h1.0v1.0h-1.0zM249.0 87.8h1.0v1.0h-1.0zM249.0 88.8h1.0v1.0h-1.0zM249.0 92.8h1.0v1.0h-1.0zM249.0 93.8h1.0v1.0h-1.0zM260.0 81.2h1.0v1.0h-1.0zM260.0 82.2h1.0v1.0h-1.0zM260.0 83.2h1.0v1.0h-1.0zM260.0 85.2h1.0v1.0h-1.0zM260.0 86.2h1.0v1.0h-1.0zM260.0 87.2h1.0v1.0h-1.0zM260.0 88.2h1.0v1.0h-1.0zM260.0 89.2h1.0v1.0h-1.0zM260.0 91.2h1.0v1.0h-1.0zM257.0 82.0h1.0v1.0h-1.0zM257.0 83.0h1.0v1.0h-1.0zM257.0 84.0h1.0v1.0h-1.0zM257.0 86.0h1.0v1.0h-1.0zM257.0 87.0h1.0v1.0h-1.0zM257.0 88.0h1.0v1.0h-1.0zM257.0 91.0h1.0v1.0h-1.0zM257.0 93.0h1.0v1.0h-1.0zM253.0 73.1h1.0v1.0h-1.0zM253.0 74.1h1.0v1.0h-1.0zM253.0 75.1h1.0v1.0h-1.0zM253.0 76.1h1.0v1.0h-1.0zM253.0 77.1h1.0v1.0h-1.0zM253.0 78.1h1.0v1.0h-1.0zM253.0 79.1h1.0v1.0h-1.0zM253.0 81.1h1.0v1.0h-1.0zM253.0 83.1h1.0v1.0h-1.0zM253.0 84.1h1.0v1.0h-1.0zM253.0 85.1h1.0v1.0h-1.0zM253.0 86.1h1.0v1.0h-1.0zM253.0 87.1h1.0v1.0h-1.0zM253.0 88.1h1.0v1.0h-1.0zM253.0 90.1h1.0v1.0h-1.0zM253.0 91.1h1.0v1.0h-1.0zM253.0 92.1h1.0v1.0h-1.0zM258.0 78.9h1.0v1.0h-1.0zM258.0 79.9h1.0v1.0h-1.0zM258.0 80.9h1.0v1.0h-1.0zM258.0 81.9h1.0v1.0h-1.0zM258.0 83.9h1.0v1.0h-1.0zM258.0 84.9h1.0v1.0h-1.0zM258.0 85.9h1.0v1.0h-1.0zM258.0 87.9h1.0v1.0h-1.0zM258.0 88.9h1.0v1.0h-1.0zM258.0 89.9h1.0v1.0h-1.0zM258.0 91.9h1.0v1.0h-1.0zM258.0 92.9h1.0v1.0h-1.0zM258.0 93.9h1.0v1.0h-1.0zM250.0 85.8h1.0v1.0h-1.0zM250.0 86.8h1.0v1.0h-1.0zM250.0 88.8h1.0v1.0h-1.0zM250.0 91.8h1.0v1.0h-1.0zM250.0 93.8h1.0v1.0h-1.0zM249.0 83.3h1.0v1.0h-1.0zM249.0 84.3h1.0v1.0h-1.0zM249.0 86.3h1.0v1.0h-1.0zM249.0 87.3h1.0v1.0h-1.0zM249.0 88.3h1.0v1.0h-1.0zM249.0 89.3h1.0v1.0h-1.0zM249.0 90.3h1.0v1.0h-1.0zM249.0 91.3h1.0v1.0h-1.0zM249.0 92.3h1.0v1.0h-1.0zM272.1 100.0h1.0v1.0h-1.0zM272.1 99.0h1.0v1.0h-1.0zM272.1 98.0h1.0v1.0h-1.0zM272.1 97.0h1.0v1.0h-1.0zM272.1 96.0h1.0v1.0h-1.0zM272.1 95.0h1.0v1.0h-1.0zM272.1 94.0h1.0v1.0h-1.0zM272.1 93.0h1.0v1.0h-1.0zM272.1 92.0h1.0v1.0h-1.0zM272.1 91.0h1.0v1.0h-1.0zM272.1 87.0h1.0v1.0h-1.0zM272.1 86.0h1.0v1.0h-1.0zM272.1 85.0h1.0v1.0h-1.0zM272.1 83.0h1.0v1.0h-1.0zM272.1 82.0h1.0v1.0h-1.0zM272.1 81.0h1.0v1.0h-1.0zM272.1 80.0h1.0v1.0h-1.0zM273.1 100.0h1.0v1.0h-1.0zM273.1 99.0h1.0v1.0h-1.0zM273.1 98.0h1.0v1.0h-1.0zM273.1 97.0h1.0v1.0h-1.0zM273.1 96.0h1.0v1.0h-1.0zM273.1 95.0h1.0v1.0h-1.0zM273.1 94.0h1.0v1.0h-1.0zM273.1 93.0h1.0v1.0h-1.0zM273.1 92.0h1.0v1.0h-1.0zM273.1 91.0h1.0v1.0h-1.0zM273.1 90.0h1.0v1.0h-1.0zM273.1 89.0h1.0v1.0h-1.0zM273.1 88.0h1.0v1.0h-1.0zM273.1 87.0h1.0v1.0h-1.0zM273.1 86.0h1.0v1.0h-1.0zM273.1 84.0h1.0v1.0h-1.0zM273.1 83.0h1.0v1.0h-1.0zM273.1 79.0h1.0v1.0h-1.0zM273.1 71.0h1.0v1.0h-1.0zM273.1 68.0h1.0v1.0h-1.0zM273.1 65.0h1.0v1.0h-1.0zM274.1 100.0h1.0v1.0h-1.0zM274.1 99.0h1.0v1.0h-1.0zM274.1 98.0h1.0v1.0h-1.0zM274.1 97.0h1.0v1.0h-1.0zM274.1 96.0h1.0v1.0h-1.0zM274.1 95.0h1.0v1.0h-1.0zM274.1 94.0h1.0v1.0h-1.0zM274.1 93.0h1.0v1.0h-1.0zM274.1 92.0h1.0v1.0h-1.0zM274.1 91.0h1.0v1.0h-1.0zM274.1 90.0h1.0v1.0h-1.0zM274.1 89.0h1.0v1.0h-1.0zM274.1 88.0h1.0v1.0h-1.0zM274.1 87.0h1.0v1.0h-1.0zM274.1 86.0h1.0v1.0h-1.0zM274.1 85.0h1.0v1.0h-1.0zM274.1 84.0h1.0v1.0h-1.0zM274.1 83.0h1.0v1.0h-1.0zM274.1 82.0h1.0v1.0h-1.0zM274.1 81.0h1.0v1.0h-1.0zM274.1 80.0h1.0v1.0h-1.0zM274.1 79.0h1.0v1.0h-1.0zM274.1 78.0h1.0v1.0h-1.0zM274.1 77.0h1.0v1.0h-1.0zM274.1 75.0h1.0v1.0h-1.0zM274.1 74.0h1.0v1.0h-1.0zM274.1 61.0h1.0v1.0h-1.0zM275.1 100.0h1.0v1.0h-1.0zM275.1 99.0h1.0v1.0h-1.0zM275.1 98.0h1.0v1.0h-1.0zM275.1 97.0h1.0v1.0h-1.0zM275.1 96.0h1.0v1.0h-1.0zM275.1 95.0h1.0v1.0h-1.0zM275.1 94.0h1.0v1.0h-1.0zM275.1 93.0h1.0v1.0h-1.0zM275.1 92.0h1.0v1.0h-1.0zM275.1 91.0h1.0v1.0h-1.0zM275.1 90.0h1.0v1.0h-1.0zM275.1 89.0h1.0v1.0h-1.0zM275.1 87.0h1.0v1.0h-1.0zM275.1 86.0h1.0v1.0h-1.0zM275.1 85.0h1.0v1.0h-1.0zM275.1 84.0h1.0v1.0h-1.0zM275.1 77.0h1.0v1.0h-1.0zM275.1 73.0h1.0v1.0h-1.0zM275.1 66.0h1.0v1.0h-1.0zM276.1 100.0h1.0v1.0h-1.0zM276.1 99.0h1.0v1.0h-1.0zM276.1 98.0h1.0v1.0h-1.0zM276.1 97.0h1.0v1.0h-1.0zM276.1 96.0h1.0v1.0h-1.0zM276.1 95.0h1.0v1.0h-1.0zM276.1 94.0h1.0v1.0h-1.0zM276.1 93.0h1.0v1.0h-1.0zM276.1 92.0h1.0v1.0h-1.0zM276.1 91.0h1.0v1.0h-1.0zM276.1 90.0h1.0v1.0h-1.0zM276.1 89.0h1.0v1.0h-1.0zM276.1 88.0h1.0v1.0h-1.0zM276.1 87.0h1.0v1.0h-1.0zM276.1 86.0h1.0v1.0h-1.0zM276.1 85.0h1.0v1.0h-1.0zM276.1 83.0h1.0v1.0h-1.0zM276.1 82.0h1.0v1.0h-1.0zM276.1 79.0h1.0v1.0h-1.0zM276.1 78.0h1.0v1.0h-1.0zM276.1 69.0h1.0v1.0h-1.0zM277.1 100.0h1.0v1.0h-1.0zM277.1 99.0h1.0v1.0h-1.0zM277.1 98.0h1.0v1.0h-1.0zM277.1 97.0h1.0v1.0h-1.0zM277.1 96.0h1.0v1.0h-1.0zM277.1 95.0h1.0v1.0h-1.0zM277.1 94.0h1.0v1.0h-1.0zM277.1 93.0h1.0v1.0h-1.0zM277.1 92.0h1.0v1.0h-1.0zM277.1 91.0h1.0v1.0h-1.0zM277.1 90.0h1.0v1.0h-1.0zM277.1 88.0h1.0v1.0h-1.0zM277.1 81.0h1.0v1.0h-1.0zM277.1 76.0h1.0v1.0h-1.0zM278.1 100.0h1.0v1.0h-1.0zM278.1 99.0h1.0v1.0h-1.0zM278.1 98.0h1.0v1.0h-1.0zM278.1 97.0h1.0v1.0h-1.0zM278.1 96.0h1.0v1.0h-1.0zM278.1 95.0h1.0v1.0h-1.0zM278.1 94.0h1.0v1.0h-1.0zM278.1 93.0h1.0v1.0h-1.0zM278.1 92.0h1.0v1.0h-1.0zM278.1 91.0h1.0v1.0h-1.0zM278.1 90.0h1.0v1.0h-1.0zM278.1 89.0h1.0v1.0h-1.0zM278.1 88.0h1.0v1.0h-1.0zM278.1 87.0h1.0v1.0h-1.0zM278.1 86.0h1.0v1.0h-1.0zM278.1 85.0h1.0v1.0h-1.0zM278.1 82.0h1.0v1.0h-1.0zM278.1 77.0h1.0v1.0h-1.0zM278.1 67.0h1.0v1.0h-1.0zM279.1 100.0h1.0v1.0h-1.0zM279.1 99.0h1.0v1.0h-1.0zM279.1 98.0h1.0v1.0h-1.0zM279.1 97.0h1.0v1.0h-1.0zM279.1 96.0h1.0v1.0h-1.0zM279.1 95.0h1.0v1.0h-1.0zM279.1 94.0h1.0v1.0h-1.0zM279.1 93.0h1.0v1.0h-1.0zM279.1 91.0h1.0v1.0h-1.0zM279.1 90.0h1.0v1.0h-1.0zM279.1 88.0h1.0v1.0h-1.0zM279.1 87.0h1.0v1.0h-1.0zM279.1 86.0h1.0v1.0h-1.0zM279.1 82.0h1.0v1.0h-1.0zM279.1 81.0h1.0v1.0h-1.0zM279.1 79.0h1.0v1.0h-1.0zM279.1 77.0h1.0v1.0h-1.0zM279.1 66.0h1.0v1.0h-1.0zM280.1 100.0h1.0v1.0h-1.0zM280.1 99.0h1.0v1.0h-1.0zM280.1 98.0h1.0v1.0h-1.0zM280.1 97.0h1.0v1.0h-1.0zM280.1 96.0h1.0v1.0h-1.0zM280.1 95.0h1.0v1.0h-1.0zM280.1 94.0h1.0v1.0h-1.0zM280.1 93.0h1.0v1.0h-1.0zM280.1 92.0h1.0v1.0h-1.0zM280.1 91.0h1.0v1.0h-1.0zM280.1 90.0h1.0v1.0h-1.0zM280.1 89.0h1.0v1.0h-1.0zM280.1 87.0h1.0v1.0h-1.0zM280.1 86.0h1.0v1.0h-1.0zM280.1 80.0h1.0v1.0h-1.0zM280.1 79.0h1.0v1.0h-1.0zM280.1 67.0h1.0v1.0h-1.0zM281.1 100.0h1.0v1.0h-1.0zM281.1 99.0h1.0v1.0h-1.0zM281.1 98.0h1.0v1.0h-1.0zM281.1 97.0h1.0v1.0h-1.0zM281.1 96.0h1.0v1.0h-1.0zM281.1 95.0h1.0v1.0h-1.0zM281.1 94.0h1.0v1.0h-1.0zM281.1 93.0h1.0v1.0h-1.0zM281.1 92.0h1.0v1.0h-1.0zM281.1 91.0h1.0v1.0h-1.0zM281.1 90.0h1.0v1.0h-1.0zM281.1 89.0h1.0v1.0h-1.0zM281.1 87.0h1.0v1.0h-1.0zM281.1 86.0h1.0v1.0h-1.0zM281.1 83.0h1.0v1.0h-1.0zM281.1 82.0h1.0v1.0h-1.0zM280.0 81.3h1.0v1.0h-1.0zM280.0 82.3h1.0v1.0h-1.0zM280.0 83.3h1.0v1.0h-1.0zM280.0 86.3h1.0v1.0h-1.0zM280.0 87.3h1.0v1.0h-1.0zM280.0 91.3h1.0v1.0h-1.0zM280.0 92.3h1.0v1.0h-1.0zM280.0 94.3h1.0v1.0h-1.0zM280.0 95.3h1.0v1.0h-1.0zM272.0 75.0h1.0v1.0h-1.0zM272.0 76.0h1.0v1.0h-1.0zM272.0 77.0h1.0v1.0h-1.0zM272.0 78.0h1.0v1.0h-1.0zM272.0 79.0h1.0v1.0h-1.0zM272.0 81.0h1.0v1.0h-1.0zM272.0 82.0h1.0v1.0h-1.0zM272.0 84.0h1.0v1.0h-1.0zM272.0 85.0h1.0v1.0h-1.0zM272.0 86.0h1.0v1.0h-1.0zM272.0 87.0h1.0v1.0h-1.0zM272.0 89.0h1.0v1.0h-1.0zM272.0 90.0h1.0v1.0h-1.0zM272.0 91.0h1.0v1.0h-1.0zM272.0 92.0h1.0v1.0h-1.0zM272.0 93.0h1.0v1.0h-1.0zM272.0 69.3h1.0v1.0h-1.0zM272.0 70.3h1.0v1.0h-1.0zM272.0 71.3h1.0v1.0h-1.0zM272.0 72.3h1.0v1.0h-1.0zM272.0 73.3h1.0v1.0h-1.0zM272.0 75.3h1.0v1.0h-1.0zM272.0 76.3h1.0v1.0h-1.0zM272.0 79.3h1.0v1.0h-1.0zM272.0 80.3h1.0v1.0h-1.0zM272.0 81.3h1.0v1.0h-1.0zM272.0 82.3h1.0v1.0h-1.0zM272.0 83.3h1.0v1.0h-1.0zM272.0 84.3h1.0v1.0h-1.0zM272.0 87.3h1.0v1.0h-1.0zM272.0 88.3h1.0v1.0h-1.0zM272.0 89.3h1.0v1.0h-1.0zM272.0 91.3h1.0v1.0h-1.0zM272.0 94.3h1.0v1.0h-1.0zM272.0 95.3h1.0v1.0h-1.0zM278.0 86.8h1.0v1.0h-1.0zM278.0 87.8h1.0v1.0h-1.0zM278.0 88.8h1.0v1.0h-1.0zM278.0 91.8h1.0v1.0h-1.0zM278.0 92.8h1.0v1.0h-1.0zM278.0 94.8h1.0v1.0h-1.0zM278.0 95.8h1.0v1.0h-1.0zM281.0 74.5h1.0v1.0h-1.0zM281.0 75.5h1.0v1.0h-1.0zM281.0 76.5h1.0v1.0h-1.0zM281.0 78.5h1.0v1.0h-1.0zM281.0 79.5h1.0v1.0h-1.0zM281.0 81.5h1.0v1.0h-1.0zM281.0 82.5h1.0v1.0h-1.0zM281.0 84.5h1.0v1.0h-1.0zM281.0 85.5h1.0v1.0h-1.0zM281.0 87.5h1.0v1.0h-1.0zM281.0 89.5h1.0v1.0h-1.0zM281.0 92.5h1.0v1.0h-1.0zM281.0 94.5h1.0v1.0h-1.0zM281.0 95.5h1.0v1.0h-1.0zM273.0 84.3h1.0v1.0h-1.0zM273.0 85.3h1.0v1.0h-1.0zM273.0 86.3h1.0v1.0h-1.0zM273.0 93.3h1.0v1.0h-1.0zM273.0 94.3h1.0v1.0h-1.0zM273.0 95.3h1.0v1.0h-1.0zM275.0 64.0h1.0v1.0h-1.0zM275.0 66.0h1.0v1.0h-1.0zM275.0 69.0h1.0v1.0h-1.0zM275.0 72.0h1.0v1.0h-1.0zM275.0 76.0h1.0v1.0h-1.0zM275.0 77.0h1.0v1.0h-1.0zM275.0 78.0h1.0v1.0h-1.0zM275.0 79.0h1.0v1.0h-1.0zM275.0 80.0h1.0v1.0h-1.0zM275.0 81.0h1.0v1.0h-1.0zM275.0 83.0h1.0v1.0h-1.0zM275.0 84.0h1.0v1.0h-1.0zM275.0 86.0h1.0v1.0h-1.0zM275.0 88.0h1.0v1.0h-1.0zM275.0 90.0h1.0v1.0h-1.0zM275.0 92.0h1.0v1.0h-1.0zM275.0 93.0h1.0v1.0h-1.0zM275.0 94.0h1.0v1.0h-1.0zM275.0 95.0h1.0v1.0h-1.0zM290.8 102.0h1.0v1.0h-1.0zM290.8 101.0h1.0v1.0h-1.0zM290.8 100.0h1.0v1.0h-1.0zM290.8 99.0h1.0v1.0h-1.0zM290.8 98.0h1.0v1.0h-1.0zM290.8 97.0h1.0v1.0h-1.0zM290.8 96.0h1.0v1.0h-1.0zM290.8 95.0h1.0v1.0h-1.0zM290.8 94.0h1.0v1.0h-1.0zM290.8 93.0h1.0v1.0h-1.0zM290.8 92.0h1.0v1.0h-1.0zM290.8 91.0h1.0v1.0h-1.0zM290.8 90.0h1.0v1.0h-1.0zM290.8 89.0h1.0v1.0h-1.0zM290.8 88.0h1.0v1.0h-1.0zM290.8 87.0h1.0v1.0h-1.0zM290.8 86.0h1.0v1.0h-1.0zM290.8 84.0h1.0v1.0h-1.0zM290.8 83.0h1.0v1.0h-1.0zM290.8 82.0h1.0v1.0h-1.0zM290.8 81.0h1.0v1.0h-1.0zM290.8 80.0h1.0v1.0h-1.0zM290.8 77.0h1.0v1.0h-1.0zM290.8 76.0h1.0v1.0h-1.0zM290.8 71.0h1.0v1.0h-1.0zM290.8 70.0h1.0v1.0h-1.0zM291.8 102.0h1.0v1.0h-1.0zM291.8 101.0h1.0v1.0h-1.0zM291.8 100.0h1.0v1.0h-1.0zM291.8 99.0h1.0v1.0h-1.0zM291.8 98.0h1.0v1.0h-1.0zM291.8 97.0h1.0v1.0h-1.0zM291.8 96.0h1.0v1.0h-1.0zM291.8 95.0h1.0v1.0h-1.0zM291.8 94.0h1.0v1.0h-1.0zM291.8 93.0h1.0v1.0h-1.0zM291.8 92.0h1.0v1.0h-1.0zM291.8 91.0h1.0v1.0h-1.0zM291.8 90.0h1.0v1.0h-1.0zM291.8 89.0h1.0v1.0h-1.0zM291.8 88.0h1.0v1.0h-1.0zM291.8 87.0h1.0v1.0h-1.0zM291.8 86.0h1.0v1.0h-1.0zM291.8 85.0h1.0v1.0h-1.0zM291.8 84.0h1.0v1.0h-1.0zM291.8 83.0h1.0v1.0h-1.0zM291.8 82.0h1.0v1.0h-1.0zM291.8 80.0h1.0v1.0h-1.0zM291.8 76.0h1.0v1.0h-1.0zM291.8 69.0h1.0v1.0h-1.0zM291.8 63.0h1.0v1.0h-1.0zM292.8 102.0h1.0v1.0h-1.0zM292.8 101.0h1.0v1.0h-1.0zM292.8 100.0h1.0v1.0h-1.0zM292.8 99.0h1.0v1.0h-1.0zM292.8 98.0h1.0v1.0h-1.0zM292.8 97.0h1.0v1.0h-1.0zM292.8 96.0h1.0v1.0h-1.0zM292.8 95.0h1.0v1.0h-1.0zM292.8 94.0h1.0v1.0h-1.0zM292.8 93.0h1.0v1.0h-1.0zM292.8 92.0h1.0v1.0h-1.0zM292.8 91.0h1.0v1.0h-1.0zM292.8 90.0h1.0v1.0h-1.0zM292.8 89.0h1.0v1.0h-1.0zM292.8 87.0h1.0v1.0h-1.0zM292.8 86.0h1.0v1.0h-1.0zM292.8 83.0h1.0v1.0h-1.0zM292.8 79.0h1.0v1.0h-1.0zM292.8 76.0h1.0v1.0h-1.0zM292.8 75.0h1.0v1.0h-1.0zM293.8 102.0h1.0v1.0h-1.0zM293.8 101.0h1.0v1.0h-1.0zM293.8 100.0h1.0v1.0h-1.0zM293.8 99.0h1.0v1.0h-1.0zM293.8 98.0h1.0v1.0h-1.0zM293.8 97.0h1.0v1.0h-1.0zM293.8 96.0h1.0v1.0h-1.0zM293.8 95.0h1.0v1.0h-1.0zM293.8 94.0h1.0v1.0h-1.0zM293.8 93.0h1.0v1.0h-1.0zM293.8 92.0h1.0v1.0h-1.0zM293.8 91.0h1.0v1.0h-1.0zM293.8 90.0h1.0v1.0h-1.0zM293.8 89.0h1.0v1.0h-1.0zM293.8 87.0h1.0v1.0h-1.0zM293.8 86.0h1.0v1.0h-1.0zM293.8 85.0h1.0v1.0h-1.0zM293.8 82.0h1.0v1.0h-1.0zM293.8 80.0h1.0v1.0h-1.0zM293.8 78.0h1.0v1.0h-1.0zM293.8 76.0h1.0v1.0h-1.0zM293.8 74.0h1.0v1.0h-1.0zM293.8 73.0h1.0v1.0h-1.0zM293.8 70.0h1.0v1.0h-1.0zM292.0 74.5h1.0v1.0h-1.0zM292.0 75.5h1.0v1.0h-1.0zM292.0 76.5h1.0v1.0h-1.0zM292.0 77.5h1.0v1.0h-1.0zM292.0 78.5h1.0v1.0h-1.0zM292.0 79.5h1.0v1.0h-1.0zM292.0 82.5h1.0v1.0h-1.0zM292.0 83.5h1.0v1.0h-1.0zM292.0 84.5h1.0v1.0h-1.0zM292.0 85.5h1.0v1.0h-1.0zM292.0 86.5h1.0v1.0h-1.0zM292.0 87.5h1.0v1.0h-1.0zM292.0 88.5h1.0v1.0h-1.0zM292.0 90.5h1.0v1.0h-1.0zM292.0 92.5h1.0v1.0h-1.0zM292.0 93.5h1.0v1.0h-1.0zM292.0 95.5h1.0v1.0h-1.0zM292.0 96.5h1.0v1.0h-1.0zM292.0 97.5h1.0v1.0h-1.0zM291.0 83.2h1.0v1.0h-1.0zM291.0 84.2h1.0v1.0h-1.0zM291.0 85.2h1.0v1.0h-1.0zM291.0 88.2h1.0v1.0h-1.0zM291.0 89.2h1.0v1.0h-1.0zM291.0 90.2h1.0v1.0h-1.0zM291.0 91.2h1.0v1.0h-1.0zM291.0 92.2h1.0v1.0h-1.0zM291.0 94.2h1.0v1.0h-1.0zM295.8 102.0h1.0v1.0h-1.0zM295.8 101.0h1.0v1.0h-1.0zM295.8 100.0h1.0v1.0h-1.0zM295.8 99.0h1.0v1.0h-1.0zM295.8 98.0h1.0v1.0h-1.0zM295.8 97.0h1.0v1.0h-1.0zM295.8 96.0h1.0v1.0h-1.0zM295.8 95.0h1.0v1.0h-1.0zM295.8 94.0h1.0v1.0h-1.0zM295.8 93.0h1.0v1.0h-1.0zM295.8 92.0h1.0v1.0h-1.0zM295.8 91.0h1.0v1.0h-1.0zM295.8 90.0h1.0v1.0h-1.0zM295.8 89.0h1.0v1.0h-1.0zM295.8 88.0h1.0v1.0h-1.0zM295.8 84.0h1.0v1.0h-1.0zM295.8 82.0h1.0v1.0h-1.0zM295.8 79.0h1.0v1.0h-1.0zM295.8 75.0h1.0v1.0h-1.0zM295.8 68.0h1.0v1.0h-1.0zM296.8 102.0h1.0v1.0h-1.0zM296.8 101.0h1.0v1.0h-1.0zM296.8 100.0h1.0v1.0h-1.0zM296.8 99.0h1.0v1.0h-1.0zM296.8 98.0h1.0v1.0h-1.0zM296.8 97.0h1.0v1.0h-1.0zM296.8 96.0h1.0v1.0h-1.0zM296.8 95.0h1.0v1.0h-1.0zM296.8 94.0h1.0v1.0h-1.0zM296.8 93.0h1.0v1.0h-1.0zM296.8 91.0h1.0v1.0h-1.0zM296.8 89.0h1.0v1.0h-1.0zM296.8 88.0h1.0v1.0h-1.0zM296.8 87.0h1.0v1.0h-1.0zM296.8 86.0h1.0v1.0h-1.0zM296.8 83.0h1.0v1.0h-1.0zM296.8 75.0h1.0v1.0h-1.0zM297.8 102.0h1.0v1.0h-1.0zM297.8 101.0h1.0v1.0h-1.0zM297.8 100.0h1.0v1.0h-1.0zM297.8 99.0h1.0v1.0h-1.0zM297.8 98.0h1.0v1.0h-1.0zM297.8 97.0h1.0v1.0h-1.0zM297.8 96.0h1.0v1.0h-1.0zM297.8 95.0h1.0v1.0h-1.0zM297.8 94.0h1.0v1.0h-1.0zM297.8 93.0h1.0v1.0h-1.0zM297.8 92.0h1.0v1.0h-1.0zM297.8 91.0h1.0v1.0h-1.0zM297.8 90.0h1.0v1.0h-1.0zM297.8 89.0h1.0v1.0h-1.0zM297.8 88.0h1.0v1.0h-1.0zM297.8 87.0h1.0v1.0h-1.0zM297.8 85.0h1.0v1.0h-1.0zM297.8 84.0h1.0v1.0h-1.0zM298.8 102.0h1.0v1.0h-1.0zM298.8 101.0h1.0v1.0h-1.0zM298.8 100.0h1.0v1.0h-1.0zM298.8 99.0h1.0v1.0h-1.0zM298.8 98.0h1.0v1.0h-1.0zM298.8 97.0h1.0v1.0h-1.0zM298.8 96.0h1.0v1.0h-1.0zM298.8 95.0h1.0v1.0h-1.0zM298.8 94.0h1.0v1.0h-1.0zM298.8 93.0h1.0v1.0h-1.0zM298.8 91.0h1.0v1.0h-1.0zM298.8 88.0h1.0v1.0h-1.0zM298.8 87.0h1.0v1.0h-1.0zM298.8 86.0h1.0v1.0h-1.0zM298.8 82.0h1.0v1.0h-1.0zM298.8 79.0h1.0v1.0h-1.0zM298.8 73.0h1.0v1.0h-1.0zM299.8 102.0h0.9v1.0h-0.9zM299.8 101.0h0.9v1.0h-0.9zM299.8 100.0h0.9v1.0h-0.9zM299.8 99.0h0.9v1.0h-0.9zM299.8 98.0h0.9v1.0h-0.9zM299.8 97.0h0.9v1.0h-0.9zM299.8 96.0h0.9v1.0h-0.9zM299.8 95.0h0.9v1.0h-0.9zM299.8 94.0h0.9v1.0h-0.9zM299.8 93.0h0.9v1.0h-0.9zM299.8 91.0h0.9v1.0h-0.9zM299.8 90.0h0.9v1.0h-0.9zM299.8 88.0h0.9v1.0h-0.9zM299.8 87.0h0.9v1.0h-0.9zM299.8 86.0h0.9v1.0h-0.9zM299.8 83.0h0.9v1.0h-0.9zM299.8 82.0h0.9v1.0h-0.9zM299.8 80.0h0.9v1.0h-0.9zM298.0 80.8h1.0v1.0h-1.0zM298.0 81.8h1.0v1.0h-1.0zM298.0 83.8h1.0v1.0h-1.0zM298.0 84.8h1.0v1.0h-1.0zM298.0 85.8h1.0v1.0h-1.0zM298.0 86.8h1.0v1.0h-1.0zM298.0 87.8h1.0v1.0h-1.0zM298.0 89.8h1.0v1.0h-1.0zM298.0 90.8h1.0v1.0h-1.0zM298.0 91.8h1.0v1.0h-1.0zM298.0 92.8h1.0v1.0h-1.0zM298.0 93.8h1.0v1.0h-1.0zM298.0 94.8h1.0v1.0h-1.0zM298.0 95.8h1.0v1.0h-1.0zM298.0 96.8h1.0v1.0h-1.0zM298.0 79.0h1.0v1.0h-1.0zM298.0 80.0h1.0v1.0h-1.0zM298.0 83.0h1.0v1.0h-1.0zM298.0 84.0h1.0v1.0h-1.0zM298.0 85.0h1.0v1.0h-1.0zM298.0 87.0h1.0v1.0h-1.0zM298.0 88.0h1.0v1.0h-1.0zM298.0 90.0h1.0v1.0h-1.0zM298.0 91.0h1.0v1.0h-1.0zM298.0 93.0h1.0v1.0h-1.0zM298.0 94.0h1.0v1.0h-1.0zM298.0 95.0h1.0v1.0h-1.0zM298.0 96.0h1.0v1.0h-1.0zM298.0 97.0h1.0v1.0h-1.0zM299.0 77.1h1.0v1.0h-1.0zM299.0 81.1h1.0v1.0h-1.0zM299.0 83.1h1.0v1.0h-1.0zM299.0 84.1h1.0v1.0h-1.0zM299.0 86.1h1.0v1.0h-1.0zM299.0 87.1h1.0v1.0h-1.0zM299.0 88.1h1.0v1.0h-1.0zM299.0 92.1h1.0v1.0h-1.0zM299.0 94.1h1.0v1.0h-1.0zM299.0 95.1h1.0v1.0h-1.0zM299.0 96.1h1.0v1.0h-1.0zM299.0 97.1h1.0v1.0h-1.0zM310.2 101.0h1.0v1.0h-1.0zM310.2 100.0h1.0v1.0h-1.0zM310.2 99.0h1.0v1.0h-1.0zM310.2 98.0h1.0v1.0h-1.0zM310.2 97.0h1.0v1.0h-1.0zM310.2 96.0h1.0v1.0h-1.0zM310.2 95.0h1.0v1.0h-1.0zM310.2 94.0h1.0v1.0h-1.0zM310.2 93.0h1.0v1.0h-1.0zM310.2 92.0h1.0v1.0h-1.0zM310.2 91.0h1.0v1.0h-1.0zM310.2 90.0h1.0v1.0h-1.0zM310.2 89.0h1.0v1.0h-1.0zM310.2 88.0h1.0v1.0h-1.0zM310.2 87.0h1.0v1.0h-1.0zM310.2 86.0h1.0v1.0h-1.0zM310.2 84.0h1.0v1.0h-1.0zM310.2 82.0h1.0v1.0h-1.0zM310.2 81.0h1.0v1.0h-1.0zM310.2 80.0h1.0v1.0h-1.0zM310.2 79.0h1.0v1.0h-1.0zM310.2 77.0h1.0v1.0h-1.0zM310.2 73.0h1.0v1.0h-1.0zM310.2 68.0h1.0v1.0h-1.0zM310.2 61.0h1.0v1.0h-1.0zM311.2 101.0h1.0v1.0h-1.0zM311.2 100.0h1.0v1.0h-1.0zM311.2 99.0h1.0v1.0h-1.0zM311.2 98.0h1.0v1.0h-1.0zM311.2 97.0h1.0v1.0h-1.0zM311.2 96.0h1.0v1.0h-1.0zM311.2 95.0h1.0v1.0h-1.0zM311.2 94.0h1.0v1.0h-1.0zM311.2 93.0h1.0v1.0h-1.0zM311.2 92.0h1.0v1.0h-1.0zM311.2 91.0h1.0v1.0h-1.0zM311.2 90.0h1.0v1.0h-1.0zM311.2 85.0h1.0v1.0h-1.0zM311.2 84.0h1.0v1.0h-1.0zM312.2 101.0h1.0v1.0h-1.0zM312.2 100.0h1.0v1.0h-1.0zM312.2 99.0h1.0v1.0h-1.0zM312.2 98.0h1.0v1.0h-1.0zM312.2 97.0h1.0v1.0h-1.0zM312.2 96.0h1.0v1.0h-1.0zM312.2 95.0h1.0v1.0h-1.0zM312.2 94.0h1.0v1.0h-1.0zM312.2 93.0h1.0v1.0h-1.0zM312.2 92.0h1.0v1.0h-1.0zM312.2 91.0h1.0v1.0h-1.0zM312.2 90.0h1.0v1.0h-1.0zM312.2 89.0h1.0v1.0h-1.0zM312.2 88.0h1.0v1.0h-1.0zM312.2 87.0h1.0v1.0h-1.0zM312.2 86.0h1.0v1.0h-1.0zM312.2 85.0h1.0v1.0h-1.0zM312.2 83.0h1.0v1.0h-1.0zM312.2 82.0h1.0v1.0h-1.0zM312.2 81.0h1.0v1.0h-1.0zM313.2 101.0h1.0v1.0h-1.0zM313.2 100.0h1.0v1.0h-1.0zM313.2 99.0h1.0v1.0h-1.0zM313.2 98.0h1.0v1.0h-1.0zM313.2 97.0h1.0v1.0h-1.0zM313.2 96.0h1.0v1.0h-1.0zM313.2 95.0h1.0v1.0h-1.0zM313.2 94.0h1.0v1.0h-1.0zM313.2 93.0h1.0v1.0h-1.0zM313.2 92.0h1.0v1.0h-1.0zM313.2 91.0h1.0v1.0h-1.0zM313.2 90.0h1.0v1.0h-1.0zM313.2 88.0h1.0v1.0h-1.0zM313.2 85.0h1.0v1.0h-1.0zM313.2 77.0h1.0v1.0h-1.0zM314.2 101.0h1.0v1.0h-1.0zM314.2 100.0h1.0v1.0h-1.0zM314.2 99.0h1.0v1.0h-1.0zM314.2 98.0h1.0v1.0h-1.0zM314.2 97.0h1.0v1.0h-1.0zM314.2 96.0h1.0v1.0h-1.0zM314.2 95.0h1.0v1.0h-1.0zM314.2 94.0h1.0v1.0h-1.0zM314.2 93.0h1.0v1.0h-1.0zM314.2 92.0h1.0v1.0h-1.0zM314.2 91.0h1.0v1.0h-1.0zM314.2 90.0h1.0v1.0h-1.0zM314.2 89.0h1.0v1.0h-1.0zM314.2 88.0h1.0v1.0h-1.0zM314.2 87.0h1.0v1.0h-1.0zM314.2 86.0h1.0v1.0h-1.0zM314.2 85.0h1.0v1.0h-1.0zM314.2 84.0h1.0v1.0h-1.0zM314.2 83.0h1.0v1.0h-1.0zM314.2 82.0h1.0v1.0h-1.0zM314.2 80.0h1.0v1.0h-1.0zM314.2 78.0h1.0v1.0h-1.0zM314.2 75.0h1.0v1.0h-1.0zM315.2 101.0h1.0v1.0h-1.0zM315.2 100.0h1.0v1.0h-1.0zM315.2 99.0h1.0v1.0h-1.0zM315.2 98.0h1.0v1.0h-1.0zM315.2 97.0h1.0v1.0h-1.0zM315.2 96.0h1.0v1.0h-1.0zM315.2 95.0h1.0v1.0h-1.0zM315.2 94.0h1.0v1.0h-1.0zM315.2 93.0h1.0v1.0h-1.0zM315.2 92.0h1.0v1.0h-1.0zM315.2 91.0h1.0v1.0h-1.0zM315.2 90.0h1.0v1.0h-1.0zM315.2 89.0h1.0v1.0h-1.0zM315.2 88.0h1.0v1.0h-1.0zM315.2 87.0h1.0v1.0h-1.0zM315.2 86.0h1.0v1.0h-1.0zM315.2 85.0h1.0v1.0h-1.0zM315.2 84.0h1.0v1.0h-1.0zM315.2 83.0h1.0v1.0h-1.0zM315.2 82.0h1.0v1.0h-1.0zM315.2 81.0h1.0v1.0h-1.0zM315.2 80.0h1.0v1.0h-1.0zM315.2 79.0h1.0v1.0h-1.0zM315.2 78.0h1.0v1.0h-1.0zM315.2 77.0h1.0v1.0h-1.0zM315.2 76.0h1.0v1.0h-1.0zM315.2 75.0h1.0v1.0h-1.0zM315.2 67.0h1.0v1.0h-1.0zM315.2 64.0h1.0v1.0h-1.0zM316.2 101.0h1.0v1.0h-1.0zM316.2 100.0h1.0v1.0h-1.0zM316.2 99.0h1.0v1.0h-1.0zM316.2 98.0h1.0v1.0h-1.0zM316.2 97.0h1.0v1.0h-1.0zM316.2 96.0h1.0v1.0h-1.0zM316.2 95.0h1.0v1.0h-1.0zM316.2 94.0h1.0v1.0h-1.0zM316.2 93.0h1.0v1.0h-1.0zM316.2 90.0h1.0v1.0h-1.0zM316.2 85.0h1.0v1.0h-1.0zM316.2 84.0h1.0v1.0h-1.0zM316.2 73.0h1.0v1.0h-1.0zM317.2 101.0h1.0v1.0h-1.0zM317.2 100.0h1.0v1.0h-1.0zM317.2 99.0h1.0v1.0h-1.0zM317.2 98.0h1.0v1.0h-1.0zM317.2 97.0h1.0v1.0h-1.0zM317.2 96.0h1.0v1.0h-1.0zM317.2 95.0h1.0v1.0h-1.0zM317.2 94.0h1.0v1.0h-1.0zM317.2 93.0h1.0v1.0h-1.0zM317.2 92.0h1.0v1.0h-1.0zM317.2 91.0h1.0v1.0h-1.0zM317.2 90.0h1.0v1.0h-1.0zM317.2 89.0h1.0v1.0h-1.0zM317.2 88.0h1.0v1.0h-1.0zM317.2 87.0h1.0v1.0h-1.0zM317.2 86.0h1.0v1.0h-1.0zM317.2 85.0h1.0v1.0h-1.0zM317.2 84.0h1.0v1.0h-1.0zM317.2 82.0h1.0v1.0h-1.0zM317.2 81.0h1.0v1.0h-1.0zM317.2 80.0h1.0v1.0h-1.0zM317.2 79.0h1.0v1.0h-1.0zM317.2 75.0h1.0v1.0h-1.0zM317.2 74.0h1.0v1.0h-1.0zM311.0 87.3h1.0v1.0h-1.0zM311.0 89.3h1.0v1.0h-1.0zM311.0 90.3h1.0v1.0h-1.0zM311.0 92.3h1.0v1.0h-1.0zM311.0 94.3h1.0v1.0h-1.0zM311.0 96.3h1.0v1.0h-1.0zM317.0 79.6h1.0v1.0h-1.0zM317.0 80.6h1.0v1.0h-1.0zM317.0 81.6h1.0v1.0h-1.0zM317.0 84.6h1.0v1.0h-1.0zM317.0 85.6h1.0v1.0h-1.0zM317.0 88.6h1.0v1.0h-1.0zM317.0 89.6h1.0v1.0h-1.0zM317.0 91.6h1.0v1.0h-1.0zM317.0 92.6h1.0v1.0h-1.0zM317.0 93.6h1.0v1.0h-1.0zM317.0 94.6h1.0v1.0h-1.0zM315.0 73.4h1.0v1.0h-1.0zM315.0 74.4h1.0v1.0h-1.0zM315.0 77.4h1.0v1.0h-1.0zM315.0 78.4h1.0v1.0h-1.0zM315.0 79.4h1.0v1.0h-1.0zM315.0 80.4h1.0v1.0h-1.0zM315.0 81.4h1.0v1.0h-1.0zM315.0 83.4h1.0v1.0h-1.0zM315.0 84.4h1.0v1.0h-1.0zM315.0 85.4h1.0v1.0h-1.0zM315.0 86.4h1.0v1.0h-1.0zM315.0 88.4h1.0v1.0h-1.0zM315.0 89.4h1.0v1.0h-1.0zM315.0 91.4h1.0v1.0h-1.0zM315.0 92.4h1.0v1.0h-1.0zM315.0 94.4h1.0v1.0h-1.0zM315.0 95.4h1.0v1.0h-1.0zM315.0 96.4h1.0v1.0h-1.0zM315.0 88.0h1.0v1.0h-1.0zM315.0 89.0h1.0v1.0h-1.0zM315.0 91.0h1.0v1.0h-1.0zM315.0 92.0h1.0v1.0h-1.0zM315.0 94.0h1.0v1.0h-1.0zM315.0 95.0h1.0v1.0h-1.0zM315.0 97.0h1.0v1.0h-1.0zM311.0 85.8h1.0v1.0h-1.0zM311.0 86.8h1.0v1.0h-1.0zM311.0 90.8h1.0v1.0h-1.0zM311.0 93.8h1.0v1.0h-1.0zM311.0 94.8h1.0v1.0h-1.0zM311.0 96.8h1.0v1.0h-1.0zM325.2 101.0h1.0v1.0h-1.0zM325.2 100.0h1.0v1.0h-1.0zM325.2 99.0h1.0v1.0h-1.0zM325.2 98.0h1.0v1.0h-1.0zM325.2 97.0h1.0v1.0h-1.0zM325.2 96.0h1.0v1.0h-1.0zM325.2 95.0h1.0v1.0h-1.0zM325.2 94.0h1.0v1.0h-1.0zM325.2 93.0h1.0v1.0h-1.0zM325.2 92.0h1.0v1.0h-1.0zM325.2 91.0h1.0v1.0h-1.0zM325.2 90.0h1.0v1.0h-1.0zM325.2 89.0h1.0v1.0h-1.0zM325.2 88.0h1.0v1.0h-1.0zM325.2 87.0h1.0v1.0h-1.0zM325.2 86.0h1.0v1.0h-1.0zM325.2 84.0h1.0v1.0h-1.0zM325.2 79.0h1.0v1.0h-1.0zM326.2 101.0h1.0v1.0h-1.0zM326.2 100.0h1.0v1.0h-1.0zM326.2 99.0h1.0v1.0h-1.0zM326.2 98.0h1.0v1.0h-1.0zM326.2 97.0h1.0v1.0h-1.0zM326.2 96.0h1.0v1.0h-1.0zM326.2 95.0h1.0v1.0h-1.0zM326.2 94.0h1.0v1.0h-1.0zM326.2 93.0h1.0v1.0h-1.0zM326.2 92.0h1.0v1.0h-1.0zM326.2 91.0h1.0v1.0h-1.0zM326.2 90.0h1.0v1.0h-1.0zM326.2 89.0h1.0v1.0h-1.0zM326.2 88.0h1.0v1.0h-1.0zM326.2 87.0h1.0v1.0h-1.0zM326.2 86.0h1.0v1.0h-1.0zM326.2 85.0h1.0v1.0h-1.0zM326.2 84.0h1.0v1.0h-1.0zM326.2 80.0h1.0v1.0h-1.0zM326.2 75.0h1.0v1.0h-1.0zM326.2 71.0h1.0v1.0h-1.0zM326.2 69.0h1.0v1.0h-1.0zM327.2 101.0h1.0v1.0h-1.0zM327.2 100.0h1.0v1.0h-1.0zM327.2 99.0h1.0v1.0h-1.0zM327.2 98.0h1.0v1.0h-1.0zM327.2 97.0h1.0v1.0h-1.0zM327.2 96.0h1.0v1.0h-1.0zM327.2 95.0h1.0v1.0h-1.0zM327.2 94.0h1.0v1.0h-1.0zM327.2 93.0h1.0v1.0h-1.0zM327.2 92.0h1.0v1.0h-1.0zM327.2 91.0h1.0v1.0h-1.0zM327.2 90.0h1.0v1.0h-1.0zM327.2 89.0h1.0v1.0h-1.0zM327.2 88.0h1.0v1.0h-1.0zM327.2 87.0h1.0v1.0h-1.0zM327.2 86.0h1.0v1.0h-1.0zM327.2 85.0h1.0v1.0h-1.0zM327.2 84.0h1.0v1.0h-1.0zM327.2 83.0h1.0v1.0h-1.0zM327.2 82.0h1.0v1.0h-1.0zM327.2 81.0h1.0v1.0h-1.0zM327.2 75.0h1.0v1.0h-1.0zM328.2 101.0h1.0v1.0h-1.0zM328.2 100.0h1.0v1.0h-1.0zM328.2 99.0h1.0v1.0h-1.0zM328.2 98.0h1.0v1.0h-1.0zM328.2 97.0h1.0v1.0h-1.0zM328.2 96.0h1.0v1.0h-1.0zM328.2 95.0h1.0v1.0h-1.0zM328.2 94.0h1.0v1.0h-1.0zM328.2 93.0h1.0v1.0h-1.0zM328.2 91.0h1.0v1.0h-1.0zM328.2 89.0h1.0v1.0h-1.0zM328.2 88.0h1.0v1.0h-1.0zM328.2 84.0h1.0v1.0h-1.0zM328.2 82.0h1.0v1.0h-1.0zM329.2 101.0h1.0v1.0h-1.0zM329.2 100.0h1.0v1.0h-1.0zM329.2 99.0h1.0v1.0h-1.0zM329.2 98.0h1.0v1.0h-1.0zM329.2 97.0h1.0v1.0h-1.0zM329.2 96.0h1.0v1.0h-1.0zM329.2 95.0h1.0v1.0h-1.0zM329.2 94.0h1.0v1.0h-1.0zM329.2 93.0h1.0v1.0h-1.0zM329.2 91.0h1.0v1.0h-1.0zM329.2 90.0h1.0v1.0h-1.0zM329.2 88.0h1.0v1.0h-1.0zM329.2 87.0h1.0v1.0h-1.0zM329.2 86.0h1.0v1.0h-1.0zM329.2 84.0h1.0v1.0h-1.0zM329.2 83.0h1.0v1.0h-1.0zM329.2 82.0h1.0v1.0h-1.0zM329.2 80.0h1.0v1.0h-1.0zM329.2 72.0h1.0v1.0h-1.0zM330.2 101.0h1.0v1.0h-1.0zM330.2 100.0h1.0v1.0h-1.0zM330.2 99.0h1.0v1.0h-1.0zM330.2 98.0h1.0v1.0h-1.0zM330.2 97.0h1.0v1.0h-1.0zM330.2 96.0h1.0v1.0h-1.0zM330.2 95.0h1.0v1.0h-1.0zM330.2 94.0h1.0v1.0h-1.0zM330.2 93.0h1.0v1.0h-1.0zM330.2 92.0h1.0v1.0h-1.0zM330.2 91.0h1.0v1.0h-1.0zM330.2 90.0h1.0v1.0h-1.0zM330.2 89.0h1.0v1.0h-1.0zM330.2 88.0h1.0v1.0h-1.0zM330.2 87.0h1.0v1.0h-1.0zM330.2 86.0h1.0v1.0h-1.0zM330.2 85.0h1.0v1.0h-1.0zM330.2 84.0h1.0v1.0h-1.0zM330.2 83.0h1.0v1.0h-1.0zM330.2 82.0h1.0v1.0h-1.0zM330.2 79.0h1.0v1.0h-1.0zM330.2 78.0h1.0v1.0h-1.0zM330.2 77.0h1.0v1.0h-1.0zM330.2 75.0h1.0v1.0h-1.0zM330.2 74.0h1.0v1.0h-1.0zM330.2 73.0h1.0v1.0h-1.0zM330.2 53.0h1.0v1.0h-1.0zM331.2 101.0h0.8v1.0h-0.8zM331.2 100.0h0.8v1.0h-0.8zM331.2 99.0h0.8v1.0h-0.8zM331.2 98.0h0.8v1.0h-0.8zM331.2 97.0h0.8v1.0h-0.8zM331.2 96.0h0.8v1.0h-0.8zM331.2 95.0h0.8v1.0h-0.8zM331.2 94.0h0.8v1.0h-0.8zM331.2 93.0h0.8v1.0h-0.8zM331.2 92.0h0.8v1.0h-0.8zM331.2 91.0h0.8v1.0h-0.8zM331.2 90.0h0.8v1.0h-0.8zM331.2 89.0h0.8v1.0h-0.8zM331.2 88.0h0.8v1.0h-0.8zM331.2 87.0h0.8v1.0h-0.8zM331.2 86.0h0.8v1.0h-0.8zM331.2 85.0h0.8v1.0h-0.8zM331.2 83.0h0.8v1.0h-0.8zM331.2 79.0h0.8v1.0h-0.8zM331.2 77.0h0.8v1.0h-0.8zM331.2 76.0h0.8v1.0h-0.8zM331.2 72.0h0.8v1.0h-0.8zM331.2 60.0h0.8v1.0h-0.8zM331.0 80.2h1.0v1.0h-1.0zM331.0 84.2h1.0v1.0h-1.0zM331.0 85.2h1.0v1.0h-1.0zM331.0 86.2h1.0v1.0h-1.0zM331.0 87.2h1.0v1.0h-1.0zM331.0 89.2h1.0v1.0h-1.0zM331.0 90.2h1.0v1.0h-1.0zM331.0 91.2h1.0v1.0h-1.0zM331.0 92.2h1.0v1.0h-1.0zM331.0 93.2h1.0v1.0h-1.0zM331.0 94.2h1.0v1.0h-1.0zM331.0 95.2h1.0v1.0h-1.0zM326.0 68.7h1.0v1.0h-1.0zM326.0 70.7h1.0v1.0h-1.0zM326.0 71.7h1.0v1.0h-1.0zM326.0 73.7h1.0v1.0h-1.0zM326.0 74.7h1.0v1.0h-1.0zM326.0 75.7h1.0v1.0h-1.0zM326.0 77.7h1.0v1.0h-1.0zM326.0 79.7h1.0v1.0h-1.0zM326.0 80.7h1.0v1.0h-1.0zM326.0 81.7h1.0v1.0h-1.0zM326.0 82.7h1.0v1.0h-1.0zM326.0 84.7h1.0v1.0h-1.0zM326.0 86.7h1.0v1.0h-1.0zM326.0 88.7h1.0v1.0h-1.0zM326.0 89.7h1.0v1.0h-1.0zM326.0 91.7h1.0v1.0h-1.0zM326.0 92.7h1.0v1.0h-1.0zM326.0 93.7h1.0v1.0h-1.0zM326.0 94.7h1.0v1.0h-1.0zM326.0 95.7h1.0v1.0h-1.0zM329.0 80.0h1.0v1.0h-1.0zM329.0 81.0h1.0v1.0h-1.0zM329.0 82.0h1.0v1.0h-1.0zM329.0 83.0h1.0v1.0h-1.0zM329.0 84.0h1.0v1.0h-1.0zM329.0 86.0h1.0v1.0h-1.0zM329.0 88.0h1.0v1.0h-1.0zM329.0 90.0h1.0v1.0h-1.0zM329.0 92.0h1.0v1.0h-1.0zM329.0 95.0h1.0v1.0h-1.0zM329.0 79.3h1.0v1.0h-1.0zM329.0 81.3h1.0v1.0h-1.0zM329.0 82.3h1.0v1.0h-1.0zM329.0 83.3h1.0v1.0h-1.0zM329.0 84.3h1.0v1.0h-1.0zM329.0 85.3h1.0v1.0h-1.0zM329.0 87.3h1.0v1.0h-1.0zM329.0 89.3h1.0v1.0h-1.0zM329.0 90.3h1.0v1.0h-1.0zM329.0 91.3h1.0v1.0h-1.0zM329.0 94.3h1.0v1.0h-1.0zM329.0 95.3h1.0v1.0h-1.0zM329.0 96.3h1.0v1.0h-1.0zM335.7 101.0h1.0v1.0h-1.0zM335.7 100.0h1.0v1.0h-1.0zM335.7 99.0h1.0v1.0h-1.0zM335.7 98.0h1.0v1.0h-1.0zM335.7 97.0h1.0v1.0h-1.0zM335.7 96.0h1.0v1.0h-1.0zM335.7 95.0h1.0v1.0h-1.0zM335.7 94.0h1.0v1.0h-1.0zM335.7 93.0h1.0v1.0h-1.0zM335.7 92.0h1.0v1.0h-1.0zM335.7 91.0h1.0v1.0h-1.0zM335.7 90.0h1.0v1.0h-1.0zM335.7 89.0h1.0v1.0h-1.0zM335.7 88.0h1.0v1.0h-1.0zM335.7 86.0h1.0v1.0h-1.0zM335.7 85.0h1.0v1.0h-1.0zM335.7 84.0h1.0v1.0h-1.0zM335.7 83.0h1.0v1.0h-1.0zM335.7 82.0h1.0v1.0h-1.0zM335.7 81.0h1.0v1.0h-1.0zM335.7 80.0h1.0v1.0h-1.0zM335.7 76.0h1.0v1.0h-1.0zM335.7 75.0h1.0v1.0h-1.0zM335.7 72.0h1.0v1.0h-1.0zM335.7 71.0h1.0v1.0h-1.0zM336.7 101.0h1.0v1.0h-1.0zM336.7 100.0h1.0v1.0h-1.0zM336.7 99.0h1.0v1.0h-1.0zM336.7 98.0h1.0v1.0h-1.0zM336.7 97.0h1.0v1.0h-1.0zM336.7 96.0h1.0v1.0h-1.0zM336.7 95.0h1.0v1.0h-1.0zM336.7 94.0h1.0v1.0h-1.0zM336.7 93.0h1.0v1.0h-1.0zM336.7 92.0h1.0v1.0h-1.0zM336.7 91.0h1.0v1.0h-1.0zM336.7 90.0h1.0v1.0h-1.0zM336.7 89.0h1.0v1.0h-1.0zM336.7 88.0h1.0v1.0h-1.0zM336.7 86.0h1.0v1.0h-1.0zM336.7 85.0h1.0v1.0h-1.0zM336.7 84.0h1.0v1.0h-1.0zM336.7 83.0h1.0v1.0h-1.0zM336.7 82.0h1.0v1.0h-1.0zM336.7 80.0h1.0v1.0h-1.0zM336.7 77.0h1.0v1.0h-1.0zM337.7 101.0h1.0v1.0h-1.0zM337.7 100.0h1.0v1.0h-1.0zM337.7 99.0h1.0v1.0h-1.0zM337.7 98.0h1.0v1.0h-1.0zM337.7 97.0h1.0v1.0h-1.0zM337.7 96.0h1.0v1.0h-1.0zM337.7 95.0h1.0v1.0h-1.0zM337.7 94.0h1.0v1.0h-1.0zM337.7 93.0h1.0v1.0h-1.0zM337.7 92.0h1.0v1.0h-1.0zM337.7 90.0h1.0v1.0h-1.0zM337.7 88.0h1.0v1.0h-1.0zM337.7 87.0h1.0v1.0h-1.0zM337.7 80.0h1.0v1.0h-1.0zM338.7 101.0h1.0v1.0h-1.0zM338.7 100.0h1.0v1.0h-1.0zM338.7 99.0h1.0v1.0h-1.0zM338.7 98.0h1.0v1.0h-1.0zM338.7 97.0h1.0v1.0h-1.0zM338.7 96.0h1.0v1.0h-1.0zM338.7 95.0h1.0v1.0h-1.0zM338.7 94.0h1.0v1.0h-1.0zM338.7 93.0h1.0v1.0h-1.0zM338.7 92.0h1.0v1.0h-1.0zM338.7 91.0h1.0v1.0h-1.0zM338.7 90.0h1.0v1.0h-1.0zM338.7 89.0h1.0v1.0h-1.0zM338.7 88.0h1.0v1.0h-1.0zM338.7 87.0h1.0v1.0h-1.0zM338.7 86.0h1.0v1.0h-1.0zM338.7 81.0h1.0v1.0h-1.0zM338.7 77.0h1.0v1.0h-1.0zM338.7 75.0h1.0v1.0h-1.0zM338.7 74.0h1.0v1.0h-1.0zM339.7 101.0h1.0v1.0h-1.0zM339.7 100.0h1.0v1.0h-1.0zM339.7 99.0h1.0v1.0h-1.0zM339.7 98.0h1.0v1.0h-1.0zM339.7 97.0h1.0v1.0h-1.0zM339.7 96.0h1.0v1.0h-1.0zM339.7 95.0h1.0v1.0h-1.0zM339.7 94.0h1.0v1.0h-1.0zM339.7 93.0h1.0v1.0h-1.0zM339.7 92.0h1.0v1.0h-1.0zM339.7 91.0h1.0v1.0h-1.0zM339.7 90.0h1.0v1.0h-1.0zM339.7 89.0h1.0v1.0h-1.0zM339.7 88.0h1.0v1.0h-1.0zM339.7 87.0h1.0v1.0h-1.0zM339.7 86.0h1.0v1.0h-1.0zM339.7 85.0h1.0v1.0h-1.0zM339.7 84.0h1.0v1.0h-1.0zM339.7 83.0h1.0v1.0h-1.0zM339.7 82.0h1.0v1.0h-1.0zM339.7 81.0h1.0v1.0h-1.0zM339.7 80.0h1.0v1.0h-1.0zM339.7 79.0h1.0v1.0h-1.0zM339.7 70.0h1.0v1.0h-1.0zM337.0 79.6h1.0v1.0h-1.0zM337.0 80.6h1.0v1.0h-1.0zM337.0 81.6h1.0v1.0h-1.0zM337.0 84.6h1.0v1.0h-1.0zM337.0 85.6h1.0v1.0h-1.0zM337.0 86.6h1.0v1.0h-1.0zM337.0 87.6h1.0v1.0h-1.0zM337.0 89.6h1.0v1.0h-1.0zM337.0 91.6h1.0v1.0h-1.0zM337.0 93.6h1.0v1.0h-1.0zM337.0 69.7h1.0v1.0h-1.0zM337.0 70.7h1.0v1.0h-1.0zM337.0 71.7h1.0v1.0h-1.0zM337.0 73.7h1.0v1.0h-1.0zM337.0 77.7h1.0v1.0h-1.0zM337.0 80.7h1.0v1.0h-1.0zM337.0 81.7h1.0v1.0h-1.0zM337.0 82.7h1.0v1.0h-1.0zM337.0 83.7h1.0v1.0h-1.0zM337.0 85.7h1.0v1.0h-1.0zM337.0 86.7h1.0v1.0h-1.0zM337.0 87.7h1.0v1.0h-1.0zM337.0 88.7h1.0v1.0h-1.0zM337.0 89.7h1.0v1.0h-1.0zM337.0 90.7h1.0v1.0h-1.0zM337.0 92.7h1.0v1.0h-1.0zM337.0 94.7h1.0v1.0h-1.0zM337.0 95.7h1.0v1.0h-1.0zM337.0 96.7h1.0v1.0h-1.0zM336.0 80.3h1.0v1.0h-1.0zM336.0 81.3h1.0v1.0h-1.0zM336.0 82.3h1.0v1.0h-1.0zM336.0 84.3h1.0v1.0h-1.0zM336.0 90.3h1.0v1.0h-1.0zM336.0 91.3h1.0v1.0h-1.0zM336.0 93.3h1.0v1.0h-1.0zM336.0 94.3h1.0v1.0h-1.0zM336.0 95.3h1.0v1.0h-1.0zM336.0 96.3h1.0v1.0h-1.0zM63.4 40.5h1.0v1.1h-1.0zM63.4 41.5h1.0v1.1h-1.0zM63.4 42.5h1.0v1.1h-1.0zM63.4 43.5h1.0v1.1h-1.0zM63.4 45.5h1.0v1.1h-1.0zM63.4 46.5h1.0v1.1h-1.0zM63.4 47.5h1.0v1.1h-1.0zM63.4 48.5h1.0v1.1h-1.0zM63.4 49.5h1.0v1.1h-1.0zM63.4 51.5h1.0v1.1h-1.0zM63.4 52.5h1.0v1.1h-1.0zM63.4 53.5h1.0v1.1h-1.0zM63.4 54.5h1.0v1.1h-1.0zM63.4 55.5h1.0v1.1h-1.0zM63.4 56.5h1.0v1.1h-1.0zM63.4 57.5h1.0v1.1h-1.0zM63.4 59.5h1.0v1.1h-1.0zM63.4 61.5h1.0v1.1h-1.0zM63.4 62.5h1.0v1.1h-1.0zM63.4 63.5h1.0v1.1h-1.0zM63.4 64.5h1.0v1.1h-1.0zM63.4 65.5h1.0v1.1h-1.0zM63.4 66.5h1.0v1.1h-1.0zM63.4 67.5h1.0v1.1h-1.0zM63.4 68.5h1.0v1.1h-1.0zM63.4 69.5h1.0v1.1h-1.0zM127.4 34.5h1.0v1.1h-1.0zM127.4 35.5h1.0v1.1h-1.0zM127.4 36.5h1.0v1.1h-1.0zM127.4 38.5h1.0v1.1h-1.0zM127.4 40.5h1.0v1.1h-1.0zM127.4 41.5h1.0v1.1h-1.0zM127.4 42.5h1.0v1.1h-1.0zM127.4 43.5h1.0v1.1h-1.0zM127.4 44.5h1.0v1.1h-1.0zM127.4 45.5h1.0v1.1h-1.0zM127.4 46.5h1.0v1.1h-1.0zM127.4 48.5h1.0v1.1h-1.0zM127.4 49.5h1.0v1.1h-1.0zM127.4 51.5h1.0v1.1h-1.0zM127.4 52.5h1.0v1.1h-1.0zM127.4 53.5h1.0v1.1h-1.0zM127.4 55.5h1.0v1.1h-1.0zM127.4 56.5h1.0v1.1h-1.0zM127.4 57.5h1.0v1.1h-1.0zM127.4 58.5h1.0v1.1h-1.0zM127.4 59.5h1.0v1.1h-1.0zM298.0 41.5h1.0v1.1h-1.0zM298.0 42.5h1.0v1.1h-1.0zM298.0 43.5h1.0v1.1h-1.0zM298.0 44.5h1.0v1.1h-1.0zM298.0 45.5h1.0v1.1h-1.0zM298.0 46.5h1.0v1.1h-1.0zM298.0 47.5h1.0v1.1h-1.0zM298.0 48.5h1.0v1.1h-1.0zM298.0 49.5h1.0v1.1h-1.0zM298.0 50.5h1.0v1.1h-1.0zM298.0 51.5h1.0v1.1h-1.0zM298.0 53.5h1.0v1.1h-1.0zM298.0 54.5h1.0v1.1h-1.0zM298.0 55.5h1.0v1.1h-1.0zM298.0 56.5h1.0v1.1h-1.0zM298.0 58.5h1.0v1.1h-1.0zM298.0 59.5h1.0v1.1h-1.0zM59.0 48.0h1.0v1.1h-1.0zM83.4 50.2h1.0v1.1h-1.0zM83.2 48.2h1.0v1.1h-1.0zM77.5 53.3h1.0v1.1h-1.0zM76.0 44.1h1.0v1.1h-1.0zM74.4 54.1h1.0v1.1h-1.0zM66.0 57.5h1.0v1.1h-1.0zM62.3 49.8h1.0v1.1h-1.0zM60.3 57.6h1.0v1.1h-1.0zM61.2 62.9h1.0v1.1h-1.0zM123.2 55.9h1.0v1.1h-1.0zM116.1 54.5h1.0v1.1h-1.0zM115.0 52.6h1.0v1.1h-1.0zM116.8 46.6h1.0v1.1h-1.0zM112.6 57.2h1.0v1.1h-1.0zM116.3 45.0h1.0v1.1h-1.0zM116.9 55.0h1.0v1.1h-1.0zM113.8 45.4h1.0v1.1h-1.0zM151.8 62.1h1.0v1.1h-1.0zM165.3 65.3h1.0v1.1h-1.0zM162.1 50.1h1.0v1.1h-1.0zM157.1 58.8h1.0v1.1h-1.0zM160.5 59.0h1.0v1.1h-1.0zM160.4 49.1h1.0v1.1h-1.0zM156.9 55.7h1.0v1.1h-1.0zM196.6 44.8h1.0v1.1h-1.0zM189.6 47.3h1.0v1.1h-1.0zM198.2 54.7h1.0v1.1h-1.0zM193.9 44.2h1.0v1.1h-1.0zM188.8 59.9h1.0v1.1h-1.0zM187.2 50.5h1.0v1.1h-1.0zM216.8 48.9h1.0v1.1h-1.0zM217.3 57.8h1.0v1.1h-1.0zM222.6 45.9h1.0v1.1h-1.0zM227.7 48.2h1.0v1.1h-1.0zM228.0 53.9h1.0v1.1h-1.0zM228.3 45.8h1.0v1.1h-1.0zM252.8 64.0h1.0v1.1h-1.0zM246.7 56.6h1.0v1.1h-1.0zM252.5 51.9h1.0v1.1h-1.0zM254.1 59.2h1.0v1.1h-1.0zM249.2 57.2h1.0v1.1h-1.0zM254.8 45.8h1.0v1.1h-1.0zM273.2 49.5h1.0v1.1h-1.0zM277.5 45.0h1.0v1.1h-1.0zM272.9 51.7h1.0v1.1h-1.0zM274.5 62.4h1.0v1.1h-1.0zM293.2 57.3h1.0v1.1h-1.0zM293.0 44.6h1.0v1.1h-1.0zM299.2 66.4h1.0v1.1h-1.0zM298.6 63.9h1.0v1.1h-1.0zM313.9 52.2h1.0v1.1h-1.0zM314.7 57.9h1.0v1.1h-1.0zM315.3 60.0h1.0v1.1h-1.0zM330.3 47.6h1.0v1.1h-1.0zM327.3 55.9h1.0v1.1h-1.0zM325.5 59.8h1.0v1.1h-1.0zM336.7 56.9h1.0v1.1h-1.0zM335.8 58.3h1.0v1.1h-1.0zM222.1 17.8h1.3v1.3h-1.3zM329.7 38.6h1.3v1.3h-1.3zM297.2 40.8h1.3v1.3h-1.3zM120.8 38.0h1.3v1.3h-1.3zM113.8 42.9h1.3v1.3h-1.3zM222.4 46.7h1.3v1.3h-1.3z"/>
<line x1="22.50" y1="182.20" x2="22.50" y2="277.10" stroke="#777" stroke-width="0.8"/>
<line x1="20.20" y1="182.20" x2="22.50" y2="182.20" stroke="#777" stroke-width="0.8"/>
<text x="10.9" y="184.5" font-size="6.5" fill="#444" textLength="6.3" lengthAdjust="spacingAndGlyphs">10</text>
<line x1="20.20" y1="201.18" x2="22.50" y2="201.18" stroke="#777" stroke-width="0.8"/>
<text x="14.1" y="203.5" font-size="6.5" fill="#444" textLength="3.1" lengthAdjust="spacingAndGlyphs">8</text>
<line x1="20.20" y1="220.16" x2="22.50" y2="220.16" stroke="#777" stroke-width="0.8"/>
<text x="14.1" y="222.5" font-size="6.5" fill="#444" textLength="3.1" lengthAdjust="spacingAndGlyphs">6</text>
<line x1="20.20" y1="239.14" x2="22.50" y2="239.14" stroke="#777" stroke-width="0.8"/>
<text x="14.1" y="241.4" font-size="6.5" fill="#444" textLength="3.1" lengthAdjust="spacingAndGlyphs">4</text>
<line x1="20.20" y1="258.12" x2="22.50" y2="258.12" stroke="#777" stroke-width="0.8"/>
<text x="14.1" y="260.4" font-size="6.5" fill="#444" textLength="3.1" lengthAdjust="spacingAndGlyphs">2</text>
<line x1="20.20" y1="277.10" x2="22.50" y2="277.10" stroke="#777" stroke-width="0.8"/>
<text x="14.1" y="279.4" font-size="6.5" fill="#444" textLength="3.1" lengthAdjust="spacingAndGlyphs">0</text>
<text transform="translate(7.8 244.5) rotate(-90)" font-size="8.4" fill="#444" textLength="37" lengthAdjust="spacingAndGlyphs">–log<tspan font-size="6.2" dy="2">10</tspan><tspan dy="-2">(</tspan><tspan font-style="italic">P</tspan>)</text>
<line x1="339.50" y1="182.20" x2="339.50" y2="277.10" stroke="#777" stroke-width="0.8"/>
<line x1="339.50" y1="182.20" x2="341.80" y2="182.20" stroke="#777" stroke-width="0.8"/>
<text x="345.0" y="184.5" font-size="6.5" fill="#444" textLength="10.2" lengthAdjust="spacingAndGlyphs">100</text>
<line x1="339.50" y1="201.18" x2="341.80" y2="201.18" stroke="#777" stroke-width="0.8"/>
<text x="345.0" y="203.5" font-size="6.5" fill="#444" textLength="6.8" lengthAdjust="spacingAndGlyphs">80</text>
<line x1="339.50" y1="220.16" x2="341.80" y2="220.16" stroke="#777" stroke-width="0.8"/>
<text x="345.0" y="222.5" font-size="6.5" fill="#444" textLength="6.8" lengthAdjust="spacingAndGlyphs">60</text>
<line x1="339.50" y1="239.14" x2="341.80" y2="239.14" stroke="#777" stroke-width="0.8"/>
<text x="345.0" y="241.4" font-size="6.5" fill="#444" textLength="6.8" lengthAdjust="spacingAndGlyphs">40</text>
<line x1="339.50" y1="258.12" x2="341.80" y2="258.12" stroke="#777" stroke-width="0.8"/>
<text x="345.0" y="260.4" font-size="6.5" fill="#444" textLength="6.8" lengthAdjust="spacingAndGlyphs">20</text>
<line x1="339.50" y1="277.10" x2="341.80" y2="277.10" stroke="#777" stroke-width="0.8"/>
<text x="345.0" y="279.4" font-size="6.5" fill="#444" textLength="3.3" lengthAdjust="spacingAndGlyphs">0</text>
<line x1="22.50" y1="277.10" x2="22.50" y2="279.20" stroke="#777" stroke-width="0.8"/>
<text x="14.8" y="286.4" font-size="6.3" fill="#444" textLength="15.9" lengthAdjust="spacingAndGlyphs">79.80</text>
<line x1="85.88" y1="277.10" x2="85.88" y2="279.20" stroke="#777" stroke-width="0.8"/>
<text x="78.2" y="286.4" font-size="6.3" fill="#444" textLength="15.9" lengthAdjust="spacingAndGlyphs">80.00</text>
<line x1="149.26" y1="277.10" x2="149.26" y2="279.20" stroke="#777" stroke-width="0.8"/>
<text x="141.6" y="286.4" font-size="6.3" fill="#444" textLength="15.9" lengthAdjust="spacingAndGlyphs">80.20</text>
<line x1="212.64" y1="277.10" x2="212.64" y2="279.20" stroke="#777" stroke-width="0.8"/>
<text x="204.9" y="286.4" font-size="6.3" fill="#444" textLength="15.9" lengthAdjust="spacingAndGlyphs">80.40</text>
<line x1="276.02" y1="277.10" x2="276.02" y2="279.20" stroke="#777" stroke-width="0.8"/>
<text x="268.3" y="286.4" font-size="6.3" fill="#444" textLength="15.9" lengthAdjust="spacingAndGlyphs">80.60</text>
<line x1="339.40" y1="277.10" x2="339.40" y2="279.20" stroke="#777" stroke-width="0.8"/>
<text x="331.7" y="286.4" font-size="6.3" fill="#444" textLength="15.9" lengthAdjust="spacingAndGlyphs">80.80</text>
<text x="146.8" y="296.7" font-size="8.0" fill="#333" textLength="68.0" lengthAdjust="spacingAndGlyphs">Chromosome 7 (Mb)</text>
<text x="26.8" y="191.2" font-size="7.0" fill="#333" textLength="14.9" lengthAdjust="spacingAndGlyphs">LD(<tspan font-style="italic">r</tspan><tspan font-size="4.2" dy="-2.4">2</tspan><tspan dy="2.4">)</tspan></text>
<rect x="28.2" y="194.80" width="5.0" height="6.4" fill="#e5302a" stroke="#222" stroke-width="0.5"/>
<rect x="28.2" y="201.20" width="5.0" height="6.4" fill="#f5c21b" stroke="#222" stroke-width="0.5"/>
<rect x="28.2" y="207.60" width="5.0" height="6.4" fill="#77c04b" stroke="#222" stroke-width="0.5"/>
<rect x="28.2" y="214.00" width="5.0" height="6.4" fill="#2bb7e3" stroke="#222" stroke-width="0.5"/>
<rect x="28.2" y="220.40" width="5.0" height="6.4" fill="#2e2a8c" stroke="#222" stroke-width="0.5"/>
<line x1="33.20" y1="194.80" x2="34.60" y2="194.80" stroke="#222" stroke-width="0.5"/>
<text x="35.6" y="196.6" font-size="4.6" fill="#555" textLength="1.8" lengthAdjust="spacingAndGlyphs">1</text>
<line x1="33.20" y1="201.20" x2="34.60" y2="201.20" stroke="#222" stroke-width="0.5"/>
<text x="35.6" y="203.0" font-size="4.6" fill="#555" textLength="6.0" lengthAdjust="spacingAndGlyphs">0.8</text>
<line x1="33.20" y1="207.60" x2="34.60" y2="207.60" stroke="#222" stroke-width="0.5"/>
<text x="35.6" y="209.4" font-size="4.6" fill="#555" textLength="6.0" lengthAdjust="spacingAndGlyphs">0.6</text>
<line x1="33.20" y1="214.00" x2="34.60" y2="214.00" stroke="#222" stroke-width="0.5"/>
<text x="35.6" y="215.8" font-size="4.6" fill="#555" textLength="6.0" lengthAdjust="spacingAndGlyphs">0.4</text>
<line x1="33.20" y1="220.40" x2="34.60" y2="220.40" stroke="#222" stroke-width="0.5"/>
<text x="35.6" y="222.2" font-size="4.6" fill="#555" textLength="6.0" lengthAdjust="spacingAndGlyphs">0.2</text>
<line x1="33.20" y1="226.80" x2="34.60" y2="226.80" stroke="#222" stroke-width="0.5"/>
<text x="35.6" y="228.6" font-size="4.6" fill="#555" textLength="1.8" lengthAdjust="spacingAndGlyphs">0</text>
<line x1="50.00" y1="227.00" x2="50.00" y2="275.00" stroke="#5059b8" stroke-width="1.3"/>
<line x1="117.50" y1="249.00" x2="117.50" y2="275.00" stroke="#5059b8" stroke-width="1.3"/>
<line x1="213.20" y1="243.00" x2="213.20" y2="275.00" stroke="#5059b8" stroke-width="1.3"/>
<line x1="235.20" y1="242.60" x2="235.20" y2="275.00" stroke="#5059b8" stroke-width="1.3"/>
<line x1="259.50" y1="227.80" x2="259.50" y2="275.00" stroke="#5059b8" stroke-width="1.3"/>
<line x1="279.70" y1="238.30" x2="279.70" y2="275.00" stroke="#5059b8" stroke-width="1.3"/>
<line x1="328.50" y1="250.30" x2="328.50" y2="275.00" stroke="#5059b8" stroke-width="1.3"/>
<polygon points="22.5,257.1 24.0,256.1 25.5,257.8 27.0,257.1 28.5,259.1 30.0,258.9 31.5,259.1 33.0,260.0 34.5,261.1 36.0,263.0 37.5,264.4 39.0,261.6 40.5,263.7 42.0,261.6 43.5,263.5 45.0,262.1 46.5,260.7 48.0,261.7 49.5,262.2 51.0,264.6 52.5,266.8 54.0,267.8 55.5,266.9 57.0,265.0 58.5,261.8 60.0,261.5 61.5,262.9 63.0,260.8 64.5,261.4 66.0,260.9 67.5,258.9 69.0,256.7 70.5,260.2 72.0,260.3 73.5,261.5 75.0,262.7 76.5,266.1 78.0,265.8 79.5,267.8 81.0,266.2 82.5,264.5 84.0,264.3 85.5,265.4 87.0,263.3 88.5,264.7 90.0,264.6 91.5,265.0 93.0,266.0 94.5,264.4 96.0,264.3 97.5,261.7 99.0,261.2 100.5,258.9 102.0,259.0 103.5,260.4 105.0,260.9 106.5,260.4 108.0,258.8 109.5,260.6 111.0,260.8 112.5,260.2 114.0,257.2 115.5,259.1 117.0,257.2 118.5,259.5 120.0,259.1 121.5,258.2 123.0,259.3 124.5,259.4 126.0,261.2 127.5,260.5 129.0,261.2 130.5,261.7 132.0,260.8 133.5,261.3 135.0,262.6 136.5,264.2 138.0,263.7 139.5,263.1 141.0,263.2 142.5,265.3 144.0,265.0 145.5,263.6 147.0,264.2 148.5,265.7 150.0,263.8 151.5,264.8 153.0,264.5 154.5,261.3 156.0,261.4 157.5,263.0 159.0,260.1 160.5,260.2 162.0,261.0 163.5,262.2 165.0,261.2 166.5,260.5 168.0,262.0 169.5,261.7 171.0,261.9 172.5,260.7 174.0,262.8 175.5,261.9 177.0,261.0 178.5,262.9 180.0,261.8 181.5,262.3 183.0,260.5 184.5,261.1 186.0,261.9 187.5,261.8 189.0,262.6 190.5,260.9 192.0,261.7 193.5,261.9 195.0,259.8 196.5,260.2 198.0,261.1 199.5,258.9 201.0,261.0 202.5,259.8 204.0,259.0 205.5,258.9 207.0,259.8 208.5,257.8 210.0,258.0 211.5,260.4 213.0,261.2 214.5,263.4 216.0,266.4 217.5,266.2 219.0,266.5 220.5,265.2 222.0,264.9 223.5,264.2 225.0,266.3 226.5,263.8 228.0,265.9 229.5,265.4 231.0,265.9 232.5,263.7 234.0,264.0 235.5,265.3 237.0,264.7 238.5,264.8 240.0,266.9 241.5,265.3 243.0,265.0 244.5,265.2 246.0,265.4 247.5,265.4 249.0,266.4 250.5,264.3 252.0,265.8 253.5,265.7 255.0,265.7 256.5,265.0 258.0,263.0 259.5,264.1 261.0,263.0 262.5,263.3 264.0,263.4 265.5,262.3 267.0,262.3 268.5,261.7 270.0,262.6 271.5,262.0 273.0,261.9 274.5,261.8 276.0,260.6 277.5,260.7 279.0,262.5 280.5,261.7 282.0,261.8 283.5,261.8 285.0,262.0 286.5,262.6 288.0,261.9 289.5,262.6 291.0,262.0 292.5,260.1 294.0,261.3 295.5,260.7 297.0,259.5 298.5,260.6 300.0,259.8 301.5,259.9 303.0,258.6 304.5,260.2 306.0,260.1 307.5,258.5 309.0,258.3 310.5,259.0 312.0,259.2 313.5,259.3 315.0,259.1 316.5,260.8 318.0,264.5 319.5,265.5 321.0,265.4 322.5,264.4 324.0,265.1 325.5,265.5 327.0,262.8 328.5,262.2 330.0,260.2 331.5,256.7 333.0,256.5 334.5,259.0 336.0,258.9 337.5,256.8 339.0,258.7 339.5,276.9 22.5,276.9" fill="#2f298a"/>
<polygon points="143.62,269.20 147.32,269.20 145.47,266.00" fill="#2f298a" stroke="#211b63" stroke-width="0.35"/><polygon points="315.39,267.21 319.09,267.21 317.24,264.01" fill="#2f298a" stroke="#211b63" stroke-width="0.35"/><polygon points="99.78,264.87 103.48,264.87 101.63,268.07" fill="#2f298a" stroke="#211b63" stroke-width="0.35"/><polygon points="293.38,256.66 297.08,256.66 295.23,253.46" fill="#2f298a" stroke="#211b63" stroke-width="0.35"/><polygon points="167.28,268.56 170.98,268.56 169.13,265.36" fill="#2f298a" stroke="#211b63" stroke-width="0.35"/><polygon points="284.11,263.82 287.81,263.82 285.96,260.62" fill="#2f298a" stroke="#211b63" stroke-width="0.35"/><polygon points="212.41,271.46 216.11,271.46 214.26,268.26" fill="#2f298a" stroke="#211b63" stroke-width="0.35"/><polygon points="292.01,257.66 295.71,257.66 293.86,260.86" fill="#2f298a" stroke="#211b63" stroke-width="0.35"/><polygon points="165.54,266.54 169.24,266.54 167.39,263.34" fill="#2f298a" stroke="#211b63" stroke-width="0.35"/><polygon points="239.97,265.99 243.67,265.99 241.82,269.19" fill="#2f298a" stroke="#211b63" stroke-width="0.35"/><polygon points="191.51,261.51 195.21,261.51 193.36,264.71" fill="#2f298a" stroke="#211b63" stroke-width="0.35"/><polygon points="147.32,265.37 151.02,265.37 149.17,262.17" fill="#2f298a" stroke="#211b63" stroke-width="0.35"/><polygon points="246.07,263.98 249.77,263.98 247.92,260.78" fill="#2f298a" stroke="#211b63" stroke-width="0.35"/><polygon points="212.19,248.93 215.89,248.93 214.04,245.73" fill="#2f298a" stroke="#211b63" stroke-width="0.35"/><polygon points="41.40,259.91 45.10,259.91 43.25,263.11" fill="#2f298a" stroke="#211b63" stroke-width="0.35"/><polygon points="138.48,262.51 142.18,262.51 140.33,265.71" fill="#2f298a" stroke="#211b63" stroke-width="0.35"/><polygon points="304.67,259.46 308.37,259.46 306.52,262.66" fill="#2f298a" stroke="#211b63" stroke-width="0.35"/><polygon points="298.44,265.63 302.14,265.63 300.29,262.43" fill="#2f298a" stroke="#211b63" stroke-width="0.35"/><polygon points="98.66,257.57 102.36,257.57 100.51,254.37" fill="#2f298a" stroke="#211b63" stroke-width="0.35"/><polygon points="249.91,269.03 253.61,269.03 251.76,272.23" fill="#2f298a" stroke="#211b63" stroke-width="0.35"/><polygon points="296.86,258.39 300.56,258.39 298.71,261.59" fill="#2f298a" stroke="#211b63" stroke-width="0.35"/><polygon points="29.01,262.73 32.71,262.73 30.86,259.53" fill="#2f298a" stroke="#211b63" stroke-width="0.35"/><polygon points="86.66,261.44 90.36,261.44 88.51,264.64" fill="#2f298a" stroke="#211b63" stroke-width="0.35"/><polygon points="126.70,264.70 130.40,264.70 128.55,261.50" fill="#2f298a" stroke="#211b63" stroke-width="0.35"/><polygon points="217.20,266.01 220.90,266.01 219.05,262.81" fill="#2f298a" stroke="#211b63" stroke-width="0.35"/><polygon points="306.56,264.15 310.26,264.15 308.41,260.95" fill="#2f298a" stroke="#211b63" stroke-width="0.35"/><polygon points="133.31,260.52 137.01,260.52 135.16,263.72" fill="#2f298a" stroke="#211b63" stroke-width="0.35"/><polygon points="105.75,257.18 109.45,257.18 107.60,260.38" fill="#2f298a" stroke="#211b63" stroke-width="0.35"/><polygon points="283.89,261.03 287.59,261.03 285.74,257.83" fill="#2f298a" stroke="#211b63" stroke-width="0.35"/><polygon points="258.02,260.34 261.72,260.34 259.87,263.54" fill="#2f298a" stroke="#211b63" stroke-width="0.35"/><polygon points="31.31,261.67 35.01,261.67 33.16,258.47" fill="#2f298a" stroke="#211b63" stroke-width="0.35"/><polygon points="167.12,253.41 170.82,253.41 168.97,256.61" fill="#2f298a" stroke="#211b63" stroke-width="0.35"/><polygon points="37.34,259.58 41.04,259.58 39.19,262.78" fill="#2f298a" stroke="#211b63" stroke-width="0.35"/><polygon points="183.77,262.16 187.47,262.16 185.62,265.36" fill="#2f298a" stroke="#211b63" stroke-width="0.35"/><polygon points="89.83,257.60 93.53,257.60 91.68,254.40" fill="#2f298a" stroke="#211b63" stroke-width="0.35"/><polygon points="187.00,259.68 190.70,259.68 188.85,256.48" fill="#2f298a" stroke="#211b63" stroke-width="0.35"/><polygon points="206.94,265.14 210.64,265.14 208.79,261.94" fill="#2f298a" stroke="#211b63" stroke-width="0.35"/><polygon points="192.40,263.67 196.10,263.67 194.25,266.87" fill="#2f298a" stroke="#211b63" stroke-width="0.35"/><polygon points="254.82,266.08 258.52,266.08 256.67,269.28" fill="#2f298a" stroke="#211b63" stroke-width="0.35"/><polygon points="99.96,264.66 103.66,264.66 101.81,261.46" fill="#2f298a" stroke="#211b63" stroke-width="0.35"/><polygon points="241.79,268.48 245.49,268.48 243.64,271.68" fill="#2f298a" stroke="#211b63" stroke-width="0.35"/><polygon points="205.38,256.54 209.08,256.54 207.23,253.34" fill="#2f298a" stroke="#211b63" stroke-width="0.35"/><polygon points="172.62,254.63 176.32,254.63 174.47,257.83" fill="#2f298a" stroke="#211b63" stroke-width="0.35"/><polygon points="206.39,257.14 210.09,257.14 208.24,260.34" fill="#2f298a" stroke="#211b63" stroke-width="0.35"/><polygon points="64.51,258.53 68.21,258.53 66.36,261.73" fill="#2f298a" stroke="#211b63" stroke-width="0.35"/><polygon points="82.38,265.13 86.08,265.13 84.23,261.93" fill="#2f298a" stroke="#211b63" stroke-width="0.35"/><polygon points="311.87,263.65 315.57,263.65 313.72,260.45" fill="#2f298a" stroke="#211b63" stroke-width="0.35"/><polygon points="87.15,261.19 90.85,261.19 89.00,257.99" fill="#2f298a" stroke="#211b63" stroke-width="0.35"/><polygon points="202.27,256.74 205.97,256.74 204.12,253.54" fill="#2f298a" stroke="#211b63" stroke-width="0.35"/><polygon points="24.40,257.08 28.10,257.08 26.25,260.28" fill="#2f298a" stroke="#211b63" stroke-width="0.35"/><polygon points="201.08,261.40 204.78,261.40 202.93,264.60" fill="#2f298a" stroke="#211b63" stroke-width="0.35"/><polygon points="265.32,267.81 269.02,267.81 267.17,264.61" fill="#2f298a" stroke="#211b63" stroke-width="0.35"/><polygon points="95.88,265.05 99.58,265.05 97.73,261.85" fill="#2f298a" stroke="#211b63" stroke-width="0.35"/><polygon points="153.02,265.08 156.72,265.08 154.87,268.28" fill="#2f298a" stroke="#211b63" stroke-width="0.35"/><polygon points="193.03,260.07 196.73,260.07 194.88,263.27" fill="#2f298a" stroke="#211b63" stroke-width="0.35"/><polygon points="71.17,262.05 74.87,262.05 73.02,265.25" fill="#2f298a" stroke="#211b63" stroke-width="0.35"/><polygon points="189.43,259.14 193.13,259.14 191.28,262.34" fill="#2f298a" stroke="#211b63" stroke-width="0.35"/><polygon points="323.21,256.59 326.91,256.59 325.06,259.79" fill="#2f298a" stroke="#211b63" stroke-width="0.35"/><polygon points="283.42,260.40 287.12,260.40 285.27,263.60" fill="#2f298a" stroke="#211b63" stroke-width="0.35"/><polygon points="189.93,259.77 193.63,259.77 191.78,256.57" fill="#2f298a" stroke="#211b63" stroke-width="0.35"/><polygon points="293.34,262.08 297.04,262.08 295.19,258.88" fill="#2f298a" stroke="#211b63" stroke-width="0.35"/><polygon points="200.72,259.65 204.42,259.65 202.57,262.85" fill="#2f298a" stroke="#211b63" stroke-width="0.35"/><polygon points="287.16,261.55 290.86,261.55 289.01,264.75" fill="#2f298a" stroke="#211b63" stroke-width="0.35"/><polygon points="142.41,266.55 146.11,266.55 144.26,263.35" fill="#2f298a" stroke="#211b63" stroke-width="0.35"/><polygon points="23.81,256.17 27.51,256.17 25.66,252.97" fill="#2f298a" stroke="#211b63" stroke-width="0.35"/><polygon points="254.97,264.96 258.67,264.96 256.82,261.76" fill="#2f298a" stroke="#211b63" stroke-width="0.35"/><polygon points="218.69,266.28 222.39,266.28 220.54,269.48" fill="#2f298a" stroke="#211b63" stroke-width="0.35"/><polygon points="45.19,269.24 48.89,269.24 47.04,266.04" fill="#2f298a" stroke="#211b63" stroke-width="0.35"/><polygon points="176.97,260.11 180.67,260.11 178.82,263.31" fill="#2f298a" stroke="#211b63" stroke-width="0.35"/><polygon points="100.80,257.96 104.50,257.96 102.65,254.76" fill="#2f298a" stroke="#211b63" stroke-width="0.35"/><polygon points="110.21,254.59 113.91,254.59 112.06,257.79" fill="#2f298a" stroke="#211b63" stroke-width="0.35"/><polygon points="260.70,266.64 264.40,266.64 262.55,269.84" fill="#2f298a" stroke="#211b63" stroke-width="0.35"/><polygon points="269.15,265.28 272.85,265.28 271.00,262.08" fill="#2f298a" stroke="#211b63" stroke-width="0.35"/><polygon points="246.35,272.29 250.05,272.29 248.20,269.09" fill="#2f298a" stroke="#211b63" stroke-width="0.35"/><polygon points="33.93,261.24 37.63,261.24 35.78,264.44" fill="#2f298a" stroke="#211b63" stroke-width="0.35"/><polygon points="302.90,255.23 306.60,255.23 304.75,252.03" fill="#2f298a" stroke="#211b63" stroke-width="0.35"/><polygon points="299.47,264.08 303.17,264.08 301.32,260.88" fill="#2f298a" stroke="#211b63" stroke-width="0.35"/><polygon points="301.66,266.75 305.36,266.75 303.51,263.55" fill="#2f298a" stroke="#211b63" stroke-width="0.35"/><polygon points="163.45,266.45 167.15,266.45 165.30,269.65" fill="#2f298a" stroke="#211b63" stroke-width="0.35"/><polygon points="75.28,267.76 78.98,267.76 77.13,270.96" fill="#2f298a" stroke="#211b63" stroke-width="0.35"/><polygon points="50.26,273.71 53.96,273.71 52.11,270.51" fill="#2f298a" stroke="#211b63" stroke-width="0.35"/><polygon points="130.26,265.61 133.96,265.61 132.11,262.41" fill="#2f298a" stroke="#211b63" stroke-width="0.35"/><polygon points="87.91,265.90 91.61,265.90 89.76,269.10" fill="#2f298a" stroke="#211b63" stroke-width="0.35"/><polygon points="209.78,257.13 213.48,257.13 211.63,260.33" fill="#2f298a" stroke="#211b63" stroke-width="0.35"/><polygon points="274.28,264.16 277.98,264.16 276.13,260.96" fill="#2f298a" stroke="#211b63" stroke-width="0.35"/><polygon points="287.34,259.52 291.04,259.52 289.19,256.32" fill="#2f298a" stroke="#211b63" stroke-width="0.35"/><polygon points="52.57,263.24 56.27,263.24 54.42,260.04" fill="#2f298a" stroke="#211b63" stroke-width="0.35"/><polygon points="63.48,260.61 67.18,260.61 65.33,257.41" fill="#2f298a" stroke="#211b63" stroke-width="0.35"/><polygon points="52.41,267.20 56.11,267.20 54.26,270.40" fill="#2f298a" stroke="#211b63" stroke-width="0.35"/><polygon points="253.06,265.36 256.76,265.36 254.91,268.56" fill="#2f298a" stroke="#211b63" stroke-width="0.35"/><polygon points="85.85,267.78 89.55,267.78 87.70,270.98" fill="#2f298a" stroke="#211b63" stroke-width="0.35"/><polygon points="244.98,270.26 248.68,270.26 246.83,267.06" fill="#2f298a" stroke="#211b63" stroke-width="0.35"/><polygon points="159.44,268.02 163.14,268.02 161.29,264.82" fill="#2f298a" stroke="#211b63" stroke-width="0.35"/><polygon points="193.54,259.32 197.24,259.32 195.39,262.52" fill="#2f298a" stroke="#211b63" stroke-width="0.35"/><polygon points="305.79,263.30 309.49,263.30 307.64,260.10" fill="#2f298a" stroke="#211b63" stroke-width="0.35"/><polygon points="103.50,263.76 107.20,263.76 105.35,266.96" fill="#2f298a" stroke="#211b63" stroke-width="0.35"/><polygon points="92.83,270.27 96.53,270.27 94.68,267.07" fill="#2f298a" stroke="#211b63" stroke-width="0.35"/><polygon points="259.48,264.57 263.18,264.57 261.33,261.37" fill="#2f298a" stroke="#211b63" stroke-width="0.35"/><polygon points="307.73,261.63 311.43,261.63 309.58,264.83" fill="#2f298a" stroke="#211b63" stroke-width="0.35"/><polygon points="193.54,268.21 197.24,268.21 195.39,265.01" fill="#2f298a" stroke="#211b63" stroke-width="0.35"/><polygon points="228.86,268.31 232.56,268.31 230.71,265.11" fill="#2f298a" stroke="#211b63" stroke-width="0.35"/><polygon points="22.37,257.68 26.07,257.68 24.22,254.48" fill="#2f298a" stroke="#211b63" stroke-width="0.35"/><polygon points="131.83,264.66 135.53,264.66 133.68,267.86" fill="#2f298a" stroke="#211b63" stroke-width="0.35"/><polygon points="21.83,261.62 25.53,261.62 23.68,258.42" fill="#2f298a" stroke="#211b63" stroke-width="0.35"/><polygon points="210.60,258.53 214.30,258.53 212.45,261.73" fill="#2f298a" stroke="#211b63" stroke-width="0.35"/><polygon points="66.13,259.21 69.83,259.21 67.98,262.41" fill="#2f298a" stroke="#211b63" stroke-width="0.35"/><polygon points="233.49,269.42 237.19,269.42 235.34,266.22" fill="#2f298a" stroke="#211b63" stroke-width="0.35"/><polygon points="60.80,264.29 64.50,264.29 62.65,261.09" fill="#2f298a" stroke="#211b63" stroke-width="0.35"/><polygon points="182.45,258.23 186.15,258.23 184.30,261.43" fill="#2f298a" stroke="#211b63" stroke-width="0.35"/><polygon points="229.06,262.50 232.76,262.50 230.91,259.30" fill="#2f298a" stroke="#211b63" stroke-width="0.35"/><polygon points="315.44,268.00 319.14,268.00 317.29,264.80" fill="#2f298a" stroke="#211b63" stroke-width="0.35"/><polygon points="94.84,258.23 98.54,258.23 96.69,261.43" fill="#2f298a" stroke="#211b63" stroke-width="0.35"/><polygon points="236.82,267.17 240.52,267.17 238.67,270.37" fill="#2f298a" stroke="#211b63" stroke-width="0.35"/><polygon points="170.40,269.58 174.10,269.58 172.25,266.38" fill="#2f298a" stroke="#211b63" stroke-width="0.35"/><polygon points="290.54,265.09 294.24,265.09 292.39,261.89" fill="#2f298a" stroke="#211b63" stroke-width="0.35"/><polygon points="128.57,269.39 132.27,269.39 130.42,266.19" fill="#2f298a" stroke="#211b63" stroke-width="0.35"/><polygon points="36.74,256.96 40.44,256.96 38.59,260.16" fill="#2f298a" stroke="#211b63" stroke-width="0.35"/><polygon points="175.92,263.02 179.62,263.02 177.77,259.82" fill="#2f298a" stroke="#211b63" stroke-width="0.35"/><polygon points="277.77,266.76 281.47,266.76 279.62,263.56" fill="#2f298a" stroke="#211b63" stroke-width="0.35"/><polygon points="326.85,268.34 330.55,268.34 328.70,265.14" fill="#2f298a" stroke="#211b63" stroke-width="0.35"/><polygon points="23.68,258.79 27.38,258.79 25.53,261.99" fill="#2f298a" stroke="#211b63" stroke-width="0.35"/><polygon points="157.15,265.96 160.85,265.96 159.00,269.16" fill="#2f298a" stroke="#211b63" stroke-width="0.35"/><polygon points="298.71,255.62 302.41,255.62 300.56,252.42" fill="#2f298a" stroke="#211b63" stroke-width="0.35"/><polygon points="104.04,257.99 107.74,257.99 105.89,261.19" fill="#2f298a" stroke="#211b63" stroke-width="0.35"/><polygon points="109.65,260.95 113.35,260.95 111.50,264.15" fill="#2f298a" stroke="#211b63" stroke-width="0.35"/><polygon points="241.17,259.47 244.87,259.47 243.02,262.67" fill="#2f298a" stroke="#211b63" stroke-width="0.35"/><polygon points="303.17,267.32 306.87,267.32 305.02,264.12" fill="#2f298a" stroke="#211b63" stroke-width="0.35"/><polygon points="47.44,265.32 51.14,265.32 49.29,268.52" fill="#2f298a" stroke="#211b63" stroke-width="0.35"/><polygon points="173.60,259.97 177.30,259.97 175.45,263.17" fill="#2f298a" stroke="#211b63" stroke-width="0.35"/><polygon points="97.33,263.62 101.03,263.62 99.18,260.42" fill="#2f298a" stroke="#211b63" stroke-width="0.35"/><polygon points="33.36,265.75 37.06,265.75 35.21,262.55" fill="#2f298a" stroke="#211b63" stroke-width="0.35"/><polygon points="62.64,259.14 66.34,259.14 64.49,262.34" fill="#2f298a" stroke="#211b63" stroke-width="0.35"/><polygon points="144.06,270.91 147.76,270.91 145.91,267.71" fill="#2f298a" stroke="#211b63" stroke-width="0.35"/><polygon points="250.56,266.60 254.26,266.60 252.41,269.80" fill="#2f298a" stroke="#211b63" stroke-width="0.35"/><polygon points="142.16,268.52 145.86,268.52 144.01,271.72" fill="#2f298a" stroke="#211b63" stroke-width="0.35"/><polygon points="56.88,261.03 60.58,261.03 58.73,264.23" fill="#2f298a" stroke="#211b63" stroke-width="0.35"/><polygon points="212.08,266.40 215.78,266.40 213.93,269.60" fill="#2f298a" stroke="#211b63" stroke-width="0.35"/><polygon points="134.55,262.34 138.25,262.34 136.40,265.54" fill="#2f298a" stroke="#211b63" stroke-width="0.35"/><polygon points="25.77,266.28 29.47,266.28 27.62,263.08" fill="#2f298a" stroke="#211b63" stroke-width="0.35"/><polygon points="272.87,257.33 276.57,257.33 274.72,260.53" fill="#2f298a" stroke="#211b63" stroke-width="0.35"/><polygon points="42.99,266.11 46.69,266.11 44.84,269.31" fill="#2f298a" stroke="#211b63" stroke-width="0.35"/><polygon points="274.15,267.46 277.85,267.46 276.00,264.26" fill="#2f298a" stroke="#211b63" stroke-width="0.35"/><polygon points="304.03,260.42 307.73,260.42 305.88,257.22" fill="#2f298a" stroke="#211b63" stroke-width="0.35"/><polygon points="63.06,258.88 66.76,258.88 64.91,262.08" fill="#2f298a" stroke="#211b63" stroke-width="0.35"/><polygon points="50.83,267.33 54.53,267.33 52.68,270.53" fill="#2f298a" stroke="#211b63" stroke-width="0.35"/><polygon points="327.81,267.37 331.51,267.37 329.66,264.17" fill="#2f298a" stroke="#211b63" stroke-width="0.35"/><polygon points="251.14,267.95 254.84,267.95 252.99,264.75" fill="#2f298a" stroke="#211b63" stroke-width="0.35"/><polygon points="212.70,270.77 216.40,270.77 214.55,267.57" fill="#2f298a" stroke="#211b63" stroke-width="0.35"/><polygon points="320.14,264.59 323.84,264.59 321.99,261.39" fill="#2f298a" stroke="#211b63" stroke-width="0.35"/><polygon points="78.72,264.05 82.42,264.05 80.57,267.25" fill="#2f298a" stroke="#211b63" stroke-width="0.35"/><polygon points="327.45,262.16 331.15,262.16 329.30,258.96" fill="#2f298a" stroke="#211b63" stroke-width="0.35"/><polygon points="255.48,267.06 259.18,267.06 257.33,270.26" fill="#2f298a" stroke="#211b63" stroke-width="0.35"/><polygon points="83.51,272.14 87.21,272.14 85.36,268.94" fill="#2f298a" stroke="#211b63" stroke-width="0.35"/><polygon points="160.15,259.17 163.85,259.17 162.00,262.37" fill="#2f298a" stroke="#211b63" stroke-width="0.35"/><polygon points="102.42,267.96 106.12,267.96 104.27,264.76" fill="#2f298a" stroke="#211b63" stroke-width="0.35"/><polygon points="262.63,267.52 266.33,267.52 264.48,270.72" fill="#2f298a" stroke="#211b63" stroke-width="0.35"/><polygon points="72.73,271.02 76.43,271.02 74.58,267.82" fill="#2f298a" stroke="#211b63" stroke-width="0.35"/><polygon points="199.28,262.11 202.98,262.11 201.13,265.31" fill="#2f298a" stroke="#211b63" stroke-width="0.35"/><polygon points="317.53,272.07 321.23,272.07 319.38,268.87" fill="#2f298a" stroke="#211b63" stroke-width="0.35"/><polygon points="284.50,267.56 288.20,267.56 286.35,270.76" fill="#2f298a" stroke="#211b63" stroke-width="0.35"/><polygon points="86.60,253.57 90.30,253.57 88.45,256.77" fill="#2f298a" stroke="#211b63" stroke-width="0.35"/><polygon points="161.33,260.31 165.03,260.31 163.18,263.51" fill="#2f298a" stroke="#211b63" stroke-width="0.35"/><polygon points="132.18,269.00 135.88,269.00 134.03,265.80" fill="#2f298a" stroke="#211b63" stroke-width="0.35"/><polygon points="60.39,262.32 64.09,262.32 62.24,259.12" fill="#2f298a" stroke="#211b63" stroke-width="0.35"/><polygon points="109.84,255.41 113.54,255.41 111.69,258.61" fill="#2f298a" stroke="#211b63" stroke-width="0.35"/><polygon points="138.67,271.30 142.37,271.30 140.52,268.10" fill="#2f298a" stroke="#211b63" stroke-width="0.35"/><polygon points="132.86,268.84 136.56,268.84 134.71,265.64" fill="#2f298a" stroke="#211b63" stroke-width="0.35"/><polygon points="311.67,265.76 315.37,265.76 313.52,262.56" fill="#2f298a" stroke="#211b63" stroke-width="0.35"/><polygon points="198.88,257.35 202.58,257.35 200.73,260.55" fill="#2f298a" stroke="#211b63" stroke-width="0.35"/><polygon points="62.83,263.69 66.53,263.69 64.68,266.89" fill="#2f298a" stroke="#211b63" stroke-width="0.35"/><polygon points="103.19,266.81 106.89,266.81 105.04,263.61" fill="#2f298a" stroke="#211b63" stroke-width="0.35"/><polygon points="256.07,267.92 259.77,267.92 257.92,271.12" fill="#2f298a" stroke="#211b63" stroke-width="0.35"/><polygon points="235.18,263.00 238.88,263.00 237.03,259.80" fill="#2f298a" stroke="#211b63" stroke-width="0.35"/><polygon points="313.14,265.09 316.84,265.09 314.99,261.89" fill="#2f298a" stroke="#211b63" stroke-width="0.35"/><polygon points="269.96,262.87 273.66,262.87 271.81,266.07" fill="#2f298a" stroke="#211b63" stroke-width="0.35"/><polygon points="275.71,257.42 279.41,257.42 277.56,260.62" fill="#2f298a" stroke="#211b63" stroke-width="0.35"/><polygon points="250.13,266.95 253.83,266.95 251.98,270.15" fill="#2f298a" stroke="#211b63" stroke-width="0.35"/><polygon points="309.80,258.29 313.50,258.29 311.65,261.49" fill="#2f298a" stroke="#211b63" stroke-width="0.35"/><polygon points="326.32,262.62 330.02,262.62 328.17,265.82" fill="#2f298a" stroke="#211b63" stroke-width="0.35"/><polygon points="320.26,265.35 323.96,265.35 322.11,262.15" fill="#2f298a" stroke="#211b63" stroke-width="0.35"/><polygon points="46.44,260.21 50.14,260.21 48.29,257.01" fill="#2f298a" stroke="#211b63" stroke-width="0.35"/><polygon points="249.06,271.24 252.76,271.24 250.91,268.04" fill="#2f298a" stroke="#211b63" stroke-width="0.35"/><polygon points="24.64,264.83 28.34,264.83 26.49,261.63" fill="#2f298a" stroke="#211b63" stroke-width="0.35"/><polygon points="304.60,259.91 308.30,259.91 306.45,263.11" fill="#2f298a" stroke="#211b63" stroke-width="0.35"/><polygon points="91.30,270.20 95.00,270.20 93.15,273.40" fill="#2f298a" stroke="#211b63" stroke-width="0.35"/><polygon points="230.47,258.16 234.17,258.16 232.32,261.36" fill="#2f298a" stroke="#211b63" stroke-width="0.35"/><polygon points="39.03,265.30 42.73,265.30 40.88,268.50" fill="#2f298a" stroke="#211b63" stroke-width="0.35"/><polygon points="52.29,263.90 55.99,263.90 54.14,267.10" fill="#2f298a" stroke="#211b63" stroke-width="0.35"/><polygon points="290.29,262.01 293.99,262.01 292.14,258.81" fill="#2f298a" stroke="#211b63" stroke-width="0.35"/><polygon points="190.24,263.05 193.94,263.05 192.09,266.25" fill="#2f298a" stroke="#211b63" stroke-width="0.35"/><polygon points="253.02,260.81 256.72,260.81 254.87,257.61" fill="#2f298a" stroke="#211b63" stroke-width="0.35"/><polygon points="47.32,251.02 51.02,251.02 49.17,247.82" fill="#2f298a" stroke="#211b63" stroke-width="0.35"/><polygon points="205.60,258.01 209.30,258.01 207.45,254.81" fill="#2f298a" stroke="#211b63" stroke-width="0.35"/><polygon points="184.13,258.64 187.83,258.64 185.98,261.84" fill="#2f298a" stroke="#211b63" stroke-width="0.35"/><polygon points="187.76,263.40 191.46,263.40 189.61,260.20" fill="#2f298a" stroke="#211b63" stroke-width="0.35"/><polygon points="206.82,264.69 210.52,264.69 208.67,261.49" fill="#2f298a" stroke="#211b63" stroke-width="0.35"/><polygon points="136.27,269.38 139.97,269.38 138.12,266.18" fill="#2f298a" stroke="#211b63" stroke-width="0.35"/><polygon points="221.77,266.05 225.47,266.05 223.62,262.85" fill="#2f298a" stroke="#211b63" stroke-width="0.35"/><polygon points="39.28,265.02 42.98,265.02 41.13,261.82" fill="#2f298a" stroke="#211b63" stroke-width="0.35"/><polygon points="203.09,259.37 206.79,259.37 204.94,262.57" fill="#2f298a" stroke="#211b63" stroke-width="0.35"/><polygon points="25.50,259.62 29.20,259.62 27.35,256.42" fill="#2f298a" stroke="#211b63" stroke-width="0.35"/><polygon points="55.18,270.18 58.88,270.18 57.03,266.98" fill="#2f298a" stroke="#211b63" stroke-width="0.35"/><polygon points="51.72,269.15 55.42,269.15 53.57,265.95" fill="#2f298a" stroke="#211b63" stroke-width="0.35"/><polygon points="178.32,262.15 182.02,262.15 180.17,265.35" fill="#2f298a" stroke="#211b63" stroke-width="0.35"/><polygon points="23.37,262.01 27.07,262.01 25.22,258.81" fill="#2f298a" stroke="#211b63" stroke-width="0.35"/><polygon points="164.11,261.65 167.81,261.65 165.96,258.45" fill="#2f298a" stroke="#211b63" stroke-width="0.35"/><polygon points="202.49,263.98 206.19,263.98 204.34,260.78" fill="#2f298a" stroke="#211b63" stroke-width="0.35"/><polygon points="226.30,269.96 230.00,269.96 228.15,273.16" fill="#2f298a" stroke="#211b63" stroke-width="0.35"/><polygon points="72.94,262.15 76.64,262.15 74.79,265.35" fill="#2f298a" stroke="#211b63" stroke-width="0.35"/><polygon points="124.99,261.62 128.69,261.62 126.84,258.42" fill="#2f298a" stroke="#211b63" stroke-width="0.35"/><polygon points="216.02,261.26 219.72,261.26 217.87,264.46" fill="#2f298a" stroke="#211b63" stroke-width="0.35"/><polygon points="328.76,260.61 332.46,260.61 330.61,257.41" fill="#2f298a" stroke="#211b63" stroke-width="0.35"/><polygon points="99.72,265.31 103.42,265.31 101.57,262.11" fill="#2f298a" stroke="#211b63" stroke-width="0.35"/><polygon points="249.66,267.51 253.36,267.51 251.51,270.71" fill="#2f298a" stroke="#211b63" stroke-width="0.35"/><polygon points="150.23,264.23 153.93,264.23 152.08,261.03" fill="#2f298a" stroke="#211b63" stroke-width="0.35"/><polygon points="165.62,265.00 169.32,265.00 167.47,268.20" fill="#2f298a" stroke="#211b63" stroke-width="0.35"/><polygon points="39.11,266.37 42.81,266.37 40.96,269.57" fill="#2f298a" stroke="#211b63" stroke-width="0.35"/><polygon points="122.10,255.98 125.80,255.98 123.95,259.18" fill="#2f298a" stroke="#211b63" stroke-width="0.35"/><polygon points="289.81,264.16 293.51,264.16 291.66,267.36" fill="#2f298a" stroke="#211b63" stroke-width="0.35"/><polygon points="248.05,262.36 251.75,262.36 249.90,265.56" fill="#2f298a" stroke="#211b63" stroke-width="0.35"/><polygon points="29.21,264.80 32.91,264.80 31.06,261.60" fill="#2f298a" stroke="#211b63" stroke-width="0.35"/><polygon points="123.81,265.07 127.51,265.07 125.66,261.87" fill="#2f298a" stroke="#211b63" stroke-width="0.35"/><polygon points="59.64,255.61 63.34,255.61 61.49,258.81" fill="#2f298a" stroke="#211b63" stroke-width="0.35"/><polygon points="314.58,259.91 318.28,259.91 316.43,256.71" fill="#2f298a" stroke="#211b63" stroke-width="0.35"/><polygon points="307.27,264.72 310.97,264.72 309.12,261.52" fill="#2f298a" stroke="#211b63" stroke-width="0.35"/><polygon points="144.58,268.85 148.28,268.85 146.43,265.65" fill="#2f298a" stroke="#211b63" stroke-width="0.35"/><polygon points="136.66,268.66 140.36,268.66 138.51,271.86" fill="#2f298a" stroke="#211b63" stroke-width="0.35"/><polygon points="289.33,267.00 293.03,267.00 291.18,270.20" fill="#2f298a" stroke="#211b63" stroke-width="0.35"/><polygon points="33.14,269.72 36.84,269.72 34.99,266.52" fill="#2f298a" stroke="#211b63" stroke-width="0.35"/><polygon points="199.03,268.22 202.73,268.22 200.88,265.02" fill="#2f298a" stroke="#211b63" stroke-width="0.35"/><polygon points="76.64,261.47 80.34,261.47 78.49,264.67" fill="#2f298a" stroke="#211b63" stroke-width="0.35"/><polygon points="221.70,268.95 225.40,268.95 223.55,272.15" fill="#2f298a" stroke="#211b63" stroke-width="0.35"/><polygon points="188.02,264.77 191.72,264.77 189.87,261.57" fill="#2f298a" stroke="#211b63" stroke-width="0.35"/><polygon points="256.57,267.84 260.27,267.84 258.42,264.64" fill="#2f298a" stroke="#211b63" stroke-width="0.35"/><polygon points="67.65,259.78 71.35,259.78 69.50,262.98" fill="#2f298a" stroke="#211b63" stroke-width="0.35"/><polygon points="187.53,260.29 191.23,260.29 189.38,257.09" fill="#2f298a" stroke="#211b63" stroke-width="0.35"/><polygon points="115.14,255.94 118.84,255.94 116.99,259.14" fill="#2f298a" stroke="#211b63" stroke-width="0.35"/><polygon points="273.62,264.67 277.32,264.67 275.47,267.87" fill="#2f298a" stroke="#211b63" stroke-width="0.35"/><polygon points="115.34,255.25 119.04,255.25 117.19,258.45" fill="#2f298a" stroke="#211b63" stroke-width="0.35"/><polygon points="224.51,271.93 228.21,271.93 226.36,268.73" fill="#2f298a" stroke="#211b63" stroke-width="0.35"/><polygon points="67.19,259.72 70.89,259.72 69.04,262.92" fill="#2f298a" stroke="#211b63" stroke-width="0.35"/><polygon points="216.42,265.87 220.12,265.87 218.27,269.07" fill="#2f298a" stroke="#211b63" stroke-width="0.35"/><polygon points="39.66,263.76 43.36,263.76 41.51,266.96" fill="#2f298a" stroke="#211b63" stroke-width="0.35"/><polygon points="140.78,266.16 144.48,266.16 142.63,262.96" fill="#2f298a" stroke="#211b63" stroke-width="0.35"/><polygon points="51.94,271.76 55.64,271.76 53.79,274.96" fill="#2f298a" stroke="#211b63" stroke-width="0.35"/><polygon points="93.44,268.46 97.14,268.46 95.29,271.66" fill="#2f298a" stroke="#211b63" stroke-width="0.35"/><polygon points="314.10,260.69 317.80,260.69 315.95,263.89" fill="#2f298a" stroke="#211b63" stroke-width="0.35"/><polygon points="113.04,259.66 116.74,259.66 114.89,256.46" fill="#2f298a" stroke="#211b63" stroke-width="0.35"/><polygon points="36.18,268.38 39.88,268.38 38.03,271.58" fill="#2f298a" stroke="#211b63" stroke-width="0.35"/><polygon points="129.68,264.49 133.38,264.49 131.53,261.29" fill="#2f298a" stroke="#211b63" stroke-width="0.35"/><polygon points="231.62,264.99 235.32,264.99 233.47,261.79" fill="#2f298a" stroke="#211b63" stroke-width="0.35"/><polygon points="301.14,257.76 304.84,257.76 302.99,254.56" fill="#2f298a" stroke="#211b63" stroke-width="0.35"/><polygon points="32.21,263.31 35.91,263.31 34.06,260.11" fill="#2f298a" stroke="#211b63" stroke-width="0.35"/><polygon points="51.36,260.57 55.06,260.57 53.21,263.77" fill="#2f298a" stroke="#211b63" stroke-width="0.35"/><polygon points="188.47,259.84 192.17,259.84 190.32,256.64" fill="#2f298a" stroke="#211b63" stroke-width="0.35"/><polygon points="253.87,265.13 257.57,265.13 255.72,261.93" fill="#2f298a" stroke="#211b63" stroke-width="0.35"/><polygon points="228.67,262.60 232.37,262.60 230.52,265.80" fill="#2f298a" stroke="#211b63" stroke-width="0.35"/><polygon points="244.56,265.81 248.26,265.81 246.41,269.01" fill="#2f298a" stroke="#211b63" stroke-width="0.35"/><polygon points="182.10,266.70 185.80,266.70 183.95,263.50" fill="#2f298a" stroke="#211b63" stroke-width="0.35"/><polygon points="140.44,264.25 144.14,264.25 142.29,261.05" fill="#2f298a" stroke="#211b63" stroke-width="0.35"/><polygon points="189.48,266.54 193.18,266.54 191.33,269.74" fill="#2f298a" stroke="#211b63" stroke-width="0.35"/><polygon points="242.15,269.68 245.85,269.68 244.00,266.48" fill="#2f298a" stroke="#211b63" stroke-width="0.35"/><polygon points="226.48,263.63 230.18,263.63 228.33,266.83" fill="#2f298a" stroke="#211b63" stroke-width="0.35"/><polygon points="102.84,257.62 106.54,257.62 104.69,254.42" fill="#2f298a" stroke="#211b63" stroke-width="0.35"/><polygon points="207.02,254.56 210.72,254.56 208.87,257.76" fill="#2f298a" stroke="#211b63" stroke-width="0.35"/><polygon points="183.63,263.73 187.33,263.73 185.48,260.53" fill="#2f298a" stroke="#211b63" stroke-width="0.35"/><polygon points="184.14,256.65 187.84,256.65 185.99,259.85" fill="#2f298a" stroke="#211b63" stroke-width="0.35"/><polygon points="190.63,254.83 194.33,254.83 192.48,258.03" fill="#2f298a" stroke="#211b63" stroke-width="0.35"/><polygon points="85.08,268.31 88.78,268.31 86.93,271.51" fill="#2f298a" stroke="#211b63" stroke-width="0.35"/><polygon points="180.05,268.29 183.75,268.29 181.90,265.09" fill="#2f298a" stroke="#211b63" stroke-width="0.35"/><polygon points="180.64,252.62 184.34,252.62 182.49,255.82" fill="#2f298a" stroke="#211b63" stroke-width="0.35"/><polygon points="276.64,265.79 280.34,265.79 278.49,268.99" fill="#2f298a" stroke="#211b63" stroke-width="0.35"/><polygon points="331.13,265.86 334.83,265.86 332.98,262.66" fill="#2f298a" stroke="#211b63" stroke-width="0.35"/><polygon points="210.04,258.91 213.74,258.91 211.89,255.71" fill="#2f298a" stroke="#211b63" stroke-width="0.35"/><polygon points="146.82,270.23 150.52,270.23 148.67,267.03" fill="#2f298a" stroke="#211b63" stroke-width="0.35"/><polygon points="204.19,257.76 207.89,257.76 206.04,260.96" fill="#2f298a" stroke="#211b63" stroke-width="0.35"/><polygon points="178.55,260.32 182.25,260.32 180.40,263.52" fill="#2f298a" stroke="#211b63" stroke-width="0.35"/><polygon points="225.58,265.01 229.28,265.01 227.43,268.21" fill="#2f298a" stroke="#211b63" stroke-width="0.35"/><polygon points="124.97,263.59 128.67,263.59 126.82,260.39" fill="#2f298a" stroke="#211b63" stroke-width="0.35"/><polygon points="318.77,268.53 322.47,268.53 320.62,265.33" fill="#2f298a" stroke="#211b63" stroke-width="0.35"/><polygon points="315.96,255.58 319.66,255.58 317.81,252.38" fill="#2f298a" stroke="#211b63" stroke-width="0.35"/><polygon points="184.12,265.60 187.82,265.60 185.97,268.80" fill="#2f298a" stroke="#211b63" stroke-width="0.35"/><polygon points="151.39,263.34 155.09,263.34 153.24,266.54" fill="#2f298a" stroke="#211b63" stroke-width="0.35"/><polygon points="307.90,261.46 311.60,261.46 309.75,258.26" fill="#2f298a" stroke="#211b63" stroke-width="0.35"/><polygon points="278.35,257.38 282.05,257.38 280.20,260.58" fill="#2f298a" stroke="#211b63" stroke-width="0.35"/><polygon points="69.33,251.98 73.03,251.98 71.18,248.78" fill="#2f298a" stroke="#211b63" stroke-width="0.35"/><polygon points="146.50,263.51 150.20,263.51 148.35,266.71" fill="#2f298a" stroke="#211b63" stroke-width="0.35"/><polygon points="41.06,260.71 44.76,260.71 42.91,257.51" fill="#2f298a" stroke="#211b63" stroke-width="0.35"/><polygon points="33.72,269.53 37.42,269.53 35.57,266.33" fill="#2f298a" stroke="#211b63" stroke-width="0.35"/><polygon points="164.37,248.84 168.07,248.84 166.22,252.04" fill="#2f298a" stroke="#211b63" stroke-width="0.35"/><polygon points="263.33,259.15 267.03,259.15 265.18,262.35" fill="#2f298a" stroke="#211b63" stroke-width="0.35"/><polygon points="304.48,259.12 308.18,259.12 306.33,255.92" fill="#2f298a" stroke="#211b63" stroke-width="0.35"/><polygon points="284.36,263.65 288.06,263.65 286.21,260.45" fill="#2f298a" stroke="#211b63" stroke-width="0.35"/><polygon points="214.27,262.59 217.97,262.59 216.12,265.79" fill="#2f298a" stroke="#211b63" stroke-width="0.35"/><polygon points="89.63,260.85 93.33,260.85 91.48,264.05" fill="#2f298a" stroke="#211b63" stroke-width="0.35"/><polygon points="308.37,262.23 312.07,262.23 310.22,259.03" fill="#2f298a" stroke="#211b63" stroke-width="0.35"/><polygon points="220.34,261.24 224.04,261.24 222.19,264.44" fill="#2f298a" stroke="#211b63" stroke-width="0.35"/><polygon points="108.52,261.48 112.22,261.48 110.37,264.68" fill="#2f298a" stroke="#211b63" stroke-width="0.35"/><polygon points="85.72,262.86 89.42,262.86 87.57,266.06" fill="#2f298a" stroke="#211b63" stroke-width="0.35"/><polygon points="33.55,259.97 37.25,259.97 35.40,263.17" fill="#2f298a" stroke="#211b63" stroke-width="0.35"/><polygon points="132.40,263.77 136.10,263.77 134.25,260.57" fill="#2f298a" stroke="#211b63" stroke-width="0.35"/><polygon points="316.19,267.09 319.89,267.09 318.04,270.29" fill="#2f298a" stroke="#211b63" stroke-width="0.35"/><polygon points="115.01,259.96 118.71,259.96 116.86,263.16" fill="#2f298a" stroke="#211b63" stroke-width="0.35"/><polygon points="62.56,262.83 66.26,262.83 64.41,266.03" fill="#2f298a" stroke="#211b63" stroke-width="0.35"/><polygon points="89.58,271.42 93.28,271.42 91.43,268.22" fill="#2f298a" stroke="#211b63" stroke-width="0.35"/><polygon points="32.45,266.09 36.15,266.09 34.30,262.89" fill="#2f298a" stroke="#211b63" stroke-width="0.35"/><polygon points="324.08,268.66 327.78,268.66 325.93,265.46" fill="#2f298a" stroke="#211b63" stroke-width="0.35"/><polygon points="94.99,265.09 98.69,265.09 96.84,268.29" fill="#2f298a" stroke="#211b63" stroke-width="0.35"/><polygon points="306.31,261.59 310.01,261.59 308.16,264.79" fill="#2f298a" stroke="#211b63" stroke-width="0.35"/><polygon points="208.57,258.14 212.27,258.14 210.42,254.94" fill="#2f298a" stroke="#211b63" stroke-width="0.35"/><polygon points="64.40,269.12 68.10,269.12 66.25,265.92" fill="#2f298a" stroke="#211b63" stroke-width="0.35"/><polygon points="175.43,261.20 179.13,261.20 177.28,264.40" fill="#2f298a" stroke="#211b63" stroke-width="0.35"/><polygon points="100.39,253.46 104.09,253.46 102.24,256.66" fill="#2f298a" stroke="#211b63" stroke-width="0.35"/><polygon points="215.44,271.16 219.14,271.16 217.29,267.96" fill="#2f298a" stroke="#211b63" stroke-width="0.35"/><polygon points="28.34,257.69 32.04,257.69 30.19,254.49" fill="#2f298a" stroke="#211b63" stroke-width="0.35"/><polygon points="102.54,262.62 106.24,262.62 104.39,259.42" fill="#2f298a" stroke="#211b63" stroke-width="0.35"/><polygon points="167.11,264.86 170.81,264.86 168.96,261.66" fill="#2f298a" stroke="#211b63" stroke-width="0.35"/><polygon points="202.80,260.13 206.50,260.13 204.65,263.33" fill="#2f298a" stroke="#211b63" stroke-width="0.35"/><polygon points="335.70,258.93 339.40,258.93 337.55,262.13" fill="#2f298a" stroke="#211b63" stroke-width="0.35"/><polygon points="287.42,261.73 291.12,261.73 289.27,258.53" fill="#2f298a" stroke="#211b63" stroke-width="0.35"/><polygon points="154.43,263.51 158.13,263.51 156.28,260.31" fill="#2f298a" stroke="#211b63" stroke-width="0.35"/><polygon points="65.18,261.76 68.88,261.76 67.03,264.96" fill="#2f298a" stroke="#211b63" stroke-width="0.35"/><polygon points="160.09,267.93 163.79,267.93 161.94,264.73" fill="#2f298a" stroke="#211b63" stroke-width="0.35"/><polygon points="132.24,262.68 135.94,262.68 134.09,259.48" fill="#2f298a" stroke="#211b63" stroke-width="0.35"/><polygon points="295.41,253.44 299.11,253.44 297.26,250.24" fill="#2f298a" stroke="#211b63" stroke-width="0.35"/><polygon points="105.23,263.29 108.93,263.29 107.08,266.49" fill="#2f298a" stroke="#211b63" stroke-width="0.35"/><polygon points="220.52,254.72 224.22,254.72 222.37,257.92" fill="#2f298a" stroke="#211b63" stroke-width="0.35"/><polygon points="187.04,262.32 190.74,262.32 188.89,265.52" fill="#2f298a" stroke="#211b63" stroke-width="0.35"/><polygon points="81.47,272.91 85.17,272.91 83.32,269.71" fill="#2f298a" stroke="#211b63" stroke-width="0.35"/><polygon points="282.83,259.29 286.53,259.29 284.68,262.49" fill="#2f298a" stroke="#211b63" stroke-width="0.35"/><polygon points="141.79,269.18 145.49,269.18 143.64,265.98" fill="#2f298a" stroke="#211b63" stroke-width="0.35"/><polygon points="296.42,263.71 300.12,263.71 298.27,260.51" fill="#2f298a" stroke="#211b63" stroke-width="0.35"/><polygon points="111.78,261.99 115.48,261.99 113.63,265.19" fill="#2f298a" stroke="#211b63" stroke-width="0.35"/><polygon points="42.71,263.58 46.41,263.58 44.56,266.78" fill="#2f298a" stroke="#211b63" stroke-width="0.35"/><polygon points="77.38,263.45 81.08,263.45 79.23,260.25" fill="#2f298a" stroke="#211b63" stroke-width="0.35"/><polygon points="334.81,260.70 338.51,260.70 336.66,263.90" fill="#2f298a" stroke="#211b63" stroke-width="0.35"/><polygon points="160.85,258.84 164.55,258.84 162.70,262.04" fill="#2f298a" stroke="#211b63" stroke-width="0.35"/><polygon points="233.48,267.42 237.18,267.42 235.33,270.62" fill="#2f298a" stroke="#211b63" stroke-width="0.35"/><polygon points="81.20,261.94 84.90,261.94 83.05,258.74" fill="#2f298a" stroke="#211b63" stroke-width="0.35"/><polygon points="192.33,265.16 196.03,265.16 194.18,268.36" fill="#2f298a" stroke="#211b63" stroke-width="0.35"/><polygon points="113.23,262.90 116.93,262.90 115.08,266.10" fill="#2f298a" stroke="#211b63" stroke-width="0.35"/><polygon points="77.46,274.51 81.16,274.51 79.31,271.31" fill="#2f298a" stroke="#211b63" stroke-width="0.35"/><polygon points="63.34,266.73 67.04,266.73 65.19,263.53" fill="#2f298a" stroke="#211b63" stroke-width="0.35"/><polygon points="108.76,259.48 112.46,259.48 110.61,256.28" fill="#2f298a" stroke="#211b63" stroke-width="0.35"/><polygon points="128.61,262.17 132.31,262.17 130.46,258.97" fill="#2f298a" stroke="#211b63" stroke-width="0.35"/><polygon points="37.77,252.11 41.47,252.11 39.62,255.31" fill="#2f298a" stroke="#211b63" stroke-width="0.35"/><polygon points="163.05,257.65 166.75,257.65 164.90,254.45" fill="#2f298a" stroke="#211b63" stroke-width="0.35"/><polygon points="155.01,260.41 158.71,260.41 156.86,263.61" fill="#2f298a" stroke="#211b63" stroke-width="0.35"/><polygon points="251.94,267.27 255.64,267.27 253.79,270.47" fill="#2f298a" stroke="#211b63" stroke-width="0.35"/><polygon points="298.53,255.90 302.23,255.90 300.38,252.70" fill="#2f298a" stroke="#211b63" stroke-width="0.35"/><polygon points="231.92,268.52 235.62,268.52 233.77,265.32" fill="#2f298a" stroke="#211b63" stroke-width="0.35"/><polygon points="137.34,266.46 141.04,266.46 139.19,269.66" fill="#2f298a" stroke="#211b63" stroke-width="0.35"/><polygon points="329.86,261.13 333.56,261.13 331.71,257.93" fill="#2f298a" stroke="#211b63" stroke-width="0.35"/><polygon points="311.02,265.89 314.72,265.89 312.87,262.69" fill="#2f298a" stroke="#211b63" stroke-width="0.35"/><polygon points="297.95,257.44 301.65,257.44 299.80,254.24" fill="#2f298a" stroke="#211b63" stroke-width="0.35"/><polygon points="206.31,255.15 210.01,255.15 208.16,258.35" fill="#2f298a" stroke="#211b63" stroke-width="0.35"/><polygon points="327.97,260.50 331.67,260.50 329.82,257.30" fill="#2f298a" stroke="#211b63" stroke-width="0.35"/><polygon points="164.16,260.87 167.86,260.87 166.01,264.07" fill="#2f298a" stroke="#211b63" stroke-width="0.35"/><polygon points="248.00,272.61 251.70,272.61 249.85,269.41" fill="#2f298a" stroke="#211b63" stroke-width="0.35"/><polygon points="87.66,266.80 91.36,266.80 89.51,270.00" fill="#2f298a" stroke="#211b63" stroke-width="0.35"/><polygon points="81.30,269.48 85.00,269.48 83.15,266.28" fill="#2f298a" stroke="#211b63" stroke-width="0.35"/><polygon points="292.00,266.24 295.70,266.24 293.85,263.04" fill="#2f298a" stroke="#211b63" stroke-width="0.35"/><polygon points="335.78,261.52 339.48,261.52 337.63,258.32" fill="#2f298a" stroke="#211b63" stroke-width="0.35"/><polygon points="198.32,261.58 202.02,261.58 200.17,264.78" fill="#2f298a" stroke="#211b63" stroke-width="0.35"/><polygon points="58.31,268.44 62.01,268.44 60.16,265.24" fill="#2f298a" stroke="#211b63" stroke-width="0.35"/><polygon points="210.45,266.31 214.15,266.31 212.30,263.11" fill="#2f298a" stroke="#211b63" stroke-width="0.35"/><polygon points="135.17,262.09 138.87,262.09 137.02,258.89" fill="#2f298a" stroke="#211b63" stroke-width="0.35"/><polygon points="265.38,265.69 269.08,265.69 267.23,262.49" fill="#2f298a" stroke="#211b63" stroke-width="0.35"/><polygon points="106.05,264.70 109.75,264.70 107.90,261.50" fill="#2f298a" stroke="#211b63" stroke-width="0.35"/><polygon points="178.07,267.16 181.77,267.16 179.92,263.96" fill="#2f298a" stroke="#211b63" stroke-width="0.35"/><polygon points="76.52,269.93 80.22,269.93 78.37,266.73" fill="#2f298a" stroke="#211b63" stroke-width="0.35"/><polygon points="201.87,262.95 205.57,262.95 203.72,259.75" fill="#2f298a" stroke="#211b63" stroke-width="0.35"/><polygon points="295.63,255.95 299.33,255.95 297.48,259.15" fill="#2f298a" stroke="#211b63" stroke-width="0.35"/><polygon points="310.69,263.00 314.39,263.00 312.54,266.20" fill="#2f298a" stroke="#211b63" stroke-width="0.35"/><polygon points="173.28,265.50 176.98,265.50 175.13,262.30" fill="#2f298a" stroke="#211b63" stroke-width="0.35"/><polygon points="234.19,264.63 237.89,264.63 236.04,261.43" fill="#2f298a" stroke="#211b63" stroke-width="0.35"/><polygon points="176.47,264.21 180.17,264.21 178.32,261.01" fill="#2f298a" stroke="#211b63" stroke-width="0.35"/><polygon points="38.49,265.42 42.19,265.42 40.34,268.62" fill="#2f298a" stroke="#211b63" stroke-width="0.35"/><polygon points="316.38,262.58 320.08,262.58 318.23,265.78" fill="#2f298a" stroke="#211b63" stroke-width="0.35"/><polygon points="214.16,262.61 217.86,262.61 216.01,265.81" fill="#2f298a" stroke="#211b63" stroke-width="0.35"/><polygon points="186.49,261.16 190.19,261.16 188.34,264.36" fill="#2f298a" stroke="#211b63" stroke-width="0.35"/><polygon points="202.03,260.86 205.73,260.86 203.88,257.66" fill="#2f298a" stroke="#211b63" stroke-width="0.35"/><polygon points="277.46,264.87 281.16,264.87 279.31,268.07" fill="#2f298a" stroke="#211b63" stroke-width="0.35"/><polygon points="41.89,265.63 45.59,265.63 43.74,268.83" fill="#2f298a" stroke="#211b63" stroke-width="0.35"/><polygon points="189.96,257.45 193.66,257.45 191.81,260.65" fill="#2f298a" stroke="#211b63" stroke-width="0.35"/><polygon points="310.58,258.20 314.28,258.20 312.43,255.00" fill="#2f298a" stroke="#211b63" stroke-width="0.35"/><polygon points="56.25,266.24 59.95,266.24 58.10,263.04" fill="#2f298a" stroke="#211b63" stroke-width="0.35"/><polygon points="241.07,271.43 244.77,271.43 242.92,268.23" fill="#2f298a" stroke="#211b63" stroke-width="0.35"/><polygon points="66.32,251.00 70.02,251.00 68.17,254.20" fill="#2f298a" stroke="#211b63" stroke-width="0.35"/><polygon points="239.26,270.14 242.96,270.14 241.11,273.34" fill="#2f298a" stroke="#211b63" stroke-width="0.35"/><polygon points="329.78,265.76 333.48,265.76 331.63,262.56" fill="#2f298a" stroke="#211b63" stroke-width="0.35"/><polygon points="31.79,266.91 35.49,266.91 33.64,263.71" fill="#2f298a" stroke="#211b63" stroke-width="0.35"/><polygon points="121.89,267.98 125.59,267.98 123.74,264.78" fill="#2f298a" stroke="#211b63" stroke-width="0.35"/><polygon points="30.02,257.18 33.72,257.18 31.87,260.38" fill="#2f298a" stroke="#211b63" stroke-width="0.35"/><polygon points="41.37,264.58 45.07,264.58 43.22,267.78" fill="#2f298a" stroke="#211b63" stroke-width="0.35"/><polygon points="331.39,257.44 335.09,257.44 333.24,260.64" fill="#2f298a" stroke="#211b63" stroke-width="0.35"/><polygon points="77.39,272.67 81.09,272.67 79.24,269.47" fill="#2f298a" stroke="#211b63" stroke-width="0.35"/><polygon points="107.49,264.63 111.19,264.63 109.34,261.43" fill="#2f298a" stroke="#211b63" stroke-width="0.35"/><polygon points="39.69,266.13 43.39,266.13 41.54,269.33" fill="#2f298a" stroke="#211b63" stroke-width="0.35"/><polygon points="76.12,271.14 79.82,271.14 77.97,267.94" fill="#2f298a" stroke="#211b63" stroke-width="0.35"/><polygon points="199.40,265.03 203.10,265.03 201.25,268.23" fill="#2f298a" stroke="#211b63" stroke-width="0.35"/><polygon points="206.15,262.88 209.85,262.88 208.00,259.68" fill="#2f298a" stroke="#211b63" stroke-width="0.35"/><polygon points="292.50,257.17 296.20,257.17 294.35,260.37" fill="#2f298a" stroke="#211b63" stroke-width="0.35"/><polygon points="260.33,270.00 264.03,270.00 262.18,266.80" fill="#2f298a" stroke="#211b63" stroke-width="0.35"/><polygon points="238.98,273.19 242.68,273.19 240.83,269.99" fill="#2f298a" stroke="#211b63" stroke-width="0.35"/><polygon points="196.11,261.45 199.81,261.45 197.96,258.25" fill="#2f298a" stroke="#211b63" stroke-width="0.35"/><polygon points="189.73,266.76 193.43,266.76 191.58,263.56" fill="#2f298a" stroke="#211b63" stroke-width="0.35"/><polygon points="278.65,267.12 282.35,267.12 280.50,263.92" fill="#2f298a" stroke="#211b63" stroke-width="0.35"/><polygon points="97.24,265.02 100.94,265.02 99.09,261.82" fill="#2f298a" stroke="#211b63" stroke-width="0.35"/><polygon points="88.88,257.71 92.58,257.71 90.73,260.91" fill="#2f298a" stroke="#211b63" stroke-width="0.35"/><polygon points="271.96,262.48 275.66,262.48 273.81,259.28" fill="#2f298a" stroke="#211b63" stroke-width="0.35"/><polygon points="236.02,260.42 239.72,260.42 237.87,257.22" fill="#2f298a" stroke="#211b63" stroke-width="0.35"/><polygon points="289.88,256.01 293.58,256.01 291.73,259.21" fill="#2f298a" stroke="#211b63" stroke-width="0.35"/><polygon points="92.38,268.51 96.08,268.51 94.23,271.71" fill="#2f298a" stroke="#211b63" stroke-width="0.35"/><polygon points="276.58,261.22 280.28,261.22 278.43,264.42" fill="#2f298a" stroke="#211b63" stroke-width="0.35"/><polygon points="254.67,267.29 258.37,267.29 256.52,264.09" fill="#2f298a" stroke="#211b63" stroke-width="0.35"/><polygon points="164.84,264.87 168.54,264.87 166.69,268.07" fill="#2f298a" stroke="#211b63" stroke-width="0.35"/><polygon points="279.71,262.08 283.41,262.08 281.56,265.28" fill="#2f298a" stroke="#211b63" stroke-width="0.35"/><polygon points="299.72,257.96 303.42,257.96 301.57,261.16" fill="#2f298a" stroke="#211b63" stroke-width="0.35"/><polygon points="319.72,269.21 323.42,269.21 321.57,272.41" fill="#2f298a" stroke="#211b63" stroke-width="0.35"/>
<polygon points="214.26,270.93 217.41,270.93 215.83,273.66" fill="#ffffff" stroke="none" stroke-width="0.35"/>
<polygon points="105.84,270.76 108.29,270.76 107.07,272.88" fill="#ffffff" stroke="none" stroke-width="0.35"/>
<polygon points="29.93,263.53 32.82,263.53 31.38,266.03" fill="#ffffff" stroke="none" stroke-width="0.35"/>
<polygon points="288.91,271.83 291.39,271.83 290.15,269.69" fill="#ffffff" stroke="none" stroke-width="0.35"/>
<polygon points="145.48,270.94 147.95,270.94 146.71,268.81" fill="#ffffff" stroke="none" stroke-width="0.35"/>
<polygon points="71.44,265.77 74.57,265.77 73.00,268.48" fill="#ffffff" stroke="none" stroke-width="0.35"/>
<polygon points="35.53,267.36 38.02,267.36 36.78,269.51" fill="#ffffff" stroke="none" stroke-width="0.35"/>
<polygon points="271.89,270.82 274.62,270.82 273.26,268.46" fill="#ffffff" stroke="none" stroke-width="0.35"/>
<polygon points="245.11,273.87 248.42,273.87 246.76,271.01" fill="#ffffff" stroke="none" stroke-width="0.35"/>
<polygon points="146.04,270.36 148.07,270.36 147.05,268.61" fill="#ffffff" stroke="none" stroke-width="0.35"/>
<polygon points="85.39,274.96 88.59,274.96 86.99,272.19" fill="#ffffff" stroke="none" stroke-width="0.35"/>
<polygon points="273.16,266.60 275.12,266.60 274.14,268.28" fill="#ffffff" stroke="none" stroke-width="0.35"/>
<polygon points="155.32,275.24 158.42,275.24 156.87,272.55" fill="#ffffff" stroke="none" stroke-width="0.35"/>
<polygon points="194.35,269.55 197.41,269.55 195.88,272.19" fill="#ffffff" stroke="none" stroke-width="0.35"/>
<polygon points="98.23,272.09 101.00,272.09 99.61,269.70" fill="#ffffff" stroke="none" stroke-width="0.35"/>
<polygon points="273.20,268.60 275.26,268.60 274.23,266.81" fill="#ffffff" stroke="none" stroke-width="0.35"/>
<polygon points="68.50,272.96 70.57,272.96 69.54,274.75" fill="#ffffff" stroke="none" stroke-width="0.35"/>
<polygon points="55.83,265.82 58.81,265.82 57.32,268.40" fill="#ffffff" stroke="none" stroke-width="0.35"/>
<polygon points="185.35,268.69 187.55,268.69 186.45,266.78" fill="#ffffff" stroke="none" stroke-width="0.35"/>
<polygon points="193.27,264.10 196.25,264.10 194.76,266.68" fill="#ffffff" stroke="none" stroke-width="0.35"/>
<polygon points="146.76,272.39 149.44,272.39 148.10,274.71" fill="#ffffff" stroke="none" stroke-width="0.35"/>
<polygon points="34.98,271.99 38.01,271.99 36.49,269.37" fill="#ffffff" stroke="none" stroke-width="0.35"/>
<polygon points="202.43,272.69 204.65,272.69 203.54,270.77" fill="#ffffff" stroke="none" stroke-width="0.35"/>
<polygon points="96.25,268.09 98.78,268.09 97.52,270.27" fill="#ffffff" stroke="none" stroke-width="0.35"/>
<polygon points="326.26,270.68 328.53,270.68 327.40,272.64" fill="#ffffff" stroke="none" stroke-width="0.35"/>
<polygon points="255.16,267.24 258.47,267.24 256.81,270.10" fill="#ffffff" stroke="none" stroke-width="0.35"/>
<polygon points="58.00,273.75 60.36,273.75 59.18,271.72" fill="#ffffff" stroke="none" stroke-width="0.35"/>
<polygon points="144.50,269.62 147.02,269.62 145.76,271.80" fill="#ffffff" stroke="none" stroke-width="0.35"/>
<polygon points="137.00,267.01 139.61,267.01 138.30,269.27" fill="#ffffff" stroke="none" stroke-width="0.35"/>
<polygon points="334.15,265.45 336.82,265.45 335.48,263.13" fill="#ffffff" stroke="none" stroke-width="0.35"/>
<polygon points="302.44,271.35 304.39,271.35 303.41,273.04" fill="#ffffff" stroke="none" stroke-width="0.35"/>
<polygon points="175.60,269.13 177.70,269.13 176.65,270.94" fill="#ffffff" stroke="none" stroke-width="0.35"/>
<polygon points="154.09,272.72 156.61,272.72 155.35,270.54" fill="#ffffff" stroke="none" stroke-width="0.35"/>
<polygon points="164.49,271.96 167.44,271.96 165.96,274.51" fill="#ffffff" stroke="none" stroke-width="0.35"/>
<polygon points="212.17,272.15 214.15,272.15 213.16,273.85" fill="#ffffff" stroke="none" stroke-width="0.35"/>
<polygon points="183.48,267.22 186.45,267.22 184.96,264.65" fill="#ffffff" stroke="none" stroke-width="0.35"/>
<polygon points="313.56,263.03 316.52,263.03 315.04,265.58" fill="#ffffff" stroke="none" stroke-width="0.35"/>
<polygon points="324.66,270.78 327.41,270.78 326.04,273.16" fill="#ffffff" stroke="none" stroke-width="0.35"/>
<polygon points="326.64,268.36 329.01,268.36 327.83,266.32" fill="#ffffff" stroke="none" stroke-width="0.35"/>
<polygon points="331.19,274.16 333.30,274.16 332.24,272.34" fill="#ffffff" stroke="none" stroke-width="0.35"/>
<polygon points="199.93,265.05 202.81,265.05 201.37,267.54" fill="#ffffff" stroke="none" stroke-width="0.35"/>
<polygon points="267.38,267.14 270.08,267.14 268.73,269.48" fill="#ffffff" stroke="none" stroke-width="0.35"/>
<polygon points="252.98,272.51 255.10,272.51 254.04,270.67" fill="#ffffff" stroke="none" stroke-width="0.35"/>
<polygon points="95.23,271.18 98.00,271.18 96.62,273.58" fill="#ffffff" stroke="none" stroke-width="0.35"/>
<polygon points="300.16,263.57 302.55,263.57 301.36,265.64" fill="#ffffff" stroke="none" stroke-width="0.35"/>
<polygon points="26.02,263.78 28.98,263.78 27.50,261.22" fill="#ffffff" stroke="none" stroke-width="0.35"/>
<polygon points="29.52,262.22 32.48,262.22 31.00,264.78" fill="#ffffff" stroke="none" stroke-width="0.35"/>
<polygon points="27.52,269.28 30.48,269.28 29.00,266.72" fill="#ffffff" stroke="none" stroke-width="0.35"/>
<polygon points="31.52,270.28 34.48,270.28 33.00,267.72" fill="#ffffff" stroke="none" stroke-width="0.35"/>
<polygon points="36.52,266.72 39.48,266.72 38.00,269.28" fill="#ffffff" stroke="none" stroke-width="0.35"/>
<polygon points="41.02,269.72 43.98,269.72 42.50,272.28" fill="#ffffff" stroke="none" stroke-width="0.35"/>
<polygon points="28.52,273.28 31.48,273.28 30.00,270.72" fill="#ffffff" stroke="none" stroke-width="0.35"/>
<polygon points="43.52,264.22 46.48,264.22 45.00,266.78" fill="#ffffff" stroke="none" stroke-width="0.35"/>
<polygon points="46.52,271.28 49.48,271.28 48.00,268.72" fill="#ffffff" stroke="none" stroke-width="0.35"/>
<polygon points="60.52,267.28 63.48,267.28 62.00,264.72" fill="#ffffff" stroke="none" stroke-width="0.35"/>
<polygon points="62.02,267.22 64.98,267.22 63.50,269.78" fill="#ffffff" stroke="none" stroke-width="0.35"/>
<polygon points="66.52,262.72 69.48,262.72 68.00,265.28" fill="#ffffff" stroke="none" stroke-width="0.35"/>
<polygon points="182.95,226.20 186.65,226.20 184.80,223.00" fill="#2f298a" stroke="#211b63" stroke-width="0.35"/>
<polygon points="208.95,235.70 212.65,235.70 210.80,232.50" fill="#2f298a" stroke="#211b63" stroke-width="0.35"/>
<polygon points="192.45,242.10 196.15,242.10 194.30,238.90" fill="#2f298a" stroke="#211b63" stroke-width="0.35"/>
<polygon points="195.15,242.60 198.85,242.60 197.00,239.40" fill="#2f298a" stroke="#211b63" stroke-width="0.35"/>
<polygon points="195.65,243.60 199.35,243.60 197.50,240.40" fill="#2f298a" stroke="#211b63" stroke-width="0.35"/>
<polygon points="203.15,243.10 206.85,243.10 205.00,239.90" fill="#2f298a" stroke="#211b63" stroke-width="0.35"/>
<polygon points="281.55,252.40 285.25,252.40 283.40,255.60" fill="#2f298a" stroke="#211b63" stroke-width="0.35"/>
<polygon points="295.15,252.30 298.85,252.30 297.00,249.10" fill="#2f298a" stroke="#211b63" stroke-width="0.35"/>
<polygon points="273.95,248.60 277.65,248.60 275.80,245.40" fill="#2f298a" stroke="#211b63" stroke-width="0.35"/>
<polygon points="273.65,251.60 277.35,251.60 275.50,248.40" fill="#2f298a" stroke="#211b63" stroke-width="0.35"/>
<polygon points="274.65,254.60 278.35,254.60 276.50,251.40" fill="#2f298a" stroke="#211b63" stroke-width="0.35"/>
<polygon points="270.65,256.60 274.35,256.60 272.50,253.40" fill="#2f298a" stroke="#211b63" stroke-width="0.35"/>
<polygon points="76.15,252.40 79.85,252.40 78.00,255.60" fill="#2f298a" stroke="#211b63" stroke-width="0.35"/>
<polygon points="100.15,248.40 103.85,248.40 102.00,251.60" fill="#2f298a" stroke="#211b63" stroke-width="0.35"/>
<polygon points="100.15,251.40 103.85,251.40 102.00,254.60" fill="#2f298a" stroke="#211b63" stroke-width="0.35"/>
<polygon points="109.15,249.40 112.85,249.40 111.00,252.60" fill="#2f298a" stroke="#211b63" stroke-width="0.35"/>
<polygon points="111.15,254.60 114.85,254.60 113.00,251.40" fill="#2f298a" stroke="#211b63" stroke-width="0.35"/>
<polygon points="248.15,262.60 251.85,262.60 250.00,259.40" fill="#2f298a" stroke="#211b63" stroke-width="0.35"/>
<polygon points="257.65,255.40 261.35,255.40 259.50,258.60" fill="#2f298a" stroke="#211b63" stroke-width="0.35"/>
<polygon points="241.15,256.40 244.85,256.40 243.00,259.60" fill="#2f298a" stroke="#211b63" stroke-width="0.35"/>
<polygon points="223.15,261.60 226.85,261.60 225.00,258.40" fill="#2f298a" stroke="#211b63" stroke-width="0.35"/>
<polygon points="322.15,259.60 325.85,259.60 324.00,256.40" fill="#2f298a" stroke="#211b63" stroke-width="0.35"/>
<polygon points="129.15,253.60 132.85,253.60 131.00,250.40" fill="#2f298a" stroke="#211b63" stroke-width="0.35"/>
<polygon points="168.15,254.60 171.85,254.60 170.00,251.40" fill="#2f298a" stroke="#211b63" stroke-width="0.35"/>
<polygon points="183.15,252.40 186.85,252.40 185.00,255.60" fill="#2f298a" stroke="#211b63" stroke-width="0.35"/>
<polygon points="201.15,251.40 204.85,251.40 203.00,254.60" fill="#2f298a" stroke="#211b63" stroke-width="0.35"/>
<polygon points="58.15,259.60 61.85,259.60 60.00,256.40" fill="#2f298a" stroke="#211b63" stroke-width="0.35"/>
<polygon points="40.15,258.60 43.85,258.60 42.00,255.40" fill="#2f298a" stroke="#211b63" stroke-width="0.35"/>
<polygon points="67.15,256.60 70.85,256.60 69.00,253.40" fill="#2f298a" stroke="#211b63" stroke-width="0.35"/>
<polygon points="69.15,256.60 72.85,256.60 71.00,253.40" fill="#2f298a" stroke="#211b63" stroke-width="0.35"/>
<polygon points="199.15,251.60 202.85,251.60 201.00,248.40" fill="#2f298a" stroke="#211b63" stroke-width="0.35"/>
<polygon points="201.65,251.40 205.35,251.40 203.50,254.60" fill="#2f298a" stroke="#211b63" stroke-width="0.35"/>
<polygon points="204.15,247.40 207.85,247.40 206.00,250.60" fill="#2f298a" stroke="#211b63" stroke-width="0.35"/>
<polygon points="206.65,253.60 210.35,253.60 208.50,250.40" fill="#2f298a" stroke="#211b63" stroke-width="0.35"/>
<polygon points="209.15,245.40 212.85,245.40 211.00,248.60" fill="#2f298a" stroke="#211b63" stroke-width="0.35"/>
<polygon points="198.65,254.40 202.35,254.40 200.50,257.60" fill="#2f298a" stroke="#211b63" stroke-width="0.35"/>
<polygon points="202.15,259.60 205.85,259.60 204.00,256.40" fill="#2f298a" stroke="#211b63" stroke-width="0.35"/>
<polygon points="207.15,255.40 210.85,255.40 209.00,258.60" fill="#2f298a" stroke="#211b63" stroke-width="0.35"/>
<polygon points="86.15,254.40 89.85,254.40 88.00,257.60" fill="#2f298a" stroke="#211b63" stroke-width="0.35"/>
<polygon points="148.15,258.60 151.85,258.60 150.00,255.40" fill="#2f298a" stroke="#211b63" stroke-width="0.35"/>
<polygon points="158.15,253.40 161.85,253.40 160.00,256.60" fill="#2f298a" stroke="#211b63" stroke-width="0.35"/>
<polygon points="188.15,253.60 191.85,253.60 190.00,250.40" fill="#2f298a" stroke="#211b63" stroke-width="0.35"/>
<polygon points="330.15,253.60 333.85,253.60 332.00,250.40" fill="#2f298a" stroke="#211b63" stroke-width="0.35"/>
<polygon points="333.15,254.60 336.85,254.60 335.00,251.40" fill="#2f298a" stroke="#211b63" stroke-width="0.35"/>
<polygon points="213.15,250.40 216.85,250.40 215.00,253.60" fill="#2f298a" stroke="#211b63" stroke-width="0.35"/>
<polygon points="235.15,252.40 238.85,252.40 237.00,255.60" fill="#2f298a" stroke="#211b63" stroke-width="0.35"/>
<polygon points="195.47,231.06 199.53,231.06 197.50,227.54" fill="#29acd2" stroke="#17708c" stroke-width="0.5"/>
<polygon points="191.77,233.26 195.84,233.26 193.80,229.74" fill="#29acd2" stroke="#17708c" stroke-width="0.5"/>
<polygon points="190.66,235.86 194.73,235.86 192.70,232.34" fill="#29acd2" stroke="#17708c" stroke-width="0.5"/>
<polygon points="193.37,236.36 197.44,236.36 195.40,232.84" fill="#29acd2" stroke="#17708c" stroke-width="0.5"/>
<polygon points="195.97,236.96 200.03,236.96 198.00,233.44" fill="#29acd2" stroke="#17708c" stroke-width="0.5"/>
<polygon points="198.66,239.06 202.73,239.06 200.70,235.54" fill="#29acd2" stroke="#17708c" stroke-width="0.5"/>
<polygon points="202.37,236.36 206.44,236.36 204.40,232.84" fill="#29acd2" stroke="#17708c" stroke-width="0.5"/>
<polygon points="203.47,238.56 207.53,238.56 205.50,235.04" fill="#29acd2" stroke="#17708c" stroke-width="0.5"/>
<polygon points="200.77,240.66 204.84,240.66 202.80,237.14" fill="#29acd2" stroke="#17708c" stroke-width="0.5"/>
<polygon points="200.27,243.26 204.34,243.26 202.30,239.74" fill="#29acd2" stroke="#17708c" stroke-width="0.5"/>
<polygon points="200.77,246.46 204.84,246.46 202.80,242.94" fill="#29acd2" stroke="#17708c" stroke-width="0.5"/>
<polygon points="206.06,245.46 210.13,245.46 208.10,241.94" fill="#29acd2" stroke="#17708c" stroke-width="0.5"/>
<polygon points="207.66,242.26 211.73,242.26 209.70,238.74" fill="#29acd2" stroke="#17708c" stroke-width="0.5"/>
<polygon points="208.27,226.86 212.34,226.86 210.30,223.34" fill="#29acd2" stroke="#17708c" stroke-width="0.5"/>
<polygon points="208.77,231.66 212.84,231.66 210.80,228.14" fill="#29acd2" stroke="#17708c" stroke-width="0.5"/>
<polygon points="208.77,233.26 212.84,233.26 210.80,229.74" fill="#29acd2" stroke="#17708c" stroke-width="0.5"/>
<polygon points="197.47,234.26 201.53,234.26 199.50,230.74" fill="#29acd2" stroke="#17708c" stroke-width="0.5"/>
<polygon points="194.47,239.76 198.53,239.76 196.50,236.24" fill="#29acd2" stroke="#17708c" stroke-width="0.5"/>
<polygon points="204.97,240.76 209.03,240.76 207.00,237.24" fill="#29acd2" stroke="#17708c" stroke-width="0.5"/>
<polygon points="118.77,257.96 122.83,257.96 120.80,254.44" fill="#29acd2" stroke="#17708c" stroke-width="0.5"/>
<polygon points="176.77,247.76 180.84,247.76 178.80,244.24" fill="#29acd2" stroke="#17708c" stroke-width="0.5"/>
<polygon points="136.37,265.96 140.44,265.96 138.40,262.44" fill="#29acd2" stroke="#17708c" stroke-width="0.5"/>
<polygon points="152.37,263.06 156.44,263.06 154.40,259.54" fill="#29acd2" stroke="#17708c" stroke-width="0.5"/>
<polygon points="165.56,264.46 169.63,264.46 167.60,260.94" fill="#29acd2" stroke="#17708c" stroke-width="0.5"/>
<polygon points="163.37,266.76 167.44,266.76 165.40,263.24" fill="#29acd2" stroke="#17708c" stroke-width="0.5"/>
<polygon points="148.77,271.76 152.84,271.76 150.80,268.24" fill="#29acd2" stroke="#17708c" stroke-width="0.5"/>
<polygon points="239.77,231.56 243.84,231.56 241.80,228.04" fill="#29acd2" stroke="#17708c" stroke-width="0.5"/>
<polygon points="288.16,249.26 292.24,249.26 290.20,245.74" fill="#29acd2" stroke="#17708c" stroke-width="0.5"/>
<polygon points="290.26,250.36 294.34,250.36 292.30,246.84" fill="#29acd2" stroke="#17708c" stroke-width="0.5"/>
<polygon points="298.66,250.16 302.74,250.16 300.70,246.64" fill="#29acd2" stroke="#17708c" stroke-width="0.5"/>
<polygon points="176.97,247.86 181.03,247.86 179.00,244.34" fill="#29acd2" stroke="#17708c" stroke-width="0.5"/>
<polygon points="138.27,252.26 142.34,252.26 140.30,248.74" fill="#29acd2" stroke="#17708c" stroke-width="0.5"/>
<polygon points="70.47,257.96 74.53,257.96 72.50,254.44" fill="#29acd2" stroke="#17708c" stroke-width="0.5"/>
<polygon points="79.27,265.96 83.33,265.96 81.30,262.44" fill="#29acd2" stroke="#17708c" stroke-width="0.5"/>
<polygon points="81.47,267.46 85.53,267.46 83.50,263.94" fill="#29acd2" stroke="#17708c" stroke-width="0.5"/>
<polygon points="83.97,267.26 88.03,267.26 86.00,263.74" fill="#29acd2" stroke="#17708c" stroke-width="0.5"/>
<polygon points="86.56,268.16 90.63,268.16 88.60,264.64" fill="#29acd2" stroke="#17708c" stroke-width="0.5"/>
<polygon points="101.97,258.66 106.03,258.66 104.00,255.14" fill="#29acd2" stroke="#17708c" stroke-width="0.5"/>
<polygon points="105.56,264.46 109.63,264.46 107.60,260.94" fill="#29acd2" stroke="#17708c" stroke-width="0.5"/>
<polygon points="111.37,254.26 115.44,254.26 113.40,250.74" fill="#29acd2" stroke="#17708c" stroke-width="0.5"/>
<polygon points="112.17,255.26 116.23,255.26 114.20,251.74" fill="#29acd2" stroke="#17708c" stroke-width="0.5"/>
<polygon points="106.97,271.06 111.03,271.06 109.00,267.54" fill="#29acd2" stroke="#17708c" stroke-width="0.5"/>
<polygon points="198.97,237.76 203.03,237.76 201.00,234.24" fill="#29acd2" stroke="#17708c" stroke-width="0.5"/>
<polygon points="196.97,241.76 201.03,241.76 199.00,238.24" fill="#29acd2" stroke="#17708c" stroke-width="0.5"/>
<polygon points="203.97,243.76 208.03,243.76 206.00,240.24" fill="#29acd2" stroke="#17708c" stroke-width="0.5"/>
<polygon points="191.97,238.76 196.03,238.76 194.00,235.24" fill="#29acd2" stroke="#17708c" stroke-width="0.5"/>
<polygon points="201.47,233.76 205.53,233.76 203.50,230.24" fill="#29acd2" stroke="#17708c" stroke-width="0.5"/>
<polygon points="193.97,232.76 198.03,232.76 196.00,229.24" fill="#29acd2" stroke="#17708c" stroke-width="0.5"/>
<polygon points="206.97,237.76 211.03,237.76 209.00,234.24" fill="#29acd2" stroke="#17708c" stroke-width="0.5"/>
<polygon points="208.97,235.76 213.03,235.76 211.00,232.24" fill="#29acd2" stroke="#17708c" stroke-width="0.5"/>
<polygon points="209.97,244.26 214.03,244.26 212.00,240.74" fill="#29acd2" stroke="#17708c" stroke-width="0.5"/>
<polygon points="196.97,231.26 201.03,231.26 199.00,227.74" fill="#29acd2" stroke="#17708c" stroke-width="0.5"/>
<polygon points="200.97,237.76 205.03,237.76 203.00,234.24" fill="#29acd2" stroke="#17708c" stroke-width="0.5"/>
<polygon points="202.47,241.26 206.53,241.26 204.50,237.74" fill="#29acd2" stroke="#17708c" stroke-width="0.5"/>
<polygon points="195.97,239.26 200.03,239.26 198.00,235.74" fill="#29acd2" stroke="#17708c" stroke-width="0.5"/>
<polygon points="205.47,243.26 209.53,243.26 207.50,239.74" fill="#29acd2" stroke="#17708c" stroke-width="0.5"/>
<polygon points="177.37,241.36 181.44,241.36 179.40,237.84" fill="#29acd2" stroke="#17708c" stroke-width="0.5"/>
<polygon points="143.85,245.10 147.55,245.10 145.70,241.90" fill="#6dbe45" stroke="#3f8a2a" stroke-width="0.35"/>
<polygon points="154.75,244.60 158.45,244.60 156.60,241.40" fill="#6dbe45" stroke="#3f8a2a" stroke-width="0.35"/>
<polygon points="136.55,253.80 140.25,253.80 138.40,250.60" fill="#6dbe45" stroke="#3f8a2a" stroke-width="0.35"/>
<polygon points="138.65,252.40 142.35,252.40 140.50,249.20" fill="#6dbe45" stroke="#3f8a2a" stroke-width="0.35"/>
<polygon points="142.35,251.20 146.05,251.20 144.20,248.00" fill="#6dbe45" stroke="#3f8a2a" stroke-width="0.35"/>
<polygon points="146.45,250.80 150.15,250.80 148.30,247.60" fill="#6dbe45" stroke="#3f8a2a" stroke-width="0.35"/>
<polygon points="162.05,251.20 165.75,251.20 163.90,248.00" fill="#6dbe45" stroke="#3f8a2a" stroke-width="0.35"/>
<polygon points="163.55,252.40 167.25,252.40 165.40,249.20" fill="#6dbe45" stroke="#3f8a2a" stroke-width="0.35"/>
<polygon points="176.95,238.80 180.65,238.80 178.80,235.60" fill="#6dbe45" stroke="#3f8a2a" stroke-width="0.35"/>
<polygon points="177.35,239.60 181.05,239.60 179.20,236.40" fill="#6dbe45" stroke="#3f8a2a" stroke-width="0.35"/>
<polygon points="192.45,242.10 196.15,242.10 194.30,238.90" fill="#2f298a" stroke="#211b63" stroke-width="0.35"/>
<polygon points="195.15,242.60 198.85,242.60 197.00,239.40" fill="#2f298a" stroke="#211b63" stroke-width="0.35"/>
<polygon points="195.65,243.90 199.35,243.90 197.50,240.70" fill="#2f298a" stroke="#211b63" stroke-width="0.35"/>
<polygon points="203.15,243.10 206.85,243.10 205.00,239.90" fill="#2f298a" stroke="#211b63" stroke-width="0.35"/>
<polygon points="208.95,235.70 212.65,235.70 210.80,232.50" fill="#2f298a" stroke="#211b63" stroke-width="0.35"/>
<polygon points="179.05,213.10 182.75,213.10 180.90,209.90" fill="#f2b31b" stroke="#c98f00" stroke-width="0.35"/>
<polygon points="185.19,211.80 189.81,211.80 187.50,207.80" fill="#e0a512" stroke="#111" stroke-width="0.7"/>
<polygon points="179.4,196.2 181.7,199.3 179.4,202.5 177.1,199.3" fill="#8b3a9f" stroke="#6d2a80" stroke-width="0.3"/>
<text x="181.8" y="195.5" font-size="6.3" fill="#333" textLength="26.0" lengthAdjust="spacingAndGlyphs">rs3211916</text>
<text x="150.0" y="218.2" font-size="6.3" fill="#333" textLength="27.3" lengthAdjust="spacingAndGlyphs">rs3211938</text>
<text x="148.7" y="224.5" font-size="6.3" fill="#333" textLength="30.3" lengthAdjust="spacingAndGlyphs">(stop-gain)</text>
<line x1="22.40" y1="311.50" x2="40.20" y2="311.50" stroke="#35399b" stroke-width="1.0"/>
<text x="21.8" y="308.9" font-size="7.0" fill="#333" font-style="italic" textLength="15.7" lengthAdjust="spacingAndGlyphs">GNAI1</text>
<line x1="38.60" y1="306.60" x2="41.90" y2="306.60" stroke="#444" stroke-width="0.6"/>
<polygon points="39.90,305.50 42.20,306.60 39.90,307.70" fill="#444"/>
<text x="121.3" y="306.8" font-size="7.0" fill="#333" textLength="14.7" lengthAdjust="spacingAndGlyphs">CD36</text>
<line x1="137.00" y1="304.50" x2="140.80" y2="304.50" stroke="#444" stroke-width="0.6"/>
<polygon points="138.80,303.40 141.10,304.50 138.80,305.60" fill="#444"/>
<line x1="111.30" y1="321.30" x2="115.20" y2="321.30" stroke="#444" stroke-width="0.6"/>
<polygon points="113.30,320.20 111.00,321.30 113.30,322.40" fill="#444"/>
<text x="116.0" y="323.6" font-size="7.0" fill="#333" font-style="italic" textLength="18.7" lengthAdjust="spacingAndGlyphs">GNAT3</text>
<line x1="216.90" y1="305.20" x2="220.80" y2="305.20" stroke="#444" stroke-width="0.6"/>
<polygon points="218.90,304.10 216.60,305.20 218.90,306.30" fill="#444"/>
<text x="221.6" y="307.5" font-size="7.0" fill="#333" font-style="italic" textLength="22.9" lengthAdjust="spacingAndGlyphs">SEMA3C</text>
<line x1="85.10" y1="311.90" x2="183.80" y2="311.90" stroke="#35399b" stroke-width="1.0"/>
<line x1="85.50" y1="309.30" x2="85.50" y2="314.30" stroke="#35399b" stroke-width="0.8"/>
<line x1="122.50" y1="309.30" x2="122.50" y2="314.30" stroke="#35399b" stroke-width="0.8"/>
<line x1="141.50" y1="309.30" x2="141.50" y2="314.30" stroke="#35399b" stroke-width="0.8"/>
<line x1="173.50" y1="309.30" x2="173.50" y2="314.30" stroke="#35399b" stroke-width="0.8"/>
<line x1="176.00" y1="309.30" x2="176.00" y2="314.30" stroke="#35399b" stroke-width="0.8"/>
<line x1="177.60" y1="309.30" x2="177.60" y2="314.30" stroke="#35399b" stroke-width="0.8"/>
<line x1="178.60" y1="309.30" x2="178.60" y2="314.30" stroke="#35399b" stroke-width="0.8"/>
<line x1="180.00" y1="309.30" x2="180.00" y2="314.30" stroke="#35399b" stroke-width="0.8"/>
<line x1="181.00" y1="309.30" x2="181.00" y2="314.30" stroke="#35399b" stroke-width="0.8"/>
<line x1="182.00" y1="309.30" x2="182.00" y2="314.30" stroke="#35399b" stroke-width="0.8"/>
<line x1="203.20" y1="311.90" x2="260.80" y2="311.90" stroke="#35399b" stroke-width="1.0"/>
<rect x="203.20" y="309.50" width="1.60" height="4.80" fill="#35399b"/>
<rect x="205.60" y="309.50" width="1.40" height="4.80" fill="#35399b"/>
<rect x="208.30" y="309.80" width="2.60" height="4.20" fill="#6a6fb8"/>
<line x1="218.00" y1="309.30" x2="218.00" y2="314.30" stroke="#35399b" stroke-width="0.8"/>
<line x1="220.60" y1="309.30" x2="220.60" y2="314.30" stroke="#35399b" stroke-width="0.8"/>
<line x1="221.60" y1="309.30" x2="221.60" y2="314.30" stroke="#35399b" stroke-width="0.8"/>
<line x1="222.60" y1="309.30" x2="222.60" y2="314.30" stroke="#35399b" stroke-width="0.8"/>
<line x1="223.70" y1="309.30" x2="223.70" y2="314.30" stroke="#35399b" stroke-width="0.8"/>
<line x1="225.70" y1="309.30" x2="225.70" y2="314.30" stroke="#35399b" stroke-width="0.8"/>
<line x1="227.80" y1="309.30" x2="227.80" y2="314.30" stroke="#35399b" stroke-width="0.8"/>
<line x1="230.50" y1="309.30" x2="230.50" y2="314.30" stroke="#35399b" stroke-width="0.8"/>
<line x1="113.30" y1="327.70" x2="130.80" y2="327.70" stroke="#35399b" stroke-width="1.0"/>
<line x1="113.50" y1="325.40" x2="113.50" y2="330.00" stroke="#35399b" stroke-width="0.7"/>
<line x1="114.60" y1="325.40" x2="114.60" y2="330.00" stroke="#35399b" stroke-width="0.7"/>
<line x1="116.60" y1="325.40" x2="116.60" y2="330.00" stroke="#35399b" stroke-width="0.7"/>
<line x1="119.00" y1="325.40" x2="119.00" y2="330.00" stroke="#35399b" stroke-width="0.7"/>
<line x1="121.40" y1="325.40" x2="121.40" y2="330.00" stroke="#35399b" stroke-width="0.7"/>
<line x1="123.60" y1="325.40" x2="123.60" y2="330.00" stroke="#35399b" stroke-width="0.7"/>
<line x1="125.60" y1="325.40" x2="125.60" y2="330.00" stroke="#35399b" stroke-width="0.7"/>
<line x1="130.50" y1="325.40" x2="130.50" y2="330.00" stroke="#35399b" stroke-width="0.7"/>
<text x="509.0" y="14.0" font-size="8.0" fill="#2a2a2a" textLength="16.0" lengthAdjust="spacingAndGlyphs">DCM</text>
<text x="364.8" y="22.0" font-size="8.0" fill="#2a2a2a" textLength="19.4" lengthAdjust="spacingAndGlyphs">Study</text>
<text x="414.9" y="21.9" font-size="8.0" fill="#2a2a2a" textLength="44.5" lengthAdjust="spacingAndGlyphs">Case/control</text>
<text x="597.6" y="22.2" font-size="8.0" fill="#2a2a2a" textLength="40.7" lengthAdjust="spacingAndGlyphs">OR [95% CI]</text>
<text x="655.5" y="22.2" font-size="8.0" fill="#2a2a2a" textLength="23.3" lengthAdjust="spacingAndGlyphs"><tspan font-style="italic">P</tspan> value</text>
<line x1="362.20" y1="25.00" x2="685.00" y2="25.00" stroke="#cdcdcd" stroke-width="1.6"/>
<text x="365.0" y="31.5" font-size="7.8" fill="#959595" textLength="10.8" lengthAdjust="spacingAndGlyphs">T/G</text>
<line x1="362.20" y1="33.50" x2="685.00" y2="33.50" stroke="#8c8c8c" stroke-width="1.0"/>
<text x="364.6" y="43.1" font-size="8.1" fill="#2a2a2a" textLength="15.8" lengthAdjust="spacingAndGlyphs">MVP</text>
<text x="417.7" y="43.1" font-size="8.1" fill="#2a2a2a" textLength="38.9" lengthAdjust="spacingAndGlyphs">340/14,820</text>
<text x="594.2" y="42.7" font-size="8.1" fill="#2a2a2a" textLength="46.8" lengthAdjust="spacingAndGlyphs">1.25 [1.11, 1.41]</text>
<text x="649.6" y="42.7" font-size="8.0" fill="#2a2a2a" textLength="36.9" lengthAdjust="spacingAndGlyphs">2.98<tspan font-size="5.5"> × </tspan>10<tspan font-size="4.6" dy="-3.2">–4</tspan></text>
<text x="364.6" y="54.0" font-size="8.1" fill="#2a2a2a" textLength="19.3" lengthAdjust="spacingAndGlyphs">PMBB</text>
<text x="423.0" y="54.0" font-size="8.1" fill="#2a2a2a" textLength="28.7" lengthAdjust="spacingAndGlyphs">68/1,681</text>
<text x="591.1" y="53.6" font-size="8.1" fill="#2a2a2a" textLength="53.4" lengthAdjust="spacingAndGlyphs">1.26 [0.96, 1.65]</text>
<text x="651.0" y="53.6" font-size="8.0" fill="#2a2a2a" textLength="33.0" lengthAdjust="spacingAndGlyphs">1.01<tspan font-size="5.5"> × </tspan>10<tspan font-size="4.6" dy="-3.2">–1</tspan></text>
<text x="364.6" y="65.5" font-size="8.1" fill="#2a2a2a" textLength="46.1" lengthAdjust="spacingAndGlyphs">Meta-analysis</text>
<text x="418.4" y="65.5" font-size="8.1" fill="#2a2a2a" textLength="37.8" lengthAdjust="spacingAndGlyphs">408/16,501</text>
<text x="592.8" y="65.1" font-size="8.1" fill="#2a2a2a" textLength="49.6" lengthAdjust="spacingAndGlyphs">1.25 [1.12, 1.39]</text>
<text x="651.0" y="65.1" font-size="8.0" fill="#2a2a2a" textLength="34.0" lengthAdjust="spacingAndGlyphs">5.13<tspan font-size="5.5"> × </tspan>10<tspan font-size="4.6" dy="-3.2">–5</tspan></text>
<line x1="362.20" y1="70.90" x2="685.00" y2="70.90" stroke="#cdcdcd" stroke-width="1.6"/>
<text x="363.8" y="78.1" font-size="7.8" fill="#959595" textLength="14.0" lengthAdjust="spacingAndGlyphs">G/G</text>
<line x1="362.20" y1="79.50" x2="685.00" y2="79.50" stroke="#8c8c8c" stroke-width="1.0"/>
<text x="364.6" y="88.6" font-size="8.1" fill="#2a2a2a" textLength="15.8" lengthAdjust="spacingAndGlyphs">MVP</text>
<text x="424.7" y="88.6" font-size="8.1" fill="#2a2a2a" textLength="25.2" lengthAdjust="spacingAndGlyphs">30/633</text>
<text x="590.8" y="88.6" font-size="8.1" fill="#2a2a2a" textLength="54.1" lengthAdjust="spacingAndGlyphs">2.70 [1.85, 3.94]</text>
<text x="650.7" y="88.6" font-size="8.0" fill="#2a2a2a" textLength="32.8" lengthAdjust="spacingAndGlyphs">2.31<tspan font-size="5.5"> × </tspan>10<tspan font-size="4.6" dy="-3.2">–7</tspan></text>
<text x="364.6" y="100.0" font-size="8.1" fill="#2a2a2a" textLength="19.3" lengthAdjust="spacingAndGlyphs">PMBB</text>
<text x="429.4" y="100.0" font-size="8.1" fill="#2a2a2a" textLength="15.8" lengthAdjust="spacingAndGlyphs">8/84</text>
<text x="590.8" y="100.0" font-size="8.1" fill="#2a2a2a" textLength="54.1" lengthAdjust="spacingAndGlyphs">2.89 [1.37, 6.08]</text>
<text x="650.7" y="100.0" font-size="8.0" fill="#2a2a2a" textLength="32.8" lengthAdjust="spacingAndGlyphs">5.18<tspan font-size="5.5"> × </tspan>10<tspan font-size="4.6" dy="-3.2">–3</tspan></text>
<text x="364.6" y="111.9" font-size="8.1" fill="#2a2a2a" textLength="46.1" lengthAdjust="spacingAndGlyphs">Meta-analysis</text>
<text x="425.9" y="111.9" font-size="8.1" fill="#2a2a2a" textLength="22.3" lengthAdjust="spacingAndGlyphs">38/717</text>
<text x="590.8" y="111.9" font-size="8.1" fill="#2a2a2a" textLength="54.1" lengthAdjust="spacingAndGlyphs">2.74 [1.96, 3.83]</text>
<text x="650.7" y="111.9" font-size="8.0" fill="#2a2a2a" textLength="32.8" lengthAdjust="spacingAndGlyphs">4.21<tspan font-size="5.5"> × </tspan>10<tspan font-size="4.6" dy="-3.2">–3</tspan></text>
<line x1="477.3" y1="33.6" x2="477.3" y2="115.4" stroke="#555" stroke-width="0.7" stroke-dasharray="1,1.3"/>
<line x1="481.33" y1="40.30" x2="492.04" y2="40.30" stroke="#8a8a8a" stroke-width="0.7"/>
<line x1="481.33" y1="39.10" x2="481.33" y2="41.50" stroke="#8a8a8a" stroke-width="0.7"/>
<line x1="492.04" y1="39.10" x2="492.04" y2="41.50" stroke="#8a8a8a" stroke-width="0.7"/>
<rect x="484.12" y="38.10" width="4.40" height="4.40" fill="#231f20"/>
<line x1="475.97" y1="52.00" x2="500.60" y2="52.00" stroke="#bdbdbd" stroke-width="0.7"/>
<line x1="475.97" y1="50.80" x2="475.97" y2="53.20" stroke="#bdbdbd" stroke-width="0.7"/>
<line x1="500.60" y1="50.80" x2="500.60" y2="53.20" stroke="#bdbdbd" stroke-width="0.7"/>
<rect x="485.88" y="51.20" width="1.60" height="1.60" fill="#231f20"/>
<line x1="481.68" y1="63.40" x2="491.32" y2="63.40" stroke="#8a8a8a" stroke-width="0.7"/>
<line x1="481.68" y1="62.20" x2="481.68" y2="64.60" stroke="#8a8a8a" stroke-width="0.7"/>
<line x1="491.32" y1="62.20" x2="491.32" y2="64.60" stroke="#8a8a8a" stroke-width="0.7"/>
<rect x="483.82" y="60.90" width="5.00" height="5.00" fill="#231f20"/>
<line x1="507.75" y1="86.50" x2="582.36" y2="86.50" stroke="#8a8a8a" stroke-width="0.7"/>
<line x1="507.75" y1="85.30" x2="507.75" y2="87.70" stroke="#8a8a8a" stroke-width="0.7"/>
<line x1="582.36" y1="85.30" x2="582.36" y2="87.70" stroke="#8a8a8a" stroke-width="0.7"/>
<rect x="536.09" y="84.50" width="4.00" height="4.00" fill="#231f20"/>
<line x1="490.61" y1="98.10" x2="576.00" y2="98.10" stroke="#bdbdbd" stroke-width="0.7"/>
<line x1="490.61" y1="96.90" x2="490.61" y2="99.30" stroke="#bdbdbd" stroke-width="0.7"/>
<polygon points="575,96.6 585,98.1 575,99.6" fill="#111"/>
<rect x="544.07" y="97.30" width="1.60" height="1.60" fill="#231f20"/>
<line x1="511.67" y1="109.50" x2="578.43" y2="109.50" stroke="#8a8a8a" stroke-width="0.7"/>
<line x1="511.67" y1="108.30" x2="511.67" y2="110.70" stroke="#8a8a8a" stroke-width="0.7"/>
<line x1="578.43" y1="108.30" x2="578.43" y2="110.70" stroke="#8a8a8a" stroke-width="0.7"/>
<rect x="537.02" y="107.00" width="5.00" height="5.00" fill="#231f20"/>
<line x1="459.60" y1="115.50" x2="584.60" y2="115.50" stroke="#555" stroke-width="0.7"/>
<line x1="459.55" y1="115.50" x2="459.55" y2="117.60" stroke="#555" stroke-width="0.7"/>
<text x="455.1" y="125.6" font-size="6.8" fill="#3a3a3a" textLength="8.9" lengthAdjust="spacingAndGlyphs">0.5</text>
<line x1="477.40" y1="115.50" x2="477.40" y2="117.60" stroke="#555" stroke-width="0.7"/>
<text x="476.0" y="125.6" font-size="6.8" fill="#3a3a3a" textLength="2.8" lengthAdjust="spacingAndGlyphs">1</text>
<line x1="513.10" y1="115.50" x2="513.10" y2="117.60" stroke="#555" stroke-width="0.7"/>
<text x="511.7" y="125.6" font-size="6.8" fill="#3a3a3a" textLength="2.8" lengthAdjust="spacingAndGlyphs">2</text>
<line x1="548.80" y1="115.50" x2="548.80" y2="117.60" stroke="#555" stroke-width="0.7"/>
<text x="547.4" y="125.6" font-size="6.8" fill="#3a3a3a" textLength="2.8" lengthAdjust="spacingAndGlyphs">3</text>
<line x1="584.50" y1="115.50" x2="584.50" y2="117.60" stroke="#555" stroke-width="0.7"/>
<text x="583.1" y="125.6" font-size="6.8" fill="#3a3a3a" textLength="2.8" lengthAdjust="spacingAndGlyphs">4</text>
<text x="461.0" y="136.2" font-size="8.0" fill="#333" textLength="116.9" lengthAdjust="spacingAndGlyphs">OR [95% CI] (versus T/T genotype)</text>
<text x="491.9" y="170.9" font-size="8.0" fill="#2a2a2a" textLength="27.0" lengthAdjust="spacingAndGlyphs">LV traits</text>
<text x="367.0" y="176.9" font-size="8.0" fill="#2a2a2a" textLength="14.6" lengthAdjust="spacingAndGlyphs">Trait</text>
<text x="406.8" y="176.9" font-size="8.0" fill="#2a2a2a" font-style="italic" textLength="4.4" lengthAdjust="spacingAndGlyphs">n</text>
<text x="577.6" y="177.1" font-size="8.0" fill="#2a2a2a" textLength="49.4" lengthAdjust="spacingAndGlyphs">Effect [95% CI]</text>
<text x="648.0" y="177.1" font-size="8.0" fill="#2a2a2a" textLength="24.0" lengthAdjust="spacingAndGlyphs"><tspan font-style="italic">P</tspan> value</text>
<line x1="365.00" y1="180.50" x2="680.00" y2="180.50" stroke="#9a9a9a" stroke-width="1.0"/>
<text x="367.0" y="187.7" font-size="7.8" fill="#959595" textLength="12.0" lengthAdjust="spacingAndGlyphs">T/G</text>
<line x1="365.00" y1="188.50" x2="680.00" y2="188.50" stroke="#8a8a8a" stroke-width="1.0"/>
<text x="367.0" y="195.9" font-size="8.1" fill="#2a2a2a" textLength="15.7" lengthAdjust="spacingAndGlyphs">LVEF</text>
<text x="403.2" y="195.9" font-size="8.1" fill="#2a2a2a" textLength="11.7" lengthAdjust="spacingAndGlyphs">277</text>
<text x="572.7" y="195.9" font-size="8.1" fill="#2a2a2a" textLength="62.2" lengthAdjust="spacingAndGlyphs">–0.12 [–0.25, 0.01]</text>
<text x="642.7" y="195.9" font-size="8.0" fill="#2a2a2a" textLength="33.9" lengthAdjust="spacingAndGlyphs">6.74<tspan font-size="5.5"> × </tspan>10<tspan font-size="4.6" dy="-3.2">–2</tspan></text>
<text x="367.0" y="209.5" font-size="8.1" fill="#2a2a2a" textLength="23.5" lengthAdjust="spacingAndGlyphs">LVESVi</text>
<text x="403.2" y="209.5" font-size="8.1" fill="#2a2a2a" textLength="11.7" lengthAdjust="spacingAndGlyphs">276</text>
<text x="576.4" y="209.5" font-size="8.1" fill="#2a2a2a" textLength="54.5" lengthAdjust="spacingAndGlyphs">0.17 [0.03, 0.31]</text>
<text x="642.7" y="209.5" font-size="8.0" fill="#2a2a2a" textLength="33.9" lengthAdjust="spacingAndGlyphs">1.53<tspan font-size="5.5"> × </tspan>10<tspan font-size="4.6" dy="-3.2">–2</tspan></text>
<text x="367.0" y="222.7" font-size="8.1" fill="#2a2a2a" textLength="23.5" lengthAdjust="spacingAndGlyphs">LVEDVi</text>
<text x="403.2" y="222.7" font-size="8.1" fill="#2a2a2a" textLength="11.7" lengthAdjust="spacingAndGlyphs">276</text>
<text x="576.4" y="222.7" font-size="8.1" fill="#2a2a2a" textLength="54.5" lengthAdjust="spacingAndGlyphs">0.14 [0.01, 0.27]</text>
<text x="642.7" y="222.7" font-size="8.0" fill="#2a2a2a" textLength="33.9" lengthAdjust="spacingAndGlyphs">3.98<tspan font-size="5.5"> × </tspan>10<tspan font-size="4.6" dy="-3.2">–2</tspan></text>
<text x="367.0" y="236.1" font-size="8.1" fill="#2a2a2a" textLength="16.2" lengthAdjust="spacingAndGlyphs">LVMi</text>
<text x="403.2" y="236.1" font-size="8.1" fill="#2a2a2a" textLength="11.7" lengthAdjust="spacingAndGlyphs">277</text>
<text x="571.8" y="236.1" font-size="8.1" fill="#2a2a2a" textLength="64.0" lengthAdjust="spacingAndGlyphs">–0.03 [–0.14, 0.08]</text>
<text x="642.7" y="236.1" font-size="8.0" fill="#2a2a2a" textLength="33.9" lengthAdjust="spacingAndGlyphs">5.75<tspan font-size="5.5"> × </tspan>10<tspan font-size="4.6" dy="-3.2">–1</tspan></text>
<line x1="365.00" y1="240.50" x2="680.00" y2="240.50" stroke="#a5a5a5" stroke-width="1.0"/>
<text x="367.0" y="247.4" font-size="7.8" fill="#959595" textLength="12.0" lengthAdjust="spacingAndGlyphs">G/G</text>
<line x1="365.00" y1="248.50" x2="680.00" y2="248.50" stroke="#8f8f8f" stroke-width="1.0"/>
<text x="367.0" y="256.5" font-size="8.1" fill="#2a2a2a" textLength="15.7" lengthAdjust="spacingAndGlyphs">LVEF</text>
<text x="405.2" y="256.5" font-size="8.1" fill="#2a2a2a" textLength="7.3" lengthAdjust="spacingAndGlyphs">15</text>
<text x="572.0" y="256.5" font-size="8.1" fill="#2a2a2a" textLength="64.0" lengthAdjust="spacingAndGlyphs">–1.02 [–1.36, –0.68]</text>
<text x="642.8" y="256.5" font-size="8.0" fill="#2a2a2a" textLength="34.2" lengthAdjust="spacingAndGlyphs">6.25<tspan font-size="5.5"> × </tspan>10<tspan font-size="4.6" dy="-3.2">–9</tspan></text>
<text x="367.0" y="269.6" font-size="8.1" fill="#2a2a2a" textLength="23.5" lengthAdjust="spacingAndGlyphs">LVESVi</text>
<text x="405.2" y="269.6" font-size="8.1" fill="#2a2a2a" textLength="7.3" lengthAdjust="spacingAndGlyphs">15</text>
<text x="576.9" y="269.6" font-size="8.1" fill="#2a2a2a" textLength="54.1" lengthAdjust="spacingAndGlyphs">1.35 [0.86, 1.84]</text>
<text x="642.8" y="269.6" font-size="8.0" fill="#2a2a2a" textLength="34.2" lengthAdjust="spacingAndGlyphs">7.05<tspan font-size="5.5"> × </tspan>10<tspan font-size="4.6" dy="-3.2">–6</tspan></text>
<text x="367.0" y="282.4" font-size="8.1" fill="#2a2a2a" textLength="23.5" lengthAdjust="spacingAndGlyphs">LVEDVi</text>
<text x="405.2" y="282.4" font-size="8.1" fill="#2a2a2a" textLength="7.3" lengthAdjust="spacingAndGlyphs">15</text>
<text x="578.9" y="282.4" font-size="8.1" fill="#2a2a2a" textLength="49.8" lengthAdjust="spacingAndGlyphs">1.01 [0.51, 1.51]</text>
<text x="642.8" y="282.4" font-size="8.0" fill="#2a2a2a" textLength="34.2" lengthAdjust="spacingAndGlyphs">8.15<tspan font-size="5.5"> × </tspan>10<tspan font-size="4.6" dy="-3.2">–5</tspan></text>
<text x="367.0" y="294.6" font-size="8.1" fill="#2a2a2a" textLength="16.2" lengthAdjust="spacingAndGlyphs">LVMi</text>
<text x="405.2" y="294.6" font-size="8.1" fill="#2a2a2a" textLength="7.3" lengthAdjust="spacingAndGlyphs">15</text>
<text x="576.9" y="294.6" font-size="8.1" fill="#2a2a2a" textLength="54.1" lengthAdjust="spacingAndGlyphs">0.59 [0.16, 1.02]</text>
<text x="642.8" y="294.6" font-size="8.0" fill="#2a2a2a" textLength="34.2" lengthAdjust="spacingAndGlyphs">6.70<tspan font-size="5.5"> × </tspan>10<tspan font-size="4.6" dy="-3.2">–3</tspan></text>
<line x1="492.7" y1="188.8" x2="492.7" y2="298.8" stroke="#999" stroke-width="0.7" stroke-dasharray="1,1.2"/>
<line x1="483.82" y1="193.70" x2="493.06" y2="193.70" stroke="#8a8a8a" stroke-width="0.7"/>
<line x1="483.82" y1="192.50" x2="483.82" y2="194.90" stroke="#8a8a8a" stroke-width="0.7"/>
<line x1="493.06" y1="192.50" x2="493.06" y2="194.90" stroke="#8a8a8a" stroke-width="0.7"/>
<rect x="486.84" y="192.10" width="3.20" height="3.20" fill="#231f20"/>
<line x1="493.76" y1="207.40" x2="503.70" y2="207.40" stroke="#8a8a8a" stroke-width="0.7"/>
<line x1="493.76" y1="206.20" x2="493.76" y2="208.60" stroke="#8a8a8a" stroke-width="0.7"/>
<line x1="503.70" y1="206.20" x2="503.70" y2="208.60" stroke="#8a8a8a" stroke-width="0.7"/>
<rect x="497.84" y="206.50" width="1.80" height="1.80" fill="#231f20"/>
<line x1="493.06" y1="220.80" x2="502.28" y2="220.80" stroke="#8a8a8a" stroke-width="0.7"/>
<line x1="493.06" y1="219.60" x2="493.06" y2="222.00" stroke="#8a8a8a" stroke-width="0.7"/>
<line x1="502.28" y1="219.60" x2="502.28" y2="222.00" stroke="#8a8a8a" stroke-width="0.7"/>
<rect x="496.27" y="219.40" width="2.80" height="2.80" fill="#231f20"/>
<line x1="487.73" y1="234.10" x2="495.54" y2="234.10" stroke="#8a8a8a" stroke-width="0.7"/>
<line x1="487.73" y1="232.90" x2="487.73" y2="235.30" stroke="#8a8a8a" stroke-width="0.7"/>
<line x1="495.54" y1="232.90" x2="495.54" y2="235.30" stroke="#8a8a8a" stroke-width="0.7"/>
<rect x="488.83" y="231.30" width="5.60" height="5.60" fill="#231f20"/>
<line x1="444.42" y1="255.00" x2="468.56" y2="255.00" stroke="#bdbdbd" stroke-width="0.7"/>
<line x1="444.42" y1="253.80" x2="444.42" y2="256.20" stroke="#bdbdbd" stroke-width="0.7"/>
<line x1="468.56" y1="253.80" x2="468.56" y2="256.20" stroke="#bdbdbd" stroke-width="0.7"/>
<rect x="454.19" y="252.70" width="4.60" height="4.60" fill="#231f20"/>
<line x1="523.23" y1="267.40" x2="558.02" y2="267.40" stroke="#8a8a8a" stroke-width="0.7"/>
<line x1="523.23" y1="266.20" x2="523.23" y2="268.60" stroke="#8a8a8a" stroke-width="0.7"/>
<line x1="558.02" y1="266.20" x2="558.02" y2="268.60" stroke="#8a8a8a" stroke-width="0.7"/>
<rect x="539.88" y="266.65" width="1.50" height="1.50" fill="#231f20"/>
<line x1="510.81" y1="280.00" x2="546.30" y2="280.00" stroke="#8a8a8a" stroke-width="0.7"/>
<line x1="510.81" y1="278.80" x2="510.81" y2="281.20" stroke="#8a8a8a" stroke-width="0.7"/>
<line x1="546.30" y1="278.80" x2="546.30" y2="281.20" stroke="#8a8a8a" stroke-width="0.7"/>
<rect x="527.80" y="279.25" width="1.50" height="1.50" fill="#231f20"/>
<line x1="498.38" y1="292.80" x2="528.91" y2="292.80" stroke="#bdbdbd" stroke-width="0.7"/>
<line x1="498.38" y1="291.60" x2="498.38" y2="294.00" stroke="#bdbdbd" stroke-width="0.7"/>
<line x1="528.91" y1="291.60" x2="528.91" y2="294.00" stroke="#bdbdbd" stroke-width="0.7"/>
<circle cx="513.64" cy="292.8" r="1.7" fill="#231f20"/>
<line x1="421.70" y1="298.90" x2="563.70" y2="298.90" stroke="#555" stroke-width="0.7"/>
<line x1="421.70" y1="298.90" x2="421.70" y2="301.00" stroke="#555" stroke-width="0.7"/>
<text x="418.6" y="311.0" font-size="6.8" fill="#3a3a3a" textLength="5.0" lengthAdjust="spacingAndGlyphs">–2</text>
<line x1="457.20" y1="298.90" x2="457.20" y2="301.00" stroke="#555" stroke-width="0.7"/>
<text x="454.1" y="311.0" font-size="6.8" fill="#3a3a3a" textLength="5.0" lengthAdjust="spacingAndGlyphs">–1</text>
<line x1="492.70" y1="298.90" x2="492.70" y2="301.00" stroke="#555" stroke-width="0.7"/>
<text x="491.3" y="311.0" font-size="6.8" fill="#3a3a3a" textLength="2.8" lengthAdjust="spacingAndGlyphs">0</text>
<line x1="528.20" y1="298.90" x2="528.20" y2="301.00" stroke="#555" stroke-width="0.7"/>
<text x="526.8" y="311.0" font-size="6.8" fill="#3a3a3a" textLength="2.8" lengthAdjust="spacingAndGlyphs">1</text>
<line x1="563.70" y1="298.90" x2="563.70" y2="301.00" stroke="#555" stroke-width="0.7"/>
<text x="562.3" y="311.0" font-size="6.8" fill="#3a3a3a" textLength="2.8" lengthAdjust="spacingAndGlyphs">2</text>
<text x="391.3" y="320.8" font-size="8.0" fill="#333" textLength="203.5" lengthAdjust="spacingAndGlyphs">Mean difference fromT/T genotype (per s.d. increase in trait)</text>
</svg>
</body></html>
